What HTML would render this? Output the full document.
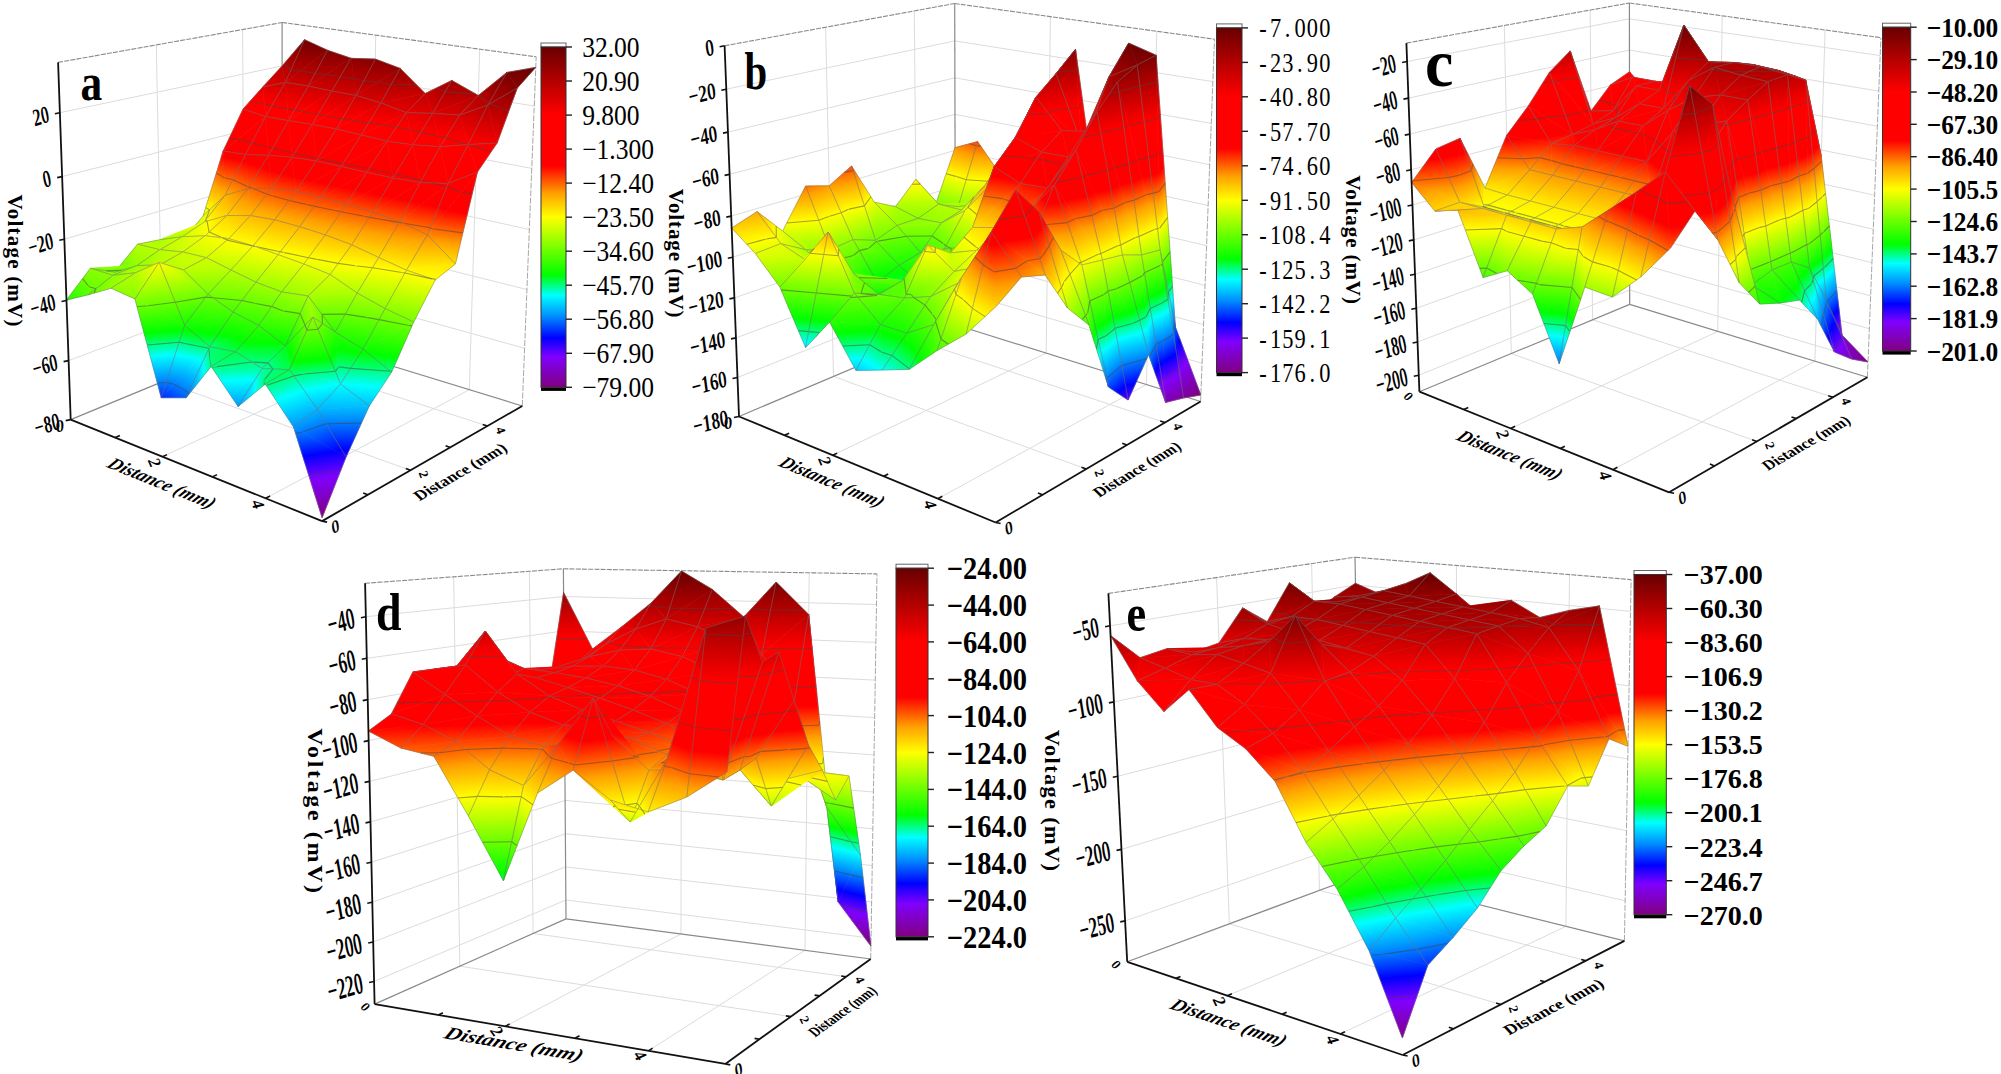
<!DOCTYPE html>
<html><head><meta charset="utf-8"><title>Voltage surface maps</title>
<style>html,body{margin:0;padding:0;background:#fff}svg{display:block}</style></head>
<body><svg width="2001" height="1074" viewBox="0 0 2001 1074">
<defs><linearGradient id="cm" gradientUnits="userSpaceOnUse" x1="0" y1="0" x2="0" y2="-1"><stop offset="0%" stop-color="#800080"/><stop offset="9%" stop-color="#8000ff"/><stop offset="14.5%" stop-color="#0000ff"/><stop offset="21%" stop-color="#0090ff"/><stop offset="27%" stop-color="#00ffff"/><stop offset="33%" stop-color="#00ff00"/><stop offset="50%" stop-color="#ffff00"/><stop offset="57%" stop-color="#ffa000"/><stop offset="65%" stop-color="#ff0000"/><stop offset="80%" stop-color="#ff0000"/><stop offset="90%" stop-color="#b40000"/><stop offset="100%" stop-color="#680000"/></linearGradient>
<linearGradient id="g1" href="#cm" x1="91.1" y1="467.3" x2="296.2" y2="13.1"/>
<linearGradient id="g2" href="#cm" x1="73.2" y1="313.7" x2="318.5" y2="46"/>
<linearGradient id="g3" href="#cm" x1="229.2" y1="413.3" x2="294" y2="30.4"/>
<linearGradient id="g4" href="#cm" x1="254.7" y1="393.6" x2="290" y2="33.5"/>
<linearGradient id="g5" href="#cm" x1="254.6" y1="428.5" x2="316.7" y2="32.5"/>
<linearGradient id="g6" href="#cm" x1="272.1" y1="412.8" x2="313.9" y2="35"/>
<linearGradient id="g7" href="#cm" x1="275.4" y1="432.8" x2="341" y2="36.2"/>
<linearGradient id="g8" href="#cm" x1="295.8" y1="434.8" x2="365.9" y2="40.5"/>
<linearGradient id="g9" href="#cm" x1="308.1" y1="442.3" x2="363.9" y2="39.3"/>
<linearGradient id="g10" href="#cm" x1="321" y1="429.5" x2="361.8" y2="41.4"/>
<linearGradient id="g11" href="#cm" x1="349.7" y1="510.6" x2="386.4" y2="31.4"/>
<linearGradient id="g12" href="#cm" x1="374.8" y1="430.6" x2="382" y2="45.5"/>
<linearGradient id="g13" href="#cm" x1="284.8" y1="554.4" x2="430.5" y2="25.1"/>
<linearGradient id="g14" href="#cm" x1="257.7" y1="460.6" x2="464.4" y2="50.2"/>
<linearGradient id="g15" href="#cm" x1="325.3" y1="567.7" x2="452.2" y2="30.7"/>
<linearGradient id="g16" href="#cm" x1="409.3" y1="461.6" x2="436.9" y2="50"/>
<linearGradient id="g17" href="#cm" x1="75.5" y1="502.2" x2="525.2" y2="49.1"/>
<linearGradient id="g18" href="#cm" x1="196.7" y1="398.1" x2="521.5" y2="71.2"/>
<linearGradient id="g19" href="#cm" x1="285.6" y1="480.8" x2="511.2" y2="61.7"/>
<linearGradient id="g20" href="#cm" x1="315.9" y1="609.2" x2="526.2" y2="64.8"/>
<linearGradient id="g21" href="#cm" x1="199.8" y1="446.6" x2="255.3" y2="14.6"/>
<linearGradient id="g22" href="#cm" x1="170.8" y1="419.6" x2="293.8" y2="26.5"/>
<linearGradient id="g23" href="#cm" x1="207.2" y1="418.6" x2="283" y2="26.8"/>
<linearGradient id="g24" href="#cm" x1="236.8" y1="426.2" x2="303.9" y2="30.2"/>
<linearGradient id="g25" href="#cm" x1="226.8" y1="435.5" x2="306.9" y2="27.5"/>
<linearGradient id="g26" href="#cm" x1="240.8" y1="425.4" x2="302.7" y2="30.5"/>
<linearGradient id="g27" href="#cm" x1="251.5" y1="445" x2="330" y2="30.7"/>
<linearGradient id="g28" href="#cm" x1="260.5" y1="438.3" x2="327.3" y2="32.6"/>
<linearGradient id="g29" href="#cm" x1="279.2" y1="458.5" x2="353.2" y2="32.7"/>
<linearGradient id="g30" href="#cm" x1="293.3" y1="445.8" x2="349" y2="36.4"/>
<linearGradient id="g31" href="#cm" x1="303.3" y1="480.9" x2="378.6" y2="31.6"/>
<linearGradient id="g32" href="#cm" x1="324.6" y1="457.4" x2="372.3" y2="38.7"/>
<linearGradient id="g33" href="#cm" x1="313.8" y1="488.8" x2="409.2" y2="34.9"/>
<linearGradient id="g34" href="#cm" x1="333.3" y1="489.5" x2="437" y2="41.8"/>
<linearGradient id="g35" href="#cm" x1="333.6" y1="489.4" x2="436.9" y2="41.8"/>
<linearGradient id="g36" href="#cm" x1="366.3" y1="500.5" x2="461.2" y2="46.4"/>
<linearGradient id="g37" href="#cm" x1="335.6" y1="502.4" x2="469.9" y2="45.9"/>
<linearGradient id="g38" href="#cm" x1="342.4" y1="485.6" x2="499.7" y2="59.3"/>
<linearGradient id="g39" href="#cm" x1="381.5" y1="491" x2="489.9" y2="58"/>
<linearGradient id="g40" href="#cm" x1="383" y1="470.7" x2="522.3" y2="70.6"/>
<linearGradient id="g41" href="#cm" x1="163.2" y1="411.7" x2="253.5" y2="19"/>
<linearGradient id="g42" href="#cm" x1="184.6" y1="399.7" x2="242.7" y2="25.1"/>
<linearGradient id="g43" href="#cm" x1="175.2" y1="416.7" x2="280.5" y2="24.1"/>
<linearGradient id="g44" href="#cm" x1="214.6" y1="433" x2="293.8" y2="25"/>
<linearGradient id="g45" href="#cm" x1="198.1" y1="434.4" x2="301.5" y2="24.3"/>
<linearGradient id="g46" href="#cm" x1="234.6" y1="448.4" x2="318" y2="26.3"/>
<linearGradient id="g47" href="#cm" x1="225.8" y1="449.5" x2="321.9" y2="25.8"/>
<linearGradient id="g48" href="#cm" x1="259.5" y1="460.6" x2="341.5" y2="28.7"/>
<linearGradient id="g49" href="#cm" x1="252.9" y1="468.9" x2="344.4" y2="25.1"/>
<linearGradient id="g50" href="#cm" x1="264.7" y1="459.5" x2="339.2" y2="29.2"/>
<linearGradient id="g51" href="#cm" x1="279.2" y1="480.5" x2="368.7" y2="27.3"/>
<linearGradient id="g52" href="#cm" x1="289.6" y1="471.7" x2="364.1" y2="31.2"/>
<linearGradient id="g53" href="#cm" x1="301.6" y1="486.2" x2="396" y2="32.2"/>
<linearGradient id="g54" href="#cm" x1="327.3" y1="491.2" x2="422.6" y2="37.8"/>
<linearGradient id="g55" href="#cm" x1="322.9" y1="491.7" x2="424.5" y2="37.6"/>
<linearGradient id="g56" href="#cm" x1="347.4" y1="496" x2="452.3" y2="44.3"/>
<linearGradient id="g57" href="#cm" x1="335.3" y1="496.3" x2="457.6" y2="44.2"/>
<linearGradient id="g58" href="#cm" x1="358" y1="500" x2="485.4" y2="52.8"/>
<linearGradient id="g59" href="#cm" x1="304.6" y1="486.7" x2="507.5" y2="58.2"/>
<linearGradient id="g60" href="#cm" x1="356.7" y1="555.5" x2="516.3" y2="48.2"/>
<linearGradient id="g61" href="#cm" x1="117.4" y1="359.2" x2="297.6" y2="58.1"/>
<linearGradient id="g62" href="#cm" x1="174.3" y1="415.7" x2="265.2" y2="21"/>
<linearGradient id="g63" href="#cm" x1="127.6" y1="406.5" x2="302.2" y2="28.3"/>
<linearGradient id="g64" href="#cm" x1="173.2" y1="443.6" x2="298.6" y2="15.8"/>
<linearGradient id="g65" href="#cm" x1="161" y1="442.8" x2="306.9" y2="16.3"/>
<linearGradient id="g66" href="#cm" x1="197.7" y1="462.8" x2="318" y2="15.4"/>
<linearGradient id="g67" href="#cm" x1="197.9" y1="462.8" x2="317.9" y2="15.4"/>
<linearGradient id="g68" href="#cm" x1="229.9" y1="474.9" x2="336.1" y2="18.1"/>
<linearGradient id="g69" href="#cm" x1="230" y1="479.4" x2="336.1" y2="15.4"/>
<linearGradient id="g70" href="#cm" x1="237.7" y1="473.6" x2="331.3" y2="18.9"/>
<linearGradient id="g71" href="#cm" x1="260.3" y1="486.7" x2="357.7" y2="20.1"/>
<linearGradient id="g72" href="#cm" x1="264.3" y1="483.4" x2="355.2" y2="22.1"/>
<linearGradient id="g73" href="#cm" x1="289.5" y1="489.8" x2="381.6" y2="26.9"/>
<linearGradient id="g74" href="#cm" x1="286.5" y1="492.1" x2="383.5" y2="25.5"/>
<linearGradient id="g75" href="#cm" x1="320.7" y1="487.8" x2="405.6" y2="37"/>
<linearGradient id="g76" href="#cm" x1="308.8" y1="496.1" x2="413.3" y2="31.7"/>
<linearGradient id="g77" href="#cm" x1="354.9" y1="479.2" x2="429.3" y2="51.4"/>
<linearGradient id="g78" href="#cm" x1="326.1" y1="493.7" x2="448.4" y2="41.7"/>
<linearGradient id="g79" href="#cm" x1="395.3" y1="465.6" x2="450.3" y2="69.8"/>
<linearGradient id="g80" href="#cm" x1="332" y1="475.6" x2="495.7" y2="62.6"/>
<linearGradient id="g81" href="#cm" x1="116.9" y1="213.9" x2="273.1" y2="278.6"/>
<linearGradient id="g82" href="#cm" x1="129.8" y1="194.1" x2="279.8" y2="250.8"/>
<linearGradient id="g83" href="#cm" x1="22.4" y1="414.4" x2="389.5" y2="25.8"/>
<linearGradient id="g84" href="#cm" x1="31.1" y1="428.4" x2="398.3" y2="29.1"/>
<linearGradient id="g85" href="#cm" x1="116.1" y1="473.3" x2="323.9" y2="-10.2"/>
<linearGradient id="g86" href="#cm" x1="138.7" y1="485.2" x2="341.6" y2="-4.3"/>
<linearGradient id="g87" href="#cm" x1="173" y1="485.7" x2="313.6" y2="-4.8"/>
<linearGradient id="g88" href="#cm" x1="197.6" y1="493.3" x2="336.4" y2="1.4"/>
<linearGradient id="g89" href="#cm" x1="211.2" y1="492.3" x2="325.5" y2="2.2"/>
<linearGradient id="g90" href="#cm" x1="212.6" y1="491.1" x2="324.4" y2="3.1"/>
<linearGradient id="g91" href="#cm" x1="242.5" y1="498" x2="345.7" y2="8.2"/>
<linearGradient id="g92" href="#cm" x1="244" y1="496.7" x2="344.5" y2="9.2"/>
<linearGradient id="g93" href="#cm" x1="274.2" y1="501.9" x2="367.4" y2="15"/>
<linearGradient id="g94" href="#cm" x1="273.5" y1="502.5" x2="368" y2="14.5"/>
<linearGradient id="g95" href="#cm" x1="309.4" y1="502.4" x2="387.9" y2="24.2"/>
<linearGradient id="g96" href="#cm" x1="305.5" y1="506.2" x2="391.1" y2="21"/>
<linearGradient id="g97" href="#cm" x1="335.6" y1="514" x2="418.2" y2="22.6"/>
<linearGradient id="g98" href="#cm" x1="343.1" y1="505.9" x2="411.3" y2="30"/>
<linearGradient id="g99" href="#cm" x1="347.8" y1="711" x2="463.9" y2="-160.1"/>
<linearGradient id="g100" href="#cm" x1="404.6" y1="504" x2="408.4" y2="42"/>
<linearGradient id="g101" href="#cm" x1="-172" y1="172.7" x2="577.6" y2="323.9"/>
<linearGradient id="g102" href="#cm" x1="174.4" y1="323.3" x2="142.2" y2="134.7"/>
<linearGradient id="g103" href="#cm" x1="-285.4" y1="356" x2="708.1" y2="102.8"/>
<linearGradient id="g104" href="#cm" x1="-93.8" y1="291" x2="513.2" y2="178.9"/>
<linearGradient id="g105" href="#cm" x1="74.3" y1="539.2" x2="340" y2="-76.7"/>
<linearGradient id="g106" href="#cm" x1="76.5" y1="519.7" x2="379.6" y2="-39.5"/>
<linearGradient id="g107" href="#cm" x1="161.3" y1="518.1" x2="295.6" y2="-37.8"/>
<linearGradient id="g108" href="#cm" x1="173" y1="514.9" x2="333.1" y2="-22.8"/>
<linearGradient id="g109" href="#cm" x1="198.1" y1="505.7" x2="308" y2="-13.6"/>
<linearGradient id="g110" href="#cm" x1="191.9" y1="511.5" x2="314.2" y2="-19.4"/>
<linearGradient id="g111" href="#cm" x1="224" y1="512.3" x2="333.5" y2="-9.3"/>
<linearGradient id="g112" href="#cm" x1="225.7" y1="510.7" x2="331.8" y2="-7.7"/>
<linearGradient id="g113" href="#cm" x1="253.9" y1="520.5" x2="356.4" y2="-6.6"/>
<linearGradient id="g114" href="#cm" x1="258.2" y1="515.8" x2="351.8" y2="-1.7"/>
<linearGradient id="g115" href="#cm" x1="305.1" y1="506.9" x2="357.7" y2="19.5"/>
<linearGradient id="g116" href="#cm" x1="295.3" y1="521.6" x2="368.4" y2="3.4"/>
<linearGradient id="g117" href="#cm" x1="321.8" y1="512.4" x2="401.5" y2="19.6"/>
<linearGradient id="g118" href="#cm" x1="320.6" y1="513.6" x2="402.9" y2="18.1"/>
<linearGradient id="g119" href="#cm" x1="342.7" y1="516.2" x2="442.8" y2="25.7"/>
<linearGradient id="g120" href="#cm" x1="339.1" y1="518.9" x2="447.7" y2="22.1"/>
<linearGradient id="g121" href="#cm" x1="194.5" y1="-177.6" x2="68.1" y2="757.7"/>
<linearGradient id="g122" href="#cm" x1="-42.4" y1="91.2" x2="403.6" y2="440.5"/>
<linearGradient id="g123" href="#cm" x1="-419.4" y1="606.8" x2="857.9" y2="-180.8"/>
<linearGradient id="g124" href="#cm" x1="-248.7" y1="418.4" x2="677.9" y2="61.2"/>
<linearGradient id="g125" href="#cm" x1="55.1" y1="622.7" x2="329.3" y2="-173.3"/>
<linearGradient id="g126" href="#cm" x1="42.1" y1="589.7" x2="392.9" y2="-119"/>
<linearGradient id="g127" href="#cm" x1="172.6" y1="516.7" x2="244.9" y2="-36.1"/>
<linearGradient id="g128" href="#cm" x1="133.6" y1="573" x2="289.1" y2="-100"/>
<linearGradient id="g129" href="#cm" x1="192.1" y1="512.6" x2="277.9" y2="-23.8"/>
<linearGradient id="g130" href="#cm" x1="179.7" y1="528.2" x2="292.8" y2="-42.7"/>
<linearGradient id="g131" href="#cm" x1="202" y1="525.9" x2="325.3" y2="-31.3"/>
<linearGradient id="g132" href="#cm" x1="207.4" y1="520.4" x2="318.3" y2="-24.2"/>
<linearGradient id="g133" href="#cm" x1="136.1" y1="598.5" x2="474.1" y2="-113.7"/>
<linearGradient id="g134" href="#cm" x1="237.5" y1="529.3" x2="340" y2="-22.2"/>
<linearGradient id="g135" href="#cm" x1="310.9" y1="499.6" x2="304.6" y2="37.1"/>
<linearGradient id="g136" href="#cm" x1="308.6" y1="554" x2="307.5" y2="-32.1"/>
<linearGradient id="g137" href="#cm" x1="304.9" y1="512.9" x2="388.5" y2="12.5"/>
<linearGradient id="g138" href="#cm" x1="306.6" y1="511.3" x2="385.7" y2="15.5"/>
<linearGradient id="g139" href="#cm" x1="339.8" y1="509.3" x2="408.8" y2="34.5"/>
<linearGradient id="g140" href="#cm" x1="329.4" y1="518.7" x2="429.1" y2="16"/>
<linearGradient id="g141" href="#cm" x1="-62.1" y1="390.3" x2="393.6" y2="86"/>
<linearGradient id="g142" href="#cm" x1="9.1" y1="628.3" x2="307.4" y2="-218.7"/>
<linearGradient id="g143" href="#cm" x1="-295" y1="372.9" x2="713.2" y2="122.3"/>
<linearGradient id="g144" href="#cm" x1="-525.9" y1="556.8" x2="998.4" y2="-91.8"/>
<linearGradient id="g145" href="#cm" x1="-201.7" y1="822.2" x2="601.8" y2="-416.5"/>
<linearGradient id="g146" href="#cm" x1="-118.8" y1="941.2" x2="544.1" y2="-531.8"/>
<linearGradient id="g147" href="#cm" x1="191.3" y1="499.6" x2="173.9" y2="-4.5"/>
<linearGradient id="g148" href="#cm" x1="206.5" y1="654.9" x2="155.8" y2="-189.9"/>
<linearGradient id="g149" href="#cm" x1="188.2" y1="504.9" x2="237" y2="-14.2"/>
<linearGradient id="g150" href="#cm" x1="175.9" y1="528.7" x2="255.1" y2="-49.2"/>
<linearGradient id="g151" href="#cm" x1="195.4" y1="509.1" x2="295.8" y2="-14.6"/>
<linearGradient id="g152" href="#cm" x1="187.1" y1="517" x2="309.5" y2="-27.7"/>
<linearGradient id="g153" href="#cm" x1="232.3" y1="490.7" x2="306.2" y2="32.5"/>
<linearGradient id="g154" href="#cm" x1="187.4" y1="516" x2="385.7" y2="-12.3"/>
<linearGradient id="g155" href="#cm" x1="178.9" y1="391.4" x2="505.5" y2="252.2"/>
<linearGradient id="g156" href="#cm" x1="449" y1="309.4" x2="131.7" y2="327.1"/>
<linearGradient id="g157" href="#cm" x1="446.5" y1="422.7" x2="135" y2="176.4"/>
<linearGradient id="g158" href="#cm" x1="321.5" y1="532.4" x2="392" y2="-17.6"/>
<linearGradient id="g159" href="#cm" x1="327.1" y1="536.7" x2="376.9" y2="-29.2"/>
<linearGradient id="g160" href="#cm" x1="330.2" y1="528.9" x2="368.3" y2="-8.3"/>
<linearGradient id="g161" href="#cm" x1="-174.5" y1="1360.8" x2="451.6" y2="-1220.9"/>
<linearGradient id="g162" href="#cm" x1="93" y1="328" x2="86.9" y2="186.9"/>
<linearGradient id="g163" href="#cm" x1="63.5" y1="172.4" x2="180.3" y2="416"/>
<linearGradient id="g164" href="#cm" x1="96.4" y1="146.3" x2="183.7" y2="427"/>
<linearGradient id="g165" href="#cm" x1="139.1" y1="357.7" x2="131.6" y2="169.1"/>
<linearGradient id="g166" href="#cm" x1="-69.4" y1="-504.4" x2="385.9" y2="1220.5"/>
<linearGradient id="g167" href="#cm" x1="194.1" y1="468.8" x2="124.2" y2="56.3"/>
<linearGradient id="g168" href="#cm" x1="437.4" y1="308.5" x2="-118.7" y2="216.3"/>
<linearGradient id="g169" href="#cm" x1="169.8" y1="497.8" x2="213.1" y2="-6.5"/>
<linearGradient id="g170" href="#cm" x1="167.6" y1="502.2" x2="217.1" y2="-15.1"/>
<linearGradient id="g171" href="#cm" x1="112.1" y1="543.5" x2="433.5" y2="-103.7"/>
<linearGradient id="g172" href="#cm" x1="179.2" y1="505.8" x2="279.7" y2="-17.4"/>
<linearGradient id="g173" href="#cm" x1="223.6" y1="566.3" x2="261.4" y2="-117.7"/>
<linearGradient id="g174" href="#cm" x1="230.6" y1="531.4" x2="246.1" y2="-41.2"/>
<linearGradient id="g175" href="#cm" x1="56.1" y1="546.1" x2="762.9" y2="-63.4"/>
<linearGradient id="g176" href="#cm" x1="187.5" y1="408.2" x2="513.3" y2="285.1"/>
<linearGradient id="g177" href="#cm" x1="318.6" y1="534.5" x2="225.2" y2="7.5"/>
<linearGradient id="g178" href="#cm" x1="301.1" y1="504.9" x2="263.7" y2="72.7"/>
<linearGradient id="g179" href="#cm" x1="319.5" y1="519" x2="310.4" y2="43.6"/>
<linearGradient id="g180" href="#cm" x1="317.8" y1="558.4" x2="316.2" y2="-87.9"/>
<linearGradient id="g181" href="#cm" x1="-83.2" y1="423.2" x2="341" y2="74"/>
<linearGradient id="g182" href="#cm" x1="3.5" y1="585.6" x2="221.4" y2="-160.5"/>
<linearGradient id="g183" href="#cm" x1="-77.8" y1="225.6" x2="348.6" y2="402.9"/>
<linearGradient id="g184" href="#cm" x1="-138.4" y1="147.4" x2="442.2" y2="475"/>
<linearGradient id="g185" href="#cm" x1="72" y1="658.5" x2="163" y2="-203"/>
<linearGradient id="g186" href="#cm" x1="-41.1" y1="417.9" x2="377.9" y2="135"/>
<linearGradient id="g187" href="#cm" x1="149.4" y1="462.3" x2="115.2" y2="73.7"/>
<linearGradient id="g188" href="#cm" x1="157.4" y1="471.8" x2="104.1" y2="60.7"/>
<linearGradient id="g189" href="#cm" x1="121.4" y1="465.3" x2="367.3" y2="48.9"/>
<linearGradient id="g190" href="#cm" x1="147.7" y1="464.6" x2="231.8" y2="52.4"/>
<linearGradient id="g191" href="#cm" x1="138.7" y1="403" x2="390.1" y2="374.7"/>
<linearGradient id="g192" href="#cm" x1="-404.5" y1="640.2" x2="1640.5" y2="-269.2"/>
<linearGradient id="g193" href="#cm" x1="218.8" y1="513.3" x2="193.6" y2="25.5"/>
<linearGradient id="g194" href="#cm" x1="246.7" y1="635.6" x2="128.8" y2="-258.4"/>
<linearGradient id="g195" href="#cm" x1="171.7" y1="404.9" x2="478.6" y2="412.1"/>
<linearGradient id="g196" href="#cm" x1="19.7" y1="187.5" x2="829.8" y2="835.6"/>
<linearGradient id="g197" href="#cm" x1="319.9" y1="545.3" x2="139.8" y2="13.3"/>
<linearGradient id="g198" href="#cm" x1="322.8" y1="546.7" x2="133.1" y2="10.1"/>
<linearGradient id="g199" href="#cm" x1="307.3" y1="520" x2="243.5" y2="86.5"/>
<linearGradient id="g200" href="#cm" x1="332.1" y1="535.7" x2="152.8" y2="29"/>
<linearGradient id="cba" href="#cm" x1="0" y1="387.3" x2="0" y2="47"/>
<linearGradient id="g201" href="#cm" x1="896.9" y1="345.7" x2="991.7" y2="0.8"/>
<linearGradient id="g202" href="#cm" x1="913.7" y1="348.2" x2="1019.8" y2="11.4"/>
<linearGradient id="g203" href="#cm" x1="859.6" y1="383.4" x2="1094.6" y2="-37.1"/>
<linearGradient id="g204" href="#cm" x1="948.3" y1="351.2" x2="972.1" y2="7.3"/>
<linearGradient id="g205" href="#cm" x1="977.8" y1="201" x2="985.5" y2="206"/>
<linearGradient id="g206" href="#cm" x1="1020.4" y1="204.4" x2="993.9" y2="142.9"/>
<linearGradient id="g207" href="#cm" x1="1046.4" y1="283.3" x2="974.8" y2="84.9"/>
<linearGradient id="g208" href="#cm" x1="1078.1" y1="274.4" x2="1011.2" y2="70.8"/>
<linearGradient id="g209" href="#cm" x1="1083.6" y1="297.7" x2="1009" y2="61.6"/>
<linearGradient id="g210" href="#cm" x1="1146" y1="255.5" x2="1045.5" y2="52.7"/>
<linearGradient id="g211" href="#cm" x1="1095.8" y1="407.2" x2="1051.3" y2="35.1"/>
<linearGradient id="g212" href="#cm" x1="1214.1" y1="230.5" x2="1025.9" y2="105.4"/>
<linearGradient id="g213" href="#cm" x1="1150.1" y1="220.7" x2="1052.4" y2="109.4"/>
<linearGradient id="g214" href="#cm" x1="1118.5" y1="357.3" x2="1065.4" y2="52.9"/>
<linearGradient id="g215" href="#cm" x1="951.3" y1="469.4" x2="1124.1" y2="39.3"/>
<linearGradient id="g216" href="#cm" x1="1179.9" y1="645.4" x2="1135.4" y2="40.3"/>
<linearGradient id="g217" href="#cm" x1="1220.1" y1="396.9" x2="1133.6" y2="50.9"/>
<linearGradient id="g218" href="#cm" x1="1239.8" y1="310.3" x2="1058.9" y2="173.3"/>
<linearGradient id="g219" href="#cm" x1="1194.4" y1="252.2" x2="1116.5" y2="247.2"/>
<linearGradient id="g220" href="#cm" x1="1187.8" y1="403.5" x2="957.6" y2="109.6"/>
<linearGradient id="g221" href="#cm" x1="902.2" y1="193.6" x2="928.7" y2="165.7"/>
<linearGradient id="g222" href="#cm" x1="938.6" y1="203.4" x2="938.3" y2="205.2"/>
<linearGradient id="g223" href="#cm" x1="939.5" y1="249.3" x2="937.3" y2="149"/>
<linearGradient id="g224" href="#cm" x1="985.8" y1="281.3" x2="931.9" y2="122.7"/>
<linearGradient id="g225" href="#cm" x1="1024.1" y1="255.7" x2="953.3" y2="125.8"/>
<linearGradient id="g226" href="#cm" x1="1026" y1="261.3" x2="951.8" y2="121.2"/>
<linearGradient id="g227" href="#cm" x1="1063.5" y1="230.2" x2="984.2" y2="109.5"/>
<linearGradient id="g228" href="#cm" x1="1073" y1="265.1" x2="979.6" y2="92.5"/>
<linearGradient id="g229" href="#cm" x1="1116.6" y1="237.3" x2="1020.8" y2="71"/>
<linearGradient id="g230" href="#cm" x1="1374.1" y1="222" x2="972.7" y2="73.8"/>
<linearGradient id="g231" href="#cm" x1="1082.3" y1="411.4" x2="1027.3" y2="38.4"/>
<linearGradient id="g232" href="#cm" x1="1046.7" y1="264.2" x2="1066.6" y2="88.2"/>
<linearGradient id="g233" href="#cm" x1="1011.8" y1="122.7" x2="1111.4" y2="134"/>
<linearGradient id="g234" href="#cm" x1="874" y1="268" x2="1152.2" y2="91"/>
<linearGradient id="g235" href="#cm" x1="540.1" y1="117.5" x2="1163.6" y2="79.2"/>
<linearGradient id="g236" href="#cm" x1="1252.9" y1="377.4" x2="1106.7" y2="58.4"/>
<linearGradient id="g237" href="#cm" x1="1196.8" y1="402.7" x2="1111.2" y2="56.4"/>
<linearGradient id="g238" href="#cm" x1="1206.8" y1="397.8" x2="1061.5" y2="80.1"/>
<linearGradient id="g239" href="#cm" x1="1172.1" y1="412.5" x2="996.5" y2="138.4"/>
<linearGradient id="g240" href="#cm" x1="892" y1="478.3" x2="899.8" y2="-132.5"/>
<linearGradient id="g241" href="#cm" x1="897.5" y1="385.9" x2="892.9" y2="-17"/>
<linearGradient id="g242" href="#cm" x1="784.2" y1="564.1" x2="1098.5" y2="-247.3"/>
<linearGradient id="g243" href="#cm" x1="844.7" y1="609.7" x2="1068.8" y2="-288"/>
<linearGradient id="g244" href="#cm" x1="924.5" y1="199.5" x2="963.4" y2="253.9"/>
<linearGradient id="g245" href="#cm" x1="927.5" y1="189.9" x2="1004.5" y2="232.4"/>
<linearGradient id="g246" href="#cm" x1="907.6" y1="184.5" x2="1025.3" y2="238.1"/>
<linearGradient id="g247" href="#cm" x1="915.6" y1="169.5" x2="1043" y2="197.6"/>
<linearGradient id="g248" href="#cm" x1="1002.2" y1="193.7" x2="980.6" y2="180.2"/>
<linearGradient id="g249" href="#cm" x1="1026" y1="143.3" x2="1011.6" y2="135.2"/>
<linearGradient id="g250" href="#cm" x1="1000.4" y1="509.8" x2="1020.5" y2="7.7"/>
<linearGradient id="g251" href="#cm" x1="1014.6" y1="433.6" x2="1015.6" y2="34.2"/>
<linearGradient id="g252" href="#cm" x1="950.1" y1="552.3" x2="1077.9" y2="-7.8"/>
<linearGradient id="g253" href="#cm" x1="952.4" y1="534.9" x2="1114.2" y2="7.5"/>
<linearGradient id="g254" href="#cm" x1="1117.4" y1="212.5" x2="1048.9" y2="135.1"/>
<linearGradient id="g255" href="#cm" x1="1148.7" y1="160.4" x2="1088.5" y2="104"/>
<linearGradient id="g256" href="#cm" x1="1237.1" y1="388.5" x2="1074" y2="66.4"/>
<linearGradient id="g257" href="#cm" x1="1167" y1="417.5" x2="1085.5" y2="61.6"/>
<linearGradient id="g258" href="#cm" x1="1207.3" y1="412.8" x2="1027.9" y2="79.4"/>
<linearGradient id="g259" href="#cm" x1="1188.5" y1="375.1" x2="997.2" y2="277.1"/>
<linearGradient id="g260" href="#cm" x1="1113.9" y1="339.1" x2="615.5" y2="54.1"/>
<linearGradient id="g261" href="#cm" x1="1029.8" y1="621" x2="718.4" y2="-307.4"/>
<linearGradient id="g262" href="#cm" x1="899.2" y1="405.2" x2="894.2" y2="-16.8"/>
<linearGradient id="g263" href="#cm" x1="567.4" y1="-757.5" x2="1341.3" y2="1549.7"/>
<linearGradient id="g264" href="#cm" x1="815.9" y1="408" x2="1105.8" y2="-22.4"/>
<linearGradient id="g265" href="#cm" x1="825.8" y1="375.7" x2="1127.9" y2="52.9"/>
<linearGradient id="g266" href="#cm" x1="867.7" y1="410.9" x2="1063" y2="-1.7"/>
<linearGradient id="g267" href="#cm" x1="868.4" y1="366.4" x2="1107.2" y2="81.2"/>
<linearGradient id="g268" href="#cm" x1="984.9" y1="254.1" x2="946.5" y2="236.2"/>
<linearGradient id="g269" href="#cm" x1="1048.4" y1="228.2" x2="968.2" y2="137"/>
<linearGradient id="g270" href="#cm" x1="969.2" y1="478.8" x2="1006.3" y2="16.4"/>
<linearGradient id="g271" href="#cm" x1="969.3" y1="478.6" x2="1006.2" y2="16.5"/>
<linearGradient id="g272" href="#cm" x1="940" y1="495.9" x2="1065" y2="10.4"/>
<linearGradient id="g273" href="#cm" x1="975.8" y1="509.6" x2="1086.3" y2="13.4"/>
<linearGradient id="g274" href="#cm" x1="1010.2" y1="168.8" x2="1067.6" y2="198.4"/>
<linearGradient id="g275" href="#cm" x1="1009.8" y1="127.7" x2="1095.5" y2="156.6"/>
<linearGradient id="g276" href="#cm" x1="1200.5" y1="420" x2="1038.9" y2="69.8"/>
<linearGradient id="g277" href="#cm" x1="1134.5" y1="434.7" x2="1058.5" y2="65.5"/>
<linearGradient id="g278" href="#cm" x1="1151.4" y1="435.7" x2="1050.1" y2="72.2"/>
<linearGradient id="g279" href="#cm" x1="1179.9" y1="428.4" x2="1019.6" y2="79.9"/>
<linearGradient id="g280" href="#cm" x1="1000.1" y1="271.9" x2="757.8" y2="99.2"/>
<linearGradient id="g281" href="#cm" x1="905.2" y1="433.4" x2="831.5" y2="-46.2"/>
<linearGradient id="g282" href="#cm" x1="919.3" y1="444" x2="810.6" y2="-62"/>
<linearGradient id="g283" href="#cm" x1="906.9" y1="427.5" x2="829" y2="-37.5"/>
<linearGradient id="g284" href="#cm" x1="885.5" y1="415.3" x2="924.7" y2="-18.4"/>
<linearGradient id="g285" href="#cm" x1="768.6" y1="151.8" x2="1146.2" y2="480.8"/>
<linearGradient id="g286" href="#cm" x1="836.8" y1="298.3" x2="1122.6" y2="259.9"/>
<linearGradient id="g287" href="#cm" x1="604.6" y1="240.2" x2="1468.7" y2="296.1"/>
<linearGradient id="g288" href="#cm" x1="976.1" y1="314.5" x2="903.7" y2="183"/>
<linearGradient id="g289" href="#cm" x1="996.7" y1="239.5" x2="950.4" y2="216.2"/>
<linearGradient id="g290" href="#cm" x1="890.6" y1="454.7" x2="1048.4" y2="17.3"/>
<linearGradient id="g291" href="#cm" x1="942" y1="436.7" x2="1000.9" y2="34"/>
<linearGradient id="g292" href="#cm" x1="854.4" y1="429.8" x2="1122.6" y2="54.3"/>
<linearGradient id="g293" href="#cm" x1="930.8" y1="558" x2="1090.1" y2="-18.6"/>
<linearGradient id="g294" href="#cm" x1="979.8" y1="184.4" x2="1057.1" y2="233"/>
<linearGradient id="g295" href="#cm" x1="975.5" y1="158.2" x2="1088.9" y2="196.8"/>
<linearGradient id="g296" href="#cm" x1="1179.1" y1="447.6" x2="999.4" y2="69.4"/>
<linearGradient id="g297" href="#cm" x1="1107.5" y1="452.6" x2="1030.9" y2="67.3"/>
<linearGradient id="g298" href="#cm" x1="1160.4" y1="437.9" x2="1001.2" y2="87.7"/>
<linearGradient id="g299" href="#cm" x1="1145.8" y1="431.3" x2="933.9" y2="179.7"/>
<linearGradient id="g300" href="#cm" x1="929.7" y1="395.9" x2="754.2" y2="29"/>
<linearGradient id="g301" href="#cm" x1="871.5" y1="392.6" x2="797.6" y2="31.5"/>
<linearGradient id="g302" href="#cm" x1="895" y1="419.6" x2="797" y2="-0.9"/>
<linearGradient id="g303" href="#cm" x1="1024.2" y1="433.2" x2="624.3" y2="-19.1"/>
<linearGradient id="g304" href="#cm" x1="892.5" y1="204.2" x2="844.1" y2="448"/>
<linearGradient id="g305" href="#cm" x1="896.1" y1="454.9" x2="836.3" y2="-86"/>
<linearGradient id="g306" href="#cm" x1="900.8" y1="271.7" x2="901" y2="321.9"/>
<linearGradient id="g307" href="#cm" x1="903.6" y1="274.7" x2="967.2" y2="315.8"/>
<linearGradient id="g308" href="#cm" x1="940.4" y1="303.8" x2="896.8" y2="260"/>
<linearGradient id="g309" href="#cm" x1="971.4" y1="274.7" x2="927" y2="228.1"/>
<linearGradient id="g310" href="#cm" x1="753.8" y1="496" x2="1173.1" y2="-22.1"/>
<linearGradient id="g311" href="#cm" x1="776.3" y1="563.2" x2="1179.7" y2="-66.4"/>
<linearGradient id="g312" href="#cm" x1="738.7" y1="543.6" x2="1217.7" y2="-46.6"/>
<linearGradient id="g313" href="#cm" x1="793.1" y1="410.4" x2="1197.9" y2="100.5"/>
<linearGradient id="g314" href="#cm" x1="823.9" y1="464.9" x2="1169.6" y2="50.3"/>
<linearGradient id="g315" href="#cm" x1="853.6" y1="391.7" x2="1167.5" y2="123.2"/>
<linearGradient id="g316" href="#cm" x1="1011.1" y1="300.8" x2="1047.8" y2="192.3"/>
<linearGradient id="g317" href="#cm" x1="1054.1" y1="470.9" x2="1015" y2="63"/>
<linearGradient id="g318" href="#cm" x1="1223.3" y1="399.4" x2="932.2" y2="132"/>
<linearGradient id="g319" href="#cm" x1="1143.4" y1="334" x2="999.4" y2="310.1"/>
<linearGradient id="g320" href="#cm" x1="886.2" y1="407" x2="750.3" y2="33.9"/>
<linearGradient id="g321" href="#cm" x1="879.6" y1="412.2" x2="761.7" y2="26"/>
<linearGradient id="g322" href="#cm" x1="887.2" y1="475.4" x2="751.1" y2="-61.2"/>
<linearGradient id="g323" href="#cm" x1="958" y1="398.4" x2="672.7" y2="61.2"/>
<linearGradient id="g324" href="#cm" x1="978.4" y1="211.2" x2="637.3" y2="386.8"/>
<linearGradient id="g325" href="#cm" x1="899.2" y1="-37.6" x2="835.3" y2="963.3"/>
<linearGradient id="g326" href="#cm" x1="882.1" y1="358.4" x2="870" y2="164.2"/>
<linearGradient id="g327" href="#cm" x1="862.5" y1="206.9" x2="909.5" y2="470"/>
<linearGradient id="g328" href="#cm" x1="919.1" y1="378.1" x2="876.9" y2="129.8"/>
<linearGradient id="g329" href="#cm" x1="919.5" y1="375.4" x2="876.1" y2="134"/>
<linearGradient id="g330" href="#cm" x1="1186.1" y1="249.8" x2="684.6" y2="240.5"/>
<linearGradient id="g331" href="#cm" x1="615.9" y1="475.9" x2="1348.7" y2="33.1"/>
<linearGradient id="g332" href="#cm" x1="609.2" y1="366.7" x2="1356.5" y2="160.4"/>
<linearGradient id="g333" href="#cm" x1="446.6" y1="414" x2="1522.3" y2="116.9"/>
<linearGradient id="g334" href="#cm" x1="964.1" y1="245.8" x2="998.6" y2="287.1"/>
<linearGradient id="g335" href="#cm" x1="1006.1" y1="239.1" x2="1011.9" y2="254.3"/>
<linearGradient id="g336" href="#cm" x1="1011.7" y1="423.7" x2="1007.6" y2="114"/>
<linearGradient id="g337" href="#cm" x1="1450.6" y1="1402" x2="673.9" y2="-629.9"/>
<linearGradient id="g338" href="#cm" x1="1219" y1="301.5" x2="954.9" y2="170.3"/>
<linearGradient id="g339" href="#cm" x1="1201.9" y1="411.1" x2="903.5" y2="182.2"/>
<linearGradient id="g340" href="#cm" x1="1106.2" y1="461.3" x2="432.3" y2="-18.5"/>
<linearGradient id="g341" href="#cm" x1="798.1" y1="413.5" x2="766.1" y2="33.2"/>
<linearGradient id="g342" href="#cm" x1="991.8" y1="471.8" x2="573.1" y2="-28.1"/>
<linearGradient id="g343" href="#cm" x1="995.1" y1="458.8" x2="572.3" y2="-11.5"/>
<linearGradient id="g344" href="#cm" x1="830.2" y1="286.1" x2="829.5" y2="258.1"/>
<linearGradient id="g345" href="#cm" x1="848.1" y1="281.8" x2="862.1" y2="262.8"/>
<linearGradient id="g346" href="#cm" x1="903.4" y1="546.6" x2="784.4" y2="-109.5"/>
<linearGradient id="g347" href="#cm" x1="851.2" y1="369.8" x2="857.8" y2="139"/>
<linearGradient id="g348" href="#cm" x1="203.6" y1="548.8" x2="1987.1" y2="-123"/>
<linearGradient id="g349" href="#cm" x1="809.7" y1="311.9" x2="1052.4" y2="276.6"/>
<linearGradient id="g350" href="#cm" x1="678.9" y1="497.9" x2="1256.6" y2="-13.7"/>
<linearGradient id="g351" href="#cm" x1="887.4" y1="469.9" x2="931.1" y2="30"/>
<linearGradient id="g352" href="#cm" x1="761.8" y1="263.9" x2="1166.6" y2="342"/>
<linearGradient id="g353" href="#cm" x1="700.1" y1="149.2" x2="1241.8" y2="430.9"/>
<linearGradient id="g354" href="#cm" x1="984.4" y1="399.5" x2="928.7" y2="155.2"/>
<linearGradient id="g355" href="#cm" x1="948.7" y1="271.1" x2="968" y2="296.5"/>
<linearGradient id="g356" href="#cm" x1="1009.1" y1="433.3" x2="970.5" y2="119"/>
<linearGradient id="g357" href="#cm" x1="1018.8" y1="390.5" x2="964" y2="147.8"/>
<linearGradient id="g358" href="#cm" x1="1235.5" y1="410.6" x2="946.4" y2="120.4"/>
<linearGradient id="g359" href="#cm" x1="1200" y1="372.9" x2="924.7" y2="198.8"/>
<linearGradient id="g360" href="#cm" x1="938.3" y1="211.5" x2="614.2" y2="211.7"/>
<linearGradient id="g361" href="#cm" x1="1059.7" y1="211.2" x2="485.7" y2="278.1"/>
<linearGradient id="g362" href="#cm" x1="935.2" y1="130.3" x2="617.5" y2="363.6"/>
<linearGradient id="g363" href="#cm" x1="918.1" y1="218.4" x2="672.1" y2="307.5"/>
<linearGradient id="g364" href="#cm" x1="800.8" y1="392.1" x2="809.4" y2="104.1"/>
<linearGradient id="g365" href="#cm" x1="794.2" y1="339.5" x2="817.2" y2="165.7"/>
<linearGradient id="g366" href="#cm" x1="937.1" y1="237.8" x2="742.1" y2="227.4"/>
<linearGradient id="g367" href="#cm" x1="1171.2" y1="393.6" x2="394.5" y2="147.5"/>
<linearGradient id="g368" href="#cm" x1="871.8" y1="503.1" x2="829.2" y2="-11.4"/>
<linearGradient id="g369" href="#cm" x1="857.3" y1="269" x2="850.3" y2="328.5"/>
<linearGradient id="g370" href="#cm" x1="806.8" y1="549.8" x2="1021.3" y2="-106.3"/>
<linearGradient id="g371" href="#cm" x1="794.5" y1="502.1" x2="1121.7" y2="10"/>
<linearGradient id="g372" href="#cm" x1="756.1" y1="453" x2="1195.2" y2="104"/>
<linearGradient id="g373" href="#cm" x1="771.2" y1="439.5" x2="1187.6" y2="145.2"/>
<linearGradient id="g374" href="#cm" x1="930.6" y1="322.8" x2="938.9" y2="327.4"/>
<linearGradient id="g375" href="#cm" x1="965.2" y1="279.9" x2="959" y2="275.1"/>
<linearGradient id="g376" href="#cm" x1="989.4" y1="303.2" x2="938.3" y2="255.1"/>
<linearGradient id="g377" href="#cm" x1="1015.4" y1="248.6" x2="979.7" y2="224"/>
<linearGradient id="g378" href="#cm" x1="1210.6" y1="558.3" x2="885.8" y2="75.1"/>
<linearGradient id="g379" href="#cm" x1="1035.9" y1="530.6" x2="969.8" y2="88.5"/>
<linearGradient id="g380" href="#cm" x1="813.7" y1="527.4" x2="660.2" y2="-33.3"/>
<linearGradient id="g381" href="#cm" x1="772.7" y1="482.1" x2="695.9" y2="6.2"/>
<linearGradient id="g382" href="#cm" x1="773" y1="482.5" x2="736.4" y2="6.3"/>
<linearGradient id="g383" href="#cm" x1="843.1" y1="640.6" x2="660.7" y2="-164.4"/>
<linearGradient id="g384" href="#cm" x1="765.8" y1="445.4" x2="800.4" y2="56.3"/>
<linearGradient id="g385" href="#cm" x1="786.2" y1="293.1" x2="770.7" y2="278.2"/>
<linearGradient id="g386" href="#cm" x1="799.1" y1="342.4" x2="824.2" y2="362.2"/>
<linearGradient id="g387" href="#cm" x1="796.8" y1="448.1" x2="830.7" y2="59"/>
<linearGradient id="g388" href="#cm" x1="837.3" y1="482.1" x2="815.4" y2="30.2"/>
<linearGradient id="g389" href="#cm" x1="840.5" y1="501.8" x2="809.6" y2="-5.6"/>
<linearGradient id="g390" href="#cm" x1="788.3" y1="479.8" x2="1065.1" y2="32.7"/>
<linearGradient id="g391" href="#cm" x1="832" y1="523.5" x2="1016.7" y2="-41.7"/>
<linearGradient id="g392" href="#cm" x1="780.4" y1="502.8" x2="1155.2" y2="13.6"/>
<linearGradient id="g393" href="#cm" x1="795.1" y1="481.6" x2="1176.5" y2="106.1"/>
<linearGradient id="g394" href="#cm" x1="788.2" y1="421.1" x2="1192.8" y2="247.9"/>
<linearGradient id="g395" href="#cm" x1="838.8" y1="380.7" x2="1101.5" y2="299.9"/>
<linearGradient id="g396" href="#cm" x1="839.7" y1="488.1" x2="1100" y2="120.3"/>
<linearGradient id="g397" href="#cm" x1="847" y1="456.5" x2="1117" y2="178.9"/>
<linearGradient id="g398" href="#cm" x1="864.7" y1="491.6" x2="1094.6" y2="134.6"/>
<linearGradient id="g399" href="#cm" x1="1040.9" y1="585.5" x2="958" y2="63.5"/>
<linearGradient id="cbb" href="#cm" x1="0" y1="372.6" x2="0" y2="27.9"/>
<linearGradient id="g400" href="#cm" x1="1286.3" y1="-29.5" x2="1723.9" y2="125.1"/>
<linearGradient id="g401" href="#cm" x1="1668.2" y1="51.9" x2="1622.5" y2="84.3"/>
<linearGradient id="g402" href="#cm" x1="1605.7" y1="227.4" x2="1640.2" y2="34.8"/>
<linearGradient id="g403" href="#cm" x1="1605.5" y1="226.5" x2="1640.2" y2="35.1"/>
<linearGradient id="g404" href="#cm" x1="1691.5" y1="-120.8" x2="1645.1" y2="138.2"/>
<linearGradient id="g405" href="#cm" x1="1653.7" y1="268.5" x2="1655.8" y2="28.5"/>
<linearGradient id="g406" href="#cm" x1="1714.8" y1="-116.6" x2="1668.4" y2="142.4"/>
<linearGradient id="g407" href="#cm" x1="1429.2" y1="104.6" x2="1779.6" y2="85.5"/>
<linearGradient id="g408" href="#cm" x1="1627.5" y1="50.5" x2="1723.7" y2="100.8"/>
<linearGradient id="g409" href="#cm" x1="1721" y1="148" x2="1728.6" y2="51.8"/>
<linearGradient id="g410" href="#cm" x1="1721.3" y1="153" x2="1728.5" y2="51.1"/>
<linearGradient id="g411" href="#cm" x1="1708.8" y1="187" x2="1758.8" y2="48.7"/>
<linearGradient id="g412" href="#cm" x1="1740.7" y1="122.3" x2="1754.6" y2="57.1"/>
<linearGradient id="g413" href="#cm" x1="1739.1" y1="270.9" x2="1754.8" y2="37.8"/>
<linearGradient id="g414" href="#cm" x1="1783.1" y1="59.6" x2="1778.5" y2="72.1"/>
<linearGradient id="g415" href="#cm" x1="1699.2" y1="197.1" x2="1822.5" y2="61.7"/>
<linearGradient id="g416" href="#cm" x1="1962" y1="248.4" x2="1781.1" y2="53.6"/>
<linearGradient id="g417" href="#cm" x1="1863.6" y1="336.4" x2="1681.7" y2="159.4"/>
<linearGradient id="g418" href="#cm" x1="1829.5" y1="298.8" x2="1813.6" y2="304.8"/>
<linearGradient id="g419" href="#cm" x1="1869" y1="358.7" x2="1460.3" y2="366.3"/>
<linearGradient id="g420" href="#cm" x1="1505.4" y1="389.3" x2="1633" y2="-25.8"/>
<linearGradient id="g421" href="#cm" x1="1499.4" y1="367.5" x2="1665.2" y2="-6.8"/>
<linearGradient id="g422" href="#cm" x1="1409" y1="186.6" x2="1706.6" y2="76"/>
<linearGradient id="g423" href="#cm" x1="1662.7" y1="325.4" x2="1658.3" y2="24.1"/>
<linearGradient id="g424" href="#cm" x1="1590.8" y1="249.3" x2="1684.3" y2="24.1"/>
<linearGradient id="g425" href="#cm" x1="1738.7" y1="267.9" x2="1705" y2="37.7"/>
<linearGradient id="g426" href="#cm" x1="1705.9" y1="112.7" x2="1708.8" y2="55.8"/>
<linearGradient id="g427" href="#cm" x1="1706" y1="111.2" x2="1708.8" y2="56"/>
<linearGradient id="g428" href="#cm" x1="1740.3" y1="24.2" x2="1733.5" y2="66.4"/>
<linearGradient id="g429" href="#cm" x1="1764.1" y1="50.6" x2="1760" y2="68.4"/>
<linearGradient id="g430" href="#cm" x1="1784.1" y1="-5.4" x2="1757.9" y2="74.2"/>
<linearGradient id="g431" href="#cm" x1="1804" y1="32.1" x2="1785.4" y2="79.6"/>
<linearGradient id="g432" href="#cm" x1="1876.8" y1="365.1" x2="1776.9" y2="40.7"/>
<linearGradient id="g433" href="#cm" x1="1867.5" y1="340.9" x2="1692.7" y2="121.2"/>
<linearGradient id="g434" href="#cm" x1="1871.3" y1="284.3" x2="1685.1" y2="235.2"/>
<linearGradient id="g435" href="#cm" x1="1860.5" y1="371.2" x2="1586.9" y2="168.8"/>
<linearGradient id="g436" href="#cm" x1="1629.6" y1="44.6" x2="1562.2" y2="51.8"/>
<linearGradient id="g437" href="#cm" x1="1252.5" y1="581.9" x2="1768.8" y2="-112.1"/>
<linearGradient id="g438" href="#cm" x1="1293.6" y1="-7.1" x2="1747.6" y2="191.8"/>
<linearGradient id="g439" href="#cm" x1="1443.4" y1="121.7" x2="1691.1" y2="115.5"/>
<linearGradient id="g440" href="#cm" x1="1421.4" y1="354.8" x2="1700.7" y2="13.9"/>
<linearGradient id="g441" href="#cm" x1="1551.6" y1="581" x2="1668" y2="-51.9"/>
<linearGradient id="g442" href="#cm" x1="1546.4" y1="584.6" x2="1669.7" y2="-53.1"/>
<linearGradient id="g443" href="#cm" x1="1498.3" y1="224.8" x2="1717.4" y2="70.5"/>
<linearGradient id="g444" href="#cm" x1="1698" y1="155.4" x2="1652.2" y2="93.2"/>
<linearGradient id="g445" href="#cm" x1="1646.8" y1="371.7" x2="1668.9" y2="22.6"/>
<linearGradient id="g446" href="#cm" x1="1251" y1="120.6" x2="1763.7" y2="73.6"/>
<linearGradient id="g447" href="#cm" x1="1573.3" y1="-504.8" x2="1729.1" y2="126.8"/>
<linearGradient id="g448" href="#cm" x1="1723.9" y1="787" x2="1713.5" y2="-7.6"/>
<linearGradient id="g449" href="#cm" x1="1756.6" y1="1229.5" x2="1739" y2="-59.7"/>
<linearGradient id="g450" href="#cm" x1="1750.6" y1="785.8" x2="1739.7" y2="-7.8"/>
<linearGradient id="g451" href="#cm" x1="1847.7" y1="383" x2="1758.1" y2="44.4"/>
<linearGradient id="g452" href="#cm" x1="1848.5" y1="367.8" x2="1696.1" y2="85.8"/>
<linearGradient id="g453" href="#cm" x1="1895.9" y1="366.5" x2="1617.1" y2="88.1"/>
<linearGradient id="g454" href="#cm" x1="1857.8" y1="328.3" x2="1679.9" y2="287.2"/>
<linearGradient id="g455" href="#cm" x1="1614.9" y1="361.5" x2="1535.7" y2="12.1"/>
<linearGradient id="g456" href="#cm" x1="1587.8" y1="351.8" x2="1541.4" y2="14.1"/>
<linearGradient id="g457" href="#cm" x1="1423.2" y1="-38.3" x2="1655" y2="230.1"/>
<linearGradient id="g458" href="#cm" x1="1426.6" y1="-23.5" x2="1676.4" y2="203.1"/>
<linearGradient id="g459" href="#cm" x1="1494.9" y1="17.5" x2="1643.6" y2="183.4"/>
<linearGradient id="g460" href="#cm" x1="1491.5" y1="37.9" x2="1669" y2="153.8"/>
<linearGradient id="g461" href="#cm" x1="1535" y1="529.5" x2="1651.8" y2="-40"/>
<linearGradient id="g462" href="#cm" x1="1541.4" y1="521.3" x2="1649.3" y2="-36.7"/>
<linearGradient id="g463" href="#cm" x1="1538.1" y1="51.7" x2="1684.4" y2="155.3"/>
<linearGradient id="g464" href="#cm" x1="1528.7" y1="78.4" x2="1707.3" y2="119.2"/>
<linearGradient id="g465" href="#cm" x1="1435.8" y1="416.8" x2="1733.5" y2="23.8"/>
<linearGradient id="g466" href="#cm" x1="1446" y1="428.6" x2="1743.7" y2="30.8"/>
<linearGradient id="g467" href="#cm" x1="1580.1" y1="475.2" x2="1716.8" y2="21.4"/>
<linearGradient id="g468" href="#cm" x1="1678.2" y1="533.5" x2="1727.7" y2="19.7"/>
<linearGradient id="g469" href="#cm" x1="1631.2" y1="589.8" x2="1735.8" y2="10.1"/>
<linearGradient id="g470" href="#cm" x1="1661.3" y1="544.4" x2="1730.6" y2="17.9"/>
<linearGradient id="g471" href="#cm" x1="1867.1" y1="370.8" x2="1727.2" y2="53.4"/>
<linearGradient id="g472" href="#cm" x1="1820.2" y1="390.5" x2="1735.3" y2="50.1"/>
<linearGradient id="g473" href="#cm" x1="1863.7" y1="469.9" x2="1620.3" y2="-60.9"/>
<linearGradient id="g474" href="#cm" x1="1878.5" y1="319.5" x2="1623.9" y2="256.7"/>
<linearGradient id="g475" href="#cm" x1="1593.4" y1="396.4" x2="1505.1" y2="2.3"/>
<linearGradient id="g476" href="#cm" x1="1551.3" y1="361.9" x2="1520.1" y2="14.6"/>
<linearGradient id="g477" href="#cm" x1="212.5" y1="346" x2="2325.7" y2="26.5"/>
<linearGradient id="g478" href="#cm" x1="1102" y1="216.9" x2="1835.2" y2="106"/>
<linearGradient id="g479" href="#cm" x1="1483.6" y1="548.5" x2="1624.2" y2="-77.4"/>
<linearGradient id="g480" href="#cm" x1="1407.6" y1="408" x2="1702.9" y2="8.5"/>
<linearGradient id="g481" href="#cm" x1="1532.1" y1="442.7" x2="1634" y2="-10.7"/>
<linearGradient id="g482" href="#cm" x1="1538.8" y1="437.7" x2="1630.3" y2="-7.9"/>
<linearGradient id="g483" href="#cm" x1="1556.4" y1="448.2" x2="1658.2" y2="-5.2"/>
<linearGradient id="g484" href="#cm" x1="1524.9" y1="394.3" x2="1714.3" y2="33.3"/>
<linearGradient id="g485" href="#cm" x1="1474" y1="331.6" x2="1742.5" y2="67.9"/>
<linearGradient id="g486" href="#cm" x1="1467.5" y1="428.6" x2="1741.6" y2="32.3"/>
<linearGradient id="g487" href="#cm" x1="1541.3" y1="462.7" x2="1716.8" y2="20.8"/>
<linearGradient id="g488" href="#cm" x1="1581.5" y1="494" x2="1732.6" y2="22.8"/>
<linearGradient id="g489" href="#cm" x1="1546.9" y1="490" x2="1742.3" y2="23.9"/>
<linearGradient id="g490" href="#cm" x1="1644" y1="580.2" x2="1746.1" y2="14"/>
<linearGradient id="g491" href="#cm" x1="1833.5" y1="390.4" x2="1702.1" y2="58"/>
<linearGradient id="g492" href="#cm" x1="1797.7" y1="402.6" x2="1710.4" y2="55.2"/>
<linearGradient id="g493" href="#cm" x1="1777.3" y1="535.5" x2="1706.6" y2="-163.9"/>
<linearGradient id="g494" href="#cm" x1="1919.2" y1="448.8" x2="1495.7" y2="5.2"/>
<linearGradient id="g495" href="#cm" x1="1523.8" y1="395.1" x2="1497.9" y2="2.7"/>
<linearGradient id="g496" href="#cm" x1="1520.2" y1="383.7" x2="1499.7" y2="8.5"/>
<linearGradient id="g497" href="#cm" x1="1463.5" y1="439.6" x2="1579.3" y2="-33.1"/>
<linearGradient id="g498" href="#cm" x1="1472.3" y1="435.9" x2="1613" y2="-20.5"/>
<linearGradient id="g499" href="#cm" x1="1489.1" y1="434.5" x2="1600.3" y2="-19.4"/>
<linearGradient id="g500" href="#cm" x1="1517.4" y1="442.9" x2="1620.4" y2="-15.6"/>
<linearGradient id="g501" href="#cm" x1="1510.9" y1="447.4" x2="1625.2" y2="-19"/>
<linearGradient id="g502" href="#cm" x1="1517.4" y1="442.9" x2="1620.4" y2="-15.6"/>
<linearGradient id="g503" href="#cm" x1="1534.3" y1="457.1" x2="1650.1" y2="-15.9"/>
<linearGradient id="g504" href="#cm" x1="1540.8" y1="452.5" x2="1645.2" y2="-12.5"/>
<linearGradient id="g505" href="#cm" x1="1559.2" y1="463.2" x2="1675" y2="-9.8"/>
<linearGradient id="g506" href="#cm" x1="1521.1" y1="371" x2="1748.7" y2="70.6"/>
<linearGradient id="g507" href="#cm" x1="1517.6" y1="365.3" x2="1751.3" y2="74.8"/>
<linearGradient id="g508" href="#cm" x1="1557.8" y1="468.6" x2="1732.5" y2="27.2"/>
<linearGradient id="g509" href="#cm" x1="1533.7" y1="460.4" x2="1743.5" y2="31"/>
<linearGradient id="g510" href="#cm" x1="1566.9" y1="493.7" x2="1756.9" y2="31.1"/>
<linearGradient id="g511" href="#cm" x1="1713.7" y1="467.6" x2="1701.9" y2="40.9"/>
<linearGradient id="g512" href="#cm" x1="1836.6" y1="238" x2="1670.7" y2="177.2"/>
<linearGradient id="g513" href="#cm" x1="1699" y1="214.4" x2="1753" y2="191.4"/>
<linearGradient id="g514" href="#cm" x1="2044.3" y1="250.2" x2="1238.5" y2="402.5"/>
<linearGradient id="g515" href="#cm" x1="1424.8" y1="446.2" x2="1541.5" y2="-53.7"/>
<linearGradient id="g516" href="#cm" x1="1477.7" y1="377.7" x2="1491.9" y2="10.5"/>
<linearGradient id="g517" href="#cm" x1="1439.3" y1="453.5" x2="1572" y2="-50.3"/>
<linearGradient id="g518" href="#cm" x1="1466.4" y1="461.9" x2="1591" y2="-46.5"/>
<linearGradient id="g519" href="#cm" x1="1460.4" y1="466.6" x2="1596.7" y2="-51"/>
<linearGradient id="g520" href="#cm" x1="1466.4" y1="461.9" x2="1591" y2="-46.5"/>
<linearGradient id="g521" href="#cm" x1="1484" y1="472.9" x2="1620.3" y2="-44.8"/>
<linearGradient id="g522" href="#cm" x1="1512.5" y1="481.9" x2="1640.5" y2="-40.9"/>
<linearGradient id="g523" href="#cm" x1="1506.3" y1="486.8" x2="1646.4" y2="-45.6"/>
<linearGradient id="g524" href="#cm" x1="1512.5" y1="481.9" x2="1640.5" y2="-40.9"/>
<linearGradient id="g525" href="#cm" x1="1531.2" y1="493.3" x2="1671.4" y2="-39"/>
<linearGradient id="g526" href="#cm" x1="1561.2" y1="503.1" x2="1693" y2="-35"/>
<linearGradient id="g527" href="#cm" x1="1572.4" y1="198" x2="1682.3" y2="254.5"/>
<linearGradient id="g528" href="#cm" x1="1583" y1="176.4" x2="1702.2" y2="216.6"/>
<linearGradient id="g529" href="#cm" x1="1413.8" y1="297.8" x2="1811.6" y2="138.1"/>
<linearGradient id="g530" href="#cm" x1="1244.8" y1="355.3" x2="1883.7" y2="98.7"/>
<linearGradient id="g531" href="#cm" x1="1682.9" y1="414" x2="1683.1" y2="71.8"/>
<linearGradient id="g532" href="#cm" x1="1725.7" y1="486.8" x2="1663.4" y2="38.4"/>
<linearGradient id="g533" href="#cm" x1="1872.5" y1="164.4" x2="1695.8" y2="97.7"/>
<linearGradient id="g534" href="#cm" x1="1844.5" y1="390.1" x2="1605.1" y2="145.7"/>
<linearGradient id="g535" href="#cm" x1="1601.4" y1="174.9" x2="1396.4" y2="121.8"/>
<linearGradient id="g536" href="#cm" x1="1403.5" y1="699.4" x2="1565.8" y2="-290.3"/>
<linearGradient id="g537" href="#cm" x1="1334.5" y1="752.7" x2="1635.5" y2="-344.1"/>
<linearGradient id="g538" href="#cm" x1="1362.8" y1="762" x2="1653.2" y2="-340.8"/>
<linearGradient id="g539" href="#cm" x1="1353.3" y1="774.2" x2="1662.7" y2="-353.2"/>
<linearGradient id="g540" href="#cm" x1="1362.8" y1="762" x2="1653.2" y2="-340.8"/>
<linearGradient id="g541" href="#cm" x1="1377" y1="780.7" x2="1686.4" y2="-346.7"/>
<linearGradient id="g542" href="#cm" x1="1406.6" y1="790.9" x2="1705.3" y2="-343.6"/>
<linearGradient id="g543" href="#cm" x1="1396.9" y1="803.5" x2="1715.2" y2="-356.3"/>
<linearGradient id="g544" href="#cm" x1="1406.6" y1="790.9" x2="1705.3" y2="-343.6"/>
<linearGradient id="g545" href="#cm" x1="1421.9" y1="810.4" x2="1740.2" y2="-349.4"/>
<linearGradient id="g546" href="#cm" x1="1453" y1="821.6" x2="1760.6" y2="-346.5"/>
<linearGradient id="g547" href="#cm" x1="1617.5" y1="261.2" x2="1594.4" y2="219.8"/>
<linearGradient id="g548" href="#cm" x1="1642.4" y1="233.2" x2="1625.1" y2="213.2"/>
<linearGradient id="g549" href="#cm" x1="1665.4" y1="203.6" x2="1657.4" y2="192.8"/>
<linearGradient id="g550" href="#cm" x1="1694.9" y1="416.6" x2="1642.2" y2="82.9"/>
<linearGradient id="g551" href="#cm" x1="1727.9" y1="355.9" x2="1625.2" y2="114.2"/>
<linearGradient id="g552" href="#cm" x1="1830" y1="443" x2="1685.4" y2="74.6"/>
<linearGradient id="g553" href="#cm" x1="1842.3" y1="383.9" x2="1628.2" y2="136"/>
<linearGradient id="g554" href="#cm" x1="1492" y1="415.3" x2="1408.8" y2="21.3"/>
<linearGradient id="g555" href="#cm" x1="1537.9" y1="389.3" x2="1391.7" y2="39.1"/>
<linearGradient id="g556" href="#cm" x1="1466.8" y1="176.8" x2="1453.7" y2="224.5"/>
<linearGradient id="g557" href="#cm" x1="1466.6" y1="177.5" x2="1453.9" y2="223.9"/>
<linearGradient id="g558" href="#cm" x1="1489.9" y1="183.2" x2="1476.8" y2="230.9"/>
<linearGradient id="g559" href="#cm" x1="1513.6" y1="189.7" x2="1500.6" y2="237.4"/>
<linearGradient id="g560" href="#cm" x1="1513.9" y1="189" x2="1500.4" y2="238"/>
<linearGradient id="g561" href="#cm" x1="1513.6" y1="189.7" x2="1500.6" y2="237.4"/>
<linearGradient id="g562" href="#cm" x1="1538.3" y1="195.7" x2="1524.8" y2="244.8"/>
<linearGradient id="g563" href="#cm" x1="1563.5" y1="202.7" x2="1550" y2="251.7"/>
<linearGradient id="g564" href="#cm" x1="1546.5" y1="323.9" x2="1564.8" y2="146"/>
<linearGradient id="g565" href="#cm" x1="1563.5" y1="202.7" x2="1550" y2="251.7"/>
<linearGradient id="g566" href="#cm" x1="1588.8" y1="358.4" x2="1576.9" y2="123.4"/>
<linearGradient id="g567" href="#cm" x1="1588.7" y1="360.2" x2="1576.9" y2="122.1"/>
<linearGradient id="g568" href="#cm" x1="1624.9" y1="344.6" x2="1599.2" y2="129.5"/>
<linearGradient id="g569" href="#cm" x1="1623.8" y1="368.1" x2="1599.8" y2="115.4"/>
<linearGradient id="g570" href="#cm" x1="1657.4" y1="347.5" x2="1627.3" y2="123.1"/>
<linearGradient id="g571" href="#cm" x1="1689.6" y1="180.9" x2="1657.9" y2="169.2"/>
<linearGradient id="g572" href="#cm" x1="1681.4" y1="161" x2="1660.5" y2="175.4"/>
<linearGradient id="g573" href="#cm" x1="1700.1" y1="477.4" x2="1654.7" y2="77.5"/>
<linearGradient id="g574" href="#cm" x1="1490.2" y1="476.2" x2="1358.4" y2="-16.6"/>
<linearGradient id="g575" href="#cm" x1="1432.9" y1="413.8" x2="1397.2" y2="25.7"/>
<linearGradient id="g576" href="#cm" x1="1434.8" y1="207.8" x2="1435.1" y2="213.8"/>
<linearGradient id="g577" href="#cm" x1="1466.1" y1="424.6" x2="1451.1" y2="36"/>
<linearGradient id="g578" href="#cm" x1="1522.1" y1="-23.2" x2="1405.7" y2="399.1"/>
<linearGradient id="g579" href="#cm" x1="1407.9" y1="415.6" x2="1608" y2="48.6"/>
<linearGradient id="g580" href="#cm" x1="1456.1" y1="456.1" x2="1578.3" y2="12.6"/>
<linearGradient id="g581" href="#cm" x1="1477.8" y1="446.2" x2="1548.1" y2="26.4"/>
<linearGradient id="g582" href="#cm" x1="1456.1" y1="456.1" x2="1578.3" y2="12.6"/>
<linearGradient id="g583" href="#cm" x1="1519.6" y1="437.1" x2="1554.3" y2="54.4"/>
<linearGradient id="g584" href="#cm" x1="1475.2" y1="445.3" x2="1628.6" y2="40.6"/>
<linearGradient id="g585" href="#cm" x1="1514.7" y1="395.4" x2="1736.9" y2="235.9"/>
<linearGradient id="g586" href="#cm" x1="1492.3" y1="447.6" x2="1702.9" y2="81.9"/>
<linearGradient id="g587" href="#cm" x1="1531.6" y1="469.3" x2="1652.6" y2="54.2"/>
<linearGradient id="g588" href="#cm" x1="1540.9" y1="460.3" x2="1705.2" y2="84.7"/>
<linearGradient id="g589" href="#cm" x1="1531.8" y1="453.3" x2="1717" y2="93.9"/>
<linearGradient id="g590" href="#cm" x1="1556.7" y1="474.8" x2="1721.3" y2="87.8"/>
<linearGradient id="g591" href="#cm" x1="1538.1" y1="459.6" x2="1739" y2="102.2"/>
<linearGradient id="g592" href="#cm" x1="1688.7" y1="545.4" x2="1658.8" y2="56.4"/>
<linearGradient id="cbc" href="#cm" x1="0" y1="351" x2="0" y2="27.2"/>
<linearGradient id="g593" href="#cm" x1="593.6" y1="778.1" x2="522" y2="649.7"/>
<linearGradient id="g594" href="#cm" x1="550.6" y1="922" x2="546.3" y2="568.5"/>
<linearGradient id="g595" href="#cm" x1="175.8" y1="781.8" x2="719.9" y2="621.5"/>
<linearGradient id="g596" href="#cm" x1="253" y1="899.5" x2="696.3" y2="578.5"/>
<linearGradient id="g597" href="#cm" x1="501" y1="1024.7" x2="632.6" y2="546.3"/>
<linearGradient id="g598" href="#cm" x1="544.4" y1="982.1" x2="652.9" y2="562.2"/>
<linearGradient id="g599" href="#cm" x1="609.1" y1="968.7" x2="640.7" y2="564.8"/>
<linearGradient id="g600" href="#cm" x1="626.7" y1="953.8" x2="672.2" y2="569.6"/>
<linearGradient id="g601" href="#cm" x1="659.8" y1="957.2" x2="667.3" y2="569.1"/>
<linearGradient id="g602" href="#cm" x1="667.3" y1="945.9" x2="666.2" y2="570.8"/>
<linearGradient id="g603" href="#cm" x1="700" y1="971.5" x2="697.2" y2="567.4"/>
<linearGradient id="g604" href="#cm" x1="703.5" y1="953" x2="696.6" y2="570.6"/>
<linearGradient id="g605" href="#cm" x1="726.6" y1="974.2" x2="730.1" y2="566.5"/>
<linearGradient id="g606" href="#cm" x1="733.1" y1="958.3" x2="769.7" y2="571.2"/>
<linearGradient id="g607" href="#cm" x1="761.3" y1="957.9" x2="762" y2="571.3"/>
<linearGradient id="g608" href="#cm" x1="763.8" y1="955" x2="761.3" y2="572.1"/>
<linearGradient id="g609" href="#cm" x1="801.2" y1="956.6" x2="791.2" y2="572"/>
<linearGradient id="g610" href="#cm" x1="856.5" y1="810.5" x2="779.9" y2="802.3"/>
<linearGradient id="g611" href="#cm" x1="797.7" y1="928.5" x2="873.4" y2="614.7"/>
<linearGradient id="g612" href="#cm" x1="841.4" y1="938.8" x2="912.6" y2="624.9"/>
<linearGradient id="g613" href="#cm" x1="545.7" y1="773.8" x2="524.3" y2="634.1"/>
<linearGradient id="g614" href="#cm" x1="542.7" y1="898.7" x2="525.5" y2="583.1"/>
<linearGradient id="g615" href="#cm" x1="577.5" y1="781.8" x2="553.2" y2="625.1"/>
<linearGradient id="g616" href="#cm" x1="489.3" y1="573.9" x2="619.5" y2="681.7"/>
<linearGradient id="g617" href="#cm" x1="508.3" y1="1080.5" x2="613.8" y2="528.7"/>
<linearGradient id="g618" href="#cm" x1="536.7" y1="1013.2" x2="641.8" y2="553.5"/>
<linearGradient id="g619" href="#cm" x1="600.7" y1="988.5" x2="624.7" y2="560"/>
<linearGradient id="g620" href="#cm" x1="620.9" y1="979.4" x2="658.3" y2="564.5"/>
<linearGradient id="g621" href="#cm" x1="643.7" y1="975.6" x2="652.4" y2="565.5"/>
<linearGradient id="g622" href="#cm" x1="647.1" y1="969" x2="651.6" y2="567.2"/>
<linearGradient id="g623" href="#cm" x1="682.1" y1="980.3" x2="682.4" y2="565.1"/>
<linearGradient id="g624" href="#cm" x1="684.6" y1="971.8" x2="681.6" y2="567.5"/>
<linearGradient id="g625" href="#cm" x1="715.1" y1="977.4" x2="714.3" y2="566.1"/>
<linearGradient id="g626" href="#cm" x1="714" y1="980.5" x2="714.7" y2="565"/>
<linearGradient id="g627" href="#cm" x1="769.1" y1="988.6" x2="737.7" y2="561.1"/>
<linearGradient id="g628" href="#cm" x1="763.2" y1="970.4" x2="740.4" y2="569.1"/>
<linearGradient id="g629" href="#cm" x1="802" y1="984.6" x2="766.8" y2="560"/>
<linearGradient id="g630" href="#cm" x1="870.2" y1="771" x2="757.4" y2="772"/>
<linearGradient id="g631" href="#cm" x1="800.8" y1="927.2" x2="827.9" y2="613.3"/>
<linearGradient id="g632" href="#cm" x1="815.7" y1="936.9" x2="883.5" y2="609.4"/>
<linearGradient id="g633" href="#cm" x1="523" y1="731.6" x2="508.6" y2="654.9"/>
<linearGradient id="g634" href="#cm" x1="528" y1="777.1" x2="506.6" y2="636.5"/>
<linearGradient id="g635" href="#cm" x1="511.1" y1="515" x2="553.3" y2="724.6"/>
<linearGradient id="g636" href="#cm" x1="-182.5" y1="816.1" x2="823.8" y2="616.3"/>
<linearGradient id="g637" href="#cm" x1="535.8" y1="1117.2" x2="584.5" y2="516"/>
<linearGradient id="g638" href="#cm" x1="541.4" y1="1053.7" x2="623.2" y2="539.9"/>
<linearGradient id="g639" href="#cm" x1="592.8" y1="1017" x2="606.4" y2="551.9"/>
<linearGradient id="g640" href="#cm" x1="613.7" y1="1008.4" x2="641.5" y2="556"/>
<linearGradient id="g641" href="#cm" x1="631.3" y1="998.6" x2="635.5" y2="559.3"/>
<linearGradient id="g642" href="#cm" x1="632" y1="996.2" x2="635.3" y2="560.1"/>
<linearGradient id="g643" href="#cm" x1="670.7" y1="1001.2" x2="664.9" y2="558.7"/>
<linearGradient id="g644" href="#cm" x1="671.8" y1="993" x2="664.5" y2="561.8"/>
<linearGradient id="g645" href="#cm" x1="710.9" y1="1004.2" x2="694" y2="556.8"/>
<linearGradient id="g646" href="#cm" x1="710.6" y1="995.2" x2="694.1" y2="560.8"/>
<linearGradient id="g647" href="#cm" x1="768.2" y1="1018.3" x2="712.6" y2="547.1"/>
<linearGradient id="g648" href="#cm" x1="755.9" y1="992.5" x2="719.4" y2="561.4"/>
<linearGradient id="g649" href="#cm" x1="893.1" y1="1039.2" x2="673.1" y2="525.6"/>
<linearGradient id="g650" href="#cm" x1="809.3" y1="997.4" x2="734.6" y2="556.3"/>
<linearGradient id="g651" href="#cm" x1="817.7" y1="1018.8" x2="783.2" y2="531.5"/>
<linearGradient id="g652" href="#cm" x1="3697.4" y1="-485.3" x2="-2116.4" y2="2046.1"/>
<linearGradient id="g653" href="#cm" x1="463" y1="869.3" x2="502.7" y2="594.9"/>
<linearGradient id="g654" href="#cm" x1="536.1" y1="825" x2="520" y2="615.9"/>
<linearGradient id="g655" href="#cm" x1="535.4" y1="1184" x2="520.3" y2="495.1"/>
<linearGradient id="g656" href="#cm" x1="528.9" y1="783.1" x2="522.5" y2="630"/>
<linearGradient id="g657" href="#cm" x1="552.6" y1="1057.9" x2="555.4" y2="538.2"/>
<linearGradient id="g658" href="#cm" x1="453.3" y1="1408.1" x2="590" y2="416"/>
<linearGradient id="g659" href="#cm" x1="585.5" y1="1031.4" x2="586" y2="548.2"/>
<linearGradient id="g660" href="#cm" x1="579.5" y1="1064.1" x2="588.2" y2="536.2"/>
<linearGradient id="g661" href="#cm" x1="622.1" y1="1027.2" x2="615.9" y2="549.9"/>
<linearGradient id="g662" href="#cm" x1="622.3" y1="1026" x2="615.8" y2="550.4"/>
<linearGradient id="g663" href="#cm" x1="662.6" y1="1030.2" x2="644.6" y2="547.9"/>
<linearGradient id="g664" href="#cm" x1="662.3" y1="1018.5" x2="644.7" y2="553.1"/>
<linearGradient id="g665" href="#cm" x1="708.3" y1="1037.2" x2="670.3" y2="542.5"/>
<linearGradient id="g666" href="#cm" x1="704.2" y1="1018.6" x2="672.4" y2="552.1"/>
<linearGradient id="g667" href="#cm" x1="770.4" y1="1053.8" x2="683.5" y2="528.1"/>
<linearGradient id="g668" href="#cm" x1="750.6" y1="1019.8" x2="696" y2="549.4"/>
<linearGradient id="g669" href="#cm" x1="947.8" y1="1093.6" x2="597.1" y2="488.1"/>
<linearGradient id="g670" href="#cm" x1="806.2" y1="1028.1" x2="708.2" y2="539.5"/>
<linearGradient id="g671" href="#cm" x1="789.6" y1="793.8" x2="783.1" y2="764.5"/>
<linearGradient id="g672" href="#cm" x1="788.5" y1="923" x2="851.9" y2="636.6"/>
<linearGradient id="g673" href="#cm" x1="509.7" y1="1031" x2="464.8" y2="552.6"/>
<linearGradient id="g674" href="#cm" x1="519.3" y1="1055.1" x2="462" y2="545.6"/>
<linearGradient id="g675" href="#cm" x1="358.1" y1="1799.1" x2="558.7" y2="271.1"/>
<linearGradient id="g676" href="#cm" x1="506.6" y1="1121.3" x2="505" y2="516.3"/>
<linearGradient id="g677" href="#cm" x1="557.5" y1="1077.9" x2="528.8" y2="534.7"/>
<linearGradient id="g678" href="#cm" x1="579.8" y1="1245.2" x2="520.8" y2="474.8"/>
<linearGradient id="g679" href="#cm" x1="582" y1="1058.1" x2="562.4" y2="540.2"/>
<linearGradient id="g680" href="#cm" x1="583.2" y1="1088.8" x2="561.9" y2="528"/>
<linearGradient id="g681" href="#cm" x1="615.2" y1="1061.2" x2="593.6" y2="537.1"/>
<linearGradient id="g682" href="#cm" x1="614.9" y1="1055.1" x2="593.7" y2="539.8"/>
<linearGradient id="g683" href="#cm" x1="658.2" y1="1070.4" x2="620.7" y2="530.5"/>
<linearGradient id="g684" href="#cm" x1="654.7" y1="1048.6" x2="622.4" y2="541.4"/>
<linearGradient id="g685" href="#cm" x1="711.1" y1="1079.8" x2="641.5" y2="521.7"/>
<linearGradient id="g686" href="#cm" x1="700" y1="1050.1" x2="647.8" y2="538.5"/>
<linearGradient id="g687" href="#cm" x1="762.8" y1="1073.4" x2="659.6" y2="519.4"/>
<linearGradient id="g688" href="#cm" x1="749.9" y1="1054.2" x2="668.2" y2="532.3"/>
<linearGradient id="g689" href="#cm" x1="767.1" y1="1023.2" x2="709.9" y2="551"/>
<linearGradient id="g690" href="#cm" x1="793.4" y1="1063.1" x2="688.1" y2="517.9"/>
<linearGradient id="g691" href="#cm" x1="791.6" y1="965.9" x2="746.6" y2="612.3"/>
<linearGradient id="g692" href="#cm" x1="715.6" y1="1054.9" x2="838.7" y2="504.5"/>
<linearGradient id="g693" href="#cm" x1="462.1" y1="944.8" x2="452.9" y2="581.8"/>
<linearGradient id="g694" href="#cm" x1="488.2" y1="1031.4" x2="444.8" y2="554.9"/>
<linearGradient id="g695" href="#cm" x1="410.7" y1="877.1" x2="497.2" y2="591.7"/>
<linearGradient id="g696" href="#cm" x1="512.6" y1="794.2" x2="518.7" y2="635.2"/>
<linearGradient id="g697" href="#cm" x1="760.2" y1="1120.1" x2="438.2" y2="529.3"/>
<linearGradient id="g698" href="#cm" x1="580.6" y1="1102.4" x2="536.2" y2="524.7"/>
<linearGradient id="g699" href="#cm" x1="575.5" y1="1069.1" x2="538.3" y2="538.7"/>
<linearGradient id="g700" href="#cm" x1="581.5" y1="1099.3" x2="535.8" y2="526"/>
<linearGradient id="g701" href="#cm" x1="605.9" y1="1103.4" x2="570.5" y2="518.8"/>
<linearGradient id="g702" href="#cm" x1="602.8" y1="1075.9" x2="572" y2="532.1"/>
<linearGradient id="g703" href="#cm" x1="662.7" y1="1145.8" x2="590.2" y2="492.9"/>
<linearGradient id="g704" href="#cm" x1="646.5" y1="1083.1" x2="598.8" y2="526.6"/>
<linearGradient id="g705" href="#cm" x1="788" y1="1216" x2="567.4" y2="445.5"/>
<linearGradient id="g706" href="#cm" x1="705" y1="1095.4" x2="616.6" y2="517.2"/>
<linearGradient id="g707" href="#cm" x1="839.5" y1="1298" x2="580.3" y2="377"/>
<linearGradient id="g708" href="#cm" x1="881.2" y1="657.8" x2="601.5" y2="831.6"/>
<linearGradient id="g709" href="#cm" x1="715.5" y1="878.2" x2="723" y2="670"/>
<linearGradient id="g710" href="#cm" x1="707.8" y1="940.3" x2="790.7" y2="628"/>
<linearGradient id="g711" href="#cm" x1="770.6" y1="982.5" x2="745.9" y2="598"/>
<linearGradient id="g712" href="#cm" x1="771.4" y1="974.6" x2="745.3" y2="603.6"/>
<linearGradient id="g713" href="#cm" x1="441" y1="751.7" x2="432.4" y2="644.1"/>
<linearGradient id="g714" href="#cm" x1="195.4" y1="920" x2="540.3" y2="594.2"/>
<linearGradient id="g715" href="#cm" x1="489.9" y1="1020.3" x2="458.6" y2="566.4"/>
<linearGradient id="g716" href="#cm" x1="480.6" y1="989.3" x2="461.2" y2="575"/>
<linearGradient id="g717" href="#cm" x1="520.6" y1="1040.4" x2="488.5" y2="555.7"/>
<linearGradient id="g718" href="#cm" x1="516.9" y1="1022.7" x2="489.9" y2="562.6"/>
<linearGradient id="g719" href="#cm" x1="545" y1="1072" x2="522.9" y2="537.2"/>
<linearGradient id="g720" href="#cm" x1="544.1" y1="1049.6" x2="523.3" y2="548.1"/>
<linearGradient id="g721" href="#cm" x1="571" y1="1185.1" x2="559.1" y2="473.2"/>
<linearGradient id="g722" href="#cm" x1="574.4" y1="1075.4" x2="557.2" y2="533.3"/>
<linearGradient id="g723" href="#cm" x1="696.8" y1="1368.3" x2="540.2" y2="367.8"/>
<linearGradient id="g724" href="#cm" x1="630.5" y1="1124.8" x2="578.1" y2="506.7"/>
<linearGradient id="g725" href="#cm" x1="712.3" y1="1161.8" x2="583.1" y2="484"/>
<linearGradient id="g726" href="#cm" x1="724.5" y1="1182" x2="575.7" y2="471.9"/>
<linearGradient id="g727" href="#cm" x1="1226.2" y1="1752.5" x2="281.6" y2="66.9"/>
<linearGradient id="g728" href="#cm" x1="738.9" y1="1210.8" x2="617.4" y2="440.2"/>
<linearGradient id="g729" href="#cm" x1="712.8" y1="1206.8" x2="696" y2="440"/>
<linearGradient id="g730" href="#cm" x1="624.2" y1="276.4" x2="760.3" y2="1115.9"/>
<linearGradient id="g731" href="#cm" x1="760.5" y1="1001.1" x2="724.3" y2="594.7"/>
<linearGradient id="g732" href="#cm" x1="801.4" y1="897.9" x2="693.3" y2="673"/>
<linearGradient id="g733" href="#cm" x1="420" y1="1014.4" x2="410.8" y2="569.4"/>
<linearGradient id="g734" href="#cm" x1="410.7" y1="656.1" x2="413.6" y2="676.8"/>
<linearGradient id="g735" href="#cm" x1="456.9" y1="1028.9" x2="440" y2="562.8"/>
<linearGradient id="g736" href="#cm" x1="456.4" y1="1009.7" x2="440.2" y2="570.4"/>
<linearGradient id="g737" href="#cm" x1="488.8" y1="1038.5" x2="471.4" y2="556.3"/>
<linearGradient id="g738" href="#cm" x1="488.7" y1="1027.5" x2="471.4" y2="561.8"/>
<linearGradient id="g739" href="#cm" x1="508.6" y1="1065" x2="511.1" y2="538.5"/>
<linearGradient id="g740" href="#cm" x1="512.8" y1="1044.9" x2="508.6" y2="550.7"/>
<linearGradient id="g741" href="#cm" x1="466" y1="1108.6" x2="594.6" y2="510.4"/>
<linearGradient id="g742" href="#cm" x1="604.4" y1="1262.2" x2="562.2" y2="429.9"/>
<linearGradient id="g743" href="#cm" x1="580.9" y1="835.8" x2="576.2" y2="683"/>
<linearGradient id="g744" href="#cm" x1="613.1" y1="1234.7" x2="557.1" y2="446.2"/>
<linearGradient id="g745" href="#cm" x1="664.7" y1="1071.3" x2="584" y2="549.4"/>
<linearGradient id="g746" href="#cm" x1="1322.1" y1="748.4" x2="215.9" y2="730.2"/>
<linearGradient id="g747" href="#cm" x1="560.1" y1="443.8" x2="716.4" y2="1018.9"/>
<linearGradient id="g748" href="#cm" x1="650.8" y1="1137.2" x2="647.4" y2="491.1"/>
<linearGradient id="g749" href="#cm" x1="749.6" y1="1235.3" x2="639.2" y2="429.9"/>
<linearGradient id="g750" href="#cm" x1="1126.7" y1="1826.4" x2="366.3" y2="2.1"/>
<linearGradient id="g751" href="#cm" x1="793.2" y1="963" x2="667.7" y2="635.8"/>
<linearGradient id="g752" href="#cm" x1="841.3" y1="962.7" x2="746.6" y2="601.9"/>
<linearGradient id="g753" href="#cm" x1="384.2" y1="1035.2" x2="394.8" y2="558.7"/>
<linearGradient id="g754" href="#cm" x1="394.1" y1="1009.3" x2="390" y2="571.2"/>
<linearGradient id="g755" href="#cm" x1="429.2" y1="1044.7" x2="420.2" y2="554.8"/>
<linearGradient id="g756" href="#cm" x1="431.4" y1="1025.2" x2="419.1" y2="565.1"/>
<linearGradient id="g757" href="#cm" x1="466.9" y1="1033.9" x2="449.3" y2="560.5"/>
<linearGradient id="g758" href="#cm" x1="466.8" y1="1039.3" x2="449.4" y2="557.1"/>
<linearGradient id="g759" href="#cm" x1="484.1" y1="1040.5" x2="494" y2="553.1"/>
<linearGradient id="g760" href="#cm" x1="482.9" y1="1043.1" x2="495" y2="551"/>
<linearGradient id="g761" href="#cm" x1="326.4" y1="966.2" x2="702.5" y2="621.7"/>
<linearGradient id="g762" href="#cm" x1="545.3" y1="695.1" x2="565.5" y2="774.6"/>
<linearGradient id="g763" href="#cm" x1="571.4" y1="989.5" x2="550" y2="600"/>
<linearGradient id="g764" href="#cm" x1="495.5" y1="497.3" x2="594.9" y2="891.9"/>
<linearGradient id="g765" href="#cm" x1="643.2" y1="1032.5" x2="576" y2="582.3"/>
<linearGradient id="g766" href="#cm" x1="532.9" y1="926.4" x2="614.1" y2="619"/>
<linearGradient id="g767" href="#cm" x1="473.3" y1="962.8" x2="813" y2="657.8"/>
<linearGradient id="g768" href="#cm" x1="664" y1="913.8" x2="669.3" y2="661.8"/>
<linearGradient id="g769" href="#cm" x1="680.5" y1="1023.8" x2="658.9" y2="592.8"/>
<linearGradient id="g770" href="#cm" x1="648.5" y1="835.1" x2="679" y2="711.2"/>
<linearGradient id="g771" href="#cm" x1="703.1" y1="1013.5" x2="706.2" y2="591.3"/>
<linearGradient id="g772" href="#cm" x1="707.3" y1="1020.4" x2="705.8" y2="590.6"/>
<linearGradient id="g773" href="#cm" x1="376.8" y1="1055.9" x2="363.8" y2="551"/>
<linearGradient id="g774" href="#cm" x1="375.1" y1="1079.1" x2="364.8" y2="538.1"/>
<linearGradient id="g775" href="#cm" x1="404.8" y1="1133.7" x2="398.4" y2="499.5"/>
<linearGradient id="g776" href="#cm" x1="410.6" y1="1053.2" x2="394.7" y2="551.4"/>
<linearGradient id="g777" href="#cm" x1="456.5" y1="1029" x2="418.5" y2="570.4"/>
<linearGradient id="g778" href="#cm" x1="472.2" y1="1061.7" x2="407.8" y2="548.1"/>
<linearGradient id="g779" href="#cm" x1="472.4" y1="1022.4" x2="463.7" y2="572.8"/>
<linearGradient id="g780" href="#cm" x1="463.4" y1="1038.6" x2="474.3" y2="553.7"/>
<linearGradient id="g781" href="#cm" x1="426.4" y1="989.1" x2="671.8" y2="643.5"/>
<linearGradient id="g782" href="#cm" x1="374.5" y1="1010.2" x2="682.6" y2="599.6"/>
<linearGradient id="g783" href="#cm" x1="465.4" y1="1060.4" x2="601.7" y2="554.9"/>
<linearGradient id="g784" href="#cm" x1="480.5" y1="1040.2" x2="638" y2="581.7"/>
<linearGradient id="g785" href="#cm" x1="530.7" y1="852.2" x2="603" y2="712.7"/>
<linearGradient id="g786" href="#cm" x1="601.1" y1="1034.8" x2="553.9" y2="585.4"/>
<linearGradient id="g787" href="#cm" x1="585.3" y1="942.7" x2="632.8" y2="672.5"/>
<linearGradient id="g788" href="#cm" x1="466.1" y1="937.2" x2="823.8" y2="691.2"/>
<linearGradient id="g789" href="#cm" x1="599.5" y1="1075.9" x2="695.1" y2="557.4"/>
<linearGradient id="g790" href="#cm" x1="603.1" y1="1033.9" x2="755.4" y2="603.4"/>
<linearGradient id="g791" href="#cm" x1="659.2" y1="1053.4" x2="709.5" y2="587.4"/>
<linearGradient id="g792" href="#cm" x1="713.3" y1="1062.7" x2="735.3" y2="588"/>
<linearGradient id="cbd" href="#cm" x1="0" y1="936.8" x2="0" y2="568.2"/>
<linearGradient id="g793" href="#cm" x1="1330.7" y1="546.1" x2="1334.7" y2="601.6"/>
<linearGradient id="g794" href="#cm" x1="1339.8" y1="971.9" x2="1333.9" y2="563"/>
<linearGradient id="g795" href="#cm" x1="1368.9" y1="684.3" x2="1357.9" y2="589.1"/>
<linearGradient id="g796" href="#cm" x1="1402.5" y1="657.4" x2="1382.6" y2="587.4"/>
<linearGradient id="g797" href="#cm" x1="1393.8" y1="1223" x2="1383.1" y2="559.3"/>
<linearGradient id="g798" href="#cm" x1="1215.6" y1="1015.8" x2="1420.8" y2="571.1"/>
<linearGradient id="g799" href="#cm" x1="1416.6" y1="1226.3" x2="1408.9" y2="558.7"/>
<linearGradient id="g800" href="#cm" x1="1418" y1="948.4" x2="1408.8" y2="575.1"/>
<linearGradient id="g801" href="#cm" x1="1440.8" y1="1232.5" x2="1435.4" y2="557.9"/>
<linearGradient id="g802" href="#cm" x1="1925.9" y1="762.3" x2="1426.5" y2="594.7"/>
<linearGradient id="g803" href="#cm" x1="1443.1" y1="1104.8" x2="1464.5" y2="567.8"/>
<linearGradient id="g804" href="#cm" x1="1475.2" y1="844.6" x2="1461.9" y2="588.2"/>
<linearGradient id="g805" href="#cm" x1="2056.1" y1="-302.7" x2="1440.6" y2="693.9"/>
<linearGradient id="g806" href="#cm" x1="1519.1" y1="1020.2" x2="1488.3" y2="576.5"/>
<linearGradient id="g807" href="#cm" x1="2928.9" y1="1377.7" x2="1379.9" y2="543.4"/>
<linearGradient id="g808" href="#cm" x1="1281.9" y1="1153" x2="1581" y2="564.4"/>
<linearGradient id="g809" href="#cm" x1="1546.9" y1="961.9" x2="1549.2" y2="587.4"/>
<linearGradient id="g810" href="#cm" x1="1396.3" y1="1140.6" x2="1567.3" y2="565.9"/>
<linearGradient id="g811" href="#cm" x1="1743.8" y1="934.6" x2="1531.4" y2="595.4"/>
<linearGradient id="g812" href="#cm" x1="1610.6" y1="947.3" x2="1569.7" y2="591.8"/>
<linearGradient id="g813" href="#cm" x1="830.8" y1="601.1" x2="1379.6" y2="614.5"/>
<linearGradient id="g814" href="#cm" x1="749.1" y1="-243.4" x2="1386.8" y2="673.5"/>
<linearGradient id="g815" href="#cm" x1="1296.1" y1="474.5" x2="1340.4" y2="612.6"/>
<linearGradient id="g816" href="#cm" x1="1312.5" y1="462.6" x2="1364.8" y2="605.2"/>
<linearGradient id="g817" href="#cm" x1="1380.1" y1="1273.2" x2="1360.8" y2="557.3"/>
<linearGradient id="g818" href="#cm" x1="1379.6" y1="1254.2" x2="1360.9" y2="558.4"/>
<linearGradient id="g819" href="#cm" x1="1406.5" y1="1291.4" x2="1386.5" y2="555.3"/>
<linearGradient id="g820" href="#cm" x1="1405.9" y1="1271.8" x2="1386.5" y2="556.6"/>
<linearGradient id="g821" href="#cm" x1="1433.6" y1="1310.2" x2="1412.8" y2="553"/>
<linearGradient id="g822" href="#cm" x1="1433" y1="1290" x2="1412.8" y2="554.6"/>
<linearGradient id="g823" href="#cm" x1="1461.4" y1="1329.6" x2="1439.8" y2="550.5"/>
<linearGradient id="g824" href="#cm" x1="1460.9" y1="1308.8" x2="1439.9" y2="552.4"/>
<linearGradient id="g825" href="#cm" x1="1490.1" y1="1349.8" x2="1467.6" y2="547.7"/>
<linearGradient id="g826" href="#cm" x1="1489.5" y1="1328.2" x2="1467.7" y2="549.8"/>
<linearGradient id="g827" href="#cm" x1="1513.4" y1="998.7" x2="1496.8" y2="585.2"/>
<linearGradient id="g828" href="#cm" x1="1548.2" y1="1223.7" x2="1493" y2="560.6"/>
<linearGradient id="g829" href="#cm" x1="1552.4" y1="975.2" x2="1523.2" y2="588.6"/>
<linearGradient id="g830" href="#cm" x1="1556.3" y1="982.4" x2="1522.4" y2="587.1"/>
<linearGradient id="g831" href="#cm" x1="1584.1" y1="972" x2="1545.5" y2="587.3"/>
<linearGradient id="g832" href="#cm" x1="1582.4" y1="969.8" x2="1546.3" y2="588.3"/>
<linearGradient id="g833" href="#cm" x1="1228.6" y1="771.4" x2="1290.3" y2="579.9"/>
<linearGradient id="g834" href="#cm" x1="1332.8" y1="786.6" x2="1313.1" y2="588.6"/>
<linearGradient id="g835" href="#cm" x1="1206.9" y1="1591.1" x2="1321.8" y2="533.1"/>
<linearGradient id="g836" href="#cm" x1="1322.2" y1="729.3" x2="1313.8" y2="592.5"/>
<linearGradient id="g837" href="#cm" x1="1358.3" y1="1294.1" x2="1338.3" y2="556.5"/>
<linearGradient id="g838" href="#cm" x1="1357.8" y1="1274.5" x2="1338.3" y2="557.9"/>
<linearGradient id="g839" href="#cm" x1="1384.8" y1="1313" x2="1364" y2="554.3"/>
<linearGradient id="g840" href="#cm" x1="1384.3" y1="1292.8" x2="1364.1" y2="555.9"/>
<linearGradient id="g841" href="#cm" x1="1412.1" y1="1332.5" x2="1390.4" y2="551.7"/>
<linearGradient id="g842" href="#cm" x1="1411.5" y1="1311.6" x2="1390.5" y2="553.6"/>
<linearGradient id="g843" href="#cm" x1="1440.1" y1="1352.7" x2="1417.6" y2="548.9"/>
<linearGradient id="g844" href="#cm" x1="1439.5" y1="1331.1" x2="1417.6" y2="551"/>
<linearGradient id="g845" href="#cm" x1="1468.9" y1="1373.6" x2="1445.5" y2="545.7"/>
<linearGradient id="g846" href="#cm" x1="1468.3" y1="1351.3" x2="1445.6" y2="548.2"/>
<linearGradient id="g847" href="#cm" x1="1508.6" y1="989.2" x2="1473" y2="591"/>
<linearGradient id="g848" href="#cm" x1="1546.2" y1="1041.7" x2="1468.5" y2="584.7"/>
<linearGradient id="g849" href="#cm" x1="1549.7" y1="992.1" x2="1493.3" y2="587.2"/>
<linearGradient id="g850" href="#cm" x1="1539.1" y1="981.1" x2="1496.5" y2="590.6"/>
<linearGradient id="g851" href="#cm" x1="1681.5" y1="992.3" x2="1448" y2="582.1"/>
<linearGradient id="g852" href="#cm" x1="1578.5" y1="978.6" x2="1511.2" y2="590.5"/>
<linearGradient id="g853" href="#cm" x1="876.9" y1="1154.3" x2="1322.1" y2="546.8"/>
<linearGradient id="g854" href="#cm" x1="1260.4" y1="940.1" x2="1268.1" y2="576.9"/>
<linearGradient id="g855" href="#cm" x1="1236.8" y1="1082.4" x2="1297.5" y2="565.6"/>
<linearGradient id="g856" href="#cm" x1="1266.5" y1="1087" x2="1322.2" y2="568.4"/>
<linearGradient id="g857" href="#cm" x1="1288.8" y1="1071.1" x2="1319.8" y2="570.1"/>
<linearGradient id="g858" href="#cm" x1="1292.5" y1="1059.6" x2="1319.4" y2="571.3"/>
<linearGradient id="g859" href="#cm" x1="1313.9" y1="1081.3" x2="1346.2" y2="570.7"/>
<linearGradient id="g860" href="#cm" x1="1317.8" y1="1069.7" x2="1345.8" y2="572.1"/>
<linearGradient id="g861" href="#cm" x1="1339.7" y1="1091.8" x2="1373.4" y2="571.3"/>
<linearGradient id="g862" href="#cm" x1="1343.7" y1="1080" x2="1372.9" y2="572.8"/>
<linearGradient id="g863" href="#cm" x1="1366.3" y1="1102.5" x2="1401.4" y2="571.8"/>
<linearGradient id="g864" href="#cm" x1="1370.3" y1="1090.6" x2="1400.8" y2="573.5"/>
<linearGradient id="g865" href="#cm" x1="1427.2" y1="988.9" x2="1425" y2="591.4"/>
<linearGradient id="g866" href="#cm" x1="1397.7" y1="1101.5" x2="1429.5" y2="574.1"/>
<linearGradient id="g867" href="#cm" x1="1469.4" y1="995.1" x2="1450.4" y2="589.4"/>
<linearGradient id="g868" href="#cm" x1="1467.3" y1="982.6" x2="1451" y2="593"/>
<linearGradient id="g869" href="#cm" x1="1511.2" y1="1000.7" x2="1471.3" y2="584.7"/>
<linearGradient id="g870" href="#cm" x1="1504.9" y1="988.2" x2="1474.4" y2="590.9"/>
<linearGradient id="g871" href="#cm" x1="1536" y1="999.1" x2="1497.4" y2="581.5"/>
<linearGradient id="g872" href="#cm" x1="1535.9" y1="999" x2="1497.5" y2="581.6"/>
<linearGradient id="g873" href="#cm" x1="1296.3" y1="542.9" x2="1238.7" y2="612.7"/>
<linearGradient id="g874" href="#cm" x1="1222.3" y1="500.2" x2="1273.2" y2="638.9"/>
<linearGradient id="g875" href="#cm" x1="1265" y1="1083.4" x2="1268" y2="568.4"/>
<linearGradient id="g876" href="#cm" x1="1149.4" y1="1615.3" x2="1282" y2="504.1"/>
<linearGradient id="g877" href="#cm" x1="1276.7" y1="1089.9" x2="1295.5" y2="567.7"/>
<linearGradient id="g878" href="#cm" x1="1271.1" y1="1114.6" x2="1296.3" y2="564.2"/>
<linearGradient id="g879" href="#cm" x1="1298.8" y1="1084.9" x2="1322.5" y2="569.6"/>
<linearGradient id="g880" href="#cm" x1="1293.7" y1="1103" x2="1323.3" y2="566.7"/>
<linearGradient id="g881" href="#cm" x1="1322.3" y1="1082" x2="1350.3" y2="571.6"/>
<linearGradient id="g882" href="#cm" x1="1318" y1="1095.2" x2="1351.1" y2="569.2"/>
<linearGradient id="g883" href="#cm" x1="1370.7" y1="1004.7" x2="1374.4" y2="588.4"/>
<linearGradient id="g884" href="#cm" x1="1343.5" y1="1090.2" x2="1379.7" y2="571.8"/>
<linearGradient id="g885" href="#cm" x1="1412.4" y1="1005.5" x2="1399.5" y2="588.5"/>
<linearGradient id="g886" href="#cm" x1="1412.1" y1="996.6" x2="1399.6" y2="591.1"/>
<linearGradient id="g887" href="#cm" x1="1451.5" y1="1009.9" x2="1423.1" y2="585.4"/>
<linearGradient id="g888" href="#cm" x1="1448.5" y1="998.7" x2="1424.4" y2="590.3"/>
<linearGradient id="g889" href="#cm" x1="1491.7" y1="1015.9" x2="1441.4" y2="578.2"/>
<linearGradient id="g890" href="#cm" x1="1484.5" y1="1002.6" x2="1446.3" y2="587.3"/>
<linearGradient id="g891" href="#cm" x1="1540.4" y1="1024.6" x2="1441.7" y2="563"/>
<linearGradient id="g892" href="#cm" x1="1522" y1="1006.4" x2="1461.3" y2="582.3"/>
<linearGradient id="g893" href="#cm" x1="614.6" y1="1144.3" x2="1334.9" y2="546.9"/>
<linearGradient id="g894" href="#cm" x1="1209.3" y1="967.2" x2="1220.9" y2="580.9"/>
<linearGradient id="g895" href="#cm" x1="-1978.4" y1="705.2" x2="1758.3" y2="628"/>
<linearGradient id="g896" href="#cm" x1="1236.8" y1="1070.1" x2="1244.4" y2="569.6"/>
<linearGradient id="g897" href="#cm" x1="-368.9" y1="2777.4" x2="1515.6" y2="317.2"/>
<linearGradient id="g898" href="#cm" x1="3055.9" y1="1197.8" x2="1039.8" y2="560.9"/>
<linearGradient id="g899" href="#cm" x1="1315.8" y1="390.1" x2="1291.6" y2="677.8"/>
<linearGradient id="g900" href="#cm" x1="1392.6" y1="469.1" x2="1311.5" y2="669.2"/>
<linearGradient id="g901" href="#cm" x1="1362.6" y1="1037.3" x2="1315.7" y2="588.4"/>
<linearGradient id="g902" href="#cm" x1="1390.3" y1="472.4" x2="1311.8" y2="668.7"/>
<linearGradient id="g903" href="#cm" x1="1374.9" y1="1020.1" x2="1343.7" y2="589.2"/>
<linearGradient id="g904" href="#cm" x1="1383.4" y1="1045.4" x2="1341.7" y2="583.2"/>
<linearGradient id="g905" href="#cm" x1="1402.3" y1="1019.4" x2="1369.6" y2="586.9"/>
<linearGradient id="g906" href="#cm" x1="1401.7" y1="1017.6" x2="1369.8" y2="587.6"/>
<linearGradient id="g907" href="#cm" x1="1434.2" y1="1022.3" x2="1393.1" y2="582"/>
<linearGradient id="g908" href="#cm" x1="1431.1" y1="1014.9" x2="1394.8" y2="586.3"/>
<linearGradient id="g909" href="#cm" x1="1467.5" y1="1026.9" x2="1412.8" y2="573.3"/>
<linearGradient id="g910" href="#cm" x1="1462.5" y1="1017.4" x2="1417.3" y2="581.8"/>
<linearGradient id="g911" href="#cm" x1="1502.6" y1="1035.6" x2="1425.2" y2="554.6"/>
<linearGradient id="g912" href="#cm" x1="1493.9" y1="1022.4" x2="1436.7" y2="572.2"/>
<linearGradient id="g913" href="#cm" x1="1046.3" y1="389.2" x2="1224.6" y2="707.1"/>
<linearGradient id="g914" href="#cm" x1="1065.2" y1="381.8" x2="1245.2" y2="695"/>
<linearGradient id="g915" href="#cm" x1="306.2" y1="63.3" x2="1379.8" y2="751.4"/>
<linearGradient id="g916" href="#cm" x1="334.2" y1="-877.3" x2="1384.9" y2="883.2"/>
<linearGradient id="g917" href="#cm" x1="1249.9" y1="745.2" x2="1242.3" y2="630.4"/>
<linearGradient id="g918" href="#cm" x1="-2545.6" y1="-1532.8" x2="1833.6" y2="985.3"/>
<linearGradient id="g919" href="#cm" x1="1274.5" y1="917.4" x2="1268.6" y2="606.6"/>
<linearGradient id="g920" href="#cm" x1="1283.5" y1="486.7" x2="1267.4" y2="661.2"/>
<linearGradient id="g921" href="#cm" x1="1529.7" y1="937.4" x2="1288.1" y2="605.4"/>
<linearGradient id="g922" href="#cm" x1="1392.2" y1="1056.4" x2="1307.7" y2="586.4"/>
<linearGradient id="g923" href="#cm" x1="1371.5" y1="1023.5" x2="1312.9" y2="594.7"/>
<linearGradient id="g924" href="#cm" x1="1392.1" y1="1045.6" x2="1307.7" y2="589.1"/>
<linearGradient id="g925" href="#cm" x1="1389.3" y1="1029" x2="1337.8" y2="587.6"/>
<linearGradient id="g926" href="#cm" x1="1389.6" y1="1029.5" x2="1337.6" y2="587.4"/>
<linearGradient id="g927" href="#cm" x1="1415" y1="1031.7" x2="1361.4" y2="580.7"/>
<linearGradient id="g928" href="#cm" x1="1412.7" y1="1027.7" x2="1363" y2="583.6"/>
<linearGradient id="g929" href="#cm" x1="1441.2" y1="1033" x2="1384.8" y2="573.1"/>
<linearGradient id="g930" href="#cm" x1="1439.3" y1="1029.5" x2="1386.9" y2="576.9"/>
<linearGradient id="g931" href="#cm" x1="1462.7" y1="1031.1" x2="1416.2" y2="567.9"/>
<linearGradient id="g932" href="#cm" x1="1463.6" y1="1033.3" x2="1414.7" y2="564.2"/>
<linearGradient id="g933" href="#cm" x1="1213.7" y1="1505.8" x2="1158.9" y2="498.9"/>
<linearGradient id="g934" href="#cm" x1="1170.1" y1="786.4" x2="1166.6" y2="624.5"/>
<linearGradient id="g935" href="#cm" x1="856.3" y1="-46.2" x2="1253.9" y2="784.4"/>
<linearGradient id="g936" href="#cm" x1="821" y1="86" x2="1284.1" y2="750.5"/>
<linearGradient id="g937" href="#cm" x1="1252.5" y1="1268.7" x2="1211.2" y2="550.6"/>
<linearGradient id="g938" href="#cm" x1="1018.8" y1="1164" x2="1286.1" y2="568.6"/>
<linearGradient id="g939" href="#cm" x1="1217.6" y1="1084" x2="1248.4" y2="583.8"/>
<linearGradient id="g940" href="#cm" x1="1100.7" y1="985.2" x2="1306.9" y2="606.9"/>
<linearGradient id="g941" href="#cm" x1="1294" y1="1030.7" x2="1265.8" y2="597.2"/>
<linearGradient id="g942" href="#cm" x1="1284.8" y1="994.7" x2="1267.7" y2="604.9"/>
<linearGradient id="g943" href="#cm" x1="1337.6" y1="1038.2" x2="1285.7" y2="592.2"/>
<linearGradient id="g944" href="#cm" x1="1327.5" y1="1020.2" x2="1289.3" y2="598.6"/>
<linearGradient id="g945" href="#cm" x1="1367.7" y1="1039.7" x2="1306.7" y2="586.9"/>
<linearGradient id="g946" href="#cm" x1="1363.2" y1="1033.1" x2="1309.2" y2="590.7"/>
<linearGradient id="g947" href="#cm" x1="1394.4" y1="1041.7" x2="1327.6" y2="579.2"/>
<linearGradient id="g948" href="#cm" x1="1391.1" y1="1037" x2="1330.5" y2="583.3"/>
<linearGradient id="g949" href="#cm" x1="1420.3" y1="1042.2" x2="1348.1" y2="570.4"/>
<linearGradient id="g950" href="#cm" x1="1417.7" y1="1038.6" x2="1351.5" y2="575.3"/>
<linearGradient id="g951" href="#cm" x1="1447" y1="1043.1" x2="1364.7" y2="557.1"/>
<linearGradient id="g952" href="#cm" x1="1443.7" y1="1038.7" x2="1371.7" y2="566.6"/>
<linearGradient id="g953" href="#cm" x1="1145.7" y1="1132.7" x2="1139" y2="567.1"/>
<linearGradient id="g954" href="#cm" x1="1135.3" y1="1333.5" x2="1141" y2="528.8"/>
<linearGradient id="g955" href="#cm" x1="1143.3" y1="1061.6" x2="1169.8" y2="582.3"/>
<linearGradient id="g956" href="#cm" x1="763.6" y1="1431.1" x2="1252.8" y2="501.5"/>
<linearGradient id="g957" href="#cm" x1="1122.3" y1="1140.2" x2="1207.9" y2="564.4"/>
<linearGradient id="g958" href="#cm" x1="1163.3" y1="1068.2" x2="1197.7" y2="582.4"/>
<linearGradient id="g959" href="#cm" x1="1211.5" y1="1049.6" x2="1218.4" y2="592.2"/>
<linearGradient id="g960" href="#cm" x1="1197" y1="1102.7" x2="1222.1" y2="578.8"/>
<linearGradient id="g961" href="#cm" x1="1268.5" y1="1060" x2="1236.8" y2="589.4"/>
<linearGradient id="g962" href="#cm" x1="1262" y1="1029.6" x2="1238.9" y2="599.2"/>
<linearGradient id="g963" href="#cm" x1="1317.9" y1="1059.1" x2="1252.9" y2="587.2"/>
<linearGradient id="g964" href="#cm" x1="1306.4" y1="1040.1" x2="1258.1" y2="595.7"/>
<linearGradient id="g965" href="#cm" x1="1348" y1="1049.1" x2="1272.6" y2="588.3"/>
<linearGradient id="g966" href="#cm" x1="1345.5" y1="1046.2" x2="1274.3" y2="590.2"/>
<linearGradient id="g967" href="#cm" x1="1373.1" y1="1052" x2="1291.3" y2="578"/>
<linearGradient id="g968" href="#cm" x1="1369.1" y1="1047.4" x2="1295.4" y2="582.8"/>
<linearGradient id="g969" href="#cm" x1="1396.6" y1="1050" x2="1311.1" y2="571.3"/>
<linearGradient id="g970" href="#cm" x1="1395.1" y1="1048.3" x2="1313.5" y2="574"/>
<linearGradient id="g971" href="#cm" x1="1422.2" y1="1053.9" x2="1322.5" y2="545.9"/>
<linearGradient id="g972" href="#cm" x1="1417.3" y1="1048" x2="1335.8" y2="562.2"/>
<linearGradient id="g973" href="#cm" x1="1345" y1="978.3" x2="1089.3" y2="604.5"/>
<linearGradient id="g974" href="#cm" x1="1153.6" y1="1156.8" x2="1133.3" y2="562.6"/>
<linearGradient id="g975" href="#cm" x1="1148.3" y1="1026.3" x2="1134.6" y2="595"/>
<linearGradient id="g976" href="#cm" x1="1154.1" y1="1155.6" x2="1133.2" y2="562.9"/>
<linearGradient id="g977" href="#cm" x1="964.4" y1="671.6" x2="1238.5" y2="726.4"/>
<linearGradient id="g978" href="#cm" x1="1226.2" y1="1050.9" x2="1179.7" y2="599.6"/>
<linearGradient id="g979" href="#cm" x1="1297.6" y1="1156.2" x2="1161.9" y2="573.4"/>
<linearGradient id="g980" href="#cm" x1="1260.6" y1="1126.9" x2="1199.7" y2="565.3"/>
<linearGradient id="g981" href="#cm" x1="1241.7" y1="1063.5" x2="1207.4" y2="591"/>
<linearGradient id="g982" href="#cm" x1="1332.9" y1="1101.5" x2="1202.4" y2="573.7"/>
<linearGradient id="g983" href="#cm" x1="1299.5" y1="1068.1" x2="1219" y2="590.3"/>
<linearGradient id="g984" href="#cm" x1="1329.5" y1="1049.6" x2="1238.4" y2="600.3"/>
<linearGradient id="g985" href="#cm" x1="1347.9" y1="1060.6" x2="1226" y2="592.9"/>
<linearGradient id="g986" href="#cm" x1="1352.7" y1="1066.8" x2="1249.8" y2="571.6"/>
<linearGradient id="g987" href="#cm" x1="1343.3" y1="1057.2" x2="1261.1" y2="583.2"/>
<linearGradient id="g988" href="#cm" x1="1368.7" y1="1052.9" x2="1279" y2="585.1"/>
<linearGradient id="g989" href="#cm" x1="1374.6" y1="1057.9" x2="1268" y2="575.9"/>
<linearGradient id="g990" href="#cm" x1="1377.5" y1="1043.1" x2="1338.5" y2="604.3"/>
<linearGradient id="g991" href="#cm" x1="1383.9" y1="1055.9" x2="1314.6" y2="556.3"/>
<linearGradient id="cbe" href="#cm" x1="0" y1="914.7" x2="0" y2="574.5"/></defs>
<rect width="2001" height="1074" fill="#fff"/>
<g id="panel-a">
<line x1="59.9" y1="112.7" x2="282.1" y2="65.9" stroke="#dcdcdc" stroke-width="1"/>
<line x1="282.1" y1="65.9" x2="534.2" y2="106" stroke="#dcdcdc" stroke-width="1"/>
<line x1="62.1" y1="176.6" x2="282.1" y2="121" stroke="#dcdcdc" stroke-width="1"/>
<line x1="282.1" y1="121" x2="531.7" y2="168.4" stroke="#dcdcdc" stroke-width="1"/>
<line x1="64.3" y1="239.2" x2="282.1" y2="175.1" stroke="#dcdcdc" stroke-width="1"/>
<line x1="282.1" y1="175.1" x2="529.3" y2="229.5" stroke="#dcdcdc" stroke-width="1"/>
<line x1="66.5" y1="300.5" x2="282.1" y2="228.4" stroke="#dcdcdc" stroke-width="1"/>
<line x1="282.1" y1="228.4" x2="526.9" y2="289.5" stroke="#dcdcdc" stroke-width="1"/>
<line x1="68.6" y1="360.6" x2="282.1" y2="280.7" stroke="#dcdcdc" stroke-width="1"/>
<line x1="282.1" y1="280.7" x2="524.6" y2="348.3" stroke="#dcdcdc" stroke-width="1"/>
<line x1="162.9" y1="381.5" x2="156.3" y2="44.9" stroke="#dcdcdc" stroke-width="1"/>
<line x1="371" y1="359.5" x2="375.7" y2="35.2" stroke="#dcdcdc" stroke-width="1"/>
<line x1="162.5" y1="456.7" x2="371" y2="359.5" stroke="#dcdcdc" stroke-width="1"/>
<line x1="162.9" y1="381.5" x2="410.5" y2="470.3" stroke="#dcdcdc" stroke-width="1"/>
<line x1="244.6" y1="347.7" x2="242.6" y2="29.6" stroke="#dcdcdc" stroke-width="1"/>
<line x1="469.3" y1="389.7" x2="479.7" y2="49.2" stroke="#dcdcdc" stroke-width="1"/>
<line x1="265.6" y1="498.3" x2="469.3" y2="389.7" stroke="#dcdcdc" stroke-width="1"/>
<line x1="244.6" y1="347.7" x2="487.5" y2="426" stroke="#dcdcdc" stroke-width="1"/>
<line x1="58.1" y1="62.4" x2="282.1" y2="22.5" stroke="#8a8a8a" stroke-width="1.1" stroke-dasharray="5 1.2"/>
<line x1="282.1" y1="22.5" x2="536.2" y2="56.8" stroke="#8a8a8a" stroke-width="1.1" stroke-dasharray="5 1.2"/>
<line x1="282.1" y1="332.2" x2="282.1" y2="22.5" stroke="#8a8a8a" stroke-width="1.2"/>
<line x1="522.3" y1="406" x2="536.2" y2="56.8" stroke="#a8a8a8" stroke-width="1" stroke-dasharray="6 1.5"/>
<line x1="70.7" y1="419.6" x2="282.1" y2="332.2" stroke="#8a8a8a" stroke-width="1.2"/>
<line x1="282.1" y1="332.2" x2="522.3" y2="406" stroke="#8a8a8a" stroke-width="1.2"/>
<g stroke-linejoin="round">
<polygon points="262.8,87 285.3,82.4 282.1,66" fill="url(#g1)" stroke="url(#g1)" stroke-width="0.7"/>
<polygon points="285.3,82.4 304.6,39.7 282.1,66" fill="url(#g2)" stroke="url(#g2)" stroke-width="0.7"/>
<path d="M290.9 69.9L284.1 63.7" fill="none" stroke="#444" stroke-width="1.1" stroke-opacity="0.5"/>
<polygon points="262.8,87 285.3,82.4 304.6,39.7 282.1,66" fill="none" stroke="#6e6e6e" stroke-width="0.8" stroke-opacity="0.55"/>
<polygon points="285.3,82.4 308.3,86.1 327.6,50.3" fill="url(#g3)" stroke="url(#g3)" stroke-width="0.7"/>
<path d="M315.1 73.4L300.4 70.9" fill="none" stroke="#444" stroke-width="1.1" stroke-opacity="0.5"/>
<polygon points="285.3,82.4 327.6,50.3 304.6,39.7" fill="url(#g4)" stroke="url(#g4)" stroke-width="0.7"/>
<path d="M300.4 70.9L290.9 69.9" fill="none" stroke="#444" stroke-width="1.1" stroke-opacity="0.5"/>
<polygon points="285.3,82.4 308.3,86.1 327.6,50.3 304.6,39.7" fill="none" stroke="#6e6e6e" stroke-width="0.8" stroke-opacity="0.55"/>
<polygon points="308.3,86.1 331.9,91.1 351.1,58.3" fill="url(#g5)" stroke="url(#g5)" stroke-width="0.7"/>
<path d="M340.3 76.8L326.1 74.6" fill="none" stroke="#444" stroke-width="1.1" stroke-opacity="0.5"/>
<polygon points="308.3,86.1 351.1,58.3 327.6,50.3" fill="url(#g6)" stroke="url(#g6)" stroke-width="0.7"/>
<path d="M326.1 74.6L315.1 73.4" fill="none" stroke="#444" stroke-width="1.1" stroke-opacity="0.5"/>
<polygon points="308.3,86.1 331.9,91.1 351.1,58.3 327.6,50.3" fill="none" stroke="#6e6e6e" stroke-width="0.8" stroke-opacity="0.55"/>
<polygon points="331.9,91.1 356.1,95.5 351.1,58.3" fill="url(#g7)" stroke="url(#g7)" stroke-width="0.7"/>
<path d="M353.9 79L340.3 76.8" fill="none" stroke="#444" stroke-width="1.1" stroke-opacity="0.5"/>
<polygon points="356.1,95.5 375.4,59.1 351.1,58.3" fill="url(#g8)" stroke="url(#g8)" stroke-width="0.7"/>
<path d="M363.9 80.8L353.9 79" fill="none" stroke="#444" stroke-width="1.1" stroke-opacity="0.5"/>
<polygon points="331.9,91.1 356.1,95.5 375.4,59.1 351.1,58.3" fill="none" stroke="#6e6e6e" stroke-width="0.8" stroke-opacity="0.55"/>
<polygon points="356.1,95.5 380.9,102.9 400.2,68.4" fill="url(#g9)" stroke="url(#g9)" stroke-width="0.7"/>
<path d="M391.4 84.2L377.6 82.3" fill="none" stroke="#444" stroke-width="1.1" stroke-opacity="0.5"/>
<polygon points="356.1,95.5 400.2,68.4 375.4,59.1" fill="url(#g10)" stroke="url(#g10)" stroke-width="0.7"/>
<path d="M377.6 82.3L363.9 80.8" fill="none" stroke="#444" stroke-width="1.1" stroke-opacity="0.5"/>
<polygon points="356.1,95.5 380.9,102.9 400.2,68.4 375.4,59.1" fill="none" stroke="#6e6e6e" stroke-width="0.8" stroke-opacity="0.55"/>
<polygon points="380.9,102.9 406.4,112.7 425.2,93.5" fill="url(#g11)" stroke="url(#g11)" stroke-width="0.7"/>
<polygon points="380.9,102.9 425.2,93.5 400.2,68.4" fill="url(#g12)" stroke="url(#g12)" stroke-width="0.7"/>
<path d="M416.3 84.6L391.4 84.2" fill="none" stroke="#444" stroke-width="1.1" stroke-opacity="0.5"/>
<polygon points="380.9,102.9 406.4,112.7 425.2,93.5 400.2,68.4" fill="none" stroke="#6e6e6e" stroke-width="0.8" stroke-opacity="0.55"/>
<polygon points="406.4,112.7 432.7,113.3 425.2,93.5" fill="url(#g13)" stroke="url(#g13)" stroke-width="0.7"/>
<polygon points="432.7,113.3 451.8,80.4 425.2,93.5" fill="url(#g14)" stroke="url(#g14)" stroke-width="0.7"/>
<path d="M445.1 91.9L436.9 87.7" fill="none" stroke="#444" stroke-width="1.1" stroke-opacity="0.5"/>
<polygon points="406.4,112.7 432.7,113.3 451.8,80.4 425.2,93.5" fill="none" stroke="#6e6e6e" stroke-width="0.8" stroke-opacity="0.55"/>
<polygon points="432.7,113.3 459.7,115.1 478.3,95.5" fill="url(#g15)" stroke="url(#g15)" stroke-width="0.7"/>
<polygon points="432.7,113.3 478.3,95.5 451.8,80.4" fill="url(#g16)" stroke="url(#g16)" stroke-width="0.7"/>
<path d="M475.6 93.9L445.1 91.9" fill="none" stroke="#444" stroke-width="1.1" stroke-opacity="0.5"/>
<polygon points="432.7,113.3 459.7,115.1 478.3,95.5 451.8,80.4" fill="none" stroke="#6e6e6e" stroke-width="0.8" stroke-opacity="0.55"/>
<polygon points="459.7,115.1 487.9,105 478.3,95.5" fill="url(#g17)" stroke="url(#g17)" stroke-width="0.7"/>
<polygon points="487.9,105 506.9,72.4 478.3,95.5" fill="url(#g18)" stroke="url(#g18)" stroke-width="0.7"/>
<path d="M488.7 103.6L479.5 94.5" fill="none" stroke="#444" stroke-width="1.1" stroke-opacity="0.5"/>
<polygon points="459.7,115.1 487.9,105 506.9,72.4 478.3,95.5" fill="none" stroke="#6e6e6e" stroke-width="0.8" stroke-opacity="0.55"/>
<polygon points="487.9,105 517.3,88 506.9,72.4" fill="url(#g19)" stroke="url(#g19)" stroke-width="0.7"/>
<path d="M489.5 104.1L488.7 103.6" fill="none" stroke="#444" stroke-width="1.1" stroke-opacity="0.5"/>
<polygon points="517.3,88 535.7,67.4 506.9,72.4" fill="url(#g20)" stroke="url(#g20)" stroke-width="0.7"/>
<polygon points="487.9,105 517.3,88 535.7,67.4 506.9,72.4" fill="none" stroke="#6e6e6e" stroke-width="0.8" stroke-opacity="0.55"/>
<polygon points="243.1,109 265.6,116.6 262.8,87" fill="url(#g21)" stroke="url(#g21)" stroke-width="0.7"/>
<path d="M264.4 103.6L249.7 101.7" fill="none" stroke="#444" stroke-width="1.1" stroke-opacity="0.5"/>
<polygon points="265.6,116.6 285.3,82.4 262.8,87" fill="url(#g22)" stroke="url(#g22)" stroke-width="0.7"/>
<path d="M271.8 105.9L264.4 103.6" fill="none" stroke="#444" stroke-width="1.1" stroke-opacity="0.5"/>
<polygon points="243.1,109 265.6,116.6 285.3,82.4 262.8,87" fill="none" stroke="#6e6e6e" stroke-width="0.8" stroke-opacity="0.55"/>
<polygon points="265.6,116.6 288.6,120.6 285.3,82.4" fill="url(#g23)" stroke="url(#g23)" stroke-width="0.7"/>
<path d="M287.6 108.9L271.8 105.9" fill="none" stroke="#444" stroke-width="1.1" stroke-opacity="0.5"/>
<polygon points="288.6,120.6 308.3,86.1 285.3,82.4" fill="url(#g24)" stroke="url(#g24)" stroke-width="0.7"/>
<path d="M294.6 110.1L287.6 108.9" fill="none" stroke="#444" stroke-width="1.1" stroke-opacity="0.5"/>
<polygon points="265.6,116.6 288.6,120.6 308.3,86.1 285.3,82.4" fill="none" stroke="#6e6e6e" stroke-width="0.8" stroke-opacity="0.55"/>
<polygon points="288.6,120.6 312.2,124.5 331.9,91.1" fill="url(#g25)" stroke="url(#g25)" stroke-width="0.7"/>
<path d="M318.1 114.5L302.2 111.3" fill="none" stroke="#444" stroke-width="1.1" stroke-opacity="0.5"/>
<polygon points="288.6,120.6 331.9,91.1 308.3,86.1" fill="url(#g26)" stroke="url(#g26)" stroke-width="0.7"/>
<path d="M302.2 111.3L294.6 110.1" fill="none" stroke="#444" stroke-width="1.1" stroke-opacity="0.5"/>
<polygon points="288.6,120.6 312.2,124.5 331.9,91.1 308.3,86.1" fill="none" stroke="#6e6e6e" stroke-width="0.8" stroke-opacity="0.55"/>
<polygon points="312.2,124.5 336.4,129 356.1,95.5" fill="url(#g27)" stroke="url(#g27)" stroke-width="0.7"/>
<path d="M342.4 118.9L325.6 115.7" fill="none" stroke="#444" stroke-width="1.1" stroke-opacity="0.5"/>
<polygon points="312.2,124.5 356.1,95.5 331.9,91.1" fill="url(#g28)" stroke="url(#g28)" stroke-width="0.7"/>
<path d="M325.6 115.7L318.1 114.5" fill="none" stroke="#444" stroke-width="1.1" stroke-opacity="0.5"/>
<polygon points="312.2,124.5 336.4,129 356.1,95.5 331.9,91.1" fill="none" stroke="#6e6e6e" stroke-width="0.8" stroke-opacity="0.55"/>
<polygon points="336.4,129 361.3,134.9 380.9,102.9" fill="url(#g29)" stroke="url(#g29)" stroke-width="0.7"/>
<path d="M368.6 123.1L351.6 120.1" fill="none" stroke="#444" stroke-width="1.1" stroke-opacity="0.5"/>
<polygon points="336.4,129 380.9,102.9 356.1,95.5" fill="url(#g30)" stroke="url(#g30)" stroke-width="0.7"/>
<path d="M351.6 120.1L342.4 118.9" fill="none" stroke="#444" stroke-width="1.1" stroke-opacity="0.5"/>
<polygon points="336.4,129 361.3,134.9 380.9,102.9 356.1,95.5" fill="none" stroke="#6e6e6e" stroke-width="0.8" stroke-opacity="0.55"/>
<polygon points="361.3,134.9 386.9,141.2 406.4,112.7" fill="url(#g31)" stroke="url(#g31)" stroke-width="0.7"/>
<path d="M396.6 127L382.2 124.6" fill="none" stroke="#444" stroke-width="1.1" stroke-opacity="0.5"/>
<polygon points="361.3,134.9 406.4,112.7 380.9,102.9" fill="url(#g32)" stroke="url(#g32)" stroke-width="0.7"/>
<path d="M382.2 124.6L368.6 123.1" fill="none" stroke="#444" stroke-width="1.1" stroke-opacity="0.5"/>
<polygon points="361.3,134.9 386.9,141.2 406.4,112.7 380.9,102.9" fill="none" stroke="#6e6e6e" stroke-width="0.8" stroke-opacity="0.55"/>
<polygon points="386.9,141.2 413.1,144.8 406.4,112.7" fill="url(#g33)" stroke="url(#g33)" stroke-width="0.7"/>
<path d="M410 129.8L396.6 127" fill="none" stroke="#444" stroke-width="1.1" stroke-opacity="0.5"/>
<polygon points="413.1,144.8 432.7,113.3 406.4,112.7" fill="url(#g34)" stroke="url(#g34)" stroke-width="0.7"/>
<path d="M420.8 132.4L410 129.8" fill="none" stroke="#444" stroke-width="1.1" stroke-opacity="0.5"/>
<polygon points="386.9,141.2 413.1,144.8 432.7,113.3 406.4,112.7" fill="none" stroke="#6e6e6e" stroke-width="0.8" stroke-opacity="0.55"/>
<polygon points="413.1,144.8 440.2,146.7 432.7,113.3" fill="url(#g35)" stroke="url(#g35)" stroke-width="0.7"/>
<path d="M437.9 136.3L420.8 132.4" fill="none" stroke="#444" stroke-width="1.1" stroke-opacity="0.5"/>
<polygon points="440.2,146.7 459.7,115.1 432.7,113.3" fill="url(#g36)" stroke="url(#g36)" stroke-width="0.7"/>
<path d="M445.7 137.9L437.9 136.3" fill="none" stroke="#444" stroke-width="1.1" stroke-opacity="0.5"/>
<polygon points="413.1,144.8 440.2,146.7 459.7,115.1 432.7,113.3" fill="none" stroke="#6e6e6e" stroke-width="0.8" stroke-opacity="0.55"/>
<polygon points="440.2,146.7 468.2,144.6 459.7,115.1" fill="url(#g37)" stroke="url(#g37)" stroke-width="0.7"/>
<path d="M468.2 144.6L445.7 137.9" fill="none" stroke="#444" stroke-width="1.1" stroke-opacity="0.5"/>
<polygon points="468.2,144.6 487.9,105 459.7,115.1" fill="url(#g38)" stroke="url(#g38)" stroke-width="0.7"/>
<polygon points="440.2,146.7 468.2,144.6 487.9,105 459.7,115.1" fill="none" stroke="#6e6e6e" stroke-width="0.8" stroke-opacity="0.55"/>
<polygon points="468.2,144.6 497.1,143 487.9,105" fill="url(#g39)" stroke="url(#g39)" stroke-width="0.7"/>
<polygon points="497.1,143 517.3,88 487.9,105" fill="url(#g40)" stroke="url(#g40)" stroke-width="0.7"/>
<path d="M508.9 110.8L489.5 104.1" fill="none" stroke="#444" stroke-width="1.1" stroke-opacity="0.5"/>
<polygon points="468.2,144.6 497.1,143 517.3,88 487.9,105" fill="none" stroke="#6e6e6e" stroke-width="0.8" stroke-opacity="0.55"/>
<polygon points="223.2,151 245.5,154.6 265.6,116.6" fill="url(#g41)" stroke="url(#g41)" stroke-width="0.7"/>
<path d="M251.8 142.7L237.5 139.4" fill="none" stroke="#444" stroke-width="1.1" stroke-opacity="0.5"/>
<polygon points="223.2,151 265.6,116.6 243.1,109" fill="url(#g42)" stroke="url(#g42)" stroke-width="0.7"/>
<path d="M237.5 139.4L229.3 138.1" fill="none" stroke="#444" stroke-width="1.1" stroke-opacity="0.5"/>
<polygon points="223.2,151 245.5,154.6 265.6,116.6 243.1,109" fill="none" stroke="#6e6e6e" stroke-width="0.8" stroke-opacity="0.55"/>
<polygon points="245.5,154.6 268.5,155.3 265.6,116.6" fill="url(#g43)" stroke="url(#g43)" stroke-width="0.7"/>
<path d="M267.9 147L251.8 142.7" fill="none" stroke="#444" stroke-width="1.1" stroke-opacity="0.5"/>
<polygon points="268.5,155.3 288.6,120.6 265.6,116.6" fill="url(#g44)" stroke="url(#g44)" stroke-width="0.7"/>
<path d="M272.8 147.9L267.9 147" fill="none" stroke="#444" stroke-width="1.1" stroke-opacity="0.5"/>
<polygon points="245.5,154.6 268.5,155.3 288.6,120.6 265.6,116.6" fill="none" stroke="#6e6e6e" stroke-width="0.8" stroke-opacity="0.55"/>
<polygon points="268.5,155.3 292.1,157.3 288.6,120.6" fill="url(#g45)" stroke="url(#g45)" stroke-width="0.7"/>
<path d="M291.7 152.7L272.8 147.9" fill="none" stroke="#444" stroke-width="1.1" stroke-opacity="0.5"/>
<polygon points="292.1,157.3 312.2,124.5 288.6,120.6" fill="url(#g46)" stroke="url(#g46)" stroke-width="0.7"/>
<path d="M294.6 153.3L291.7 152.7" fill="none" stroke="#444" stroke-width="1.1" stroke-opacity="0.5"/>
<polygon points="268.5,155.3 292.1,157.3 312.2,124.5 288.6,120.6" fill="none" stroke="#6e6e6e" stroke-width="0.8" stroke-opacity="0.55"/>
<polygon points="292.1,157.3 316.3,161.1 312.2,124.5" fill="url(#g47)" stroke="url(#g47)" stroke-width="0.7"/>
<path d="M316 158.1L294.6 153.3" fill="none" stroke="#444" stroke-width="1.1" stroke-opacity="0.5"/>
<polygon points="316.3,161.1 336.4,129 312.2,124.5" fill="url(#g48)" stroke="url(#g48)" stroke-width="0.7"/>
<path d="M318 158.5L316 158.1" fill="none" stroke="#444" stroke-width="1.1" stroke-opacity="0.5"/>
<polygon points="292.1,157.3 316.3,161.1 336.4,129 312.2,124.5" fill="none" stroke="#6e6e6e" stroke-width="0.8" stroke-opacity="0.55"/>
<polygon points="316.3,161.1 341.2,166.4 361.3,134.9" fill="url(#g49)" stroke="url(#g49)" stroke-width="0.7"/>
<path d="M343 163.6L320.1 158.9" fill="none" stroke="#444" stroke-width="1.1" stroke-opacity="0.5"/>
<polygon points="316.3,161.1 361.3,134.9 336.4,129" fill="url(#g50)" stroke="url(#g50)" stroke-width="0.7"/>
<path d="M320.1 158.9L318 158.5" fill="none" stroke="#444" stroke-width="1.1" stroke-opacity="0.5"/>
<polygon points="316.3,161.1 341.2,166.4 361.3,134.9 336.4,129" fill="none" stroke="#6e6e6e" stroke-width="0.8" stroke-opacity="0.55"/>
<polygon points="341.2,166.4 366.8,172.4 386.9,141.2" fill="url(#g51)" stroke="url(#g51)" stroke-width="0.7"/>
<path d="M369.2 168.7L345.6 164" fill="none" stroke="#444" stroke-width="1.1" stroke-opacity="0.5"/>
<polygon points="341.2,166.4 386.9,141.2 361.3,134.9" fill="url(#g52)" stroke="url(#g52)" stroke-width="0.7"/>
<path d="M345.6 164L343 163.6" fill="none" stroke="#444" stroke-width="1.1" stroke-opacity="0.5"/>
<polygon points="341.2,166.4 366.8,172.4 386.9,141.2 361.3,134.9" fill="none" stroke="#6e6e6e" stroke-width="0.8" stroke-opacity="0.55"/>
<polygon points="366.8,172.4 393.1,178 386.9,141.2" fill="url(#g53)" stroke="url(#g53)" stroke-width="0.7"/>
<path d="M392.4 173.5L369.2 168.7" fill="none" stroke="#444" stroke-width="1.1" stroke-opacity="0.5"/>
<polygon points="393.1,178 413.1,144.8 386.9,141.2" fill="url(#g54)" stroke="url(#g54)" stroke-width="0.7"/>
<path d="M395.4 174.2L392.4 173.5" fill="none" stroke="#444" stroke-width="1.1" stroke-opacity="0.5"/>
<polygon points="366.8,172.4 393.1,178 413.1,144.8 386.9,141.2" fill="none" stroke="#6e6e6e" stroke-width="0.8" stroke-opacity="0.55"/>
<polygon points="393.1,178 420.2,182.5 413.1,144.8" fill="url(#g55)" stroke="url(#g55)" stroke-width="0.7"/>
<path d="M419.7 179.6L395.4 174.2" fill="none" stroke="#444" stroke-width="1.1" stroke-opacity="0.5"/>
<polygon points="420.2,182.5 440.2,146.7 413.1,144.8" fill="url(#g56)" stroke="url(#g56)" stroke-width="0.7"/>
<path d="M421.6 180L419.7 179.6" fill="none" stroke="#444" stroke-width="1.1" stroke-opacity="0.5"/>
<polygon points="393.1,178 420.2,182.5 440.2,146.7 413.1,144.8" fill="none" stroke="#6e6e6e" stroke-width="0.8" stroke-opacity="0.55"/>
<polygon points="420.2,182.5 448.2,183.5 440.2,146.7" fill="url(#g57)" stroke="url(#g57)" stroke-width="0.7"/>
<path d="M432.3 182.9L421.6 180" fill="none" stroke="#444" stroke-width="1.1" stroke-opacity="0.5"/>
<polygon points="448.2,183.5 468.2,144.6 440.2,146.7" fill="url(#g58)" stroke="url(#g58)" stroke-width="0.7"/>
<path d="M468.2 144.6L468.2 144.6" fill="none" stroke="#444" stroke-width="1.1" stroke-opacity="0.5"/>
<polygon points="420.2,182.5 448.2,183.5 468.2,144.6 440.2,146.7" fill="none" stroke="#6e6e6e" stroke-width="0.8" stroke-opacity="0.55"/>
<polygon points="448.2,183.5 477.4,172 468.2,144.6" fill="url(#g59)" stroke="url(#g59)" stroke-width="0.7"/>
<path d="M468.2 144.6L468.2 144.6" fill="none" stroke="#444" stroke-width="1.1" stroke-opacity="0.5"/>
<polygon points="477.4,172 497.1,143 468.2,144.6" fill="url(#g60)" stroke="url(#g60)" stroke-width="0.7"/>
<path d="M491.1 151.8L468.2 144.6" fill="none" stroke="#444" stroke-width="1.1" stroke-opacity="0.5"/>
<polygon points="448.2,183.5 477.4,172 497.1,143 468.2,144.6" fill="none" stroke="#6e6e6e" stroke-width="0.8" stroke-opacity="0.55"/>
<polygon points="203.1,216 225.1,195.3 223.2,151" fill="url(#g61)" stroke="url(#g61)" stroke-width="0.7"/>
<path d="M209.6 209.9L205.7 207.6M224.3 177.8L216.3 173.1" fill="none" stroke="#444" stroke-width="1.1" stroke-opacity="0.5"/>
<polygon points="225.1,195.3 245.5,154.6 223.2,151" fill="url(#g62)" stroke="url(#g62)" stroke-width="0.7"/>
<path d="M232.9 179.8L224.3 177.8" fill="none" stroke="#444" stroke-width="1.1" stroke-opacity="0.5"/>
<polygon points="203.1,216 225.1,195.3 245.5,154.6 223.2,151" fill="none" stroke="#6e6e6e" stroke-width="0.8" stroke-opacity="0.55"/>
<polygon points="225.1,195.3 248,188.6 245.5,154.6" fill="url(#g63)" stroke="url(#g63)" stroke-width="0.7"/>
<path d="M247.8 186.7L232.9 179.8" fill="none" stroke="#444" stroke-width="1.1" stroke-opacity="0.5"/>
<polygon points="248,188.6 268.5,155.3 245.5,154.6" fill="url(#g64)" stroke="url(#g64)" stroke-width="0.7"/>
<path d="M248.9 187L247.8 186.7" fill="none" stroke="#444" stroke-width="1.1" stroke-opacity="0.5"/>
<polygon points="225.1,195.3 248,188.6 268.5,155.3 245.5,154.6" fill="none" stroke="#6e6e6e" stroke-width="0.8" stroke-opacity="0.55"/>
<polygon points="248,188.6 271.5,188.3 268.5,155.3" fill="url(#g65)" stroke="url(#g65)" stroke-width="0.7"/>
<path d="M253.4 188.5L248.9 187" fill="none" stroke="#444" stroke-width="1.1" stroke-opacity="0.5"/>
<polygon points="271.5,188.3 292.1,157.3 268.5,155.3" fill="url(#g66)" stroke="url(#g66)" stroke-width="0.7"/>
<polygon points="248,188.6 271.5,188.3 292.1,157.3 268.5,155.3" fill="none" stroke="#6e6e6e" stroke-width="0.8" stroke-opacity="0.55"/>
<polygon points="271.5,188.3 295.8,191.6 292.1,157.3" fill="url(#g67)" stroke="url(#g67)" stroke-width="0.7"/>
<polygon points="295.8,191.6 316.3,161.1 292.1,157.3" fill="url(#g68)" stroke="url(#g68)" stroke-width="0.7"/>
<polygon points="271.5,188.3 295.8,191.6 316.3,161.1 292.1,157.3" fill="none" stroke="#6e6e6e" stroke-width="0.8" stroke-opacity="0.55"/>
<polygon points="295.8,191.6 320.7,197.2 341.2,166.4" fill="url(#g69)" stroke="url(#g69)" stroke-width="0.7"/>
<polygon points="295.8,191.6 341.2,166.4 316.3,161.1" fill="url(#g70)" stroke="url(#g70)" stroke-width="0.7"/>
<polygon points="295.8,191.6 320.7,197.2 341.2,166.4 316.3,161.1" fill="none" stroke="#6e6e6e" stroke-width="0.8" stroke-opacity="0.55"/>
<polygon points="320.7,197.2 346.3,204.2 366.8,172.4" fill="url(#g71)" stroke="url(#g71)" stroke-width="0.7"/>
<polygon points="320.7,197.2 366.8,172.4 341.2,166.4" fill="url(#g72)" stroke="url(#g72)" stroke-width="0.7"/>
<polygon points="320.7,197.2 346.3,204.2 366.8,172.4 341.2,166.4" fill="none" stroke="#6e6e6e" stroke-width="0.8" stroke-opacity="0.55"/>
<polygon points="346.3,204.2 372.6,212.2 393.1,178" fill="url(#g73)" stroke="url(#g73)" stroke-width="0.7"/>
<polygon points="346.3,204.2 393.1,178 366.8,172.4" fill="url(#g74)" stroke="url(#g74)" stroke-width="0.7"/>
<polygon points="346.3,204.2 372.6,212.2 393.1,178 366.8,172.4" fill="none" stroke="#6e6e6e" stroke-width="0.8" stroke-opacity="0.55"/>
<polygon points="372.6,212.2 399.7,221.7 420.2,182.5" fill="url(#g75)" stroke="url(#g75)" stroke-width="0.7"/>
<polygon points="372.6,212.2 420.2,182.5 393.1,178" fill="url(#g76)" stroke="url(#g76)" stroke-width="0.7"/>
<polygon points="372.6,212.2 399.7,221.7 420.2,182.5 393.1,178" fill="none" stroke="#6e6e6e" stroke-width="0.8" stroke-opacity="0.55"/>
<polygon points="399.7,221.7 427.4,234.9 448.2,183.5" fill="url(#g77)" stroke="url(#g77)" stroke-width="0.7"/>
<path d="M402.2 223L430.2 227.8M446.9 186.7L444.7 186.3" fill="none" stroke="#444" stroke-width="1.1" stroke-opacity="0.5"/>
<polygon points="399.7,221.7 448.2,183.5 420.2,182.5" fill="url(#g78)" stroke="url(#g78)" stroke-width="0.7"/>
<path d="M444.7 186.3L432.3 182.9" fill="none" stroke="#444" stroke-width="1.1" stroke-opacity="0.5"/>
<polygon points="399.7,221.7 427.4,234.9 448.2,183.5 420.2,182.5" fill="none" stroke="#6e6e6e" stroke-width="0.8" stroke-opacity="0.55"/>
<polygon points="427.4,234.9 455.4,264 477.4,172" fill="url(#g79)" stroke="url(#g79)" stroke-width="0.7"/>
<path d="M462.8 232.9L432.3 228.7M472.2 193.9L461.2 192.3" fill="none" stroke="#444" stroke-width="1.1" stroke-opacity="0.5"/>
<polygon points="427.4,234.9 477.4,172 448.2,183.5" fill="url(#g80)" stroke="url(#g80)" stroke-width="0.7"/>
<path d="M432.3 228.7L430.2 227.8M461.2 192.3L446.9 186.7" fill="none" stroke="#444" stroke-width="1.1" stroke-opacity="0.5"/>
<polygon points="427.4,234.9 455.4,264 477.4,172 448.2,183.5" fill="none" stroke="#6e6e6e" stroke-width="0.8" stroke-opacity="0.55"/>
<polygon points="182.1,240.9 204.1,222.1 203.1,216" fill="url(#g81)" stroke="url(#g81)" stroke-width="0.7"/>
<polygon points="204.1,222.1 225.1,195.3 203.1,216" fill="url(#g82)" stroke="url(#g82)" stroke-width="0.7"/>
<path d="M205.8 220L209.6 209.9" fill="none" stroke="#444" stroke-width="1.1" stroke-opacity="0.5"/>
<polygon points="182.1,240.9 204.1,222.1 225.1,195.3 203.1,216" fill="none" stroke="#6e6e6e" stroke-width="0.8" stroke-opacity="0.55"/>
<polygon points="204.1,222.1 226.9,215.5 225.1,195.3" fill="url(#g83)" stroke="url(#g83)" stroke-width="0.7"/>
<path d="M207.1 221.3L205.8 220" fill="none" stroke="#444" stroke-width="1.1" stroke-opacity="0.5"/>
<polygon points="226.9,215.5 248,188.6 225.1,195.3" fill="url(#g84)" stroke="url(#g84)" stroke-width="0.7"/>
<polygon points="204.1,222.1 226.9,215.5 248,188.6 225.1,195.3" fill="none" stroke="#6e6e6e" stroke-width="0.8" stroke-opacity="0.55"/>
<polygon points="226.9,215.5 250.5,215.6 248,188.6" fill="url(#g85)" stroke="url(#g85)" stroke-width="0.7"/>
<polygon points="250.5,215.6 271.5,188.3 248,188.6" fill="url(#g86)" stroke="url(#g86)" stroke-width="0.7"/>
<path d="M267 194.2L253.4 188.5" fill="none" stroke="#444" stroke-width="1.1" stroke-opacity="0.5"/>
<polygon points="226.9,215.5 250.5,215.6 271.5,188.3 248,188.6" fill="none" stroke="#6e6e6e" stroke-width="0.8" stroke-opacity="0.55"/>
<polygon points="250.5,215.6 274.7,219.9 271.5,188.3" fill="url(#g87)" stroke="url(#g87)" stroke-width="0.7"/>
<path d="M272.3 195.7L267 194.2" fill="none" stroke="#444" stroke-width="1.1" stroke-opacity="0.5"/>
<polygon points="274.7,219.9 295.8,191.6 271.5,188.3" fill="url(#g88)" stroke="url(#g88)" stroke-width="0.7"/>
<path d="M289.2 200.5L272.3 195.7" fill="none" stroke="#444" stroke-width="1.1" stroke-opacity="0.5"/>
<polygon points="250.5,215.6 274.7,219.9 295.8,191.6 271.5,188.3" fill="none" stroke="#6e6e6e" stroke-width="0.8" stroke-opacity="0.55"/>
<polygon points="274.7,219.9 299.7,226.7 320.7,197.2" fill="url(#g89)" stroke="url(#g89)" stroke-width="0.7"/>
<path d="M314.3 206.2L306.2 204.4" fill="none" stroke="#444" stroke-width="1.1" stroke-opacity="0.5"/>
<polygon points="274.7,219.9 320.7,197.2 295.8,191.6" fill="url(#g90)" stroke="url(#g90)" stroke-width="0.7"/>
<path d="M306.2 204.4L289.2 200.5" fill="none" stroke="#444" stroke-width="1.1" stroke-opacity="0.5"/>
<polygon points="274.7,219.9 299.7,226.7 320.7,197.2 295.8,191.6" fill="none" stroke="#6e6e6e" stroke-width="0.8" stroke-opacity="0.55"/>
<polygon points="299.7,226.7 325.3,234.9 346.3,204.2" fill="url(#g91)" stroke="url(#g91)" stroke-width="0.7"/>
<path d="M341.1 211.8L333.7 210.3" fill="none" stroke="#444" stroke-width="1.1" stroke-opacity="0.5"/>
<polygon points="299.7,226.7 346.3,204.2 320.7,197.2" fill="url(#g92)" stroke="url(#g92)" stroke-width="0.7"/>
<path d="M333.7 210.3L314.3 206.2" fill="none" stroke="#444" stroke-width="1.1" stroke-opacity="0.5"/>
<polygon points="299.7,226.7 325.3,234.9 346.3,204.2 320.7,197.2" fill="none" stroke="#6e6e6e" stroke-width="0.8" stroke-opacity="0.55"/>
<polygon points="325.3,234.9 351.7,244.8 372.6,212.2" fill="url(#g93)" stroke="url(#g93)" stroke-width="0.7"/>
<path d="M369.4 217.3L364.1 216.3" fill="none" stroke="#444" stroke-width="1.1" stroke-opacity="0.5"/>
<polygon points="325.3,234.9 372.6,212.2 346.3,204.2" fill="url(#g94)" stroke="url(#g94)" stroke-width="0.7"/>
<path d="M364.1 216.3L341.1 211.8" fill="none" stroke="#444" stroke-width="1.1" stroke-opacity="0.5"/>
<polygon points="325.3,234.9 351.7,244.8 372.6,212.2 346.3,204.2" fill="none" stroke="#6e6e6e" stroke-width="0.8" stroke-opacity="0.55"/>
<polygon points="351.7,244.8 378.7,257.5 399.7,221.7" fill="url(#g95)" stroke="url(#g95)" stroke-width="0.7"/>
<path d="M399.2 222.5L398.3 222.4" fill="none" stroke="#444" stroke-width="1.1" stroke-opacity="0.5"/>
<polygon points="351.7,244.8 399.7,221.7 372.6,212.2" fill="url(#g96)" stroke="url(#g96)" stroke-width="0.7"/>
<path d="M398.3 222.4L369.4 217.3" fill="none" stroke="#444" stroke-width="1.1" stroke-opacity="0.5"/>
<polygon points="351.7,244.8 378.7,257.5 399.7,221.7 372.6,212.2" fill="none" stroke="#6e6e6e" stroke-width="0.8" stroke-opacity="0.55"/>
<polygon points="378.7,257.5 406.5,270.2 427.4,234.9" fill="url(#g97)" stroke="url(#g97)" stroke-width="0.7"/>
<polygon points="378.7,257.5 427.4,234.9 399.7,221.7" fill="url(#g98)" stroke="url(#g98)" stroke-width="0.7"/>
<path d="M402.2 223L399.2 222.5" fill="none" stroke="#444" stroke-width="1.1" stroke-opacity="0.5"/>
<polygon points="378.7,257.5 406.5,270.2 427.4,234.9 399.7,221.7" fill="none" stroke="#6e6e6e" stroke-width="0.8" stroke-opacity="0.55"/>
<polygon points="406.5,270.2 435.2,280 455.4,264" fill="url(#g99)" stroke="url(#g99)" stroke-width="0.7"/>
<path d="M432.1 278.9L435.9 279.4" fill="none" stroke="#444" stroke-width="1.1" stroke-opacity="0.5"/>
<polygon points="406.5,270.2 455.4,264 427.4,234.9" fill="url(#g100)" stroke="url(#g100)" stroke-width="0.7"/>
<polygon points="406.5,270.2 435.2,280 455.4,264 427.4,234.9" fill="none" stroke="#6e6e6e" stroke-width="0.8" stroke-opacity="0.55"/>
<polygon points="160.1,239.7 182.3,236.8 204.1,222.1" fill="url(#g101)" stroke="url(#g101)" stroke-width="0.7"/>
<polygon points="160.1,239.7 204.1,222.1 182.1,240.9" fill="url(#g102)" stroke="url(#g102)" stroke-width="0.7"/>
<polygon points="160.1,239.7 182.3,236.8 204.1,222.1 182.1,240.9" fill="none" stroke="#6e6e6e" stroke-width="0.8" stroke-opacity="0.55"/>
<polygon points="182.3,236.8 205.2,235.8 204.1,222.1" fill="url(#g103)" stroke="url(#g103)" stroke-width="0.7"/>
<polygon points="205.2,235.8 226.9,215.5 204.1,222.1" fill="url(#g104)" stroke="url(#g104)" stroke-width="0.7"/>
<path d="M209.1 232.1L207.1 221.3" fill="none" stroke="#444" stroke-width="1.1" stroke-opacity="0.5"/>
<polygon points="182.3,236.8 205.2,235.8 226.9,215.5 204.1,222.1" fill="none" stroke="#6e6e6e" stroke-width="0.8" stroke-opacity="0.55"/>
<polygon points="205.2,235.8 228.8,238.7 226.9,215.5" fill="url(#g105)" stroke="url(#g105)" stroke-width="0.7"/>
<path d="M222.8 238L209.1 232.1" fill="none" stroke="#444" stroke-width="1.1" stroke-opacity="0.5"/>
<polygon points="228.8,238.7 250.5,215.6 226.9,215.5" fill="url(#g106)" stroke="url(#g106)" stroke-width="0.7"/>
<polygon points="205.2,235.8 228.8,238.7 250.5,215.6 226.9,215.5" fill="none" stroke="#6e6e6e" stroke-width="0.8" stroke-opacity="0.55"/>
<polygon points="228.8,238.7 253.1,245.8 250.5,215.6" fill="url(#g107)" stroke="url(#g107)" stroke-width="0.7"/>
<polygon points="253.1,245.8 274.7,219.9 250.5,215.6" fill="url(#g108)" stroke="url(#g108)" stroke-width="0.7"/>
<polygon points="228.8,238.7 253.1,245.8 274.7,219.9 250.5,215.6" fill="none" stroke="#6e6e6e" stroke-width="0.8" stroke-opacity="0.55"/>
<polygon points="253.1,245.8 278.1,254.7 299.7,226.7" fill="url(#g109)" stroke="url(#g109)" stroke-width="0.7"/>
<path d="M254.6 246.4L280.3 251.8" fill="none" stroke="#444" stroke-width="1.1" stroke-opacity="0.5"/>
<polygon points="253.1,245.8 299.7,226.7 274.7,219.9" fill="url(#g110)" stroke="url(#g110)" stroke-width="0.7"/>
<polygon points="253.1,245.8 278.1,254.7 299.7,226.7 274.7,219.9" fill="none" stroke="#6e6e6e" stroke-width="0.8" stroke-opacity="0.55"/>
<polygon points="278.1,254.7 303.8,264 325.3,234.9" fill="url(#g111)" stroke="url(#g111)" stroke-width="0.7"/>
<path d="M308.4 257.7L283.4 252.4" fill="none" stroke="#444" stroke-width="1.1" stroke-opacity="0.5"/>
<polygon points="278.1,254.7 325.3,234.9 299.7,226.7" fill="url(#g112)" stroke="url(#g112)" stroke-width="0.7"/>
<path d="M283.4 252.4L280.3 251.8" fill="none" stroke="#444" stroke-width="1.1" stroke-opacity="0.5"/>
<polygon points="278.1,254.7 303.8,264 325.3,234.9 299.7,226.7" fill="none" stroke="#6e6e6e" stroke-width="0.8" stroke-opacity="0.55"/>
<polygon points="303.8,264 330.2,274.5 351.7,244.8" fill="url(#g113)" stroke="url(#g113)" stroke-width="0.7"/>
<path d="M338.2 263.4L316 259.1" fill="none" stroke="#444" stroke-width="1.1" stroke-opacity="0.5"/>
<polygon points="303.8,264 351.7,244.8 325.3,234.9" fill="url(#g114)" stroke="url(#g114)" stroke-width="0.7"/>
<path d="M316 259.1L308.4 257.7" fill="none" stroke="#444" stroke-width="1.1" stroke-opacity="0.5"/>
<polygon points="303.8,264 330.2,274.5 351.7,244.8 325.3,234.9" fill="none" stroke="#6e6e6e" stroke-width="0.8" stroke-opacity="0.55"/>
<polygon points="330.2,274.5 357.2,293.1 378.7,257.5" fill="url(#g115)" stroke="url(#g115)" stroke-width="0.7"/>
<path d="M372.6 267.7L355.1 265.8" fill="none" stroke="#444" stroke-width="1.1" stroke-opacity="0.5"/>
<polygon points="330.2,274.5 378.7,257.5 351.7,244.8" fill="url(#g116)" stroke="url(#g116)" stroke-width="0.7"/>
<path d="M355.1 265.8L338.2 263.4" fill="none" stroke="#444" stroke-width="1.1" stroke-opacity="0.5"/>
<polygon points="330.2,274.5 357.2,293.1 378.7,257.5 351.7,244.8" fill="none" stroke="#6e6e6e" stroke-width="0.8" stroke-opacity="0.55"/>
<polygon points="357.2,293.1 385.1,308.6 406.5,270.2" fill="url(#g117)" stroke="url(#g117)" stroke-width="0.7"/>
<path d="M405 273L401.7 272.5" fill="none" stroke="#444" stroke-width="1.1" stroke-opacity="0.5"/>
<polygon points="357.2,293.1 406.5,270.2 378.7,257.5" fill="url(#g118)" stroke="url(#g118)" stroke-width="0.7"/>
<path d="M401.7 272.5L372.6 267.7" fill="none" stroke="#444" stroke-width="1.1" stroke-opacity="0.5"/>
<polygon points="357.2,293.1 385.1,308.6 406.5,270.2 378.7,257.5" fill="none" stroke="#6e6e6e" stroke-width="0.8" stroke-opacity="0.55"/>
<polygon points="385.1,308.6 413.7,322 435.2,280" fill="url(#g119)" stroke="url(#g119)" stroke-width="0.7"/>
<polygon points="385.1,308.6 435.2,280 406.5,270.2" fill="url(#g120)" stroke="url(#g120)" stroke-width="0.7"/>
<path d="M432.1 278.9L405 273" fill="none" stroke="#444" stroke-width="1.1" stroke-opacity="0.5"/>
<polygon points="385.1,308.6 413.7,322 435.2,280 406.5,270.2" fill="none" stroke="#6e6e6e" stroke-width="0.8" stroke-opacity="0.55"/>
<polygon points="137.5,244.2 159.9,249.7 160.1,239.7" fill="url(#g121)" stroke="url(#g121)" stroke-width="0.7"/>
<polygon points="159.9,249.7 182.3,236.8 160.1,239.7" fill="url(#g122)" stroke="url(#g122)" stroke-width="0.7"/>
<polygon points="137.5,244.2 159.9,249.7 182.3,236.8 160.1,239.7" fill="none" stroke="#6e6e6e" stroke-width="0.8" stroke-opacity="0.55"/>
<polygon points="159.9,249.7 182.8,252 182.3,236.8" fill="url(#g123)" stroke="url(#g123)" stroke-width="0.7"/>
<polygon points="182.8,252 205.2,235.8 182.3,236.8" fill="url(#g124)" stroke="url(#g124)" stroke-width="0.7"/>
<polygon points="159.9,249.7 182.8,252 205.2,235.8 182.3,236.8" fill="none" stroke="#6e6e6e" stroke-width="0.8" stroke-opacity="0.55"/>
<polygon points="182.8,252 206.5,257.7 205.2,235.8" fill="url(#g125)" stroke="url(#g125)" stroke-width="0.7"/>
<polygon points="206.5,257.7 228.8,238.7 205.2,235.8" fill="url(#g126)" stroke="url(#g126)" stroke-width="0.7"/>
<path d="M227.1 240.1L222.8 238" fill="none" stroke="#444" stroke-width="1.1" stroke-opacity="0.5"/>
<polygon points="182.8,252 206.5,257.7 228.8,238.7 205.2,235.8" fill="none" stroke="#6e6e6e" stroke-width="0.8" stroke-opacity="0.55"/>
<polygon points="206.5,257.7 230.9,270 253.1,245.8" fill="url(#g127)" stroke="url(#g127)" stroke-width="0.7"/>
<path d="M252.9 246L252.5 246" fill="none" stroke="#444" stroke-width="1.1" stroke-opacity="0.5"/>
<polygon points="206.5,257.7 253.1,245.8 228.8,238.7" fill="url(#g128)" stroke="url(#g128)" stroke-width="0.7"/>
<path d="M252.5 246L227.1 240.1" fill="none" stroke="#444" stroke-width="1.1" stroke-opacity="0.5"/>
<polygon points="206.5,257.7 230.9,270 253.1,245.8 228.8,238.7" fill="none" stroke="#6e6e6e" stroke-width="0.8" stroke-opacity="0.55"/>
<polygon points="230.9,270 255.9,282.2 278.1,254.7" fill="url(#g129)" stroke="url(#g129)" stroke-width="0.7"/>
<polygon points="230.9,270 278.1,254.7 253.1,245.8" fill="url(#g130)" stroke="url(#g130)" stroke-width="0.7"/>
<path d="M254.6 246.4L252.9 246" fill="none" stroke="#444" stroke-width="1.1" stroke-opacity="0.5"/>
<polygon points="230.9,270 255.9,282.2 278.1,254.7 253.1,245.8" fill="none" stroke="#6e6e6e" stroke-width="0.8" stroke-opacity="0.55"/>
<polygon points="255.9,282.2 281.6,291.9 303.8,264" fill="url(#g131)" stroke="url(#g131)" stroke-width="0.7"/>
<polygon points="255.9,282.2 303.8,264 278.1,254.7" fill="url(#g132)" stroke="url(#g132)" stroke-width="0.7"/>
<polygon points="255.9,282.2 281.6,291.9 303.8,264 278.1,254.7" fill="none" stroke="#6e6e6e" stroke-width="0.8" stroke-opacity="0.55"/>
<polygon points="281.6,291.9 308.1,296 330.2,274.5" fill="url(#g133)" stroke="url(#g133)" stroke-width="0.7"/>
<polygon points="281.6,291.9 330.2,274.5 303.8,264" fill="url(#g134)" stroke="url(#g134)" stroke-width="0.7"/>
<polygon points="281.6,291.9 308.1,296 330.2,274.5 303.8,264" fill="none" stroke="#6e6e6e" stroke-width="0.8" stroke-opacity="0.55"/>
<polygon points="308.1,296 335.2,332 357.2,293.1" fill="url(#g135)" stroke="url(#g135)" stroke-width="0.7"/>
<path d="M322 314.4L345.3 314.1" fill="none" stroke="#444" stroke-width="1.1" stroke-opacity="0.5"/>
<polygon points="308.1,296 357.2,293.1 330.2,274.5" fill="url(#g136)" stroke="url(#g136)" stroke-width="0.7"/>
<polygon points="308.1,296 335.2,332 357.2,293.1 330.2,274.5" fill="none" stroke="#6e6e6e" stroke-width="0.8" stroke-opacity="0.55"/>
<polygon points="335.2,332 363,349.2 385.1,308.6" fill="url(#g137)" stroke="url(#g137)" stroke-width="0.7"/>
<path d="M379.1 319.6L366.3 317.4" fill="none" stroke="#444" stroke-width="1.1" stroke-opacity="0.5"/>
<polygon points="335.2,332 385.1,308.6 357.2,293.1" fill="url(#g138)" stroke="url(#g138)" stroke-width="0.7"/>
<path d="M366.3 317.4L345.3 314.1" fill="none" stroke="#444" stroke-width="1.1" stroke-opacity="0.5"/>
<polygon points="335.2,332 363,349.2 385.1,308.6 357.2,293.1" fill="none" stroke="#6e6e6e" stroke-width="0.8" stroke-opacity="0.55"/>
<polygon points="363,349.2 391.6,372 413.7,322" fill="url(#g139)" stroke="url(#g139)" stroke-width="0.7"/>
<path d="M390.6 371.2L391.8 371.4M412 325.9L407.7 325.2" fill="none" stroke="#444" stroke-width="1.1" stroke-opacity="0.5"/>
<polygon points="363,349.2 413.7,322 385.1,308.6" fill="url(#g140)" stroke="url(#g140)" stroke-width="0.7"/>
<path d="M407.7 325.2L379.1 319.6" fill="none" stroke="#444" stroke-width="1.1" stroke-opacity="0.5"/>
<polygon points="363,349.2 391.6,372 413.7,322 385.1,308.6" fill="none" stroke="#6e6e6e" stroke-width="0.8" stroke-opacity="0.55"/>
<polygon points="114.8,272.2 136.8,265.6 137.5,244.2" fill="url(#g141)" stroke="url(#g141)" stroke-width="0.7"/>
<path d="M121.3 270.2L119.1 266.9" fill="none" stroke="#444" stroke-width="1.1" stroke-opacity="0.5"/>
<polygon points="136.8,265.6 159.9,249.7 137.5,244.2" fill="url(#g142)" stroke="url(#g142)" stroke-width="0.7"/>
<polygon points="114.8,272.2 136.8,265.6 159.9,249.7 137.5,244.2" fill="none" stroke="#6e6e6e" stroke-width="0.8" stroke-opacity="0.55"/>
<polygon points="136.8,265.6 159.7,265 159.9,249.7" fill="url(#g143)" stroke="url(#g143)" stroke-width="0.7"/>
<polygon points="159.7,265 182.8,252 159.9,249.7" fill="url(#g144)" stroke="url(#g144)" stroke-width="0.7"/>
<polygon points="136.8,265.6 159.7,265 182.8,252 159.9,249.7" fill="none" stroke="#6e6e6e" stroke-width="0.8" stroke-opacity="0.55"/>
<polygon points="159.7,265 183.4,269.9 182.8,252" fill="url(#g145)" stroke="url(#g145)" stroke-width="0.7"/>
<polygon points="183.4,269.9 206.5,257.7 182.8,252" fill="url(#g146)" stroke="url(#g146)" stroke-width="0.7"/>
<polygon points="159.7,265 183.4,269.9 206.5,257.7 182.8,252" fill="none" stroke="#6e6e6e" stroke-width="0.8" stroke-opacity="0.55"/>
<polygon points="183.4,269.9 208,294.3 230.9,270" fill="url(#g147)" stroke="url(#g147)" stroke-width="0.7"/>
<polygon points="183.4,269.9 230.9,270 206.5,257.7" fill="url(#g148)" stroke="url(#g148)" stroke-width="0.7"/>
<polygon points="183.4,269.9 208,294.3 230.9,270 206.5,257.7" fill="none" stroke="#6e6e6e" stroke-width="0.8" stroke-opacity="0.55"/>
<polygon points="208,294.3 233.1,312.2 255.9,282.2" fill="url(#g149)" stroke="url(#g149)" stroke-width="0.7"/>
<path d="M212.8 297.7L242 300.5" fill="none" stroke="#444" stroke-width="1.1" stroke-opacity="0.5"/>
<polygon points="208,294.3 255.9,282.2 230.9,270" fill="url(#g150)" stroke="url(#g150)" stroke-width="0.7"/>
<polygon points="208,294.3 233.1,312.2 255.9,282.2 230.9,270" fill="none" stroke="#6e6e6e" stroke-width="0.8" stroke-opacity="0.55"/>
<polygon points="233.1,312.2 258.9,325.5 281.6,291.9" fill="url(#g151)" stroke="url(#g151)" stroke-width="0.7"/>
<path d="M271.7 306.6L254.5 303.3" fill="none" stroke="#444" stroke-width="1.1" stroke-opacity="0.5"/>
<polygon points="233.1,312.2 281.6,291.9 255.9,282.2" fill="url(#g152)" stroke="url(#g152)" stroke-width="0.7"/>
<path d="M254.5 303.3L242 300.5" fill="none" stroke="#444" stroke-width="1.1" stroke-opacity="0.5"/>
<polygon points="233.1,312.2 258.9,325.5 281.6,291.9 255.9,282.2" fill="none" stroke="#6e6e6e" stroke-width="0.8" stroke-opacity="0.55"/>
<polygon points="258.9,325.5 285.4,346 308.1,296" fill="url(#g153)" stroke="url(#g153)" stroke-width="0.7"/>
<path d="M300.1 313.6L283.2 310.9" fill="none" stroke="#444" stroke-width="1.1" stroke-opacity="0.5"/>
<polygon points="258.9,325.5 308.1,296 281.6,291.9" fill="url(#g154)" stroke="url(#g154)" stroke-width="0.7"/>
<path d="M283.2 310.9L271.7 306.6" fill="none" stroke="#444" stroke-width="1.1" stroke-opacity="0.5"/>
<polygon points="258.9,325.5 285.4,346 308.1,296 281.6,291.9" fill="none" stroke="#6e6e6e" stroke-width="0.8" stroke-opacity="0.55"/>
<polygon points="285.4,346 312.8,317 308.1,296" fill="url(#g155)" stroke="url(#g155)" stroke-width="0.7"/>
<path d="M305.1 325.2L300.1 313.6" fill="none" stroke="#444" stroke-width="1.1" stroke-opacity="0.5"/>
<polygon points="312.8,317 335.2,332 308.1,296" fill="url(#g156)" stroke="url(#g156)" stroke-width="0.7"/>
<path d="M322.5 323.5L322 314.4" fill="none" stroke="#444" stroke-width="1.1" stroke-opacity="0.5"/>
<polygon points="285.4,346 312.8,317 335.2,332 308.1,296" fill="none" stroke="#6e6e6e" stroke-width="0.8" stroke-opacity="0.55"/>
<polygon points="312.8,317 340.5,384 335.2,332" fill="url(#g157)" stroke="url(#g157)" stroke-width="0.7"/>
<path d="M335.3 371.3L338.8 366.9M317.9 329.3L322.5 323.5" fill="none" stroke="#444" stroke-width="1.1" stroke-opacity="0.5"/>
<polygon points="340.5,384 363,349.2 335.2,332" fill="url(#g158)" stroke="url(#g158)" stroke-width="0.7"/>
<path d="M350.6 368.4L338.8 366.9" fill="none" stroke="#444" stroke-width="1.1" stroke-opacity="0.5"/>
<polygon points="312.8,317 340.5,384 363,349.2 335.2,332" fill="none" stroke="#6e6e6e" stroke-width="0.8" stroke-opacity="0.55"/>
<polygon points="340.5,384 369.2,406 391.6,372" fill="url(#g159)" stroke="url(#g159)" stroke-width="0.7"/>
<polygon points="340.5,384 391.6,372 363,349.2" fill="url(#g160)" stroke="url(#g160)" stroke-width="0.7"/>
<path d="M390.6 371.2L350.6 368.4" fill="none" stroke="#444" stroke-width="1.1" stroke-opacity="0.5"/>
<polygon points="340.5,384 369.2,406 391.6,372 363,349.2" fill="none" stroke="#6e6e6e" stroke-width="0.8" stroke-opacity="0.55"/>
<polygon points="90.4,268.3 112.9,275.3 136.8,265.6" fill="url(#g161)" stroke="url(#g161)" stroke-width="0.7"/>
<polygon points="90.4,268.3 136.8,265.6 114.8,272.2" fill="url(#g162)" stroke="url(#g162)" stroke-width="0.7"/>
<path d="M121.3 270.2L106.5 270.9" fill="none" stroke="#444" stroke-width="1.1" stroke-opacity="0.5"/>
<polygon points="90.4,268.3 112.9,275.3 136.8,265.6 114.8,272.2" fill="none" stroke="#6e6e6e" stroke-width="0.8" stroke-opacity="0.55"/>
<polygon points="112.9,275.3 135.7,272.7 136.8,265.6" fill="url(#g163)" stroke="url(#g163)" stroke-width="0.7"/>
<polygon points="135.7,272.7 159.7,265 136.8,265.6" fill="url(#g164)" stroke="url(#g164)" stroke-width="0.7"/>
<polygon points="112.9,275.3 135.7,272.7 159.7,265 136.8,265.6" fill="none" stroke="#6e6e6e" stroke-width="0.8" stroke-opacity="0.55"/>
<polygon points="135.7,272.7 159.1,262.4 183.4,269.9" fill="url(#g165)" stroke="url(#g165)" stroke-width="0.7"/>
<path d="M159 262.5L159.3 262.5" fill="none" stroke="#444" stroke-width="1.1" stroke-opacity="0.5"/>
<polygon points="135.7,272.7 183.4,269.9 159.7,265" fill="url(#g166)" stroke="url(#g166)" stroke-width="0.7"/>
<polygon points="135.7,272.7 159.1,262.4 183.4,269.9 159.7,265" fill="none" stroke="#6e6e6e" stroke-width="0.8" stroke-opacity="0.55"/>
<polygon points="159.1,262.4 184.6,325.3 208,294.3" fill="url(#g167)" stroke="url(#g167)" stroke-width="0.7"/>
<path d="M175.3 302.3L205.9 297.1M159.2 262.5L159.3 262.5" fill="none" stroke="#444" stroke-width="1.1" stroke-opacity="0.5"/>
<polygon points="159.1,262.4 208,294.3 183.4,269.9" fill="url(#g168)" stroke="url(#g168)" stroke-width="0.7"/>
<path d="M159.3 262.5L159.3 262.5" fill="none" stroke="#444" stroke-width="1.1" stroke-opacity="0.5"/>
<polygon points="159.1,262.4 184.6,325.3 208,294.3 183.4,269.9" fill="none" stroke="#6e6e6e" stroke-width="0.8" stroke-opacity="0.55"/>
<polygon points="184.6,325.3 209.8,346.7 233.1,312.2" fill="url(#g169)" stroke="url(#g169)" stroke-width="0.7"/>
<polygon points="184.6,325.3 233.1,312.2 208,294.3" fill="url(#g170)" stroke="url(#g170)" stroke-width="0.7"/>
<path d="M212.8 297.7L205.9 297.1" fill="none" stroke="#444" stroke-width="1.1" stroke-opacity="0.5"/>
<polygon points="184.6,325.3 209.8,346.7 233.1,312.2 208,294.3" fill="none" stroke="#6e6e6e" stroke-width="0.8" stroke-opacity="0.55"/>
<polygon points="209.8,346.7 235.5,351.8 258.9,325.5" fill="url(#g171)" stroke="url(#g171)" stroke-width="0.7"/>
<polygon points="209.8,346.7 258.9,325.5 233.1,312.2" fill="url(#g172)" stroke="url(#g172)" stroke-width="0.7"/>
<polygon points="209.8,346.7 235.5,351.8 258.9,325.5 233.1,312.2" fill="none" stroke="#6e6e6e" stroke-width="0.8" stroke-opacity="0.55"/>
<polygon points="235.5,351.8 262.1,368.5 285.4,346" fill="url(#g173)" stroke="url(#g173)" stroke-width="0.7"/>
<path d="M251.8 362L267.8 362.9" fill="none" stroke="#444" stroke-width="1.1" stroke-opacity="0.5"/>
<polygon points="235.5,351.8 285.4,346 258.9,325.5" fill="url(#g174)" stroke="url(#g174)" stroke-width="0.7"/>
<polygon points="235.5,351.8 262.1,368.5 285.4,346 258.9,325.5" fill="none" stroke="#6e6e6e" stroke-width="0.8" stroke-opacity="0.55"/>
<polygon points="262.1,368.5 289.4,369.7 285.4,346" fill="url(#g175)" stroke="url(#g175)" stroke-width="0.7"/>
<path d="M273.1 369L267.8 362.9" fill="none" stroke="#444" stroke-width="1.1" stroke-opacity="0.5"/>
<polygon points="289.4,369.7 312.8,317 285.4,346" fill="url(#g176)" stroke="url(#g176)" stroke-width="0.7"/>
<path d="M306.9 330.2L305.1 325.2" fill="none" stroke="#444" stroke-width="1.1" stroke-opacity="0.5"/>
<polygon points="262.1,368.5 289.4,369.7 312.8,317 285.4,346" fill="none" stroke="#6e6e6e" stroke-width="0.8" stroke-opacity="0.55"/>
<polygon points="289.4,369.7 317.4,409.4 340.5,384" fill="url(#g177)" stroke="url(#g177)" stroke-width="0.7"/>
<path d="M293.7 375.9L304.5 374" fill="none" stroke="#444" stroke-width="1.1" stroke-opacity="0.5"/>
<polygon points="289.4,369.7 340.5,384 312.8,317" fill="url(#g178)" stroke="url(#g178)" stroke-width="0.7"/>
<path d="M304.5 374L335.3 371.3M317.9 329.3L306.9 330.2" fill="none" stroke="#444" stroke-width="1.1" stroke-opacity="0.5"/>
<polygon points="289.4,369.7 317.4,409.4 340.5,384 312.8,317" fill="none" stroke="#6e6e6e" stroke-width="0.8" stroke-opacity="0.55"/>
<polygon points="317.4,409.4 346,457 369.2,406" fill="url(#g179)" stroke="url(#g179)" stroke-width="0.7"/>
<path d="M326 423.8L361.4 423.1" fill="none" stroke="#444" stroke-width="1.1" stroke-opacity="0.5"/>
<polygon points="317.4,409.4 369.2,406 340.5,384" fill="url(#g180)" stroke="url(#g180)" stroke-width="0.7"/>
<polygon points="317.4,409.4 346,457 369.2,406 340.5,384" fill="none" stroke="#6e6e6e" stroke-width="0.8" stroke-opacity="0.55"/>
<polygon points="66.5,300 88.4,294.7 90.4,268.3" fill="url(#g181)" stroke="url(#g181)" stroke-width="0.7"/>
<path d="M89.1 286.7L82.5 278.7" fill="none" stroke="#444" stroke-width="1.1" stroke-opacity="0.5"/>
<polygon points="88.4,294.7 112.9,275.3 90.4,268.3" fill="url(#g182)" stroke="url(#g182)" stroke-width="0.7"/>
<path d="M96 288.7L89.1 286.7" fill="none" stroke="#444" stroke-width="1.1" stroke-opacity="0.5"/>
<polygon points="66.5,300 88.4,294.7 112.9,275.3 90.4,268.3" fill="none" stroke="#6e6e6e" stroke-width="0.8" stroke-opacity="0.55"/>
<polygon points="88.4,294.7 111.1,288.2 112.9,275.3" fill="url(#g183)" stroke="url(#g183)" stroke-width="0.7"/>
<path d="M94.2 293L96 288.7" fill="none" stroke="#444" stroke-width="1.1" stroke-opacity="0.5"/>
<polygon points="111.1,288.2 135.7,272.7 112.9,275.3" fill="url(#g184)" stroke="url(#g184)" stroke-width="0.7"/>
<polygon points="88.4,294.7 111.1,288.2 135.7,272.7 112.9,275.3" fill="none" stroke="#6e6e6e" stroke-width="0.8" stroke-opacity="0.55"/>
<polygon points="111.1,288.2 135,299 135.7,272.7" fill="url(#g185)" stroke="url(#g185)" stroke-width="0.7"/>
<polygon points="135,299 159.1,262.4 135.7,272.7" fill="url(#g186)" stroke="url(#g186)" stroke-width="0.7"/>
<path d="M159 262.6L159 262.5" fill="none" stroke="#444" stroke-width="1.1" stroke-opacity="0.5"/>
<polygon points="111.1,288.2 135,299 159.1,262.4 135.7,272.7" fill="none" stroke="#6e6e6e" stroke-width="0.8" stroke-opacity="0.55"/>
<polygon points="135,299 161.3,397.7 184.6,325.3" fill="url(#g187)" stroke="url(#g187)" stroke-width="0.7"/>
<path d="M157.5 383.3L166.2 382.5M147.3 345L179.1 342.2M137.1 306.8L147.9 305.8" fill="none" stroke="#444" stroke-width="1.1" stroke-opacity="0.5"/>
<polygon points="135,299 184.6,325.3 159.1,262.4" fill="url(#g188)" stroke="url(#g188)" stroke-width="0.7"/>
<path d="M147.9 305.8L175.3 302.3M159.2 262.5L159 262.6" fill="none" stroke="#444" stroke-width="1.1" stroke-opacity="0.5"/>
<polygon points="135,299 161.3,397.7 184.6,325.3 159.1,262.4" fill="none" stroke="#6e6e6e" stroke-width="0.8" stroke-opacity="0.55"/>
<polygon points="161.3,397.7 186.1,397.7 209.8,346.7" fill="url(#g189)" stroke="url(#g189)" stroke-width="0.7"/>
<path d="M188.4 392.6L174.2 384.2M208.9 348.5L208.4 348.2" fill="none" stroke="#444" stroke-width="1.1" stroke-opacity="0.5"/>
<polygon points="161.3,397.7 209.8,346.7 184.6,325.3" fill="url(#g190)" stroke="url(#g190)" stroke-width="0.7"/>
<path d="M174.2 384.2L166.2 382.5M208.4 348.2L179.1 342.2" fill="none" stroke="#444" stroke-width="1.1" stroke-opacity="0.5"/>
<polygon points="161.3,397.7 186.1,397.7 209.8,346.7 184.6,325.3" fill="none" stroke="#6e6e6e" stroke-width="0.8" stroke-opacity="0.55"/>
<polygon points="186.1,397.7 211.2,366.4 209.8,346.7" fill="url(#g191)" stroke="url(#g191)" stroke-width="0.7"/>
<path d="M188.7 394.5L188.4 392.6M211 366.7L208.9 348.5" fill="none" stroke="#444" stroke-width="1.1" stroke-opacity="0.5"/>
<polygon points="211.2,366.4 235.5,351.8 209.8,346.7" fill="url(#g192)" stroke="url(#g192)" stroke-width="0.7"/>
<polygon points="186.1,397.7 211.2,366.4 235.5,351.8 209.8,346.7" fill="none" stroke="#6e6e6e" stroke-width="0.8" stroke-opacity="0.55"/>
<polygon points="211.2,366.4 238.1,406.5 262.1,368.5" fill="url(#g193)" stroke="url(#g193)" stroke-width="0.7"/>
<path d="M211.6 366.9L216.9 366.6" fill="none" stroke="#444" stroke-width="1.1" stroke-opacity="0.5"/>
<polygon points="211.2,366.4 262.1,368.5 235.5,351.8" fill="url(#g194)" stroke="url(#g194)" stroke-width="0.7"/>
<path d="M216.9 366.6L251.8 362" fill="none" stroke="#444" stroke-width="1.1" stroke-opacity="0.5"/>
<polygon points="211.2,366.4 238.1,406.5 262.1,368.5 235.5,351.8" fill="none" stroke="#6e6e6e" stroke-width="0.8" stroke-opacity="0.55"/>
<polygon points="238.1,406.5 265.3,384 262.1,368.5" fill="url(#g195)" stroke="url(#g195)" stroke-width="0.7"/>
<path d="M264.3 384.8L264.4 379.8" fill="none" stroke="#444" stroke-width="1.1" stroke-opacity="0.5"/>
<polygon points="265.3,384 289.4,369.7 262.1,368.5" fill="url(#g196)" stroke="url(#g196)" stroke-width="0.7"/>
<path d="M273.1 369L264.4 379.8" fill="none" stroke="#444" stroke-width="1.1" stroke-opacity="0.5"/>
<polygon points="238.1,406.5 265.3,384 289.4,369.7 262.1,368.5" fill="none" stroke="#6e6e6e" stroke-width="0.8" stroke-opacity="0.55"/>
<polygon points="265.3,384 293.6,427 317.4,409.4" fill="url(#g197)" stroke="url(#g197)" stroke-width="0.7"/>
<path d="M266.3 385.5L267.6 385.1" fill="none" stroke="#444" stroke-width="1.1" stroke-opacity="0.5"/>
<polygon points="265.3,384 317.4,409.4 289.4,369.7" fill="url(#g198)" stroke="url(#g198)" stroke-width="0.7"/>
<path d="M267.6 385.1L293.7 375.9" fill="none" stroke="#444" stroke-width="1.1" stroke-opacity="0.5"/>
<polygon points="265.3,384 293.6,427 317.4,409.4 289.4,369.7" fill="none" stroke="#6e6e6e" stroke-width="0.8" stroke-opacity="0.55"/>
<polygon points="293.6,427 322.1,517.7 346,457" fill="url(#g199)" stroke="url(#g199)" stroke-width="0.7"/>
<path d="M308.9 475.5L340.6 470.8M295.5 433.1L302.5 432.1" fill="none" stroke="#444" stroke-width="1.1" stroke-opacity="0.5"/>
<polygon points="293.6,427 346,457 317.4,409.4" fill="url(#g200)" stroke="url(#g200)" stroke-width="0.7"/>
<path d="M302.5 432.1L326 423.8" fill="none" stroke="#444" stroke-width="1.1" stroke-opacity="0.5"/>
<polygon points="293.6,427 322.1,517.7 346,457 317.4,409.4" fill="none" stroke="#6e6e6e" stroke-width="0.8" stroke-opacity="0.55"/>
</g>
<line x1="70.7" y1="419.6" x2="58.1" y2="62.4" stroke="#111" stroke-width="1.8"/>
<line x1="70.7" y1="419.6" x2="322.1" y2="521.1" stroke="#111" stroke-width="1.8"/>
<line x1="322.1" y1="521.1" x2="522.3" y2="406" stroke="#111" stroke-width="1.8"/>
<line x1="59.9" y1="112.7" x2="54.9" y2="113.7" stroke="#111" stroke-width="1.6"/>
<text transform="translate(50.9 121.3) rotate(-18) scale(0.68 1)" font-family="'Liberation Serif', serif" font-size="24" font-weight="bold" font-style="italic" text-anchor="end" fill="#000">20</text>
<line x1="62.1" y1="176.6" x2="57.1" y2="177.6" stroke="#111" stroke-width="1.6"/>
<text transform="translate(53.1 185.2) rotate(-18) scale(0.68 1)" font-family="'Liberation Serif', serif" font-size="24" font-weight="bold" font-style="italic" text-anchor="end" fill="#000">0</text>
<line x1="64.3" y1="239.2" x2="59.3" y2="240.2" stroke="#111" stroke-width="1.6"/>
<text transform="translate(55.3 247.8) rotate(-18) scale(0.68 1)" font-family="'Liberation Serif', serif" font-size="24" font-weight="bold" font-style="italic" text-anchor="end" fill="#000">−20</text>
<line x1="66.5" y1="300.5" x2="61.5" y2="301.5" stroke="#111" stroke-width="1.6"/>
<text transform="translate(57.5 309.1) rotate(-18) scale(0.68 1)" font-family="'Liberation Serif', serif" font-size="24" font-weight="bold" font-style="italic" text-anchor="end" fill="#000">−40</text>
<line x1="68.6" y1="360.6" x2="63.6" y2="361.6" stroke="#111" stroke-width="1.6"/>
<text transform="translate(59.6 369.2) rotate(-18) scale(0.68 1)" font-family="'Liberation Serif', serif" font-size="24" font-weight="bold" font-style="italic" text-anchor="end" fill="#000">−60</text>
<line x1="70.7" y1="419.6" x2="65.7" y2="420.6" stroke="#111" stroke-width="1.6"/>
<text transform="translate(61.7 428.2) rotate(-18) scale(0.68 1)" font-family="'Liberation Serif', serif" font-size="24" font-weight="bold" font-style="italic" text-anchor="end" fill="#000">−80</text>
<line x1="115.3" y1="437.6" x2="119.9" y2="435.6" stroke="#111" stroke-width="1.6"/>
<line x1="367.9" y1="494.8" x2="363.2" y2="493" stroke="#111" stroke-width="1.6"/>
<line x1="162.5" y1="456.7" x2="167" y2="454.6" stroke="#111" stroke-width="1.6"/>
<line x1="410.5" y1="470.3" x2="405.8" y2="468.6" stroke="#111" stroke-width="1.6"/>
<line x1="212.5" y1="476.9" x2="217" y2="474.6" stroke="#111" stroke-width="1.6"/>
<line x1="450.3" y1="447.4" x2="445.6" y2="445.8" stroke="#111" stroke-width="1.6"/>
<line x1="265.6" y1="498.3" x2="270.1" y2="496" stroke="#111" stroke-width="1.6"/>
<line x1="487.5" y1="426" x2="482.7" y2="424.5" stroke="#111" stroke-width="1.6"/>
<line x1="322.1" y1="521.1" x2="327.1" y2="522.1" stroke="#111" stroke-width="1.6"/>
<text transform="translate(80.5 99.8) scale(0.835 1)" font-family="'Liberation Serif', serif" font-size="52" font-weight="bold" font-style="normal" text-anchor="start" fill="#000">a</text>
<text transform="translate(8 261) rotate(90)" font-family="'Liberation Serif', serif" font-size="21" font-weight="bold" font-style="normal" text-anchor="middle" fill="#000" letter-spacing="1.2">Voltage (mV)</text>
<text transform="translate(157.8 487.8) rotate(22) skewX(-20) scale(1.03 1)" font-family="'Liberation Serif', serif" font-size="18" font-weight="bold" font-style="italic" text-anchor="middle" fill="#000">Distance (mm)</text>
<text transform="translate(149.5 464.7) rotate(67)" font-family="'Liberation Serif', serif" font-size="17" font-weight="bold" font-style="italic" text-anchor="middle" fill="#000">2</text>
<text transform="translate(252.6 506.3) rotate(67)" font-family="'Liberation Serif', serif" font-size="17" font-weight="bold" font-style="italic" text-anchor="middle" fill="#000">4</text>
<text transform="translate(464 475.7) rotate(-29.9) skewX(15) scale(1.06 1)" font-family="'Liberation Serif', serif" font-size="15.5" font-weight="bold" font-style="normal" text-anchor="middle" fill="#000">Distance (mm)</text>
<text transform="translate(419.5 475.9) rotate(70.1)" font-family="'Liberation Serif', serif" font-size="13" font-weight="bold" font-style="normal" text-anchor="middle" fill="#000">2</text>
<text transform="translate(496.5 431.7) rotate(70.1)" font-family="'Liberation Serif', serif" font-size="13" font-weight="bold" font-style="normal" text-anchor="middle" fill="#000">4</text>
<text transform="translate(337.1 532.1) rotate(-28) skewX(-10)" font-family="'Liberation Serif', serif" font-size="17" font-weight="bold" font-style="italic" text-anchor="middle" fill="#000">0</text>
<text transform="translate(60.7 431.6) rotate(-10)" font-family="'Liberation Serif', serif" font-size="17" font-weight="bold" font-style="italic" text-anchor="middle" fill="#000">0</text>
<rect x="541" y="43" width="25" height="4" fill="#fff" stroke="#666" stroke-width="1"/>
<rect x="541" y="387.3" width="25" height="3.6" fill="#000"/>
<rect x="541" y="47" width="25" height="340.3" fill="url(#cba)" stroke="#333" stroke-width="1"/>
<line x1="566" y1="47" x2="572" y2="47" stroke="#222" stroke-width="1.4"/>
<text transform="translate(582.2 56.6) scale(0.88 1)" font-family="'Liberation Serif', serif" font-size="29" font-weight="normal" font-style="normal" text-anchor="start" fill="#000">32.00</text>
<line x1="566" y1="81" x2="572" y2="81" stroke="#222" stroke-width="1.4"/>
<text transform="translate(582.2 90.6) scale(0.88 1)" font-family="'Liberation Serif', serif" font-size="29" font-weight="normal" font-style="normal" text-anchor="start" fill="#000">20.90</text>
<line x1="566" y1="115.1" x2="572" y2="115.1" stroke="#222" stroke-width="1.4"/>
<text transform="translate(582.2 124.7) scale(0.88 1)" font-family="'Liberation Serif', serif" font-size="29" font-weight="normal" font-style="normal" text-anchor="start" fill="#000">9.800</text>
<line x1="566" y1="149.1" x2="572" y2="149.1" stroke="#222" stroke-width="1.4"/>
<text transform="translate(582.2 158.7) scale(0.88 1)" font-family="'Liberation Serif', serif" font-size="29" font-weight="normal" font-style="normal" text-anchor="start" fill="#000">−1.300</text>
<line x1="566" y1="183.1" x2="572" y2="183.1" stroke="#222" stroke-width="1.4"/>
<text transform="translate(582.2 192.7) scale(0.88 1)" font-family="'Liberation Serif', serif" font-size="29" font-weight="normal" font-style="normal" text-anchor="start" fill="#000">−12.40</text>
<line x1="566" y1="217.2" x2="572" y2="217.2" stroke="#222" stroke-width="1.4"/>
<text transform="translate(582.2 226.8) scale(0.88 1)" font-family="'Liberation Serif', serif" font-size="29" font-weight="normal" font-style="normal" text-anchor="start" fill="#000">−23.50</text>
<line x1="566" y1="251.2" x2="572" y2="251.2" stroke="#222" stroke-width="1.4"/>
<text transform="translate(582.2 260.8) scale(0.88 1)" font-family="'Liberation Serif', serif" font-size="29" font-weight="normal" font-style="normal" text-anchor="start" fill="#000">−34.60</text>
<line x1="566" y1="285.2" x2="572" y2="285.2" stroke="#222" stroke-width="1.4"/>
<text transform="translate(582.2 294.8) scale(0.88 1)" font-family="'Liberation Serif', serif" font-size="29" font-weight="normal" font-style="normal" text-anchor="start" fill="#000">−45.70</text>
<line x1="566" y1="319.2" x2="572" y2="319.2" stroke="#222" stroke-width="1.4"/>
<text transform="translate(582.2 328.8) scale(0.88 1)" font-family="'Liberation Serif', serif" font-size="29" font-weight="normal" font-style="normal" text-anchor="start" fill="#000">−56.80</text>
<line x1="566" y1="353.3" x2="572" y2="353.3" stroke="#222" stroke-width="1.4"/>
<text transform="translate(582.2 362.9) scale(0.88 1)" font-family="'Liberation Serif', serif" font-size="29" font-weight="normal" font-style="normal" text-anchor="start" fill="#000">−67.90</text>
<line x1="566" y1="387.3" x2="572" y2="387.3" stroke="#222" stroke-width="1.4"/>
<text transform="translate(582.2 396.9) scale(0.88 1)" font-family="'Liberation Serif', serif" font-size="29" font-weight="normal" font-style="normal" text-anchor="start" fill="#000">−79.00</text>
</g>
<g id="panel-b">
<line x1="726.3" y1="89.2" x2="954.8" y2="40.9" stroke="#dcdcdc" stroke-width="1"/>
<line x1="954.8" y1="40.9" x2="1212.8" y2="81.6" stroke="#dcdcdc" stroke-width="1"/>
<line x1="728" y1="132.1" x2="954.9" y2="77.8" stroke="#dcdcdc" stroke-width="1"/>
<line x1="954.9" y1="77.8" x2="1211.2" y2="123.4" stroke="#dcdcdc" stroke-width="1"/>
<line x1="729.6" y1="174.4" x2="955" y2="114.3" stroke="#dcdcdc" stroke-width="1"/>
<line x1="955" y1="114.3" x2="1209.7" y2="164.7" stroke="#dcdcdc" stroke-width="1"/>
<line x1="731.3" y1="216.1" x2="955.1" y2="150.3" stroke="#dcdcdc" stroke-width="1"/>
<line x1="955.1" y1="150.3" x2="1208.1" y2="205.5" stroke="#dcdcdc" stroke-width="1"/>
<line x1="732.8" y1="257.2" x2="955.2" y2="186" stroke="#dcdcdc" stroke-width="1"/>
<line x1="955.2" y1="186" x2="1206.5" y2="245.7" stroke="#dcdcdc" stroke-width="1"/>
<line x1="734.4" y1="297.9" x2="955.3" y2="221.3" stroke="#dcdcdc" stroke-width="1"/>
<line x1="955.3" y1="221.3" x2="1205" y2="285.4" stroke="#dcdcdc" stroke-width="1"/>
<line x1="736" y1="337.9" x2="955.3" y2="256.1" stroke="#dcdcdc" stroke-width="1"/>
<line x1="955.3" y1="256.1" x2="1203.5" y2="324.6" stroke="#dcdcdc" stroke-width="1"/>
<line x1="737.5" y1="377.5" x2="955.4" y2="290.6" stroke="#dcdcdc" stroke-width="1"/>
<line x1="955.4" y1="290.6" x2="1202" y2="363.3" stroke="#dcdcdc" stroke-width="1"/>
<line x1="833.5" y1="376.4" x2="825.6" y2="27.2" stroke="#dcdcdc" stroke-width="1"/>
<line x1="1046.2" y1="353.1" x2="1050.4" y2="16.7" stroke="#dcdcdc" stroke-width="1"/>
<line x1="832.7" y1="455.2" x2="1046.2" y2="353.1" stroke="#dcdcdc" stroke-width="1"/>
<line x1="833.5" y1="376.4" x2="1086.2" y2="469" stroke="#dcdcdc" stroke-width="1"/>
<line x1="917.2" y1="340.9" x2="914.3" y2="10.9" stroke="#dcdcdc" stroke-width="1"/>
<line x1="1146.4" y1="384.5" x2="1156.8" y2="31.2" stroke="#dcdcdc" stroke-width="1"/>
<line x1="937.9" y1="498.7" x2="1146.4" y2="384.5" stroke="#dcdcdc" stroke-width="1"/>
<line x1="917.2" y1="340.9" x2="1164.9" y2="422.5" stroke="#dcdcdc" stroke-width="1"/>
<line x1="724.6" y1="45.8" x2="954.7" y2="3.5" stroke="#8a8a8a" stroke-width="1.1" stroke-dasharray="5 1.2"/>
<line x1="954.7" y1="3.5" x2="1214.5" y2="39.2" stroke="#8a8a8a" stroke-width="1.1" stroke-dasharray="5 1.2"/>
<line x1="955.5" y1="324.7" x2="954.7" y2="3.5" stroke="#8a8a8a" stroke-width="1.2"/>
<line x1="1200.6" y1="401.5" x2="1214.5" y2="39.2" stroke="#a8a8a8" stroke-width="1" stroke-dasharray="6 1.5"/>
<line x1="739" y1="416.5" x2="955.5" y2="324.7" stroke="#8a8a8a" stroke-width="1.2"/>
<line x1="955.5" y1="324.7" x2="1200.6" y2="401.5" stroke="#8a8a8a" stroke-width="1.2"/>
<g stroke-linejoin="round">
<polygon points="935.9,203.8 958.3,206.7 955.1,147.6" fill="url(#g201)" stroke="url(#g201)" stroke-width="0.7"/>
<path d="M956.7 176.6L946.2 173.8" fill="none" stroke="#444" stroke-width="1.1" stroke-opacity="0.5"/>
<polygon points="958.3,206.7 977.6,141.6 955.1,147.6" fill="url(#g202)" stroke="url(#g202)" stroke-width="0.7"/>
<path d="M966.3 179.7L956.7 176.6M976.3 145.8L969.6 143.7" fill="none" stroke="#444" stroke-width="1.1" stroke-opacity="0.5"/>
<polygon points="935.9,203.8 958.3,206.7 977.6,141.6 955.1,147.6" fill="none" stroke="#6e6e6e" stroke-width="0.8" stroke-opacity="0.55"/>
<polygon points="958.3,206.7 981.3,203.3 1000.6,175" fill="url(#g203)" stroke="url(#g203)" stroke-width="0.7"/>
<path d="M995 183.2L991.9 181.5" fill="none" stroke="#444" stroke-width="1.1" stroke-opacity="0.5"/>
<polygon points="958.3,206.7 1000.6,175 977.6,141.6" fill="url(#g204)" stroke="url(#g204)" stroke-width="0.7"/>
<path d="M991.9 181.5L966.3 179.7M980.7 146.1L976.3 145.8" fill="none" stroke="#444" stroke-width="1.1" stroke-opacity="0.5"/>
<polygon points="958.3,206.7 981.3,203.3 1000.6,175 977.6,141.6" fill="none" stroke="#6e6e6e" stroke-width="0.8" stroke-opacity="0.55"/>
<polygon points="981.3,203.3 1005.1,168.9 1000.6,175" fill="url(#g205)" stroke="url(#g205)" stroke-width="0.7"/>
<path d="M990.8 189.6L995 183.2" fill="none" stroke="#444" stroke-width="1.1" stroke-opacity="0.5"/>
<polygon points="1005.1,168.9 1024.3,160 1000.6,175" fill="url(#g206)" stroke="url(#g206)" stroke-width="0.7"/>
<polygon points="981.3,203.3 1005.1,168.9 1024.3,160 1000.6,175" fill="none" stroke="#6e6e6e" stroke-width="0.8" stroke-opacity="0.55"/>
<polygon points="1005.1,168.9 1029.9,127.9 1024.3,160" fill="url(#g207)" stroke="url(#g207)" stroke-width="0.7"/>
<path d="M1009.2 162.1L1024.9 156.5M1026.6 133.5L1029.1 132.5" fill="none" stroke="#444" stroke-width="1.1" stroke-opacity="0.5"/>
<polygon points="1029.9,127.9 1049.1,120 1024.3,160" fill="url(#g208)" stroke="url(#g208)" stroke-width="0.7"/>
<path d="M1026.9 155.8L1024.9 156.5M1044.5 127.5L1029.1 132.5" fill="none" stroke="#444" stroke-width="1.1" stroke-opacity="0.5"/>
<polygon points="1005.1,168.9 1029.9,127.9 1049.1,120 1024.3,160" fill="none" stroke="#6e6e6e" stroke-width="0.8" stroke-opacity="0.55"/>
<polygon points="1029.9,127.9 1055.9,73.8 1049.1,120" fill="url(#g209)" stroke="url(#g209)" stroke-width="0.7"/>
<path d="M1041.8 103.2L1052.1 100" fill="none" stroke="#444" stroke-width="1.1" stroke-opacity="0.5"/>
<polygon points="1055.9,73.8 1075.5,49.3 1049.1,120" fill="url(#g210)" stroke="url(#g210)" stroke-width="0.7"/>
<path d="M1057.6 97.2L1052.1 100M1057.3 72.1L1069.2 66.2" fill="none" stroke="#444" stroke-width="1.1" stroke-opacity="0.5"/>
<polygon points="1029.9,127.9 1055.9,73.8 1075.5,49.3 1049.1,120" fill="none" stroke="#6e6e6e" stroke-width="0.8" stroke-opacity="0.55"/>
<polygon points="1055.9,73.8 1081,142 1075.5,49.3" fill="url(#g211)" stroke="url(#g211)" stroke-width="0.7"/>
<path d="M1068.7 108.5L1078.9 107.3M1076.7 69.8L1057.3 72.1" fill="none" stroke="#444" stroke-width="1.1" stroke-opacity="0.5"/>
<polygon points="1081,142 1098.2,215 1075.5,49.3" fill="url(#g212)" stroke="url(#g212)" stroke-width="0.7"/>
<path d="M1095.7 204.5L1096.6 203.2M1088.6 174.3L1091.9 169.3M1081.5 144.2L1087.3 135.5M1082.7 101.7L1078.9 107.3M1078 67.8L1076.7 69.8" fill="none" stroke="#444" stroke-width="1.1" stroke-opacity="0.5"/>
<polygon points="1055.9,73.8 1081,142 1098.2,215 1075.5,49.3" fill="none" stroke="#6e6e6e" stroke-width="0.8" stroke-opacity="0.55"/>
<polygon points="1081,142 1109.1,76.7 1128.7,43.1" fill="url(#g213)" stroke="url(#g213)" stroke-width="0.7"/>
<path d="M1093.6 112.6L1096.3 110.3M1107.3 80.9L1112.8 76" fill="none" stroke="#444" stroke-width="1.1" stroke-opacity="0.5"/>
<polygon points="1081,142 1128.7,43.1 1098.2,215" fill="url(#g214)" stroke="url(#g214)" stroke-width="0.7"/>
<path d="M1100.2 203.7L1095.7 204.5M1106 171.3L1088.6 174.3M1111.7 139L1081.5 144.2M1096.3 110.3L1117.4 106.6M1112.8 76L1123.2 74.2" fill="none" stroke="#444" stroke-width="1.1" stroke-opacity="0.5"/>
<polygon points="1081,142 1109.1,76.7 1128.7,43.1 1098.2,215" fill="none" stroke="#6e6e6e" stroke-width="0.8" stroke-opacity="0.55"/>
<polygon points="1109.1,76.7 1137.2,65 1128.7,43.1" fill="url(#g215)" stroke="url(#g215)" stroke-width="0.7"/>
<polygon points="1137.2,65 1156.1,55.2 1128.7,43.1" fill="url(#g216)" stroke="url(#g216)" stroke-width="0.7"/>
<polygon points="1109.1,76.7 1137.2,65 1156.1,55.2 1128.7,43.1" fill="none" stroke="#6e6e6e" stroke-width="0.8" stroke-opacity="0.55"/>
<polygon points="1137.2,65 1160.1,250 1156.1,55.2" fill="url(#g217)" stroke="url(#g217)" stroke-width="0.7"/>
<path d="M1157.5 228.7L1159.7 228.2M1153.1 193.1L1158.9 191.6M1148.6 157.4L1158.1 155M1144.2 121.7L1157.4 118.5M1139.8 86.1L1156.6 81.9" fill="none" stroke="#444" stroke-width="1.1" stroke-opacity="0.5"/>
<polygon points="1160.1,250 1175.4,327 1156.1,55.2" fill="url(#g218)" stroke="url(#g218)" stroke-width="0.7"/>
<path d="M1174.3 321.6L1174.9 320.8M1168.4 291.8L1172.5 286.4M1162.5 262L1170 252.1M1167.6 217.7L1159.7 228.2M1165.2 183.3L1158.9 191.6M1162.7 149L1158.1 155M1160.3 114.6L1157.4 118.5M1157.8 80.3L1156.6 81.9" fill="none" stroke="#444" stroke-width="1.1" stroke-opacity="0.5"/>
<polygon points="1137.2,65 1160.1,250 1175.4,327 1156.1,55.2" fill="none" stroke="#6e6e6e" stroke-width="0.8" stroke-opacity="0.55"/>
<polygon points="1160.1,250 1183.5,398 1175.4,327" fill="url(#g219)" stroke="url(#g219)" stroke-width="0.7"/>
<path d="M1179 369.5L1179.5 362.6M1173.5 334.3L1174.3 321.6M1167.9 299.2L1168.4 291.8M1162.4 264.1L1162.5 262" fill="none" stroke="#444" stroke-width="1.1" stroke-opacity="0.5"/>
<polygon points="1183.5,398 1200.8,395 1175.4,327" fill="url(#g220)" stroke="url(#g220)" stroke-width="0.7"/>
<path d="M1186.6 357L1179.5 362.6" fill="none" stroke="#444" stroke-width="1.1" stroke-opacity="0.5"/>
<polygon points="1160.1,250 1183.5,398 1200.8,395 1175.4,327" fill="none" stroke="#6e6e6e" stroke-width="0.8" stroke-opacity="0.55"/>
<polygon points="915.8,179.3 938.5,204.2 935.9,203.8" fill="url(#g221)" stroke="url(#g221)" stroke-width="0.7"/>
<path d="M920.2 184.1L918.2 182.3" fill="none" stroke="#444" stroke-width="1.1" stroke-opacity="0.5"/>
<polygon points="938.5,204.2 958.3,206.7 935.9,203.8" fill="url(#g222)" stroke="url(#g222)" stroke-width="0.7"/>
<polygon points="915.8,179.3 938.5,204.2 958.3,206.7 935.9,203.8" fill="none" stroke="#6e6e6e" stroke-width="0.8" stroke-opacity="0.55"/>
<polygon points="938.5,204.2 961.6,210 981.3,203.3" fill="#b4ff00" stroke="#b4ff00" stroke-width="0.7"/>
<polygon points="938.5,204.2 981.3,203.3 958.3,206.7" fill="url(#g223)" stroke="url(#g223)" stroke-width="0.7"/>
<polygon points="938.5,204.2 961.6,210 981.3,203.3 958.3,206.7" fill="none" stroke="#6e6e6e" stroke-width="0.8" stroke-opacity="0.55"/>
<polygon points="961.6,210 985.4,184.6 981.3,203.3" fill="url(#g224)" stroke="url(#g224)" stroke-width="0.7"/>
<path d="M973.8 196.9L983.4 193.7" fill="none" stroke="#444" stroke-width="1.1" stroke-opacity="0.5"/>
<polygon points="985.4,184.6 1005.1,168.9 981.3,203.3" fill="url(#g225)" stroke="url(#g225)" stroke-width="0.7"/>
<path d="M990.8 189.6L983.4 193.7" fill="none" stroke="#444" stroke-width="1.1" stroke-opacity="0.5"/>
<polygon points="961.6,210 985.4,184.6 1005.1,168.9 981.3,203.3" fill="none" stroke="#6e6e6e" stroke-width="0.8" stroke-opacity="0.55"/>
<polygon points="985.4,184.6 1010.1,148.9 1005.1,168.9" fill="url(#g226)" stroke="url(#g226)" stroke-width="0.7"/>
<path d="M995.7 169.7L1006.3 164.1" fill="none" stroke="#444" stroke-width="1.1" stroke-opacity="0.5"/>
<polygon points="1010.1,148.9 1029.9,127.9 1005.1,168.9" fill="url(#g227)" stroke="url(#g227)" stroke-width="0.7"/>
<path d="M1009.2 162.1L1006.3 164.1M1021.6 136.8L1026.6 133.5" fill="none" stroke="#444" stroke-width="1.1" stroke-opacity="0.5"/>
<polygon points="985.4,184.6 1010.1,148.9 1029.9,127.9 1005.1,168.9" fill="none" stroke="#6e6e6e" stroke-width="0.8" stroke-opacity="0.55"/>
<polygon points="1010.1,148.9 1035.9,97.2 1029.9,127.9" fill="url(#g228)" stroke="url(#g228)" stroke-width="0.7"/>
<path d="M1014.1 140.8L1021.6 136.8M1029.5 110.2L1033.9 107.8" fill="none" stroke="#444" stroke-width="1.1" stroke-opacity="0.5"/>
<polygon points="1035.9,97.2 1055.9,73.8 1029.9,127.9" fill="url(#g229)" stroke="url(#g229)" stroke-width="0.7"/>
<path d="M1041.8 103.2L1033.9 107.8" fill="none" stroke="#444" stroke-width="1.1" stroke-opacity="0.5"/>
<polygon points="1010.1,148.9 1035.9,97.2 1055.9,73.8 1029.9,127.9" fill="none" stroke="#6e6e6e" stroke-width="0.8" stroke-opacity="0.55"/>
<polygon points="1035.9,97.2 1061.8,130.7 1081,142" fill="url(#g230)" stroke="url(#g230)" stroke-width="0.7"/>
<path d="M1049 114.2L1050.1 111.3" fill="none" stroke="#444" stroke-width="1.1" stroke-opacity="0.5"/>
<polygon points="1035.9,97.2 1081,142 1055.9,73.8" fill="url(#g231)" stroke="url(#g231)" stroke-width="0.7"/>
<path d="M1050.1 111.3L1068.7 108.5" fill="none" stroke="#444" stroke-width="1.1" stroke-opacity="0.5"/>
<polygon points="1035.9,97.2 1061.8,130.7 1081,142 1055.9,73.8" fill="none" stroke="#6e6e6e" stroke-width="0.8" stroke-opacity="0.55"/>
<polygon points="1061.8,130.7 1088.7,131.4 1081,142" fill="url(#g232)" stroke="url(#g232)" stroke-width="0.7"/>
<polygon points="1088.7,131.4 1109.1,76.7 1081,142" fill="url(#g233)" stroke="url(#g233)" stroke-width="0.7"/>
<path d="M1092.7 120.5L1093.6 112.6M1107.2 81.8L1107.3 80.9" fill="none" stroke="#444" stroke-width="1.1" stroke-opacity="0.5"/>
<polygon points="1061.8,130.7 1088.7,131.4 1109.1,76.7 1081,142" fill="none" stroke="#6e6e6e" stroke-width="0.8" stroke-opacity="0.55"/>
<polygon points="1088.7,131.4 1117.5,82 1109.1,76.7" fill="url(#g234)" stroke="url(#g234)" stroke-width="0.7"/>
<path d="M1093.9 122.4L1092.7 120.5M1112.7 90.3L1107.2 81.8" fill="none" stroke="#444" stroke-width="1.1" stroke-opacity="0.5"/>
<polygon points="1117.5,82 1137.2,65 1109.1,76.7" fill="url(#g235)" stroke="url(#g235)" stroke-width="0.7"/>
<polygon points="1088.7,131.4 1117.5,82 1137.2,65 1109.1,76.7" fill="none" stroke="#6e6e6e" stroke-width="0.8" stroke-opacity="0.55"/>
<polygon points="1117.5,82 1141.5,255 1160.1,250" fill="url(#g236)" stroke="url(#g236)" stroke-width="0.7"/>
<path d="M1139 236.6L1154.9 229.3M1133.9 200.3L1146.1 194.8M1128.9 164.1L1137.4 160.2M1123.9 127.8L1128.6 125.6M1118.9 91.5L1119.8 91" fill="none" stroke="#444" stroke-width="1.1" stroke-opacity="0.5"/>
<polygon points="1117.5,82 1160.1,250 1137.2,65" fill="url(#g237)" stroke="url(#g237)" stroke-width="0.7"/>
<path d="M1154.9 229.3L1157.5 228.7M1146.1 194.8L1153.1 193.1M1137.4 160.2L1148.6 157.4M1128.6 125.6L1144.2 121.7M1119.8 91L1139.8 86.1" fill="none" stroke="#444" stroke-width="1.1" stroke-opacity="0.5"/>
<polygon points="1117.5,82 1141.5,255 1160.1,250 1137.2,65" fill="none" stroke="#6e6e6e" stroke-width="0.8" stroke-opacity="0.55"/>
<polygon points="1141.5,255 1165.6,402.4 1160.1,250" fill="url(#g238)" stroke="url(#g238)" stroke-width="0.7"/>
<path d="M1161.9 379.9L1164.7 378.6M1156.1 344.1L1163.4 340.8M1150.2 308.4L1162 303M1144.4 272.7L1160.7 265.2" fill="none" stroke="#444" stroke-width="1.1" stroke-opacity="0.5"/>
<polygon points="1165.6,402.4 1183.5,398 1160.1,250" fill="url(#g239)" stroke="url(#g239)" stroke-width="0.7"/>
<path d="M1179 369.5L1164.7 378.6M1173.5 334.3L1163.4 340.8M1167.9 299.2L1162 303M1162.4 264.1L1160.7 265.2" fill="none" stroke="#444" stroke-width="1.1" stroke-opacity="0.5"/>
<polygon points="1141.5,255 1165.6,402.4 1183.5,398 1160.1,250" fill="none" stroke="#6e6e6e" stroke-width="0.8" stroke-opacity="0.55"/>
<polygon points="895.5,206.7 918.1,218.4 938.5,204.2" fill="url(#g240)" stroke="url(#g240)" stroke-width="0.7"/>
<polygon points="895.5,206.7 938.5,204.2 915.8,179.3" fill="url(#g241)" stroke="url(#g241)" stroke-width="0.7"/>
<path d="M920.2 184.1L912.1 184.2" fill="none" stroke="#444" stroke-width="1.1" stroke-opacity="0.5"/>
<polygon points="895.5,206.7 918.1,218.4 938.5,204.2 915.8,179.3" fill="none" stroke="#6e6e6e" stroke-width="0.8" stroke-opacity="0.55"/>
<polygon points="918.1,218.4 941.3,222.9 938.5,204.2" fill="url(#g242)" stroke="url(#g242)" stroke-width="0.7"/>
<polygon points="941.3,222.9 961.6,210 938.5,204.2" fill="url(#g243)" stroke="url(#g243)" stroke-width="0.7"/>
<polygon points="918.1,218.4 941.3,222.9 961.6,210 938.5,204.2" fill="none" stroke="#6e6e6e" stroke-width="0.8" stroke-opacity="0.55"/>
<polygon points="941.3,222.9 965,210.6 961.6,210" fill="url(#g244)" stroke="url(#g244)" stroke-width="0.7"/>
<polygon points="965,210.6 985.4,184.6 961.6,210" fill="url(#g245)" stroke="url(#g245)" stroke-width="0.7"/>
<path d="M969.2 205.3L973.8 196.9" fill="none" stroke="#444" stroke-width="1.1" stroke-opacity="0.5"/>
<polygon points="941.3,222.9 965,210.6 985.4,184.6 961.6,210" fill="none" stroke="#6e6e6e" stroke-width="0.8" stroke-opacity="0.55"/>
<polygon points="965,210.6 989.6,185.9 985.4,184.6" fill="url(#g246)" stroke="url(#g246)" stroke-width="0.7"/>
<path d="M968.2 207.4L969.2 205.3" fill="none" stroke="#444" stroke-width="1.1" stroke-opacity="0.5"/>
<polygon points="989.6,185.9 1010.1,148.9 985.4,184.6" fill="url(#g247)" stroke="url(#g247)" stroke-width="0.7"/>
<path d="M993.8 178.4L995.7 169.7" fill="none" stroke="#444" stroke-width="1.1" stroke-opacity="0.5"/>
<polygon points="965,210.6 989.6,185.9 1010.1,148.9 985.4,184.6" fill="none" stroke="#6e6e6e" stroke-width="0.8" stroke-opacity="0.55"/>
<polygon points="989.6,185.9 1015.3,137.3 1010.1,148.9" fill="url(#g248)" stroke="url(#g248)" stroke-width="0.7"/>
<path d="M992.6 180.2L993.8 178.4M1008.6 150L1012.1 144.4" fill="none" stroke="#444" stroke-width="1.1" stroke-opacity="0.5"/>
<polygon points="1015.3,137.3 1035.9,97.2 1010.1,148.9" fill="url(#g249)" stroke="url(#g249)" stroke-width="0.7"/>
<path d="M1014.1 140.8L1012.1 144.4M1027.2 114.1L1029.5 110.2" fill="none" stroke="#444" stroke-width="1.1" stroke-opacity="0.5"/>
<polygon points="989.6,185.9 1015.3,137.3 1035.9,97.2 1010.1,148.9" fill="none" stroke="#6e6e6e" stroke-width="0.8" stroke-opacity="0.55"/>
<polygon points="1015.3,137.3 1041.4,152.1 1061.8,130.7" fill="url(#g250)" stroke="url(#g250)" stroke-width="0.7"/>
<polygon points="1015.3,137.3 1061.8,130.7 1035.9,97.2" fill="url(#g251)" stroke="url(#g251)" stroke-width="0.7"/>
<path d="M1049 114.2L1027.2 114.1" fill="none" stroke="#444" stroke-width="1.1" stroke-opacity="0.5"/>
<polygon points="1015.3,137.3 1041.4,152.1 1061.8,130.7 1035.9,97.2" fill="none" stroke="#6e6e6e" stroke-width="0.8" stroke-opacity="0.55"/>
<polygon points="1041.4,152.1 1068.3,157 1061.8,130.7" fill="url(#g252)" stroke="url(#g252)" stroke-width="0.7"/>
<polygon points="1068.3,157 1088.7,131.4 1061.8,130.7" fill="url(#g253)" stroke="url(#g253)" stroke-width="0.7"/>
<polygon points="1041.4,152.1 1068.3,157 1088.7,131.4 1061.8,130.7" fill="none" stroke="#6e6e6e" stroke-width="0.8" stroke-opacity="0.55"/>
<polygon points="1068.3,157 1097.1,112 1088.7,131.4" fill="url(#g254)" stroke="url(#g254)" stroke-width="0.7"/>
<path d="M1085.2 130.5L1091.4 125.1" fill="none" stroke="#444" stroke-width="1.1" stroke-opacity="0.5"/>
<polygon points="1097.1,112 1117.5,82 1088.7,131.4" fill="url(#g255)" stroke="url(#g255)" stroke-width="0.7"/>
<path d="M1093.9 122.4L1091.4 125.1M1109.6 93.6L1112.7 90.3" fill="none" stroke="#444" stroke-width="1.1" stroke-opacity="0.5"/>
<polygon points="1068.3,157 1097.1,112 1117.5,82 1088.7,131.4" fill="none" stroke="#6e6e6e" stroke-width="0.8" stroke-opacity="0.55"/>
<polygon points="1097.1,112 1122.4,255 1141.5,255" fill="url(#g256)" stroke="url(#g256)" stroke-width="0.7"/>
<path d="M1120.6 245.1L1136 237.3M1114.1 208L1125.2 202.4M1107.5 170.8L1114.3 167.4M1100.9 133.7L1103.4 132.4" fill="none" stroke="#444" stroke-width="1.1" stroke-opacity="0.5"/>
<polygon points="1097.1,112 1141.5,255 1117.5,82" fill="url(#g257)" stroke="url(#g257)" stroke-width="0.7"/>
<path d="M1136 237.3L1139 236.6M1125.2 202.4L1133.9 200.3M1114.3 167.4L1128.9 164.1M1103.4 132.4L1123.9 127.8M1118.9 91.5L1109.6 93.6" fill="none" stroke="#444" stroke-width="1.1" stroke-opacity="0.5"/>
<polygon points="1097.1,112 1122.4,255 1141.5,255 1117.5,82" fill="none" stroke="#6e6e6e" stroke-width="0.8" stroke-opacity="0.55"/>
<polygon points="1122.4,255 1148.6,354.6 1141.5,255" fill="url(#g258)" stroke="url(#g258)" stroke-width="0.7"/>
<path d="M1139.6 320.3L1145.9 316.9M1129.7 282.6L1143 275.5" fill="none" stroke="#444" stroke-width="1.1" stroke-opacity="0.5"/>
<polygon points="1148.6,354.6 1165.6,402.4 1141.5,255" fill="url(#g259)" stroke="url(#g259)" stroke-width="0.7"/>
<path d="M1159.4 384.9L1161.9 379.9M1149.4 357.1L1156.1 344.1M1150.2 308.4L1145.9 316.9M1144.4 272.7L1143 275.5" fill="none" stroke="#444" stroke-width="1.1" stroke-opacity="0.5"/>
<polygon points="1122.4,255 1148.6,354.6 1165.6,402.4 1141.5,255" fill="none" stroke="#6e6e6e" stroke-width="0.8" stroke-opacity="0.55"/>
<polygon points="874.2,202 897.1,225.5 895.5,206.7" fill="url(#g260)" stroke="url(#g260)" stroke-width="0.7"/>
<polygon points="897.1,225.5 918.1,218.4 895.5,206.7" fill="url(#g261)" stroke="url(#g261)" stroke-width="0.7"/>
<polygon points="874.2,202 897.1,225.5 918.1,218.4 895.5,206.7" fill="none" stroke="#6e6e6e" stroke-width="0.8" stroke-opacity="0.55"/>
<polygon points="897.1,225.5 920.5,252.6 941.3,222.9" fill="url(#g262)" stroke="url(#g262)" stroke-width="0.7"/>
<path d="M906.5 236.3L932.1 236" fill="none" stroke="#444" stroke-width="1.1" stroke-opacity="0.5"/>
<polygon points="897.1,225.5 941.3,222.9 918.1,218.4" fill="url(#g263)" stroke="url(#g263)" stroke-width="0.7"/>
<polygon points="897.1,225.5 920.5,252.6 941.3,222.9 918.1,218.4" fill="none" stroke="#6e6e6e" stroke-width="0.8" stroke-opacity="0.55"/>
<polygon points="920.5,252.6 944.3,249.1 941.3,222.9" fill="url(#g264)" stroke="url(#g264)" stroke-width="0.7"/>
<path d="M943.7 243.8L932.1 236" fill="none" stroke="#444" stroke-width="1.1" stroke-opacity="0.5"/>
<polygon points="944.3,249.1 965,210.6 941.3,222.9" fill="url(#g265)" stroke="url(#g265)" stroke-width="0.7"/>
<path d="M946 246L943.7 243.8" fill="none" stroke="#444" stroke-width="1.1" stroke-opacity="0.5"/>
<polygon points="920.5,252.6 944.3,249.1 965,210.6 941.3,222.9" fill="none" stroke="#6e6e6e" stroke-width="0.8" stroke-opacity="0.55"/>
<polygon points="944.3,249.1 968.7,246.6 965,210.6" fill="url(#g266)" stroke="url(#g266)" stroke-width="0.7"/>
<path d="M951.2 248.4L946 246" fill="none" stroke="#444" stroke-width="1.1" stroke-opacity="0.5"/>
<polygon points="968.7,246.6 989.6,185.9 965,210.6" fill="url(#g267)" stroke="url(#g267)" stroke-width="0.7"/>
<path d="M979.1 216.5L968.2 207.4" fill="none" stroke="#444" stroke-width="1.1" stroke-opacity="0.5"/>
<polygon points="944.3,249.1 968.7,246.6 989.6,185.9 965,210.6" fill="none" stroke="#6e6e6e" stroke-width="0.8" stroke-opacity="0.55"/>
<polygon points="968.7,246.6 994.2,166.6 989.6,185.9" fill="url(#g268)" stroke="url(#g268)" stroke-width="0.7"/>
<path d="M976.7 221.5L979.1 216.5M986.7 190.2L990.5 182" fill="none" stroke="#444" stroke-width="1.1" stroke-opacity="0.5"/>
<polygon points="994.2,166.6 1015.3,137.3 989.6,185.9" fill="url(#g269)" stroke="url(#g269)" stroke-width="0.7"/>
<path d="M992.6 180.2L990.5 182M1002.1 155.7L1008.6 150" fill="none" stroke="#444" stroke-width="1.1" stroke-opacity="0.5"/>
<polygon points="968.7,246.6 994.2,166.6 1015.3,137.3 989.6,185.9" fill="none" stroke="#6e6e6e" stroke-width="0.8" stroke-opacity="0.55"/>
<polygon points="994.2,166.6 1020.4,183.6 1041.4,152.1" fill="url(#g270)" stroke="url(#g270)" stroke-width="0.7"/>
<path d="M1037.2 158.5L1024.1 157.5" fill="none" stroke="#444" stroke-width="1.1" stroke-opacity="0.5"/>
<polygon points="994.2,166.6 1041.4,152.1 1015.3,137.3" fill="url(#g271)" stroke="url(#g271)" stroke-width="0.7"/>
<path d="M1024.1 157.5L1002.1 155.7" fill="none" stroke="#444" stroke-width="1.1" stroke-opacity="0.5"/>
<polygon points="994.2,166.6 1020.4,183.6 1041.4,152.1 1015.3,137.3" fill="none" stroke="#6e6e6e" stroke-width="0.8" stroke-opacity="0.55"/>
<polygon points="1020.4,183.6 1047.4,188 1041.4,152.1" fill="url(#g272)" stroke="url(#g272)" stroke-width="0.7"/>
<path d="M1042.7 159.9L1037.2 158.5" fill="none" stroke="#444" stroke-width="1.1" stroke-opacity="0.5"/>
<polygon points="1047.4,188 1068.3,157 1041.4,152.1" fill="url(#g273)" stroke="url(#g273)" stroke-width="0.7"/>
<path d="M1063.3 164.5L1042.7 159.9" fill="none" stroke="#444" stroke-width="1.1" stroke-opacity="0.5"/>
<polygon points="1020.4,183.6 1047.4,188 1068.3,157 1041.4,152.1" fill="none" stroke="#6e6e6e" stroke-width="0.8" stroke-opacity="0.55"/>
<polygon points="1047.4,188 1075.9,150 1068.3,157" fill="url(#g274)" stroke="url(#g274)" stroke-width="0.7"/>
<path d="M1059.4 172L1063.3 164.5" fill="none" stroke="#444" stroke-width="1.1" stroke-opacity="0.5"/>
<polygon points="1075.9,150 1097.1,112 1068.3,157" fill="url(#g275)" stroke="url(#g275)" stroke-width="0.7"/>
<path d="M1082.9 137.4L1085.2 130.5" fill="none" stroke="#444" stroke-width="1.1" stroke-opacity="0.5"/>
<polygon points="1047.4,188 1075.9,150 1097.1,112 1068.3,157" fill="none" stroke="#6e6e6e" stroke-width="0.8" stroke-opacity="0.55"/>
<polygon points="1075.9,150 1102.4,260 1122.4,255" fill="url(#g276)" stroke="url(#g276)" stroke-width="0.7"/>
<path d="M1100.9 253.6L1118.2 245.6M1091.7 215.4L1102.6 210.3M1082.5 177.2L1087 175.1" fill="none" stroke="#444" stroke-width="1.1" stroke-opacity="0.5"/>
<polygon points="1075.9,150 1122.4,255 1097.1,112" fill="url(#g277)" stroke="url(#g277)" stroke-width="0.7"/>
<path d="M1118.2 245.6L1120.6 245.1M1102.6 210.3L1114.1 208M1087 175.1L1107.5 170.8M1100.9 133.7L1082.9 137.4" fill="none" stroke="#444" stroke-width="1.1" stroke-opacity="0.5"/>
<polygon points="1075.9,150 1102.4,260 1122.4,255 1097.1,112" fill="none" stroke="#6e6e6e" stroke-width="0.8" stroke-opacity="0.55"/>
<polygon points="1102.4,260 1128.1,400 1148.6,354.6" fill="url(#g278)" stroke="url(#g278)" stroke-width="0.7"/>
<path d="M1121.8 365.6L1146.8 358.6M1115 328.3L1133.3 323.2M1108.1 291L1116.4 288.7" fill="none" stroke="#444" stroke-width="1.1" stroke-opacity="0.5"/>
<polygon points="1102.4,260 1148.6,354.6 1122.4,255" fill="url(#g279)" stroke="url(#g279)" stroke-width="0.7"/>
<path d="M1133.3 323.2L1139.6 320.3M1116.4 288.7L1129.7 282.6" fill="none" stroke="#444" stroke-width="1.1" stroke-opacity="0.5"/>
<polygon points="1102.4,260 1128.1,400 1148.6,354.6 1122.4,255" fill="none" stroke="#6e6e6e" stroke-width="0.8" stroke-opacity="0.55"/>
<polygon points="851.5,166 875.5,240.4 874.2,202" fill="url(#g280)" stroke="url(#g280)" stroke-width="0.7"/>
<path d="M864.4 205.9L870.9 196.8M853 170.6L853.8 169.6" fill="none" stroke="#444" stroke-width="1.1" stroke-opacity="0.5"/>
<polygon points="875.5,240.4 897.1,225.5 874.2,202" fill="url(#g281)" stroke="url(#g281)" stroke-width="0.7"/>
<polygon points="851.5,166 875.5,240.4 897.1,225.5 874.2,202" fill="none" stroke="#6e6e6e" stroke-width="0.8" stroke-opacity="0.55"/>
<polygon points="875.5,240.4 899.1,265.5 920.5,252.6" fill="url(#g282)" stroke="url(#g282)" stroke-width="0.7"/>
<path d="M876.5 241.4L878.1 241.1" fill="none" stroke="#444" stroke-width="1.1" stroke-opacity="0.5"/>
<polygon points="875.5,240.4 920.5,252.6 897.1,225.5" fill="url(#g283)" stroke="url(#g283)" stroke-width="0.7"/>
<path d="M878.1 241.1L906.5 236.3" fill="none" stroke="#444" stroke-width="1.1" stroke-opacity="0.5"/>
<polygon points="875.5,240.4 899.1,265.5 920.5,252.6 897.1,225.5" fill="none" stroke="#6e6e6e" stroke-width="0.8" stroke-opacity="0.55"/>
<polygon points="899.1,265.5 923,286.7 944.3,249.1" fill="url(#g284)" stroke="url(#g284)" stroke-width="0.7"/>
<polygon points="899.1,265.5 944.3,249.1 920.5,252.6" fill="url(#g285)" stroke="url(#g285)" stroke-width="0.7"/>
<polygon points="899.1,265.5 923,286.7 944.3,249.1 920.5,252.6" fill="none" stroke="#6e6e6e" stroke-width="0.8" stroke-opacity="0.55"/>
<polygon points="923,286.7 947.4,262.4 944.3,249.1" fill="url(#g286)" stroke="url(#g286)" stroke-width="0.7"/>
<polygon points="947.4,262.4 968.7,246.6 944.3,249.1" fill="url(#g287)" stroke="url(#g287)" stroke-width="0.7"/>
<path d="M950.4 260.1L951.2 248.4" fill="none" stroke="#444" stroke-width="1.1" stroke-opacity="0.5"/>
<polygon points="923,286.7 947.4,262.4 968.7,246.6 944.3,249.1" fill="none" stroke="#6e6e6e" stroke-width="0.8" stroke-opacity="0.55"/>
<polygon points="947.4,262.4 972.6,227.4 968.7,246.6" fill="url(#g288)" stroke="url(#g288)" stroke-width="0.7"/>
<path d="M948.1 261.4L950.4 260.1M968.6 233L971.9 231.2" fill="none" stroke="#444" stroke-width="1.1" stroke-opacity="0.5"/>
<polygon points="972.6,227.4 994.2,166.6 968.7,246.6" fill="url(#g289)" stroke="url(#g289)" stroke-width="0.7"/>
<path d="M976.7 221.5L971.9 231.2M983.8 196L986.7 190.2" fill="none" stroke="#444" stroke-width="1.1" stroke-opacity="0.5"/>
<polygon points="947.4,262.4 972.6,227.4 994.2,166.6 968.7,246.6" fill="none" stroke="#6e6e6e" stroke-width="0.8" stroke-opacity="0.55"/>
<polygon points="972.6,227.4 998.8,227.6 1020.4,183.6" fill="url(#g290)" stroke="url(#g290)" stroke-width="0.7"/>
<path d="M1011.5 201.7L1003.7 198.9" fill="none" stroke="#444" stroke-width="1.1" stroke-opacity="0.5"/>
<polygon points="972.6,227.4 1020.4,183.6 994.2,166.6" fill="url(#g291)" stroke="url(#g291)" stroke-width="0.7"/>
<path d="M1003.7 198.9L983.8 196" fill="none" stroke="#444" stroke-width="1.1" stroke-opacity="0.5"/>
<polygon points="972.6,227.4 998.8,227.6 1020.4,183.6 994.2,166.6" fill="none" stroke="#6e6e6e" stroke-width="0.8" stroke-opacity="0.55"/>
<polygon points="998.8,227.6 1026,213.4 1020.4,183.6" fill="url(#g292)" stroke="url(#g292)" stroke-width="0.7"/>
<path d="M1025.7 211.9L1011.5 201.7" fill="none" stroke="#444" stroke-width="1.1" stroke-opacity="0.5"/>
<polygon points="1026,213.4 1047.4,188 1020.4,183.6" fill="url(#g293)" stroke="url(#g293)" stroke-width="0.7"/>
<path d="M1027 212.2L1025.7 211.9" fill="none" stroke="#444" stroke-width="1.1" stroke-opacity="0.5"/>
<polygon points="998.8,227.6 1026,213.4 1047.4,188 1020.4,183.6" fill="none" stroke="#6e6e6e" stroke-width="0.8" stroke-opacity="0.55"/>
<polygon points="1026,213.4 1054.3,185 1047.4,188" fill="url(#g294)" stroke="url(#g294)" stroke-width="0.7"/>
<path d="M1026.7 212.7L1027 212.2" fill="none" stroke="#444" stroke-width="1.1" stroke-opacity="0.5"/>
<polygon points="1054.3,185 1075.9,150 1047.4,188" fill="url(#g295)" stroke="url(#g295)" stroke-width="0.7"/>
<path d="M1055.9 182.4L1059.4 172" fill="none" stroke="#444" stroke-width="1.1" stroke-opacity="0.5"/>
<polygon points="1026,213.4 1054.3,185 1075.9,150 1047.4,188" fill="none" stroke="#6e6e6e" stroke-width="0.8" stroke-opacity="0.55"/>
<polygon points="1054.3,185 1081.8,265 1102.4,260" fill="url(#g296)" stroke="url(#g296)" stroke-width="0.7"/>
<path d="M1080.9 262.5L1098.6 254.1M1067.2 222.6L1075.8 218.5" fill="none" stroke="#444" stroke-width="1.1" stroke-opacity="0.5"/>
<polygon points="1054.3,185 1102.4,260 1075.9,150" fill="url(#g297)" stroke="url(#g297)" stroke-width="0.7"/>
<path d="M1098.6 254.1L1100.9 253.6M1075.8 218.5L1091.7 215.4M1082.5 177.2L1055.9 182.4" fill="none" stroke="#444" stroke-width="1.1" stroke-opacity="0.5"/>
<polygon points="1054.3,185 1081.8,265 1102.4,260 1075.9,150" fill="none" stroke="#6e6e6e" stroke-width="0.8" stroke-opacity="0.55"/>
<polygon points="1081.8,265 1108.5,387 1102.4,260" fill="url(#g298)" stroke="url(#g298)" stroke-width="0.7"/>
<path d="M1106.5 377.8L1108 377.1M1098.1 339.4L1106.1 335.8M1089.7 301L1104.1 294.4" fill="none" stroke="#444" stroke-width="1.1" stroke-opacity="0.5"/>
<polygon points="1108.5,387 1128.1,400 1102.4,260" fill="url(#g299)" stroke="url(#g299)" stroke-width="0.7"/>
<path d="M1121.8 365.6L1108 377.1M1115 328.3L1106.1 335.8M1108.1 291L1104.1 294.4" fill="none" stroke="#444" stroke-width="1.1" stroke-opacity="0.5"/>
<polygon points="1081.8,265 1108.5,387 1128.1,400 1102.4,260" fill="none" stroke="#6e6e6e" stroke-width="0.8" stroke-opacity="0.55"/>
<polygon points="829.2,185.8 853.1,239.6 875.5,240.4" fill="url(#g300)" stroke="url(#g300)" stroke-width="0.7"/>
<path d="M841.2 212.8L849 209.1" fill="none" stroke="#444" stroke-width="1.1" stroke-opacity="0.5"/>
<polygon points="829.2,185.8 875.5,240.4 851.5,166" fill="url(#g301)" stroke="url(#g301)" stroke-width="0.7"/>
<path d="M849 209.1L864.4 205.9M853 170.6L844.3 172.4" fill="none" stroke="#444" stroke-width="1.1" stroke-opacity="0.5"/>
<polygon points="829.2,185.8 853.1,239.6 875.5,240.4 851.5,166" fill="none" stroke="#6e6e6e" stroke-width="0.8" stroke-opacity="0.55"/>
<polygon points="853.1,239.6 877,282.1 899.1,265.5" fill="url(#g302)" stroke="url(#g302)" stroke-width="0.7"/>
<path d="M859.2 250.6L868.7 248.4" fill="none" stroke="#444" stroke-width="1.1" stroke-opacity="0.5"/>
<polygon points="853.1,239.6 899.1,265.5 875.5,240.4" fill="url(#g303)" stroke="url(#g303)" stroke-width="0.7"/>
<path d="M868.7 248.4L876.5 241.4" fill="none" stroke="#444" stroke-width="1.1" stroke-opacity="0.5"/>
<polygon points="853.1,239.6 877,282.1 899.1,265.5 875.5,240.4" fill="none" stroke="#6e6e6e" stroke-width="0.8" stroke-opacity="0.55"/>
<polygon points="877,282.1 900.9,287.9 923,286.7" fill="url(#g304)" stroke="url(#g304)" stroke-width="0.7"/>
<polygon points="877,282.1 923,286.7 899.1,265.5" fill="url(#g305)" stroke="url(#g305)" stroke-width="0.7"/>
<polygon points="877,282.1 900.9,287.9 923,286.7 899.1,265.5" fill="none" stroke="#6e6e6e" stroke-width="0.8" stroke-opacity="0.55"/>
<polygon points="900.9,287.9 925.4,288.8 923,286.7" fill="url(#g306)" stroke="url(#g306)" stroke-width="0.7"/>
<polygon points="925.4,288.8 947.4,262.4 923,286.7" fill="url(#g307)" stroke="url(#g307)" stroke-width="0.7"/>
<polygon points="900.9,287.9 925.4,288.8 947.4,262.4 923,286.7" fill="none" stroke="#6e6e6e" stroke-width="0.8" stroke-opacity="0.55"/>
<polygon points="925.4,288.8 950.6,252.9 947.4,262.4" fill="url(#g308)" stroke="url(#g308)" stroke-width="0.7"/>
<path d="M936.8 272.6L947.5 261.9" fill="none" stroke="#444" stroke-width="1.1" stroke-opacity="0.5"/>
<polygon points="950.6,252.9 972.6,227.4 947.4,262.4" fill="url(#g309)" stroke="url(#g309)" stroke-width="0.7"/>
<path d="M948.1 261.4L947.5 261.9M964 237.3L968.6 233" fill="none" stroke="#444" stroke-width="1.1" stroke-opacity="0.5"/>
<polygon points="925.4,288.8 950.6,252.9 972.6,227.4 947.4,262.4" fill="none" stroke="#6e6e6e" stroke-width="0.8" stroke-opacity="0.55"/>
<polygon points="950.6,252.9 976.8,250.3 972.6,227.4" fill="url(#g310)" stroke="url(#g310)" stroke-width="0.7"/>
<path d="M976.3 247.3L964 237.3" fill="none" stroke="#444" stroke-width="1.1" stroke-opacity="0.5"/>
<polygon points="976.8,250.3 998.8,227.6 972.6,227.4" fill="url(#g311)" stroke="url(#g311)" stroke-width="0.7"/>
<path d="M978.4 248.6L976.3 247.3" fill="none" stroke="#444" stroke-width="1.1" stroke-opacity="0.5"/>
<polygon points="950.6,252.9 976.8,250.3 998.8,227.6 972.6,227.4" fill="none" stroke="#6e6e6e" stroke-width="0.8" stroke-opacity="0.55"/>
<polygon points="976.8,250.3 1003.9,249.1 998.8,227.6" fill="url(#g312)" stroke="url(#g312)" stroke-width="0.7"/>
<path d="M980.2 250.1L978.4 248.6" fill="none" stroke="#444" stroke-width="1.1" stroke-opacity="0.5"/>
<polygon points="1003.9,249.1 1026,213.4 998.8,227.6" fill="url(#g313)" stroke="url(#g313)" stroke-width="0.7"/>
<polygon points="976.8,250.3 1003.9,249.1 1026,213.4 998.8,227.6" fill="none" stroke="#6e6e6e" stroke-width="0.8" stroke-opacity="0.55"/>
<polygon points="1003.9,249.1 1031.9,239.2 1026,213.4" fill="url(#g314)" stroke="url(#g314)" stroke-width="0.7"/>
<polygon points="1031.9,239.2 1054.3,185 1026,213.4" fill="url(#g315)" stroke="url(#g315)" stroke-width="0.7"/>
<path d="M1037.6 225.5L1026.7 212.7" fill="none" stroke="#444" stroke-width="1.1" stroke-opacity="0.5"/>
<polygon points="1003.9,249.1 1031.9,239.2 1054.3,185 1026,213.4" fill="none" stroke="#6e6e6e" stroke-width="0.8" stroke-opacity="0.55"/>
<polygon points="1031.9,239.2 1060.7,250 1081.8,265" fill="url(#g316)" stroke="url(#g316)" stroke-width="0.7"/>
<path d="M1079.7 263.5L1077.5 262.8" fill="none" stroke="#444" stroke-width="1.1" stroke-opacity="0.5"/>
<polygon points="1031.9,239.2 1081.8,265 1054.3,185" fill="url(#g317)" stroke="url(#g317)" stroke-width="0.7"/>
<path d="M1077.5 262.8L1080.9 262.5M1067.2 222.6L1037.6 225.5" fill="none" stroke="#444" stroke-width="1.1" stroke-opacity="0.5"/>
<polygon points="1031.9,239.2 1060.7,250 1081.8,265 1054.3,185" fill="none" stroke="#6e6e6e" stroke-width="0.8" stroke-opacity="0.55"/>
<polygon points="1060.7,250 1089,325 1081.8,265" fill="url(#g318)" stroke="url(#g318)" stroke-width="0.7"/>
<path d="M1085.5 315.7L1087.6 313.4M1069.8 274.3L1079.7 263.5" fill="none" stroke="#444" stroke-width="1.1" stroke-opacity="0.5"/>
<polygon points="1089,325 1108.5,387 1081.8,265" fill="url(#g319)" stroke="url(#g319)" stroke-width="0.7"/>
<path d="M1106.2 379.7L1106.5 377.8M1096.5 348.9L1098.1 339.4M1089.7 301L1087.6 313.4" fill="none" stroke="#444" stroke-width="1.1" stroke-opacity="0.5"/>
<polygon points="1060.7,250 1089,325 1108.5,387 1081.8,265" fill="none" stroke="#6e6e6e" stroke-width="0.8" stroke-opacity="0.55"/>
<polygon points="805.7,186 830,249.9 829.2,185.8" fill="url(#g320)" stroke="url(#g320)" stroke-width="0.7"/>
<path d="M818.7 220.3L829.6 216.3" fill="none" stroke="#444" stroke-width="1.1" stroke-opacity="0.5"/>
<polygon points="830,249.9 853.1,239.6 829.2,185.8" fill="url(#g321)" stroke="url(#g321)" stroke-width="0.7"/>
<path d="M841.2 212.8L829.6 216.3" fill="none" stroke="#444" stroke-width="1.1" stroke-opacity="0.5"/>
<polygon points="805.7,186 830,249.9 853.1,239.6 829.2,185.8" fill="none" stroke="#6e6e6e" stroke-width="0.8" stroke-opacity="0.55"/>
<polygon points="830,249.9 853.8,275.3 853.1,239.6" fill="url(#g322)" stroke="url(#g322)" stroke-width="0.7"/>
<path d="M838.7 259.2L853.4 255.5" fill="none" stroke="#444" stroke-width="1.1" stroke-opacity="0.5"/>
<polygon points="853.8,275.3 877,282.1 853.1,239.6" fill="url(#g323)" stroke="url(#g323)" stroke-width="0.7"/>
<path d="M859.2 250.6L853.4 255.5" fill="none" stroke="#444" stroke-width="1.1" stroke-opacity="0.5"/>
<polygon points="830,249.9 853.8,275.3 877,282.1 853.1,239.6" fill="none" stroke="#6e6e6e" stroke-width="0.8" stroke-opacity="0.55"/>
<polygon points="853.8,275.3 878.1,294.1 877,282.1" fill="url(#g324)" stroke="url(#g324)" stroke-width="0.7"/>
<polygon points="878.1,294.1 900.9,287.9 877,282.1" fill="url(#g325)" stroke="url(#g325)" stroke-width="0.7"/>
<polygon points="853.8,275.3 878.1,294.1 900.9,287.9 877,282.1" fill="none" stroke="#6e6e6e" stroke-width="0.8" stroke-opacity="0.55"/>
<polygon points="878.1,294.1 902.5,280.6 925.4,288.8" fill="url(#g326)" stroke="url(#g326)" stroke-width="0.7"/>
<polygon points="878.1,294.1 925.4,288.8 900.9,287.9" fill="url(#g327)" stroke="url(#g327)" stroke-width="0.7"/>
<polygon points="878.1,294.1 902.5,280.6 925.4,288.8 900.9,287.9" fill="none" stroke="#6e6e6e" stroke-width="0.8" stroke-opacity="0.55"/>
<polygon points="902.5,280.6 927.7,245 950.6,252.9" fill="url(#g328)" stroke="url(#g328)" stroke-width="0.7"/>
<path d="M904 278.5L907 277.9M924.5 249.4L935.3 247.6" fill="none" stroke="#444" stroke-width="1.1" stroke-opacity="0.5"/>
<polygon points="902.5,280.6 950.6,252.9 925.4,288.8" fill="url(#g329)" stroke="url(#g329)" stroke-width="0.7"/>
<path d="M907 277.9L936.8 272.6" fill="none" stroke="#444" stroke-width="1.1" stroke-opacity="0.5"/>
<polygon points="902.5,280.6 927.7,245 950.6,252.9 925.4,288.8" fill="none" stroke="#6e6e6e" stroke-width="0.8" stroke-opacity="0.55"/>
<polygon points="927.7,245 954.1,271.5 950.6,252.9" fill="url(#g330)" stroke="url(#g330)" stroke-width="0.7"/>
<path d="M935.2 252.5L935.3 247.6" fill="none" stroke="#444" stroke-width="1.1" stroke-opacity="0.5"/>
<polygon points="954.1,271.5 976.8,250.3 950.6,252.9" fill="url(#g331)" stroke="url(#g331)" stroke-width="0.7"/>
<polygon points="927.7,245 954.1,271.5 976.8,250.3 950.6,252.9" fill="none" stroke="#6e6e6e" stroke-width="0.8" stroke-opacity="0.55"/>
<polygon points="954.1,271.5 981.2,266.3 976.8,250.3" fill="url(#g332)" stroke="url(#g332)" stroke-width="0.7"/>
<polygon points="981.2,266.3 1003.9,249.1 976.8,250.3" fill="url(#g333)" stroke="url(#g333)" stroke-width="0.7"/>
<path d="M984.1 264.1L980.2 250.1" fill="none" stroke="#444" stroke-width="1.1" stroke-opacity="0.5"/>
<polygon points="954.1,271.5 981.2,266.3 1003.9,249.1 976.8,250.3" fill="none" stroke="#6e6e6e" stroke-width="0.8" stroke-opacity="0.55"/>
<polygon points="981.2,266.3 1009.4,247.8 1003.9,249.1" fill="url(#g334)" stroke="url(#g334)" stroke-width="0.7"/>
<path d="M982.4 265.5L984.1 264.1" fill="none" stroke="#444" stroke-width="1.1" stroke-opacity="0.5"/>
<polygon points="1009.4,247.8 1031.9,239.2 1003.9,249.1" fill="url(#g335)" stroke="url(#g335)" stroke-width="0.7"/>
<polygon points="981.2,266.3 1009.4,247.8 1031.9,239.2 1003.9,249.1" fill="none" stroke="#6e6e6e" stroke-width="0.8" stroke-opacity="0.55"/>
<polygon points="1009.4,247.8 1038.8,212 1060.7,250" fill="url(#g336)" stroke="url(#g336)" stroke-width="0.7"/>
<path d="M1017.6 237.8L1053.4 237.3" fill="none" stroke="#444" stroke-width="1.1" stroke-opacity="0.5"/>
<polygon points="1009.4,247.8 1060.7,250 1031.9,239.2" fill="url(#g337)" stroke="url(#g337)" stroke-width="0.7"/>
<polygon points="1009.4,247.8 1038.8,212 1060.7,250 1031.9,239.2" fill="none" stroke="#6e6e6e" stroke-width="0.8" stroke-opacity="0.55"/>
<polygon points="1038.8,212 1067.5,308 1060.7,250" fill="url(#g338)" stroke="url(#g338)" stroke-width="0.7"/>
<path d="M1061.4 287.4L1064.4 281.4M1049 246.1L1053.4 237.3" fill="none" stroke="#444" stroke-width="1.1" stroke-opacity="0.5"/>
<polygon points="1067.5,308 1089,325 1060.7,250" fill="url(#g339)" stroke="url(#g339)" stroke-width="0.7"/>
<path d="M1082.4 319.7L1085.5 315.7M1069.8 274.3L1064.4 281.4" fill="none" stroke="#444" stroke-width="1.1" stroke-opacity="0.5"/>
<polygon points="1038.8,212 1067.5,308 1089,325 1060.7,250" fill="none" stroke="#6e6e6e" stroke-width="0.8" stroke-opacity="0.55"/>
<polygon points="782.7,231 806,249.9 830,249.9" fill="url(#g340)" stroke="url(#g340)" stroke-width="0.7"/>
<polygon points="782.7,231 830,249.9 805.7,186" fill="url(#g341)" stroke="url(#g341)" stroke-width="0.7"/>
<path d="M818.7 220.3L786.8 223" fill="none" stroke="#444" stroke-width="1.1" stroke-opacity="0.5"/>
<polygon points="782.7,231 806,249.9 830,249.9 805.7,186" fill="none" stroke="#6e6e6e" stroke-width="0.8" stroke-opacity="0.55"/>
<polygon points="806,249.9 830,275.2 830,249.9" fill="url(#g342)" stroke="url(#g342)" stroke-width="0.7"/>
<path d="M825.7 270.7L830 267.1" fill="none" stroke="#444" stroke-width="1.1" stroke-opacity="0.5"/>
<polygon points="830,275.2 853.8,275.3 830,249.9" fill="url(#g343)" stroke="url(#g343)" stroke-width="0.7"/>
<path d="M838.7 259.2L830 267.1" fill="none" stroke="#444" stroke-width="1.1" stroke-opacity="0.5"/>
<polygon points="806,249.9 830,275.2 853.8,275.3 830,249.9" fill="none" stroke="#6e6e6e" stroke-width="0.8" stroke-opacity="0.55"/>
<polygon points="830,275.2 853.9,273.9 853.8,275.3" fill="url(#g344)" stroke="url(#g344)" stroke-width="0.7"/>
<path d="M839 274.7L853.9 274.3" fill="none" stroke="#444" stroke-width="1.1" stroke-opacity="0.5"/>
<polygon points="853.9,273.9 878.1,294.1 853.8,275.3" fill="url(#g345)" stroke="url(#g345)" stroke-width="0.7"/>
<path d="M858.4 277.6L853.9 274.3" fill="none" stroke="#444" stroke-width="1.1" stroke-opacity="0.5"/>
<polygon points="830,275.2 853.9,273.9 878.1,294.1 853.8,275.3" fill="none" stroke="#6e6e6e" stroke-width="0.8" stroke-opacity="0.55"/>
<polygon points="853.9,273.9 879,294.4 902.5,280.6" fill="url(#g346)" stroke="url(#g346)" stroke-width="0.7"/>
<path d="M864.5 282.6L887.2 278.5" fill="none" stroke="#444" stroke-width="1.1" stroke-opacity="0.5"/>
<polygon points="853.9,273.9 902.5,280.6 878.1,294.1" fill="url(#g347)" stroke="url(#g347)" stroke-width="0.7"/>
<path d="M887.2 278.5L858.4 277.6" fill="none" stroke="#444" stroke-width="1.1" stroke-opacity="0.5"/>
<polygon points="853.9,273.9 879,294.4 902.5,280.6 878.1,294.1" fill="none" stroke="#6e6e6e" stroke-width="0.8" stroke-opacity="0.55"/>
<polygon points="879,294.4 904.5,298.1 902.5,280.6" fill="url(#g348)" stroke="url(#g348)" stroke-width="0.7"/>
<polygon points="904.5,298.1 927.7,245 902.5,280.6" fill="url(#g349)" stroke="url(#g349)" stroke-width="0.7"/>
<path d="M906.2 294.1L904 278.5M924.8 251.5L924.5 249.4" fill="none" stroke="#444" stroke-width="1.1" stroke-opacity="0.5"/>
<polygon points="879,294.4 904.5,298.1 927.7,245 902.5,280.6" fill="none" stroke="#6e6e6e" stroke-width="0.8" stroke-opacity="0.55"/>
<polygon points="904.5,298.1 930.7,296.5 954.1,271.5" fill="url(#g350)" stroke="url(#g350)" stroke-width="0.7"/>
<path d="M913.7 297.5L911.1 294.5" fill="none" stroke="#444" stroke-width="1.1" stroke-opacity="0.5"/>
<polygon points="904.5,298.1 954.1,271.5 927.7,245" fill="url(#g351)" stroke="url(#g351)" stroke-width="0.7"/>
<path d="M911.1 294.5L906.2 294.1M935.2 252.5L924.8 251.5" fill="none" stroke="#444" stroke-width="1.1" stroke-opacity="0.5"/>
<polygon points="904.5,298.1 930.7,296.5 954.1,271.5 927.7,245" fill="none" stroke="#6e6e6e" stroke-width="0.8" stroke-opacity="0.55"/>
<polygon points="930.7,296.5 957.9,283.2 954.1,271.5" fill="url(#g352)" stroke="url(#g352)" stroke-width="0.7"/>
<polygon points="957.9,283.2 981.2,266.3 954.1,271.5" fill="url(#g353)" stroke="url(#g353)" stroke-width="0.7"/>
<polygon points="930.7,296.5 957.9,283.2 981.2,266.3 954.1,271.5" fill="none" stroke="#6e6e6e" stroke-width="0.8" stroke-opacity="0.55"/>
<polygon points="957.9,283.2 986.1,245.5 1009.4,247.8" fill="url(#g354)" stroke="url(#g354)" stroke-width="0.7"/>
<path d="M963.5 275.7L971.4 273.9" fill="none" stroke="#444" stroke-width="1.1" stroke-opacity="0.5"/>
<polygon points="957.9,283.2 1009.4,247.8 981.2,266.3" fill="url(#g355)" stroke="url(#g355)" stroke-width="0.7"/>
<path d="M971.4 273.9L982.4 265.5" fill="none" stroke="#444" stroke-width="1.1" stroke-opacity="0.5"/>
<polygon points="957.9,283.2 986.1,245.5 1009.4,247.8 981.2,266.3" fill="none" stroke="#6e6e6e" stroke-width="0.8" stroke-opacity="0.55"/>
<polygon points="986.1,245.5 1015.7,190 1038.8,212" fill="url(#g356)" stroke="url(#g356)" stroke-width="0.7"/>
<path d="M986.5 244.7L987.5 244.5M1004.7 210.5L1033.6 207" fill="none" stroke="#444" stroke-width="1.1" stroke-opacity="0.5"/>
<polygon points="986.1,245.5 1038.8,212 1009.4,247.8" fill="url(#g357)" stroke="url(#g357)" stroke-width="0.7"/>
<path d="M987.5 244.5L1017.6 237.8" fill="none" stroke="#444" stroke-width="1.1" stroke-opacity="0.5"/>
<polygon points="986.1,245.5 1015.7,190 1038.8,212 1009.4,247.8" fill="none" stroke="#6e6e6e" stroke-width="0.8" stroke-opacity="0.55"/>
<polygon points="1015.7,190 1045.2,275 1038.8,212" fill="url(#g358)" stroke="url(#g358)" stroke-width="0.7"/>
<path d="M1039.6 258.8L1043.2 255.2M1024.7 215.8L1033.6 207" fill="none" stroke="#444" stroke-width="1.1" stroke-opacity="0.5"/>
<polygon points="1045.2,275 1067.5,308 1038.8,212" fill="url(#g359)" stroke="url(#g359)" stroke-width="0.7"/>
<path d="M1057.6 293.4L1061.4 287.4M1049 246.1L1043.2 255.2" fill="none" stroke="#444" stroke-width="1.1" stroke-opacity="0.5"/>
<polygon points="1015.7,190 1045.2,275 1067.5,308 1038.8,212" fill="none" stroke="#6e6e6e" stroke-width="0.8" stroke-opacity="0.55"/>
<polygon points="757.1,211.6 780.9,243.6 782.7,231" fill="url(#g360)" stroke="url(#g360)" stroke-width="0.7"/>
<path d="M776.3 237.4L776.2 226.1" fill="none" stroke="#444" stroke-width="1.1" stroke-opacity="0.5"/>
<polygon points="780.9,243.6 806,249.9 782.7,231" fill="url(#g361)" stroke="url(#g361)" stroke-width="0.7"/>
<polygon points="757.1,211.6 780.9,243.6 806,249.9 782.7,231" fill="none" stroke="#6e6e6e" stroke-width="0.8" stroke-opacity="0.55"/>
<polygon points="780.9,243.6 804.8,259.5 806,249.9" fill="url(#g362)" stroke="url(#g362)" stroke-width="0.7"/>
<polygon points="804.8,259.5 830,275.2 806,249.9" fill="url(#g363)" stroke="url(#g363)" stroke-width="0.7"/>
<path d="M826.5 273L825.7 270.7" fill="none" stroke="#444" stroke-width="1.1" stroke-opacity="0.5"/>
<polygon points="780.9,243.6 804.8,259.5 830,275.2 806,249.9" fill="none" stroke="#6e6e6e" stroke-width="0.8" stroke-opacity="0.55"/>
<polygon points="804.8,259.5 828.2,232 853.9,273.9" fill="url(#g364)" stroke="url(#g364)" stroke-width="0.7"/>
<path d="M814.2 248.4L838.7 249.1" fill="none" stroke="#444" stroke-width="1.1" stroke-opacity="0.5"/>
<polygon points="804.8,259.5 853.9,273.9 830,275.2" fill="url(#g365)" stroke="url(#g365)" stroke-width="0.7"/>
<path d="M839 274.7L826.5 273" fill="none" stroke="#444" stroke-width="1.1" stroke-opacity="0.5"/>
<polygon points="804.8,259.5 828.2,232 853.9,273.9 830,275.2" fill="none" stroke="#6e6e6e" stroke-width="0.8" stroke-opacity="0.55"/>
<polygon points="828.2,232 854.4,293.2 853.9,273.9" fill="url(#g366)" stroke="url(#g366)" stroke-width="0.7"/>
<path d="M838.4 255.7L838.7 249.1" fill="none" stroke="#444" stroke-width="1.1" stroke-opacity="0.5"/>
<polygon points="854.4,293.2 879,294.4 853.9,273.9" fill="url(#g367)" stroke="url(#g367)" stroke-width="0.7"/>
<path d="M861 293.5L864.5 282.6" fill="none" stroke="#444" stroke-width="1.1" stroke-opacity="0.5"/>
<polygon points="828.2,232 854.4,293.2 879,294.4 853.9,273.9" fill="none" stroke="#6e6e6e" stroke-width="0.8" stroke-opacity="0.55"/>
<polygon points="854.4,293.2 880.4,324.6 904.5,298.1" fill="url(#g368)" stroke="url(#g368)" stroke-width="0.7"/>
<path d="M857.6 297.1L877.1 295.4" fill="none" stroke="#444" stroke-width="1.1" stroke-opacity="0.5"/>
<polygon points="854.4,293.2 904.5,298.1 879,294.4" fill="url(#g369)" stroke="url(#g369)" stroke-width="0.7"/>
<path d="M877.1 295.4L861 293.5" fill="none" stroke="#444" stroke-width="1.1" stroke-opacity="0.5"/>
<polygon points="854.4,293.2 880.4,324.6 904.5,298.1 879,294.4" fill="none" stroke="#6e6e6e" stroke-width="0.8" stroke-opacity="0.55"/>
<polygon points="880.4,324.6 906.8,333.2 904.5,298.1" fill="url(#g370)" stroke="url(#g370)" stroke-width="0.7"/>
<polygon points="906.8,333.2 930.7,296.5 904.5,298.1" fill="url(#g371)" stroke="url(#g371)" stroke-width="0.7"/>
<path d="M925.1 305.1L913.7 297.5" fill="none" stroke="#444" stroke-width="1.1" stroke-opacity="0.5"/>
<polygon points="880.4,324.6 906.8,333.2 930.7,296.5 904.5,298.1" fill="none" stroke="#6e6e6e" stroke-width="0.8" stroke-opacity="0.55"/>
<polygon points="906.8,333.2 933.8,324.6 930.7,296.5" fill="url(#g372)" stroke="url(#g372)" stroke-width="0.7"/>
<path d="M932.7 314.7L925.1 305.1" fill="none" stroke="#444" stroke-width="1.1" stroke-opacity="0.5"/>
<polygon points="933.8,324.6 957.9,283.2 930.7,296.5" fill="url(#g373)" stroke="url(#g373)" stroke-width="0.7"/>
<path d="M936.5 320L932.7 314.7" fill="none" stroke="#444" stroke-width="1.1" stroke-opacity="0.5"/>
<polygon points="906.8,333.2 933.8,324.6 957.9,283.2 930.7,296.5" fill="none" stroke="#6e6e6e" stroke-width="0.8" stroke-opacity="0.55"/>
<polygon points="933.8,324.6 961.8,277.3 957.9,283.2" fill="url(#g374)" stroke="url(#g374)" stroke-width="0.7"/>
<path d="M935.6 321.6L936.5 320M954.6 289.6L959.4 280.9" fill="none" stroke="#444" stroke-width="1.1" stroke-opacity="0.5"/>
<polygon points="961.8,277.3 986.1,245.5 957.9,283.2" fill="url(#g375)" stroke="url(#g375)" stroke-width="0.7"/>
<path d="M963.5 275.7L959.4 280.9" fill="none" stroke="#444" stroke-width="1.1" stroke-opacity="0.5"/>
<polygon points="933.8,324.6 961.8,277.3 986.1,245.5 957.9,283.2" fill="none" stroke="#6e6e6e" stroke-width="0.8" stroke-opacity="0.55"/>
<polygon points="961.8,277.3 991.3,232 986.1,245.5" fill="url(#g376)" stroke="url(#g376)" stroke-width="0.7"/>
<path d="M975.1 256.9L986.2 245.1" fill="none" stroke="#444" stroke-width="1.1" stroke-opacity="0.5"/>
<polygon points="991.3,232 1015.7,190 986.1,245.5" fill="url(#g377)" stroke="url(#g377)" stroke-width="0.7"/>
<path d="M986.5 244.7L986.2 245.1M998.4 219.8L1004.7 210.5" fill="none" stroke="#444" stroke-width="1.1" stroke-opacity="0.5"/>
<polygon points="961.8,277.3 991.3,232 1015.7,190 986.1,245.5" fill="none" stroke="#6e6e6e" stroke-width="0.8" stroke-opacity="0.55"/>
<polygon points="991.3,232 1021.4,277 1045.2,275" fill="url(#g378)" stroke="url(#g378)" stroke-width="0.7"/>
<path d="M1015.7 268.4L1027.2 260.7" fill="none" stroke="#444" stroke-width="1.1" stroke-opacity="0.5"/>
<polygon points="991.3,232 1045.2,275 1015.7,190" fill="url(#g379)" stroke="url(#g379)" stroke-width="0.7"/>
<path d="M1027.2 260.7L1039.6 258.8M1024.7 215.8L998.4 219.8" fill="none" stroke="#444" stroke-width="1.1" stroke-opacity="0.5"/>
<polygon points="991.3,232 1021.4,277 1045.2,275 1015.7,190" fill="none" stroke="#6e6e6e" stroke-width="0.8" stroke-opacity="0.55"/>
<polygon points="731.7,228 755.4,253.6 780.9,243.6" fill="url(#g380)" stroke="url(#g380)" stroke-width="0.7"/>
<path d="M746.8 244.3L766.3 239" fill="none" stroke="#444" stroke-width="1.1" stroke-opacity="0.5"/>
<polygon points="731.7,228 780.9,243.6 757.1,211.6" fill="url(#g381)" stroke="url(#g381)" stroke-width="0.7"/>
<path d="M766.3 239L776.3 237.4" fill="none" stroke="#444" stroke-width="1.1" stroke-opacity="0.5"/>
<polygon points="731.7,228 755.4,253.6 780.9,243.6 757.1,211.6" fill="none" stroke="#6e6e6e" stroke-width="0.8" stroke-opacity="0.55"/>
<polygon points="755.4,253.6 779.9,287 804.8,259.5" fill="url(#g382)" stroke="url(#g382)" stroke-width="0.7"/>
<polygon points="755.4,253.6 804.8,259.5 780.9,243.6" fill="url(#g383)" stroke="url(#g383)" stroke-width="0.7"/>
<polygon points="755.4,253.6 779.9,287 804.8,259.5 780.9,243.6" fill="none" stroke="#6e6e6e" stroke-width="0.8" stroke-opacity="0.55"/>
<polygon points="779.9,287 805.6,347.5 828.2,232" fill="url(#g384)" stroke="url(#g384)" stroke-width="0.7"/>
<path d="M798.4 330.6L808.7 331.6M781.1 289.9L816.3 293M823.8 254.5L809.6 253.2" fill="none" stroke="#444" stroke-width="1.1" stroke-opacity="0.5"/>
<polygon points="779.9,287 828.2,232 804.8,259.5" fill="url(#g385)" stroke="url(#g385)" stroke-width="0.7"/>
<path d="M809.6 253.2L814.2 248.4" fill="none" stroke="#444" stroke-width="1.1" stroke-opacity="0.5"/>
<polygon points="779.9,287 805.6,347.5 828.2,232 804.8,259.5" fill="none" stroke="#6e6e6e" stroke-width="0.8" stroke-opacity="0.55"/>
<polygon points="805.6,347.5 829.6,322 854.4,293.2" fill="url(#g386)" stroke="url(#g386)" stroke-width="0.7"/>
<path d="M816 336.5L819.1 332.5M850.8 297.5L851.8 296.1" fill="none" stroke="#444" stroke-width="1.1" stroke-opacity="0.5"/>
<polygon points="805.6,347.5 854.4,293.2 828.2,232" fill="url(#g387)" stroke="url(#g387)" stroke-width="0.7"/>
<path d="M819.1 332.5L808.7 331.6M851.8 296.1L816.3 293M838.4 255.7L823.8 254.5" fill="none" stroke="#444" stroke-width="1.1" stroke-opacity="0.5"/>
<polygon points="805.6,347.5 829.6,322 854.4,293.2 828.2,232" fill="none" stroke="#6e6e6e" stroke-width="0.8" stroke-opacity="0.55"/>
<polygon points="829.6,322 856,370.4 880.4,324.6" fill="url(#g388)" stroke="url(#g388)" stroke-width="0.7"/>
<path d="M842.7 346L869.7 344.7" fill="none" stroke="#444" stroke-width="1.1" stroke-opacity="0.5"/>
<polygon points="829.6,322 880.4,324.6 854.4,293.2" fill="url(#g389)" stroke="url(#g389)" stroke-width="0.7"/>
<path d="M857.6 297.1L850.8 297.5" fill="none" stroke="#444" stroke-width="1.1" stroke-opacity="0.5"/>
<polygon points="829.6,322 856,370.4 880.4,324.6 854.4,293.2" fill="none" stroke="#6e6e6e" stroke-width="0.8" stroke-opacity="0.55"/>
<polygon points="856,370.4 882.2,370 880.4,324.6" fill="url(#g390)" stroke="url(#g390)" stroke-width="0.7"/>
<path d="M881.5 352L869.7 344.7" fill="none" stroke="#444" stroke-width="1.1" stroke-opacity="0.5"/>
<polygon points="882.2,370 906.8,333.2 880.4,324.6" fill="url(#g391)" stroke="url(#g391)" stroke-width="0.7"/>
<path d="M891.9 355.4L881.5 352" fill="none" stroke="#444" stroke-width="1.1" stroke-opacity="0.5"/>
<polygon points="856,370.4 882.2,370 906.8,333.2 880.4,324.6" fill="none" stroke="#6e6e6e" stroke-width="0.8" stroke-opacity="0.55"/>
<polygon points="882.2,370 909.2,369.3 906.8,333.2" fill="url(#g392)" stroke="url(#g392)" stroke-width="0.7"/>
<path d="M909.2 368.6L891.9 355.4" fill="none" stroke="#444" stroke-width="1.1" stroke-opacity="0.5"/>
<polygon points="909.2,369.3 933.8,324.6 906.8,333.2" fill="url(#g393)" stroke="url(#g393)" stroke-width="0.7"/>
<path d="M909.4 368.9L909.2 368.6" fill="none" stroke="#444" stroke-width="1.1" stroke-opacity="0.5"/>
<polygon points="882.2,370 909.2,369.3 933.8,324.6 906.8,333.2" fill="none" stroke="#6e6e6e" stroke-width="0.8" stroke-opacity="0.55"/>
<polygon points="909.2,369.3 937.1,350.5 933.8,324.6" fill="url(#g394)" stroke="url(#g394)" stroke-width="0.7"/>
<path d="M909.5 369.1L909.4 368.9" fill="none" stroke="#444" stroke-width="1.1" stroke-opacity="0.5"/>
<polygon points="937.1,350.5 961.8,277.3 933.8,324.6" fill="url(#g395)" stroke="url(#g395)" stroke-width="0.7"/>
<path d="M941 339L935.6 321.6M956 294.4L954.6 289.6" fill="none" stroke="#444" stroke-width="1.1" stroke-opacity="0.5"/>
<polygon points="909.2,369.3 937.1,350.5 961.8,277.3 933.8,324.6" fill="none" stroke="#6e6e6e" stroke-width="0.8" stroke-opacity="0.55"/>
<polygon points="937.1,350.5 966.2,334 961.8,277.3" fill="url(#g396)" stroke="url(#g396)" stroke-width="0.7"/>
<path d="M948.3 344.2L941 339M963.6 299.8L956 294.4" fill="none" stroke="#444" stroke-width="1.1" stroke-opacity="0.5"/>
<polygon points="966.2,334 991.3,232 961.8,277.3" fill="url(#g397)" stroke="url(#g397)" stroke-width="0.7"/>
<path d="M972.5 308.4L963.6 299.8M983.2 264.8L975.1 256.9" fill="none" stroke="#444" stroke-width="1.1" stroke-opacity="0.5"/>
<polygon points="937.1,350.5 966.2,334 991.3,232 961.8,277.3" fill="none" stroke="#6e6e6e" stroke-width="0.8" stroke-opacity="0.55"/>
<polygon points="966.2,334 996.5,306 991.3,232" fill="url(#g398)" stroke="url(#g398)" stroke-width="0.7"/>
<path d="M985.1 316.6L972.5 308.4M994.1 271.9L983.2 264.8" fill="none" stroke="#444" stroke-width="1.1" stroke-opacity="0.5"/>
<polygon points="996.5,306 1021.4,277 991.3,232" fill="url(#g399)" stroke="url(#g399)" stroke-width="0.7"/>
<path d="M1015.7 268.4L994.1 271.9" fill="none" stroke="#444" stroke-width="1.1" stroke-opacity="0.5"/>
<polygon points="966.2,334 996.5,306 1021.4,277 991.3,232" fill="none" stroke="#6e6e6e" stroke-width="0.8" stroke-opacity="0.55"/>
</g>
<line x1="739" y1="416.5" x2="724.6" y2="45.8" stroke="#111" stroke-width="1.8"/>
<line x1="739" y1="416.5" x2="995.6" y2="522.5" stroke="#111" stroke-width="1.8"/>
<line x1="995.6" y1="522.5" x2="1200.6" y2="401.5" stroke="#111" stroke-width="1.8"/>
<line x1="724.6" y1="45.8" x2="719.6" y2="46.8" stroke="#111" stroke-width="1.6"/>
<text transform="translate(715.6 54.2) rotate(-15) scale(0.74 1)" font-family="'Liberation Serif', serif" font-size="23.5" font-weight="bold" font-style="italic" text-anchor="end" fill="#000">0</text>
<line x1="726.3" y1="89.2" x2="721.3" y2="90.2" stroke="#111" stroke-width="1.6"/>
<text transform="translate(717.3 97.7) rotate(-15) scale(0.74 1)" font-family="'Liberation Serif', serif" font-size="23.5" font-weight="bold" font-style="italic" text-anchor="end" fill="#000">−20</text>
<line x1="728" y1="132.1" x2="723" y2="133.1" stroke="#111" stroke-width="1.6"/>
<text transform="translate(719 140.5) rotate(-15) scale(0.74 1)" font-family="'Liberation Serif', serif" font-size="23.5" font-weight="bold" font-style="italic" text-anchor="end" fill="#000">−40</text>
<line x1="729.6" y1="174.4" x2="724.6" y2="175.4" stroke="#111" stroke-width="1.6"/>
<text transform="translate(720.6 182.8) rotate(-15) scale(0.74 1)" font-family="'Liberation Serif', serif" font-size="23.5" font-weight="bold" font-style="italic" text-anchor="end" fill="#000">−60</text>
<line x1="731.3" y1="216.1" x2="726.3" y2="217.1" stroke="#111" stroke-width="1.6"/>
<text transform="translate(722.3 224.5) rotate(-15) scale(0.74 1)" font-family="'Liberation Serif', serif" font-size="23.5" font-weight="bold" font-style="italic" text-anchor="end" fill="#000">−80</text>
<line x1="732.8" y1="257.2" x2="727.8" y2="258.2" stroke="#111" stroke-width="1.6"/>
<text transform="translate(723.8 265.7) rotate(-15) scale(0.74 1)" font-family="'Liberation Serif', serif" font-size="23.5" font-weight="bold" font-style="italic" text-anchor="end" fill="#000">−100</text>
<line x1="734.4" y1="297.9" x2="729.4" y2="298.9" stroke="#111" stroke-width="1.6"/>
<text transform="translate(725.4 306.3) rotate(-15) scale(0.74 1)" font-family="'Liberation Serif', serif" font-size="23.5" font-weight="bold" font-style="italic" text-anchor="end" fill="#000">−120</text>
<line x1="736" y1="337.9" x2="731" y2="338.9" stroke="#111" stroke-width="1.6"/>
<text transform="translate(727 346.4) rotate(-15) scale(0.74 1)" font-family="'Liberation Serif', serif" font-size="23.5" font-weight="bold" font-style="italic" text-anchor="end" fill="#000">−140</text>
<line x1="737.5" y1="377.5" x2="732.5" y2="378.5" stroke="#111" stroke-width="1.6"/>
<text transform="translate(728.5 385.9) rotate(-15) scale(0.74 1)" font-family="'Liberation Serif', serif" font-size="23.5" font-weight="bold" font-style="italic" text-anchor="end" fill="#000">−160</text>
<line x1="739" y1="416.5" x2="734" y2="417.5" stroke="#111" stroke-width="1.6"/>
<text transform="translate(730 425) rotate(-15) scale(0.74 1)" font-family="'Liberation Serif', serif" font-size="23.5" font-weight="bold" font-style="italic" text-anchor="end" fill="#000">−180</text>
<line x1="784.5" y1="435.3" x2="789.1" y2="433.3" stroke="#111" stroke-width="1.6"/>
<line x1="1042.5" y1="494.8" x2="1037.9" y2="493" stroke="#111" stroke-width="1.6"/>
<line x1="832.7" y1="455.2" x2="837.2" y2="453.1" stroke="#111" stroke-width="1.6"/>
<line x1="1086.2" y1="469" x2="1081.5" y2="467.3" stroke="#111" stroke-width="1.6"/>
<line x1="883.7" y1="476.3" x2="888.2" y2="474" stroke="#111" stroke-width="1.6"/>
<line x1="1126.9" y1="445" x2="1122.2" y2="443.3" stroke="#111" stroke-width="1.6"/>
<line x1="937.9" y1="498.7" x2="942.3" y2="496.3" stroke="#111" stroke-width="1.6"/>
<line x1="1164.9" y1="422.5" x2="1160.2" y2="420.9" stroke="#111" stroke-width="1.6"/>
<line x1="995.6" y1="522.5" x2="1000.6" y2="523.5" stroke="#111" stroke-width="1.6"/>
<text transform="translate(744.6 88.8) scale(0.77 1)" font-family="'Liberation Serif', serif" font-size="53" font-weight="bold" font-style="normal" text-anchor="start" fill="#000">b</text>
<text transform="translate(668.6 253.6) rotate(90)" font-family="'Liberation Serif', serif" font-size="21" font-weight="bold" font-style="normal" text-anchor="middle" fill="#000" letter-spacing="0.9">Voltage (mV)</text>
<text transform="translate(827.9 486.4) rotate(22.4) skewX(-20)" font-family="'Liberation Serif', serif" font-size="18" font-weight="bold" font-style="italic" text-anchor="middle" fill="#000">Distance (mm)</text>
<text transform="translate(819.7 463.2) rotate(67.4)" font-family="'Liberation Serif', serif" font-size="17" font-weight="bold" font-style="italic" text-anchor="middle" fill="#000">2</text>
<text transform="translate(924.9 506.7) rotate(67.4)" font-family="'Liberation Serif', serif" font-size="17" font-weight="bold" font-style="italic" text-anchor="middle" fill="#000">4</text>
<text transform="translate(1140.8 473.1) rotate(-30.6) skewX(15)" font-family="'Liberation Serif', serif" font-size="15.5" font-weight="bold" font-style="normal" text-anchor="middle" fill="#000">Distance (mm)</text>
<text transform="translate(1095.3 474.6) rotate(69.4)" font-family="'Liberation Serif', serif" font-size="13" font-weight="bold" font-style="normal" text-anchor="middle" fill="#000">2</text>
<text transform="translate(1174 428.1) rotate(69.4)" font-family="'Liberation Serif', serif" font-size="13" font-weight="bold" font-style="normal" text-anchor="middle" fill="#000">4</text>
<text transform="translate(1010.6 533.5) rotate(-28) skewX(-10)" font-family="'Liberation Serif', serif" font-size="17" font-weight="bold" font-style="italic" text-anchor="middle" fill="#000">0</text>
<text transform="translate(729 428.5) rotate(-10)" font-family="'Liberation Serif', serif" font-size="17" font-weight="bold" font-style="italic" text-anchor="middle" fill="#000">0</text>
<rect x="1216.5" y="23.9" width="25.5" height="4" fill="#fff" stroke="#666" stroke-width="1"/>
<rect x="1216.5" y="372.6" width="25.5" height="3.6" fill="#000"/>
<rect x="1216.5" y="27.9" width="25.5" height="344.7" fill="url(#cbb)" stroke="#333" stroke-width="1"/>
<line x1="1242" y1="27.9" x2="1248" y2="27.9" stroke="#222" stroke-width="1.4"/>
<text transform="translate(1257.8 37.3) scale(0.8 1)" x="1.9 15.3 33.8 46 61.3 76.7" y="0" font-family="'Liberation Serif', serif" font-size="28" fill="#000">-7.000</text>
<line x1="1242" y1="62.4" x2="1248" y2="62.4" stroke="#222" stroke-width="1.4"/>
<text transform="translate(1257.8 71.8) scale(0.8 1)" x="1.9 15.3 30.7 49.1 61.3 76.7" y="0" font-family="'Liberation Serif', serif" font-size="28" fill="#000">-23.90</text>
<line x1="1242" y1="96.8" x2="1248" y2="96.8" stroke="#222" stroke-width="1.4"/>
<text transform="translate(1257.8 106.2) scale(0.8 1)" x="1.9 15.3 30.7 49.1 61.3 76.7" y="0" font-family="'Liberation Serif', serif" font-size="28" fill="#000">-40.80</text>
<line x1="1242" y1="131.3" x2="1248" y2="131.3" stroke="#222" stroke-width="1.4"/>
<text transform="translate(1257.8 140.7) scale(0.8 1)" x="1.9 15.3 30.7 49.1 61.3 76.7" y="0" font-family="'Liberation Serif', serif" font-size="28" fill="#000">-57.70</text>
<line x1="1242" y1="165.8" x2="1248" y2="165.8" stroke="#222" stroke-width="1.4"/>
<text transform="translate(1257.8 175.2) scale(0.8 1)" x="1.9 15.3 30.7 49.1 61.3 76.7" y="0" font-family="'Liberation Serif', serif" font-size="28" fill="#000">-74.60</text>
<line x1="1242" y1="200.3" x2="1248" y2="200.3" stroke="#222" stroke-width="1.4"/>
<text transform="translate(1257.8 209.7) scale(0.8 1)" x="1.9 15.3 30.7 49.1 61.3 76.7" y="0" font-family="'Liberation Serif', serif" font-size="28" fill="#000">-91.50</text>
<line x1="1242" y1="234.7" x2="1248" y2="234.7" stroke="#222" stroke-width="1.4"/>
<text transform="translate(1257.8 244.1) scale(0.8 1)" x="1.9 15.3 30.7 46 64.5 76.7" y="0" font-family="'Liberation Serif', serif" font-size="28" fill="#000">-108.4</text>
<line x1="1242" y1="269.2" x2="1248" y2="269.2" stroke="#222" stroke-width="1.4"/>
<text transform="translate(1257.8 278.6) scale(0.8 1)" x="1.9 15.3 30.7 46 64.5 76.7" y="0" font-family="'Liberation Serif', serif" font-size="28" fill="#000">-125.3</text>
<line x1="1242" y1="303.7" x2="1248" y2="303.7" stroke="#222" stroke-width="1.4"/>
<text transform="translate(1257.8 313.1) scale(0.8 1)" x="1.9 15.3 30.7 46 64.5 76.7" y="0" font-family="'Liberation Serif', serif" font-size="28" fill="#000">-142.2</text>
<line x1="1242" y1="338.1" x2="1248" y2="338.1" stroke="#222" stroke-width="1.4"/>
<text transform="translate(1257.8 347.5) scale(0.8 1)" x="1.9 15.3 30.7 46 64.5 76.7" y="0" font-family="'Liberation Serif', serif" font-size="28" fill="#000">-159.1</text>
<line x1="1242" y1="372.6" x2="1248" y2="372.6" stroke="#222" stroke-width="1.4"/>
<text transform="translate(1257.8 382) scale(0.8 1)" x="1.9 15.3 30.7 46 64.5 76.7" y="0" font-family="'Liberation Serif', serif" font-size="28" fill="#000">-176.0</text>
</g>
<g id="panel-c">
<line x1="1407.1" y1="61.5" x2="1629.4" y2="18.8" stroke="#dcdcdc" stroke-width="1"/>
<line x1="1629.4" y1="18.8" x2="1880.2" y2="55.6" stroke="#dcdcdc" stroke-width="1"/>
<line x1="1408.5" y1="98.1" x2="1629.4" y2="50.1" stroke="#dcdcdc" stroke-width="1"/>
<line x1="1629.4" y1="50.1" x2="1878.8" y2="91.1" stroke="#dcdcdc" stroke-width="1"/>
<line x1="1409.8" y1="134.1" x2="1629.5" y2="81.2" stroke="#dcdcdc" stroke-width="1"/>
<line x1="1629.5" y1="81.2" x2="1877.4" y2="126.2" stroke="#dcdcdc" stroke-width="1"/>
<line x1="1411.2" y1="169.8" x2="1629.5" y2="111.9" stroke="#dcdcdc" stroke-width="1"/>
<line x1="1629.5" y1="111.9" x2="1876" y2="160.9" stroke="#dcdcdc" stroke-width="1"/>
<line x1="1412.5" y1="205" x2="1629.5" y2="142.3" stroke="#dcdcdc" stroke-width="1"/>
<line x1="1629.5" y1="142.3" x2="1874.7" y2="195.2" stroke="#dcdcdc" stroke-width="1"/>
<line x1="1413.8" y1="239.9" x2="1629.6" y2="172.4" stroke="#dcdcdc" stroke-width="1"/>
<line x1="1629.6" y1="172.4" x2="1873.3" y2="229.2" stroke="#dcdcdc" stroke-width="1"/>
<line x1="1415" y1="274.3" x2="1629.6" y2="202.3" stroke="#dcdcdc" stroke-width="1"/>
<line x1="1629.6" y1="202.3" x2="1872" y2="262.7" stroke="#dcdcdc" stroke-width="1"/>
<line x1="1416.3" y1="308.3" x2="1629.6" y2="231.8" stroke="#dcdcdc" stroke-width="1"/>
<line x1="1629.6" y1="231.8" x2="1870.7" y2="295.9" stroke="#dcdcdc" stroke-width="1"/>
<line x1="1417.6" y1="342" x2="1629.6" y2="261" stroke="#dcdcdc" stroke-width="1"/>
<line x1="1629.6" y1="261" x2="1869.3" y2="328.7" stroke="#dcdcdc" stroke-width="1"/>
<line x1="1418.8" y1="375.2" x2="1629.7" y2="290" stroke="#dcdcdc" stroke-width="1"/>
<line x1="1629.7" y1="290" x2="1868.1" y2="361.1" stroke="#dcdcdc" stroke-width="1"/>
<line x1="1511.3" y1="353.6" x2="1504.3" y2="25.5" stroke="#dcdcdc" stroke-width="1"/>
<line x1="1717.7" y1="331.4" x2="1722.2" y2="15.8" stroke="#dcdcdc" stroke-width="1"/>
<line x1="1510.6" y1="428.5" x2="1717.7" y2="331.4" stroke="#dcdcdc" stroke-width="1"/>
<line x1="1511.3" y1="353.6" x2="1756.8" y2="441.4" stroke="#dcdcdc" stroke-width="1"/>
<line x1="1592.5" y1="319.8" x2="1590.2" y2="10" stroke="#dcdcdc" stroke-width="1"/>
<line x1="1814.9" y1="361.1" x2="1825.1" y2="30" stroke="#dcdcdc" stroke-width="1"/>
<line x1="1613" y1="469.7" x2="1814.9" y2="361.1" stroke="#dcdcdc" stroke-width="1"/>
<line x1="1592.5" y1="319.8" x2="1833" y2="397.2" stroke="#dcdcdc" stroke-width="1"/>
<line x1="1406.4" y1="43.1" x2="1629.4" y2="3" stroke="#8a8a8a" stroke-width="1.1" stroke-dasharray="5 1.2"/>
<line x1="1629.4" y1="3" x2="1880.9" y2="37.7" stroke="#8a8a8a" stroke-width="1.1" stroke-dasharray="5 1.2"/>
<line x1="1629.7" y1="304.4" x2="1629.4" y2="3" stroke="#8a8a8a" stroke-width="1.2"/>
<line x1="1867.4" y1="377.2" x2="1880.9" y2="37.7" stroke="#a8a8a8" stroke-width="1" stroke-dasharray="6 1.5"/>
<line x1="1419.4" y1="391.7" x2="1629.7" y2="304.4" stroke="#8a8a8a" stroke-width="1.2"/>
<line x1="1629.7" y1="304.4" x2="1867.4" y2="377.2" stroke="#8a8a8a" stroke-width="1.2"/>
<g stroke-linejoin="round">
<polygon points="1610.4,85 1632.6,77.2 1629.5,71.8" fill="url(#g400)" stroke="url(#g400)" stroke-width="0.7"/>
<polygon points="1632.6,77.2 1651.5,96.2 1629.5,71.8" fill="url(#g401)" stroke="url(#g401)" stroke-width="0.7"/>
<polygon points="1610.4,85 1632.6,77.2 1651.5,96.2 1629.5,71.8" fill="none" stroke="#6e6e6e" stroke-width="0.8" stroke-opacity="0.55"/>
<polygon points="1632.6,77.2 1655.3,81.3 1674,100" fill="url(#g402)" stroke="url(#g402)" stroke-width="0.7"/>
<polygon points="1632.6,77.2 1674,100 1651.5,96.2" fill="url(#g403)" stroke="url(#g403)" stroke-width="0.7"/>
<polygon points="1632.6,77.2 1655.3,81.3 1674,100 1651.5,96.2" fill="none" stroke="#6e6e6e" stroke-width="0.8" stroke-opacity="0.55"/>
<polygon points="1655.3,81.3 1678.6,85.4 1697.4,85" fill="url(#g404)" stroke="url(#g404)" stroke-width="0.7"/>
<polygon points="1655.3,81.3 1697.4,85 1674,100" fill="url(#g405)" stroke="url(#g405)" stroke-width="0.7"/>
<polygon points="1655.3,81.3 1678.6,85.4 1697.4,85 1674,100" fill="none" stroke="#6e6e6e" stroke-width="0.8" stroke-opacity="0.55"/>
<polygon points="1678.6,85.4 1702.6,89.7 1697.4,85" fill="url(#g406)" stroke="url(#g406)" stroke-width="0.7"/>
<polygon points="1702.6,89.7 1721.5,67 1697.4,85" fill="url(#g407)" stroke="url(#g407)" stroke-width="0.7"/>
<path d="M1709.1 81.8L1708.8 76.4" fill="none" stroke="#444" stroke-width="1.1" stroke-opacity="0.5"/>
<polygon points="1678.6,85.4 1702.6,89.7 1721.5,67 1697.4,85" fill="none" stroke="#6e6e6e" stroke-width="0.8" stroke-opacity="0.55"/>
<polygon points="1702.6,89.7 1727.6,63.9 1721.5,67" fill="url(#g408)" stroke="url(#g408)" stroke-width="0.7"/>
<path d="M1707.9 84.3L1709.1 81.8" fill="none" stroke="#444" stroke-width="1.1" stroke-opacity="0.5"/>
<polygon points="1727.6,63.9 1746,68 1721.5,67" fill="url(#g409)" stroke="url(#g409)" stroke-width="0.7"/>
<polygon points="1702.6,89.7 1727.6,63.9 1746,68 1721.5,67" fill="none" stroke="#6e6e6e" stroke-width="0.8" stroke-opacity="0.55"/>
<polygon points="1727.6,63.9 1753,64.6 1746,68" fill="url(#g410)" stroke="url(#g410)" stroke-width="0.7"/>
<polygon points="1753,64.6 1771,81.7 1746,68" fill="url(#g411)" stroke="url(#g411)" stroke-width="0.7"/>
<polygon points="1727.6,63.9 1753,64.6 1771,81.7 1746,68" fill="none" stroke="#6e6e6e" stroke-width="0.8" stroke-opacity="0.55"/>
<polygon points="1753,64.6 1779.1,70.6 1797,76.7" fill="url(#g412)" stroke="url(#g412)" stroke-width="0.7"/>
<polygon points="1753,64.6 1797,76.7 1771,81.7" fill="url(#g413)" stroke="url(#g413)" stroke-width="0.7"/>
<polygon points="1753,64.6 1779.1,70.6 1797,76.7 1771,81.7" fill="none" stroke="#6e6e6e" stroke-width="0.8" stroke-opacity="0.55"/>
<polygon points="1779.1,70.6 1805.7,80.2 1797,76.7" fill="url(#g414)" stroke="url(#g414)" stroke-width="0.7"/>
<polygon points="1805.7,80.2 1821.2,155.9 1797,76.7" fill="url(#g415)" stroke="url(#g415)" stroke-width="0.7"/>
<path d="M1816 130.1L1812.3 126.8M1809.7 99.6L1801.8 92.5" fill="none" stroke="#444" stroke-width="1.1" stroke-opacity="0.5"/>
<polygon points="1779.1,70.6 1805.7,80.2 1821.2,155.9 1797,76.7" fill="none" stroke="#6e6e6e" stroke-width="0.8" stroke-opacity="0.55"/>
<polygon points="1805.7,80.2 1826.2,300 1821.2,155.9" fill="url(#g416)" stroke="url(#g416)" stroke-width="0.7"/>
<path d="M1823.3 268.4L1825.1 266.8M1820.2 235.1L1823.9 231.6M1817 201.7L1822.7 196.5M1813.9 168.3L1821.4 161.3M1810.8 134.9L1816 130.1M1807.7 101.5L1809.7 99.6" fill="none" stroke="#444" stroke-width="1.1" stroke-opacity="0.5"/>
<polygon points="1826.2,300 1842,335 1821.2,155.9" fill="url(#g417)" stroke="url(#g417)" stroke-width="0.7"/>
<path d="M1838.1 326.2L1840.7 323.5M1826.9 301.4L1836.9 291M1833.2 258.5L1825.1 266.8M1829.4 226L1823.9 231.6M1825.6 193.4L1822.7 196.5M1821.8 160.9L1821.4 161.3" fill="none" stroke="#444" stroke-width="1.1" stroke-opacity="0.5"/>
<polygon points="1805.7,80.2 1826.2,300 1842,335 1821.2,155.9" fill="none" stroke="#6e6e6e" stroke-width="0.8" stroke-opacity="0.55"/>
<polygon points="1826.2,300 1851.5,359 1842,335" fill="url(#g418)" stroke="url(#g418)" stroke-width="0.7"/>
<path d="M1842.6 338.2L1838.1 326.2M1827.1 302L1826.9 301.4" fill="none" stroke="#444" stroke-width="1.1" stroke-opacity="0.5"/>
<polygon points="1851.5,359 1868,362 1842,335" fill="url(#g419)" stroke="url(#g419)" stroke-width="0.7"/>
<polygon points="1826.2,300 1851.5,359 1868,362 1842,335" fill="none" stroke="#6e6e6e" stroke-width="0.8" stroke-opacity="0.55"/>
<polygon points="1591,111 1613.1,110.8 1610.4,85" fill="url(#g420)" stroke="url(#g420)" stroke-width="0.7"/>
<path d="M1612.4 104.1L1599.2 100.1" fill="none" stroke="#444" stroke-width="1.1" stroke-opacity="0.5"/>
<polygon points="1613.1,110.8 1632.6,77.2 1610.4,85" fill="url(#g421)" stroke="url(#g421)" stroke-width="0.7"/>
<path d="M1616 105.7L1612.4 104.1" fill="none" stroke="#444" stroke-width="1.1" stroke-opacity="0.5"/>
<polygon points="1591,111 1613.1,110.8 1632.6,77.2 1610.4,85" fill="none" stroke="#6e6e6e" stroke-width="0.8" stroke-opacity="0.55"/>
<polygon points="1613.1,110.8 1635.9,86 1632.6,77.2" fill="url(#g422)" stroke="url(#g422)" stroke-width="0.7"/>
<path d="M1616.5 107.1L1616 105.7" fill="none" stroke="#444" stroke-width="1.1" stroke-opacity="0.5"/>
<polygon points="1635.9,86 1655.3,81.3 1632.6,77.2" fill="#ff0000" stroke="#ff0000" stroke-width="0.7"/>
<polygon points="1613.1,110.8 1635.9,86 1655.3,81.3 1632.6,77.2" fill="none" stroke="#6e6e6e" stroke-width="0.8" stroke-opacity="0.55"/>
<polygon points="1635.9,86 1659.3,90.3 1655.3,81.3" fill="#ff0000" stroke="#ff0000" stroke-width="0.7"/>
<polygon points="1659.3,90.3 1678.6,85.4 1655.3,81.3" fill="#ff0000" stroke="#ff0000" stroke-width="0.7"/>
<polygon points="1635.9,86 1659.3,90.3 1678.6,85.4 1655.3,81.3" fill="none" stroke="#6e6e6e" stroke-width="0.8" stroke-opacity="0.55"/>
<polygon points="1659.3,90.3 1683.9,25.1 1702.6,89.7" fill="url(#g423)" stroke="url(#g423)" stroke-width="0.7"/>
<path d="M1661.6 84.3L1700.9 83.7M1673 54L1692.2 53.7" fill="none" stroke="#444" stroke-width="1.1" stroke-opacity="0.5"/>
<polygon points="1659.3,90.3 1702.6,89.7 1678.6,85.4" fill="#ff0000" stroke="#ff0000" stroke-width="0.7"/>
<polygon points="1659.3,90.3 1683.9,25.1 1702.6,89.7 1678.6,85.4" fill="none" stroke="#6e6e6e" stroke-width="0.8" stroke-opacity="0.55"/>
<polygon points="1683.9,25.1 1708.5,61.8 1702.6,89.7" fill="url(#g424)" stroke="url(#g424)" stroke-width="0.7"/>
<path d="M1703.6 84.9L1700.9 83.7M1707.4 60L1692.2 53.7" fill="none" stroke="#444" stroke-width="1.1" stroke-opacity="0.5"/>
<polygon points="1708.5,61.8 1727.6,63.9 1702.6,89.7" fill="url(#g425)" stroke="url(#g425)" stroke-width="0.7"/>
<path d="M1707.9 84.3L1703.6 84.9" fill="none" stroke="#444" stroke-width="1.1" stroke-opacity="0.5"/>
<polygon points="1683.9,25.1 1708.5,61.8 1727.6,63.9 1702.6,89.7" fill="none" stroke="#6e6e6e" stroke-width="0.8" stroke-opacity="0.55"/>
<polygon points="1708.5,61.8 1734.1,62.5 1753,64.6" fill="url(#g426)" stroke="url(#g426)" stroke-width="0.7"/>
<path d="M1720 62.1L1739.3 63.1" fill="none" stroke="#444" stroke-width="1.1" stroke-opacity="0.5"/>
<polygon points="1708.5,61.8 1753,64.6 1727.6,63.9" fill="url(#g427)" stroke="url(#g427)" stroke-width="0.7"/>
<polygon points="1708.5,61.8 1734.1,62.5 1753,64.6 1727.6,63.9" fill="none" stroke="#6e6e6e" stroke-width="0.8" stroke-opacity="0.55"/>
<polygon points="1734.1,62.5 1760.4,66.7 1753,64.6" fill="url(#g428)" stroke="url(#g428)" stroke-width="0.7"/>
<path d="M1758.4 66.1L1739.3 63.1" fill="none" stroke="#444" stroke-width="1.1" stroke-opacity="0.5"/>
<polygon points="1760.4,66.7 1779.1,70.6 1753,64.6" fill="url(#g429)" stroke="url(#g429)" stroke-width="0.7"/>
<path d="M1764.5 67.6L1758.4 66.1" fill="none" stroke="#444" stroke-width="1.1" stroke-opacity="0.5"/>
<polygon points="1734.1,62.5 1760.4,66.7 1779.1,70.6 1753,64.6" fill="none" stroke="#6e6e6e" stroke-width="0.8" stroke-opacity="0.55"/>
<polygon points="1760.4,66.7 1787.3,74.7 1779.1,70.6" fill="url(#g430)" stroke="url(#g430)" stroke-width="0.7"/>
<path d="M1775.2 71.1L1764.5 67.6" fill="none" stroke="#444" stroke-width="1.1" stroke-opacity="0.5"/>
<polygon points="1787.3,74.7 1805.7,80.2 1779.1,70.6" fill="url(#g431)" stroke="url(#g431)" stroke-width="0.7"/>
<polygon points="1760.4,66.7 1787.3,74.7 1805.7,80.2 1779.1,70.6" fill="none" stroke="#6e6e6e" stroke-width="0.8" stroke-opacity="0.55"/>
<polygon points="1787.3,74.7 1809.5,268 1805.7,80.2" fill="url(#g432)" stroke="url(#g432)" stroke-width="0.7"/>
<path d="M1806.8 244.6L1809 243.9M1802.9 210.3L1808.3 208.6M1799 176L1807.6 173.3M1795 141.7L1806.9 138M1791.1 107.4L1806.2 102.7" fill="none" stroke="#444" stroke-width="1.1" stroke-opacity="0.5"/>
<polygon points="1809.5,268 1826.2,300 1805.7,80.2" fill="url(#g433)" stroke="url(#g433)" stroke-width="0.7"/>
<path d="M1813.7 276L1823.3 268.4M1820.2 235.1L1809 243.9M1817 201.7L1808.3 208.6M1813.9 168.3L1807.6 173.3M1810.8 134.9L1806.9 138M1807.7 101.5L1806.2 102.7" fill="none" stroke="#444" stroke-width="1.1" stroke-opacity="0.5"/>
<polygon points="1787.3,74.7 1809.5,268 1826.2,300 1805.7,80.2" fill="none" stroke="#6e6e6e" stroke-width="0.8" stroke-opacity="0.55"/>
<polygon points="1809.5,268 1834.5,352 1826.2,300" fill="url(#g434)" stroke="url(#g434)" stroke-width="0.7"/>
<path d="M1834 350.2L1834.1 349.7M1823.4 314.8L1826.6 302.6M1812.9 279.3L1813.7 276" fill="none" stroke="#444" stroke-width="1.1" stroke-opacity="0.5"/>
<polygon points="1834.5,352 1851.5,359 1826.2,300" fill="url(#g435)" stroke="url(#g435)" stroke-width="0.7"/>
<path d="M1842.6 338.2L1834.1 349.7M1827.1 302L1826.6 302.6" fill="none" stroke="#444" stroke-width="1.1" stroke-opacity="0.5"/>
<polygon points="1809.5,268 1834.5,352 1851.5,359 1826.2,300" fill="none" stroke="#6e6e6e" stroke-width="0.8" stroke-opacity="0.55"/>
<polygon points="1570.2,50.9 1593.1,124.1 1591,111" fill="url(#g436)" stroke="url(#g436)" stroke-width="0.7"/>
<path d="M1588.9 110.8L1588.1 102.6M1578.6 77.8L1578.2 74.1" fill="none" stroke="#444" stroke-width="1.1" stroke-opacity="0.5"/>
<polygon points="1593.1,124.1 1613.1,110.8 1591,111" fill="url(#g437)" stroke="url(#g437)" stroke-width="0.7"/>
<polygon points="1570.2,50.9 1593.1,124.1 1613.1,110.8 1591,111" fill="none" stroke="#6e6e6e" stroke-width="0.8" stroke-opacity="0.55"/>
<polygon points="1593.1,124.1 1615.9,117.4 1613.1,110.8" fill="url(#g438)" stroke="url(#g438)" stroke-width="0.7"/>
<polygon points="1615.9,117.4 1635.9,86 1613.1,110.8" fill="url(#g439)" stroke="url(#g439)" stroke-width="0.7"/>
<path d="M1616.8 116L1616.5 107.1" fill="none" stroke="#444" stroke-width="1.1" stroke-opacity="0.5"/>
<polygon points="1593.1,124.1 1615.9,117.4 1635.9,86 1613.1,110.8" fill="none" stroke="#6e6e6e" stroke-width="0.8" stroke-opacity="0.55"/>
<polygon points="1615.9,117.4 1639.3,103.8 1635.9,86" fill="url(#g440)" stroke="url(#g440)" stroke-width="0.7"/>
<path d="M1617.4 116.5L1616.8 116" fill="none" stroke="#444" stroke-width="1.1" stroke-opacity="0.5"/>
<polygon points="1639.3,103.8 1659.3,90.3 1635.9,86" fill="url(#g441)" stroke="url(#g441)" stroke-width="0.7"/>
<polygon points="1615.9,117.4 1639.3,103.8 1659.3,90.3 1635.9,86" fill="none" stroke="#6e6e6e" stroke-width="0.8" stroke-opacity="0.55"/>
<polygon points="1639.3,103.8 1663.5,108.5 1659.3,90.3" fill="url(#g442)" stroke="url(#g442)" stroke-width="0.7"/>
<polygon points="1663.5,108.5 1683.9,25.1 1659.3,90.3" fill="url(#g443)" stroke="url(#g443)" stroke-width="0.7"/>
<path d="M1667.4 92.6L1661.6 84.3M1675.8 58L1673 54" fill="none" stroke="#444" stroke-width="1.1" stroke-opacity="0.5"/>
<polygon points="1639.3,103.8 1663.5,108.5 1683.9,25.1 1659.3,90.3" fill="none" stroke="#6e6e6e" stroke-width="0.8" stroke-opacity="0.55"/>
<polygon points="1663.5,108.5 1688.6,80.5 1708.5,61.8" fill="url(#g444)" stroke="url(#g444)" stroke-width="0.7"/>
<path d="M1675.1 95.5L1678.2 93.3" fill="none" stroke="#444" stroke-width="1.1" stroke-opacity="0.5"/>
<polygon points="1663.5,108.5 1708.5,61.8 1683.9,25.1" fill="url(#g445)" stroke="url(#g445)" stroke-width="0.7"/>
<path d="M1678.2 93.3L1667.4 92.6M1707.4 60L1675.8 58" fill="none" stroke="#444" stroke-width="1.1" stroke-opacity="0.5"/>
<polygon points="1663.5,108.5 1688.6,80.5 1708.5,61.8 1683.9,25.1" fill="none" stroke="#6e6e6e" stroke-width="0.8" stroke-opacity="0.55"/>
<polygon points="1688.6,80.5 1714.4,67.3 1708.5,61.8" fill="url(#g446)" stroke="url(#g446)" stroke-width="0.7"/>
<path d="M1711.6 68.8L1711.2 64.3" fill="none" stroke="#444" stroke-width="1.1" stroke-opacity="0.5"/>
<polygon points="1714.4,67.3 1734.1,62.5 1708.5,61.8" fill="url(#g447)" stroke="url(#g447)" stroke-width="0.7"/>
<path d="M1720 62.1L1711.2 64.3" fill="none" stroke="#444" stroke-width="1.1" stroke-opacity="0.5"/>
<polygon points="1688.6,80.5 1714.4,67.3 1734.1,62.5 1708.5,61.8" fill="none" stroke="#6e6e6e" stroke-width="0.8" stroke-opacity="0.55"/>
<polygon points="1714.4,67.3 1740.8,75.3 1760.4,66.7" fill="url(#g448)" stroke="url(#g448)" stroke-width="0.7"/>
<path d="M1729 71.7L1749.6 71.4" fill="none" stroke="#444" stroke-width="1.1" stroke-opacity="0.5"/>
<polygon points="1714.4,67.3 1760.4,66.7 1734.1,62.5" fill="#b00000" stroke="#b00000" stroke-width="0.7"/>
<polygon points="1714.4,67.3 1740.8,75.3 1760.4,66.7 1734.1,62.5" fill="none" stroke="#6e6e6e" stroke-width="0.8" stroke-opacity="0.55"/>
<polygon points="1740.8,75.3 1768,81.7 1787.3,74.7" fill="url(#g449)" stroke="url(#g449)" stroke-width="0.7"/>
<polygon points="1740.8,75.3 1787.3,74.7 1760.4,66.7" fill="url(#g450)" stroke="url(#g450)" stroke-width="0.7"/>
<path d="M1775.2 71.1L1749.6 71.4" fill="none" stroke="#444" stroke-width="1.1" stroke-opacity="0.5"/>
<polygon points="1740.8,75.3 1768,81.7 1787.3,74.7 1760.4,66.7" fill="none" stroke="#6e6e6e" stroke-width="0.8" stroke-opacity="0.55"/>
<polygon points="1768,81.7 1791.3,262 1787.3,74.7" fill="url(#g451)" stroke="url(#g451)" stroke-width="0.7"/>
<path d="M1790.2 253.3L1791.1 253.1M1785.7 218.3L1790.3 217.1M1781.1 183.3L1789.6 181M1776.6 148.2L1788.8 145M1772 113.2L1788 109" fill="none" stroke="#444" stroke-width="1.1" stroke-opacity="0.5"/>
<polygon points="1791.3,262 1809.5,268 1787.3,74.7" fill="url(#g452)" stroke="url(#g452)" stroke-width="0.7"/>
<path d="M1806.8 244.6L1791.1 253.1M1802.9 210.3L1790.3 217.1M1799 176L1789.6 181M1795 141.7L1788.8 145M1791.1 107.4L1788 109" fill="none" stroke="#444" stroke-width="1.1" stroke-opacity="0.5"/>
<polygon points="1768,81.7 1791.3,262 1809.5,268 1787.3,74.7" fill="none" stroke="#6e6e6e" stroke-width="0.8" stroke-opacity="0.55"/>
<polygon points="1791.3,262 1817.6,319 1809.5,268" fill="url(#g453)" stroke="url(#g453)" stroke-width="0.7"/>
<path d="M1804.6 290.7L1812 283.3" fill="none" stroke="#444" stroke-width="1.1" stroke-opacity="0.5"/>
<polygon points="1817.6,319 1834.5,352 1809.5,268" fill="url(#g454)" stroke="url(#g454)" stroke-width="0.7"/>
<path d="M1833.9 350.8L1834 350.2M1821 325.5L1823.4 314.8M1812.9 279.3L1812 283.3" fill="none" stroke="#444" stroke-width="1.1" stroke-opacity="0.5"/>
<polygon points="1791.3,262 1817.6,319 1834.5,352 1809.5,268" fill="none" stroke="#6e6e6e" stroke-width="0.8" stroke-opacity="0.55"/>
<polygon points="1549.4,72.4 1572.5,134.5 1593.1,124.1" fill="url(#g455)" stroke="url(#g455)" stroke-width="0.7"/>
<path d="M1565.4 115.6L1582.6 111.7M1552.9 81.7L1556.5 80.8" fill="none" stroke="#444" stroke-width="1.1" stroke-opacity="0.5"/>
<polygon points="1549.4,72.4 1593.1,124.1 1570.2,50.9" fill="url(#g456)" stroke="url(#g456)" stroke-width="0.7"/>
<path d="M1582.6 111.7L1588.9 110.8M1556.5 80.8L1578.6 77.8" fill="none" stroke="#444" stroke-width="1.1" stroke-opacity="0.5"/>
<polygon points="1549.4,72.4 1572.5,134.5 1593.1,124.1 1570.2,50.9" fill="none" stroke="#6e6e6e" stroke-width="0.8" stroke-opacity="0.55"/>
<polygon points="1572.5,134.5 1595.3,129.6 1593.1,124.1" fill="url(#g457)" stroke="url(#g457)" stroke-width="0.7"/>
<polygon points="1595.3,129.6 1615.9,117.4 1593.1,124.1" fill="url(#g458)" stroke="url(#g458)" stroke-width="0.7"/>
<polygon points="1572.5,134.5 1595.3,129.6 1615.9,117.4 1593.1,124.1" fill="none" stroke="#6e6e6e" stroke-width="0.8" stroke-opacity="0.55"/>
<polygon points="1595.3,129.6 1618.8,121.1 1615.9,117.4" fill="url(#g459)" stroke="url(#g459)" stroke-width="0.7"/>
<path d="M1609.1 124.6L1616.4 118" fill="none" stroke="#444" stroke-width="1.1" stroke-opacity="0.5"/>
<polygon points="1618.8,121.1 1639.3,103.8 1615.9,117.4" fill="url(#g460)" stroke="url(#g460)" stroke-width="0.7"/>
<path d="M1617.4 116.5L1616.4 118" fill="none" stroke="#444" stroke-width="1.1" stroke-opacity="0.5"/>
<polygon points="1595.3,129.6 1618.8,121.1 1639.3,103.8 1615.9,117.4" fill="none" stroke="#6e6e6e" stroke-width="0.8" stroke-opacity="0.55"/>
<polygon points="1618.8,121.1 1643,126 1663.5,108.5" fill="url(#g461)" stroke="url(#g461)" stroke-width="0.7"/>
<polygon points="1618.8,121.1 1663.5,108.5 1639.3,103.8" fill="url(#g462)" stroke="url(#g462)" stroke-width="0.7"/>
<polygon points="1618.8,121.1 1643,126 1663.5,108.5 1639.3,103.8" fill="none" stroke="#6e6e6e" stroke-width="0.8" stroke-opacity="0.55"/>
<polygon points="1643,126 1668,110.2 1663.5,108.5" fill="url(#g463)" stroke="url(#g463)" stroke-width="0.7"/>
<polygon points="1668,110.2 1688.6,80.5 1663.5,108.5" fill="url(#g464)" stroke="url(#g464)" stroke-width="0.7"/>
<path d="M1673.6 102.1L1675.1 95.5" fill="none" stroke="#444" stroke-width="1.1" stroke-opacity="0.5"/>
<polygon points="1643,126 1668,110.2 1688.6,80.5 1663.5,108.5" fill="none" stroke="#6e6e6e" stroke-width="0.8" stroke-opacity="0.55"/>
<polygon points="1668,110.2 1693.9,97.4 1688.6,80.5" fill="url(#g465)" stroke="url(#g465)" stroke-width="0.7"/>
<path d="M1677.8 105.3L1673.6 102.1" fill="none" stroke="#444" stroke-width="1.1" stroke-opacity="0.5"/>
<polygon points="1693.9,97.4 1714.4,67.3 1688.6,80.5" fill="url(#g466)" stroke="url(#g466)" stroke-width="0.7"/>
<path d="M1712.8 69.7L1711.6 68.8" fill="none" stroke="#444" stroke-width="1.1" stroke-opacity="0.5"/>
<polygon points="1668,110.2 1693.9,97.4 1714.4,67.3 1688.6,80.5" fill="none" stroke="#6e6e6e" stroke-width="0.8" stroke-opacity="0.55"/>
<polygon points="1693.9,97.4 1720.4,95 1714.4,67.3" fill="url(#g467)" stroke="url(#g467)" stroke-width="0.7"/>
<path d="M1715.1 70.4L1712.8 69.7" fill="none" stroke="#444" stroke-width="1.1" stroke-opacity="0.5"/>
<polygon points="1720.4,95 1740.8,75.3 1714.4,67.3" fill="url(#g468)" stroke="url(#g468)" stroke-width="0.7"/>
<path d="M1729 71.7L1715.1 70.4" fill="none" stroke="#444" stroke-width="1.1" stroke-opacity="0.5"/>
<polygon points="1693.9,97.4 1720.4,95 1740.8,75.3 1714.4,67.3" fill="none" stroke="#6e6e6e" stroke-width="0.8" stroke-opacity="0.55"/>
<polygon points="1720.4,95 1747.7,100 1768,81.7" fill="url(#g469)" stroke="url(#g469)" stroke-width="0.7"/>
<polygon points="1720.4,95 1768,81.7 1740.8,75.3" fill="url(#g470)" stroke="url(#g470)" stroke-width="0.7"/>
<polygon points="1720.4,95 1747.7,100 1768,81.7 1740.8,75.3" fill="none" stroke="#6e6e6e" stroke-width="0.8" stroke-opacity="0.55"/>
<polygon points="1747.7,100 1772,270 1791.3,262" fill="url(#g471)" stroke="url(#g471)" stroke-width="0.7"/>
<path d="M1770.8 261.6L1789.1 253.6M1765.7 226L1779.9 219.7M1760.6 190.3L1770.8 185.8M1755.6 154.7L1761.7 152M1750.5 119L1752.6 118.1" fill="none" stroke="#444" stroke-width="1.1" stroke-opacity="0.5"/>
<polygon points="1747.7,100 1791.3,262 1768,81.7" fill="url(#g472)" stroke="url(#g472)" stroke-width="0.7"/>
<path d="M1789.1 253.6L1790.2 253.3M1779.9 219.7L1785.7 218.3M1770.8 185.8L1781.1 183.3M1761.7 152L1776.6 148.2M1752.6 118.1L1772 113.2" fill="none" stroke="#444" stroke-width="1.1" stroke-opacity="0.5"/>
<polygon points="1747.7,100 1772,270 1791.3,262 1768,81.7" fill="none" stroke="#6e6e6e" stroke-width="0.8" stroke-opacity="0.55"/>
<polygon points="1772,270 1799.5,300 1791.3,262" fill="url(#g473)" stroke="url(#g473)" stroke-width="0.7"/>
<polygon points="1799.5,300 1817.6,319 1791.3,262" fill="url(#g474)" stroke="url(#g474)" stroke-width="0.7"/>
<path d="M1801.7 302.3L1804.6 290.7" fill="none" stroke="#444" stroke-width="1.1" stroke-opacity="0.5"/>
<polygon points="1772,270 1799.5,300 1817.6,319 1791.3,262" fill="none" stroke="#6e6e6e" stroke-width="0.8" stroke-opacity="0.55"/>
<polygon points="1528.3,106 1551.2,143.6 1572.5,134.5" fill="url(#g475)" stroke="url(#g475)" stroke-width="0.7"/>
<path d="M1536.5 119.4L1545.8 117.3" fill="none" stroke="#444" stroke-width="1.1" stroke-opacity="0.5"/>
<polygon points="1528.3,106 1572.5,134.5 1549.4,72.4" fill="url(#g476)" stroke="url(#g476)" stroke-width="0.7"/>
<path d="M1545.8 117.3L1565.4 115.6M1552.9 81.7L1543 82.6" fill="none" stroke="#444" stroke-width="1.1" stroke-opacity="0.5"/>
<polygon points="1528.3,106 1551.2,143.6 1572.5,134.5 1549.4,72.4" fill="none" stroke="#6e6e6e" stroke-width="0.8" stroke-opacity="0.55"/>
<polygon points="1551.2,143.6 1574.1,145.5 1572.5,134.5" fill="url(#g477)" stroke="url(#g477)" stroke-width="0.7"/>
<polygon points="1574.1,145.5 1595.3,129.6 1572.5,134.5" fill="url(#g478)" stroke="url(#g478)" stroke-width="0.7"/>
<polygon points="1551.2,143.6 1574.1,145.5 1595.3,129.6 1572.5,134.5" fill="none" stroke="#6e6e6e" stroke-width="0.8" stroke-opacity="0.55"/>
<polygon points="1574.1,145.5 1597.7,150.8 1595.3,129.6" fill="url(#g479)" stroke="url(#g479)" stroke-width="0.7"/>
<polygon points="1597.7,150.8 1618.8,121.1 1595.3,129.6" fill="url(#g480)" stroke="url(#g480)" stroke-width="0.7"/>
<path d="M1613.8 128.1L1609.1 124.6" fill="none" stroke="#444" stroke-width="1.1" stroke-opacity="0.5"/>
<polygon points="1574.1,145.5 1597.7,150.8 1618.8,121.1 1595.3,129.6" fill="none" stroke="#6e6e6e" stroke-width="0.8" stroke-opacity="0.55"/>
<polygon points="1597.7,150.8 1622,156.2 1643,126" fill="url(#g481)" stroke="url(#g481)" stroke-width="0.7"/>
<path d="M1638 133.1L1632.3 131.9" fill="none" stroke="#444" stroke-width="1.1" stroke-opacity="0.5"/>
<polygon points="1597.7,150.8 1643,126 1618.8,121.1" fill="url(#g482)" stroke="url(#g482)" stroke-width="0.7"/>
<path d="M1632.3 131.9L1613.8 128.1" fill="none" stroke="#444" stroke-width="1.1" stroke-opacity="0.5"/>
<polygon points="1597.7,150.8 1622,156.2 1643,126 1618.8,121.1" fill="none" stroke="#6e6e6e" stroke-width="0.8" stroke-opacity="0.55"/>
<polygon points="1622,156.2 1646.9,161.8 1643,126" fill="url(#g483)" stroke="url(#g483)" stroke-width="0.7"/>
<path d="M1643.9 134.5L1638 133.1" fill="none" stroke="#444" stroke-width="1.1" stroke-opacity="0.5"/>
<polygon points="1646.9,161.8 1668,110.2 1643,126" fill="url(#g484)" stroke="url(#g484)" stroke-width="0.7"/>
<path d="M1655.6 140.6L1643.9 134.5" fill="none" stroke="#444" stroke-width="1.1" stroke-opacity="0.5"/>
<polygon points="1622,156.2 1646.9,161.8 1668,110.2 1643,126" fill="none" stroke="#6e6e6e" stroke-width="0.8" stroke-opacity="0.55"/>
<polygon points="1646.9,161.8 1672.7,131.9 1668,110.2" fill="url(#g485)" stroke="url(#g485)" stroke-width="0.7"/>
<path d="M1660.7 145.8L1655.6 140.6" fill="none" stroke="#444" stroke-width="1.1" stroke-opacity="0.5"/>
<polygon points="1672.7,131.9 1693.9,97.4 1668,110.2" fill="url(#g486)" stroke="url(#g486)" stroke-width="0.7"/>
<path d="M1685.7 110.8L1677.8 105.3" fill="none" stroke="#444" stroke-width="1.1" stroke-opacity="0.5"/>
<polygon points="1646.9,161.8 1672.7,131.9 1693.9,97.4 1668,110.2" fill="none" stroke="#6e6e6e" stroke-width="0.8" stroke-opacity="0.55"/>
<polygon points="1672.7,131.9 1699.3,126.4 1693.9,97.4" fill="url(#g487)" stroke="url(#g487)" stroke-width="0.7"/>
<path d="M1697.3 115.4L1685.7 110.8" fill="none" stroke="#444" stroke-width="1.1" stroke-opacity="0.5"/>
<polygon points="1699.3,126.4 1720.4,95 1693.9,97.4" fill="url(#g488)" stroke="url(#g488)" stroke-width="0.7"/>
<path d="M1705.1 117.9L1697.3 115.4" fill="none" stroke="#444" stroke-width="1.1" stroke-opacity="0.5"/>
<polygon points="1672.7,131.9 1699.3,126.4 1720.4,95 1693.9,97.4" fill="none" stroke="#6e6e6e" stroke-width="0.8" stroke-opacity="0.55"/>
<polygon points="1699.3,126.4 1726.9,120.7 1720.4,95" fill="url(#g489)" stroke="url(#g489)" stroke-width="0.7"/>
<path d="M1716.8 122.8L1705.1 117.9" fill="none" stroke="#444" stroke-width="1.1" stroke-opacity="0.5"/>
<polygon points="1726.9,120.7 1747.7,100 1720.4,95" fill="url(#g490)" stroke="url(#g490)" stroke-width="0.7"/>
<polygon points="1699.3,126.4 1726.9,120.7 1747.7,100 1720.4,95" fill="none" stroke="#6e6e6e" stroke-width="0.8" stroke-opacity="0.55"/>
<polygon points="1726.9,120.7 1751.9,285 1772,270" fill="url(#g491)" stroke="url(#g491)" stroke-width="0.7"/>
<path d="M1749.6 269.9L1769.6 262M1744.1 233.6L1759.2 227.6M1738.6 197.4L1748.8 193.3M1733 161.1L1738.4 159M1727.5 124.9L1728.1 124.6" fill="none" stroke="#444" stroke-width="1.1" stroke-opacity="0.5"/>
<polygon points="1726.9,120.7 1772,270 1747.7,100" fill="url(#g492)" stroke="url(#g492)" stroke-width="0.7"/>
<path d="M1769.6 262L1770.8 261.6M1759.2 227.6L1765.7 226M1748.8 193.3L1760.6 190.3M1738.4 159L1755.6 154.7M1728.1 124.6L1750.5 119" fill="none" stroke="#444" stroke-width="1.1" stroke-opacity="0.5"/>
<polygon points="1726.9,120.7 1751.9,285 1772,270 1747.7,100" fill="none" stroke="#6e6e6e" stroke-width="0.8" stroke-opacity="0.55"/>
<polygon points="1751.9,285 1780,303 1772,270" fill="url(#g493)" stroke="url(#g493)" stroke-width="0.7"/>
<polygon points="1780,303 1799.5,300 1772,270" fill="url(#g494)" stroke="url(#g494)" stroke-width="0.7"/>
<polygon points="1751.9,285 1780,303 1799.5,300 1772,270" fill="none" stroke="#6e6e6e" stroke-width="0.8" stroke-opacity="0.55"/>
<polygon points="1506.7,135.3 1529.6,169.8 1551.2,143.6" fill="url(#g495)" stroke="url(#g495)" stroke-width="0.7"/>
<path d="M1522.3 158.8L1539.7 157.6" fill="none" stroke="#444" stroke-width="1.1" stroke-opacity="0.5"/>
<polygon points="1506.7,135.3 1551.2,143.6 1528.3,106" fill="url(#g496)" stroke="url(#g496)" stroke-width="0.7"/>
<path d="M1536.5 119.4L1517.6 120.4" fill="none" stroke="#444" stroke-width="1.1" stroke-opacity="0.5"/>
<polygon points="1506.7,135.3 1529.6,169.8 1551.2,143.6 1528.3,106" fill="none" stroke="#6e6e6e" stroke-width="0.8" stroke-opacity="0.55"/>
<polygon points="1529.6,169.8 1552.6,175.4 1551.2,143.6" fill="url(#g497)" stroke="url(#g497)" stroke-width="0.7"/>
<path d="M1551.9 160.6L1539.7 157.6" fill="none" stroke="#444" stroke-width="1.1" stroke-opacity="0.5"/>
<polygon points="1552.6,175.4 1574.1,145.5 1551.2,143.6" fill="url(#g498)" stroke="url(#g498)" stroke-width="0.7"/>
<path d="M1561.2 163.5L1551.9 160.6" fill="none" stroke="#444" stroke-width="1.1" stroke-opacity="0.5"/>
<polygon points="1529.6,169.8 1552.6,175.4 1574.1,145.5 1551.2,143.6" fill="none" stroke="#6e6e6e" stroke-width="0.8" stroke-opacity="0.55"/>
<polygon points="1552.6,175.4 1576.1,181.2 1574.1,145.5" fill="url(#g499)" stroke="url(#g499)" stroke-width="0.7"/>
<path d="M1575.3 166.9L1561.2 163.5" fill="none" stroke="#444" stroke-width="1.1" stroke-opacity="0.5"/>
<polygon points="1576.1,181.2 1597.7,150.8 1574.1,145.5" fill="url(#g500)" stroke="url(#g500)" stroke-width="0.7"/>
<path d="M1584.8 169L1575.3 166.9" fill="none" stroke="#444" stroke-width="1.1" stroke-opacity="0.5"/>
<polygon points="1552.6,175.4 1576.1,181.2 1597.7,150.8 1574.1,145.5" fill="none" stroke="#6e6e6e" stroke-width="0.8" stroke-opacity="0.55"/>
<polygon points="1576.1,181.2 1600.4,187.2 1622,156.2" fill="url(#g501)" stroke="url(#g501)" stroke-width="0.7"/>
<path d="M1609 174.8L1594.5 171.2" fill="none" stroke="#444" stroke-width="1.1" stroke-opacity="0.5"/>
<polygon points="1576.1,181.2 1622,156.2 1597.7,150.8" fill="url(#g502)" stroke="url(#g502)" stroke-width="0.7"/>
<path d="M1594.5 171.2L1584.8 169" fill="none" stroke="#444" stroke-width="1.1" stroke-opacity="0.5"/>
<polygon points="1576.1,181.2 1600.4,187.2 1622,156.2 1597.7,150.8" fill="none" stroke="#6e6e6e" stroke-width="0.8" stroke-opacity="0.55"/>
<polygon points="1600.4,187.2 1625.3,193.3 1646.9,161.8" fill="url(#g503)" stroke="url(#g503)" stroke-width="0.7"/>
<path d="M1633.9 180.7L1619 177" fill="none" stroke="#444" stroke-width="1.1" stroke-opacity="0.5"/>
<polygon points="1600.4,187.2 1646.9,161.8 1622,156.2" fill="url(#g504)" stroke="url(#g504)" stroke-width="0.7"/>
<path d="M1619 177L1609 174.8" fill="none" stroke="#444" stroke-width="1.1" stroke-opacity="0.5"/>
<polygon points="1600.4,187.2 1625.3,193.3 1646.9,161.8 1622,156.2" fill="none" stroke="#6e6e6e" stroke-width="0.8" stroke-opacity="0.55"/>
<polygon points="1625.3,193.3 1650.9,199.5 1646.9,161.8" fill="url(#g505)" stroke="url(#g505)" stroke-width="0.7"/>
<path d="M1649.3 184.4L1633.9 180.7" fill="none" stroke="#444" stroke-width="1.1" stroke-opacity="0.5"/>
<polygon points="1650.9,199.5 1672.7,131.9 1646.9,161.8" fill="url(#g506)" stroke="url(#g506)" stroke-width="0.7"/>
<path d="M1654.5 188.4L1649.3 184.4M1666.8 150.4L1660.7 145.8" fill="none" stroke="#444" stroke-width="1.1" stroke-opacity="0.5"/>
<polygon points="1625.3,193.3 1650.9,199.5 1672.7,131.9 1646.9,161.8" fill="none" stroke="#6e6e6e" stroke-width="0.8" stroke-opacity="0.55"/>
<polygon points="1650.9,199.5 1677.6,165.9 1672.7,131.9" fill="url(#g507)" stroke="url(#g507)" stroke-width="0.7"/>
<path d="M1657.7 191L1654.5 188.4M1676.5 158.2L1666.8 150.4" fill="none" stroke="#444" stroke-width="1.1" stroke-opacity="0.5"/>
<polygon points="1677.6,165.9 1699.3,126.4 1672.7,131.9" fill="url(#g508)" stroke="url(#g508)" stroke-width="0.7"/>
<path d="M1680.9 160L1676.5 158.2" fill="none" stroke="#444" stroke-width="1.1" stroke-opacity="0.5"/>
<polygon points="1650.9,199.5 1677.6,165.9 1699.3,126.4 1672.7,131.9" fill="none" stroke="#6e6e6e" stroke-width="0.8" stroke-opacity="0.55"/>
<polygon points="1677.6,165.9 1705.2,157.1 1699.3,126.4" fill="url(#g509)" stroke="url(#g509)" stroke-width="0.7"/>
<path d="M1686.9 162.9L1680.9 160" fill="none" stroke="#444" stroke-width="1.1" stroke-opacity="0.5"/>
<polygon points="1705.2,157.1 1726.9,120.7 1699.3,126.4" fill="url(#g510)" stroke="url(#g510)" stroke-width="0.7"/>
<path d="M1723.9 125.7L1716.8 122.8" fill="none" stroke="#444" stroke-width="1.1" stroke-opacity="0.5"/>
<polygon points="1677.6,165.9 1705.2,157.1 1726.9,120.7 1699.3,126.4" fill="none" stroke="#6e6e6e" stroke-width="0.8" stroke-opacity="0.55"/>
<polygon points="1705.2,157.1 1732.8,200 1726.9,120.7" fill="url(#g511)" stroke="url(#g511)" stroke-width="0.7"/>
<path d="M1712.7 168.7L1730.4 168.2M1727.2 125.6L1723.9 125.7" fill="none" stroke="#444" stroke-width="1.1" stroke-opacity="0.5"/>
<polygon points="1732.8,200 1751.9,285 1726.9,120.7" fill="url(#g512)" stroke="url(#g512)" stroke-width="0.7"/>
<path d="M1749 271.7L1749.6 269.9M1741.8 239.9L1744.1 233.6M1734.6 208.1L1738.6 197.4M1733 161.1L1730.4 168.2M1727.5 124.9L1727.2 125.6" fill="none" stroke="#444" stroke-width="1.1" stroke-opacity="0.5"/>
<polygon points="1705.2,157.1 1732.8,200 1751.9,285 1726.9,120.7" fill="none" stroke="#6e6e6e" stroke-width="0.8" stroke-opacity="0.55"/>
<polygon points="1732.8,200 1759.7,304 1751.9,285" fill="url(#g513)" stroke="url(#g513)" stroke-width="0.7"/>
<path d="M1755.1 286.1L1749 271.7M1745.2 247.9L1741.8 239.9M1735.3 209.7L1734.6 208.1" fill="none" stroke="#444" stroke-width="1.1" stroke-opacity="0.5"/>
<polygon points="1759.7,304 1780,303 1751.9,285" fill="url(#g514)" stroke="url(#g514)" stroke-width="0.7"/>
<polygon points="1732.8,200 1759.7,304 1780,303 1751.9,285" fill="none" stroke="#6e6e6e" stroke-width="0.8" stroke-opacity="0.55"/>
<polygon points="1485,188.1 1507.4,195 1529.6,169.8" fill="url(#g515)" stroke="url(#g515)" stroke-width="0.7"/>
<polygon points="1485,188.1 1529.6,169.8 1506.7,135.3" fill="url(#g516)" stroke="url(#g516)" stroke-width="0.7"/>
<path d="M1522.3 158.8L1497.4 157.8" fill="none" stroke="#444" stroke-width="1.1" stroke-opacity="0.5"/>
<polygon points="1485,188.1 1507.4,195 1529.6,169.8 1506.7,135.3" fill="none" stroke="#6e6e6e" stroke-width="0.8" stroke-opacity="0.55"/>
<polygon points="1507.4,195 1530.3,201 1529.6,169.8" fill="url(#g517)" stroke="url(#g517)" stroke-width="0.7"/>
<polygon points="1530.3,201 1552.6,175.4 1529.6,169.8" fill="url(#g518)" stroke="url(#g518)" stroke-width="0.7"/>
<polygon points="1507.4,195 1530.3,201 1552.6,175.4 1529.6,169.8" fill="none" stroke="#6e6e6e" stroke-width="0.8" stroke-opacity="0.55"/>
<polygon points="1530.3,201 1553.9,207.3 1576.1,181.2" fill="url(#g519)" stroke="url(#g519)" stroke-width="0.7"/>
<polygon points="1530.3,201 1576.1,181.2 1552.6,175.4" fill="url(#g520)" stroke="url(#g520)" stroke-width="0.7"/>
<polygon points="1530.3,201 1553.9,207.3 1576.1,181.2 1552.6,175.4" fill="none" stroke="#6e6e6e" stroke-width="0.8" stroke-opacity="0.55"/>
<polygon points="1553.9,207.3 1578.2,213.6 1576.1,181.2" fill="url(#g521)" stroke="url(#g521)" stroke-width="0.7"/>
<polygon points="1578.2,213.6 1600.4,187.2 1576.1,181.2" fill="url(#g522)" stroke="url(#g522)" stroke-width="0.7"/>
<polygon points="1553.9,207.3 1578.2,213.6 1600.4,187.2 1576.1,181.2" fill="none" stroke="#6e6e6e" stroke-width="0.8" stroke-opacity="0.55"/>
<polygon points="1578.2,213.6 1603.1,220.2 1625.3,193.3" fill="url(#g523)" stroke="url(#g523)" stroke-width="0.7"/>
<polygon points="1578.2,213.6 1625.3,193.3 1600.4,187.2" fill="url(#g524)" stroke="url(#g524)" stroke-width="0.7"/>
<polygon points="1578.2,213.6 1603.1,220.2 1625.3,193.3 1600.4,187.2" fill="none" stroke="#6e6e6e" stroke-width="0.8" stroke-opacity="0.55"/>
<polygon points="1603.1,220.2 1628.8,227 1625.3,193.3" fill="url(#g525)" stroke="url(#g525)" stroke-width="0.7"/>
<polygon points="1628.8,227 1650.9,199.5 1625.3,193.3" fill="url(#g526)" stroke="url(#g526)" stroke-width="0.7"/>
<polygon points="1603.1,220.2 1628.8,227 1650.9,199.5 1625.3,193.3" fill="none" stroke="#6e6e6e" stroke-width="0.8" stroke-opacity="0.55"/>
<polygon points="1628.8,227 1655.4,200.8 1650.9,199.5" fill="url(#g527)" stroke="url(#g527)" stroke-width="0.7"/>
<path d="M1653.3 202.9L1654.5 200.6" fill="none" stroke="#444" stroke-width="1.1" stroke-opacity="0.5"/>
<polygon points="1655.4,200.8 1677.6,165.9 1650.9,199.5" fill="url(#g528)" stroke="url(#g528)" stroke-width="0.7"/>
<path d="M1657.7 191L1654.5 200.6" fill="none" stroke="#444" stroke-width="1.1" stroke-opacity="0.5"/>
<polygon points="1628.8,227 1655.4,200.8 1677.6,165.9 1650.9,199.5" fill="none" stroke="#6e6e6e" stroke-width="0.8" stroke-opacity="0.55"/>
<polygon points="1655.4,200.8 1683,179.3 1677.6,165.9" fill="url(#g529)" stroke="url(#g529)" stroke-width="0.7"/>
<polygon points="1683,179.3 1705.2,157.1 1677.6,165.9" fill="url(#g530)" stroke="url(#g530)" stroke-width="0.7"/>
<path d="M1690.5 171.8L1686.9 162.9" fill="none" stroke="#444" stroke-width="1.1" stroke-opacity="0.5"/>
<polygon points="1655.4,200.8 1683,179.3 1705.2,157.1 1677.6,165.9" fill="none" stroke="#6e6e6e" stroke-width="0.8" stroke-opacity="0.55"/>
<polygon points="1683,179.3 1712.4,104 1732.8,200" fill="url(#g531)" stroke="url(#g531)" stroke-width="0.7"/>
<path d="M1684.9 174.4L1727.4 174.5M1698.3 140.2L1720.1 140.2M1711.6 106L1712.8 106" fill="none" stroke="#444" stroke-width="1.1" stroke-opacity="0.5"/>
<polygon points="1683,179.3 1732.8,200 1705.2,157.1" fill="url(#g532)" stroke="url(#g532)" stroke-width="0.7"/>
<path d="M1712.7 168.7L1690.5 171.8" fill="none" stroke="#444" stroke-width="1.1" stroke-opacity="0.5"/>
<polygon points="1683,179.3 1712.4,104 1732.8,200 1705.2,157.1" fill="none" stroke="#6e6e6e" stroke-width="0.8" stroke-opacity="0.55"/>
<polygon points="1712.4,104 1739.1,282.5 1732.8,200" fill="url(#g533)" stroke="url(#g533)" stroke-width="0.7"/>
<path d="M1735.6 259.6L1737 255.9M1729.9 221.3L1733.7 211.3M1724.2 182.9L1727.4 174.5M1718.5 144.6L1720.1 140.2M1712.7 106.3L1712.8 106" fill="none" stroke="#444" stroke-width="1.1" stroke-opacity="0.5"/>
<polygon points="1739.1,282.5 1759.7,304 1732.8,200" fill="url(#g534)" stroke="url(#g534)" stroke-width="0.7"/>
<path d="M1748.6 292.5L1755.1 286.1M1745.2 247.9L1737 255.9M1735.3 209.7L1733.7 211.3" fill="none" stroke="#444" stroke-width="1.1" stroke-opacity="0.5"/>
<polygon points="1712.4,104 1739.1,282.5 1759.7,304 1732.8,200" fill="none" stroke="#6e6e6e" stroke-width="0.8" stroke-opacity="0.55"/>
<polygon points="1460,138.3 1484.2,207.2 1485,188.1" fill="url(#g535)" stroke="url(#g535)" stroke-width="0.7"/>
<path d="M1483.9 206.2L1484.3 204.5M1471.3 170.4L1472.9 164" fill="none" stroke="#444" stroke-width="1.1" stroke-opacity="0.5"/>
<polygon points="1484.2,207.2 1507.4,195 1485,188.1" fill="url(#g536)" stroke="url(#g536)" stroke-width="0.7"/>
<path d="M1488.1 205.1L1484.3 204.5" fill="none" stroke="#444" stroke-width="1.1" stroke-opacity="0.5"/>
<polygon points="1460,138.3 1484.2,207.2 1507.4,195 1485,188.1" fill="none" stroke="#6e6e6e" stroke-width="0.8" stroke-opacity="0.55"/>
<polygon points="1484.2,207.2 1507.2,213.5 1507.4,195" fill="url(#g537)" stroke="url(#g537)" stroke-width="0.7"/>
<path d="M1507.2 210.4L1488.1 205.1" fill="none" stroke="#444" stroke-width="1.1" stroke-opacity="0.5"/>
<polygon points="1507.2,213.5 1530.3,201 1507.4,195" fill="url(#g538)" stroke="url(#g538)" stroke-width="0.7"/>
<path d="M1511.1 211.4L1507.2 210.4" fill="none" stroke="#444" stroke-width="1.1" stroke-opacity="0.5"/>
<polygon points="1484.2,207.2 1507.2,213.5 1530.3,201 1507.4,195" fill="none" stroke="#6e6e6e" stroke-width="0.8" stroke-opacity="0.55"/>
<polygon points="1507.2,213.5 1530.9,220 1553.9,207.3" fill="url(#g539)" stroke="url(#g539)" stroke-width="0.7"/>
<path d="M1534.7 217.8L1515 212.4" fill="none" stroke="#444" stroke-width="1.1" stroke-opacity="0.5"/>
<polygon points="1507.2,213.5 1553.9,207.3 1530.3,201" fill="url(#g540)" stroke="url(#g540)" stroke-width="0.7"/>
<path d="M1515 212.4L1511.1 211.4" fill="none" stroke="#444" stroke-width="1.1" stroke-opacity="0.5"/>
<polygon points="1507.2,213.5 1530.9,220 1553.9,207.3 1530.3,201" fill="none" stroke="#6e6e6e" stroke-width="0.8" stroke-opacity="0.55"/>
<polygon points="1530.9,220 1555.2,226.6 1553.9,207.3" fill="url(#g541)" stroke="url(#g541)" stroke-width="0.7"/>
<path d="M1555 223.4L1534.7 217.8" fill="none" stroke="#444" stroke-width="1.1" stroke-opacity="0.5"/>
<polygon points="1555.2,226.6 1578.2,213.6 1553.9,207.3" fill="url(#g542)" stroke="url(#g542)" stroke-width="0.7"/>
<path d="M1559 224.5L1555 223.4" fill="none" stroke="#444" stroke-width="1.1" stroke-opacity="0.5"/>
<polygon points="1530.9,220 1555.2,226.6 1578.2,213.6 1553.9,207.3" fill="none" stroke="#6e6e6e" stroke-width="0.8" stroke-opacity="0.55"/>
<polygon points="1555.2,226.6 1580.2,233.5 1603.1,220.2" fill="url(#g543)" stroke="url(#g543)" stroke-width="0.7"/>
<path d="M1584 231.3L1563.2 225.6" fill="none" stroke="#444" stroke-width="1.1" stroke-opacity="0.5"/>
<polygon points="1555.2,226.6 1603.1,220.2 1578.2,213.6" fill="url(#g544)" stroke="url(#g544)" stroke-width="0.7"/>
<path d="M1563.2 225.6L1559 224.5" fill="none" stroke="#444" stroke-width="1.1" stroke-opacity="0.5"/>
<polygon points="1555.2,226.6 1580.2,233.5 1603.1,220.2 1578.2,213.6" fill="none" stroke="#6e6e6e" stroke-width="0.8" stroke-opacity="0.55"/>
<polygon points="1580.2,233.5 1606,240.6 1603.1,220.2" fill="url(#g545)" stroke="url(#g545)" stroke-width="0.7"/>
<path d="M1605.5 237.2L1584 231.3" fill="none" stroke="#444" stroke-width="1.1" stroke-opacity="0.5"/>
<polygon points="1606,240.6 1628.8,227 1603.1,220.2" fill="url(#g546)" stroke="url(#g546)" stroke-width="0.7"/>
<path d="M1609.8 238.3L1605.5 237.2" fill="none" stroke="#444" stroke-width="1.1" stroke-opacity="0.5"/>
<polygon points="1580.2,233.5 1606,240.6 1628.8,227 1603.1,220.2" fill="none" stroke="#6e6e6e" stroke-width="0.8" stroke-opacity="0.55"/>
<polygon points="1606,240.6 1632.5,221.8 1628.8,227" fill="url(#g547)" stroke="url(#g547)" stroke-width="0.7"/>
<path d="M1606.9 239.9L1609.8 238.3" fill="none" stroke="#444" stroke-width="1.1" stroke-opacity="0.5"/>
<polygon points="1632.5,221.8 1655.4,200.8 1628.8,227" fill="url(#g548)" stroke="url(#g548)" stroke-width="0.7"/>
<path d="M1650.8 205L1653.3 202.9" fill="none" stroke="#444" stroke-width="1.1" stroke-opacity="0.5"/>
<polygon points="1606,240.6 1632.5,221.8 1655.4,200.8 1628.8,227" fill="none" stroke="#6e6e6e" stroke-width="0.8" stroke-opacity="0.55"/>
<polygon points="1660.2,196.5 1683,179.3 1655.4,200.8" fill="url(#g549)" stroke="url(#g549)" stroke-width="0.7"/>
<polygon points="1632.5,221.8 1660.2,196.5 1683,179.3 1655.4,200.8" fill="none" stroke="#6e6e6e" stroke-width="0.8" stroke-opacity="0.55"/>
<polygon points="1660.2,196.5 1689.7,85.7 1712.4,104" fill="url(#g550)" stroke="url(#g550)" stroke-width="0.7"/>
<path d="M1664 182.1L1668.7 181.3M1673.5 146.4L1689.9 143.8M1683.1 110.7L1711.2 106.2" fill="none" stroke="#444" stroke-width="1.1" stroke-opacity="0.5"/>
<polygon points="1660.2,196.5 1712.4,104 1683,179.3" fill="url(#g551)" stroke="url(#g551)" stroke-width="0.7"/>
<path d="M1668.7 181.3L1684.9 174.4M1689.9 143.8L1698.3 140.2M1711.2 106.2L1711.6 106" fill="none" stroke="#444" stroke-width="1.1" stroke-opacity="0.5"/>
<polygon points="1660.2,196.5 1689.7,85.7 1712.4,104 1683,179.3" fill="none" stroke="#6e6e6e" stroke-width="0.8" stroke-opacity="0.55"/>
<polygon points="1689.7,85.7 1717.7,239.6 1712.4,104" fill="url(#g552)" stroke="url(#g552)" stroke-width="0.7"/>
<path d="M1716.4 232.5L1717.4 232.1M1709.2 192.8L1715.8 190.2M1702 153.1L1714.1 148.4M1694.7 113.4L1712.5 106.5" fill="none" stroke="#444" stroke-width="1.1" stroke-opacity="0.5"/>
<polygon points="1717.7,239.6 1739.1,282.5 1712.4,104" fill="url(#g553)" stroke="url(#g553)" stroke-width="0.7"/>
<path d="M1730.1 264.5L1735.6 259.6M1729.9 221.3L1717.4 232.1M1724.2 182.9L1715.8 190.2M1718.5 144.6L1714.1 148.4M1712.7 106.3L1712.5 106.5" fill="none" stroke="#444" stroke-width="1.1" stroke-opacity="0.5"/>
<polygon points="1689.7,85.7 1717.7,239.6 1739.1,282.5 1712.4,104" fill="none" stroke="#6e6e6e" stroke-width="0.8" stroke-opacity="0.55"/>
<polygon points="1435.8,149 1459.8,202.3 1460,138.3" fill="url(#g554)" stroke="url(#g554)" stroke-width="0.7"/>
<path d="M1448.6 177.5L1459.9 175.1" fill="none" stroke="#444" stroke-width="1.1" stroke-opacity="0.5"/>
<polygon points="1459.8,202.3 1484.2,207.2 1460,138.3" fill="url(#g555)" stroke="url(#g555)" stroke-width="0.7"/>
<path d="M1482.5 206.8L1483.9 206.2M1471.3 170.4L1459.9 175.1" fill="none" stroke="#444" stroke-width="1.1" stroke-opacity="0.5"/>
<polygon points="1435.8,149 1459.8,202.3 1484.2,207.2 1460,138.3" fill="none" stroke="#6e6e6e" stroke-width="0.8" stroke-opacity="0.55"/>
<polygon points="1459.8,202.3 1482.9,208.6 1507.2,213.5" fill="url(#g556)" stroke="url(#g556)" stroke-width="0.7"/>
<path d="M1505.5 213.1L1503.8 212.7" fill="none" stroke="#444" stroke-width="1.1" stroke-opacity="0.5"/>
<polygon points="1459.8,202.3 1507.2,213.5 1484.2,207.2" fill="url(#g557)" stroke="url(#g557)" stroke-width="0.7"/>
<path d="M1503.8 212.7L1482.5 206.8" fill="none" stroke="#444" stroke-width="1.1" stroke-opacity="0.5"/>
<polygon points="1459.8,202.3 1482.9,208.6 1507.2,213.5 1484.2,207.2" fill="none" stroke="#6e6e6e" stroke-width="0.8" stroke-opacity="0.55"/>
<polygon points="1482.9,208.6 1506.6,215.2 1507.2,213.5" fill="url(#g558)" stroke="url(#g558)" stroke-width="0.7"/>
<path d="M1507.2 213.6L1505.5 213.1" fill="none" stroke="#444" stroke-width="1.1" stroke-opacity="0.5"/>
<polygon points="1506.6,215.2 1530.9,220 1507.2,213.5" fill="url(#g559)" stroke="url(#g559)" stroke-width="0.7"/>
<path d="M1529.1 219.6L1507.2 213.6" fill="none" stroke="#444" stroke-width="1.1" stroke-opacity="0.5"/>
<polygon points="1482.9,208.6 1506.6,215.2 1530.9,220 1507.2,213.5" fill="none" stroke="#6e6e6e" stroke-width="0.8" stroke-opacity="0.55"/>
<polygon points="1506.6,215.2 1531.1,221.9 1555.2,226.6" fill="url(#g560)" stroke="url(#g560)" stroke-width="0.7"/>
<path d="M1553.5 226.3L1551.7 225.8" fill="none" stroke="#444" stroke-width="1.1" stroke-opacity="0.5"/>
<polygon points="1506.6,215.2 1555.2,226.6 1530.9,220" fill="url(#g561)" stroke="url(#g561)" stroke-width="0.7"/>
<path d="M1551.7 225.8L1529.1 219.6" fill="none" stroke="#444" stroke-width="1.1" stroke-opacity="0.5"/>
<polygon points="1506.6,215.2 1531.1,221.9 1555.2,226.6 1530.9,220" fill="none" stroke="#6e6e6e" stroke-width="0.8" stroke-opacity="0.55"/>
<polygon points="1531.1,221.9 1556.3,228.9 1555.2,226.6" fill="url(#g562)" stroke="url(#g562)" stroke-width="0.7"/>
<path d="M1555.3 226.8L1553.5 226.3" fill="none" stroke="#444" stroke-width="1.1" stroke-opacity="0.5"/>
<polygon points="1556.3,228.9 1580.2,233.5 1555.2,226.6" fill="url(#g563)" stroke="url(#g563)" stroke-width="0.7"/>
<path d="M1578.5 233.2L1555.3 226.8" fill="none" stroke="#444" stroke-width="1.1" stroke-opacity="0.5"/>
<polygon points="1531.1,221.9 1556.3,228.9 1580.2,233.5 1555.2,226.6" fill="none" stroke="#6e6e6e" stroke-width="0.8" stroke-opacity="0.55"/>
<polygon points="1556.3,228.9 1582.1,227 1606,240.6" fill="url(#g564)" stroke="url(#g564)" stroke-width="0.7"/>
<path d="M1605 240L1602.4 239.7" fill="none" stroke="#444" stroke-width="1.1" stroke-opacity="0.5"/>
<polygon points="1556.3,228.9 1606,240.6 1580.2,233.5" fill="url(#g565)" stroke="url(#g565)" stroke-width="0.7"/>
<path d="M1602.4 239.7L1578.5 233.2" fill="none" stroke="#444" stroke-width="1.1" stroke-opacity="0.5"/>
<polygon points="1556.3,228.9 1582.1,227 1606,240.6 1580.2,233.5" fill="none" stroke="#6e6e6e" stroke-width="0.8" stroke-opacity="0.55"/>
<polygon points="1582.1,227 1608.8,210 1632.5,221.8" fill="url(#g566)" stroke="url(#g566)" stroke-width="0.7"/>
<path d="M1598.5 216.6L1619.9 215.5" fill="none" stroke="#444" stroke-width="1.1" stroke-opacity="0.5"/>
<polygon points="1582.1,227 1632.5,221.8 1606,240.6" fill="url(#g567)" stroke="url(#g567)" stroke-width="0.7"/>
<path d="M1606.9 239.9L1605 240" fill="none" stroke="#444" stroke-width="1.1" stroke-opacity="0.5"/>
<polygon points="1582.1,227 1608.8,210 1632.5,221.8 1606,240.6" fill="none" stroke="#6e6e6e" stroke-width="0.8" stroke-opacity="0.55"/>
<polygon points="1608.8,210 1636.5,192 1660.2,196.5" fill="url(#g568)" stroke="url(#g568)" stroke-width="0.7"/>
<polygon points="1608.8,210 1660.2,196.5 1632.5,221.8" fill="url(#g569)" stroke="url(#g569)" stroke-width="0.7"/>
<path d="M1641.6 213.4L1619.9 215.5" fill="none" stroke="#444" stroke-width="1.1" stroke-opacity="0.5"/>
<polygon points="1608.8,210 1636.5,192 1660.2,196.5 1632.5,221.8" fill="none" stroke="#6e6e6e" stroke-width="0.8" stroke-opacity="0.55"/>
<polygon points="1636.5,192 1665.4,172 1660.2,196.5" fill="url(#g570)" stroke="url(#g570)" stroke-width="0.7"/>
<path d="M1639.4 190L1662.2 187" fill="none" stroke="#444" stroke-width="1.1" stroke-opacity="0.5"/>
<polygon points="1665.4,172 1689.7,85.7 1660.2,196.5" fill="url(#g571)" stroke="url(#g571)" stroke-width="0.7"/>
<path d="M1664 182.1L1662.2 187M1669.7 156.8L1673.5 146.4M1681.5 114.9L1683.1 110.7" fill="none" stroke="#444" stroke-width="1.1" stroke-opacity="0.5"/>
<polygon points="1636.5,192 1665.4,172 1689.7,85.7 1660.2,196.5" fill="none" stroke="#6e6e6e" stroke-width="0.8" stroke-opacity="0.55"/>
<polygon points="1665.4,172 1694.9,211 1717.7,239.6" fill="url(#g572)" stroke="url(#g572)" stroke-width="0.7"/>
<path d="M1713.5 234.4L1712.5 232.9M1688 201.9L1683.7 195.7" fill="none" stroke="#444" stroke-width="1.1" stroke-opacity="0.5"/>
<polygon points="1665.4,172 1717.7,239.6 1689.7,85.7" fill="url(#g573)" stroke="url(#g573)" stroke-width="0.7"/>
<path d="M1712.5 232.9L1716.4 232.5M1683.7 195.7L1709.2 192.8M1702 153.1L1669.7 156.8M1694.7 113.4L1681.5 114.9" fill="none" stroke="#444" stroke-width="1.1" stroke-opacity="0.5"/>
<polygon points="1665.4,172 1694.9,211 1717.7,239.6 1689.7,85.7" fill="none" stroke="#6e6e6e" stroke-width="0.8" stroke-opacity="0.55"/>
<polygon points="1411.6,182.5 1434.9,211 1459.8,202.3" fill="url(#g574)" stroke="url(#g574)" stroke-width="0.7"/>
<polygon points="1411.6,182.5 1459.8,202.3 1435.8,149" fill="url(#g575)" stroke="url(#g575)" stroke-width="0.7"/>
<path d="M1448.6 177.5L1412.9 180.8" fill="none" stroke="#444" stroke-width="1.1" stroke-opacity="0.5"/>
<polygon points="1411.6,182.5 1434.9,211 1459.8,202.3 1435.8,149" fill="none" stroke="#6e6e6e" stroke-width="0.8" stroke-opacity="0.55"/>
<polygon points="1434.9,211 1457.8,210 1482.9,208.6" fill="url(#g576)" stroke="url(#g576)" stroke-width="0.7"/>
<polygon points="1434.9,211 1482.9,208.6 1459.8,202.3" fill="#ffd300" stroke="#ffd300" stroke-width="0.7"/>
<polygon points="1434.9,211 1457.8,210 1482.9,208.6 1459.8,202.3" fill="none" stroke="#6e6e6e" stroke-width="0.8" stroke-opacity="0.55"/>
<polygon points="1457.8,210 1483.2,277.5 1506.6,215.2" fill="url(#g577)" stroke="url(#g577)" stroke-width="0.7"/>
<path d="M1479.8 268.4L1486.7 268.1M1465.3 230L1501.6 228.6" fill="none" stroke="#444" stroke-width="1.1" stroke-opacity="0.5"/>
<polygon points="1457.8,210 1506.6,215.2 1482.9,208.6" fill="url(#g578)" stroke="url(#g578)" stroke-width="0.7"/>
<polygon points="1457.8,210 1483.2,277.5 1506.6,215.2 1482.9,208.6" fill="none" stroke="#6e6e6e" stroke-width="0.8" stroke-opacity="0.55"/>
<polygon points="1483.2,277.5 1507.2,270.7 1506.6,215.2" fill="url(#g579)" stroke="url(#g579)" stroke-width="0.7"/>
<path d="M1496.8 273.6L1486.7 268.1M1506.8 231.5L1501.6 228.6" fill="none" stroke="#444" stroke-width="1.1" stroke-opacity="0.5"/>
<polygon points="1507.2,270.7 1531.1,221.9 1506.6,215.2" fill="url(#g580)" stroke="url(#g580)" stroke-width="0.7"/>
<path d="M1524.1 236.2L1506.8 231.5" fill="none" stroke="#444" stroke-width="1.1" stroke-opacity="0.5"/>
<polygon points="1483.2,277.5 1507.2,270.7 1531.1,221.9 1506.6,215.2" fill="none" stroke="#6e6e6e" stroke-width="0.8" stroke-opacity="0.55"/>
<polygon points="1507.2,270.7 1532.6,294 1556.3,228.9" fill="url(#g581)" stroke="url(#g581)" stroke-width="0.7"/>
<path d="M1517.6 280.2L1536.4 283.4M1551.2 242.7L1541.9 241.1" fill="none" stroke="#444" stroke-width="1.1" stroke-opacity="0.5"/>
<polygon points="1507.2,270.7 1556.3,228.9 1531.1,221.9" fill="url(#g582)" stroke="url(#g582)" stroke-width="0.7"/>
<path d="M1541.9 241.1L1524.1 236.2" fill="none" stroke="#444" stroke-width="1.1" stroke-opacity="0.5"/>
<polygon points="1507.2,270.7 1532.6,294 1556.3,228.9 1531.1,221.9" fill="none" stroke="#6e6e6e" stroke-width="0.8" stroke-opacity="0.55"/>
<polygon points="1532.6,294 1559.2,363.5 1582.1,227" fill="url(#g583)" stroke="url(#g583)" stroke-width="0.7"/>
<path d="M1543.9 323.5L1565.6 325.5M1572 287.5L1539.5 284.6M1578.3 249.5L1566.3 248.4" fill="none" stroke="#444" stroke-width="1.1" stroke-opacity="0.5"/>
<polygon points="1532.6,294 1582.1,227 1556.3,228.9" fill="url(#g584)" stroke="url(#g584)" stroke-width="0.7"/>
<path d="M1539.5 284.6L1536.4 283.4M1566.3 248.4L1551.2 242.7" fill="none" stroke="#444" stroke-width="1.1" stroke-opacity="0.5"/>
<polygon points="1532.6,294 1559.2,363.5 1582.1,227 1556.3,228.9" fill="none" stroke="#6e6e6e" stroke-width="0.8" stroke-opacity="0.55"/>
<polygon points="1559.2,363.5 1584.8,287 1582.1,227" fill="url(#g585)" stroke="url(#g585)" stroke-width="0.7"/>
<path d="M1569.9 331.5L1565.6 325.5M1580.6 299.5L1572 287.5M1583.4 256.6L1578.3 249.5" fill="none" stroke="#444" stroke-width="1.1" stroke-opacity="0.5"/>
<polygon points="1584.8,287 1608.8,210 1582.1,227" fill="url(#g586)" stroke="url(#g586)" stroke-width="0.7"/>
<path d="M1592.6 261.9L1583.4 256.6M1605.5 220.6L1598.5 216.6" fill="none" stroke="#444" stroke-width="1.1" stroke-opacity="0.5"/>
<polygon points="1559.2,363.5 1584.8,287 1608.8,210 1582.1,227" fill="none" stroke="#6e6e6e" stroke-width="0.8" stroke-opacity="0.55"/>
<polygon points="1584.8,287 1612.3,297 1608.8,210" fill="url(#g587)" stroke="url(#g587)" stroke-width="0.7"/>
<path d="M1611.1 267.3L1592.6 261.9M1609.3 221.7L1605.5 220.6" fill="none" stroke="#444" stroke-width="1.1" stroke-opacity="0.5"/>
<polygon points="1612.3,297 1636.5,192 1608.8,210" fill="url(#g588)" stroke="url(#g588)" stroke-width="0.7"/>
<path d="M1618.4 270.5L1611.1 267.3M1627.8 229.8L1609.3 221.7" fill="none" stroke="#444" stroke-width="1.1" stroke-opacity="0.5"/>
<polygon points="1584.8,287 1612.3,297 1636.5,192 1608.8,210" fill="none" stroke="#6e6e6e" stroke-width="0.8" stroke-opacity="0.55"/>
<polygon points="1612.3,297 1640.8,277 1636.5,192" fill="url(#g589)" stroke="url(#g589)" stroke-width="0.7"/>
<path d="M1636.7 279.9L1618.4 270.5M1638.7 235.4L1627.8 229.8" fill="none" stroke="#444" stroke-width="1.1" stroke-opacity="0.5"/>
<polygon points="1640.8,277 1665.4,172 1636.5,192" fill="url(#g590)" stroke="url(#g590)" stroke-width="0.7"/>
<path d="M1649.5 240L1638.7 235.4M1659.2 198.5L1639.4 190" fill="none" stroke="#444" stroke-width="1.1" stroke-opacity="0.5"/>
<polygon points="1612.3,297 1640.8,277 1665.4,172 1636.5,192" fill="none" stroke="#6e6e6e" stroke-width="0.8" stroke-opacity="0.55"/>
<polygon points="1640.8,277 1670.5,248 1665.4,172" fill="url(#g591)" stroke="url(#g591)" stroke-width="0.7"/>
<path d="M1668 250.4L1649.5 240M1667.5 203.1L1659.2 198.5" fill="none" stroke="#444" stroke-width="1.1" stroke-opacity="0.5"/>
<polygon points="1670.5,248 1694.9,211 1665.4,172" fill="url(#g592)" stroke="url(#g592)" stroke-width="0.7"/>
<path d="M1688 201.9L1667.5 203.1" fill="none" stroke="#444" stroke-width="1.1" stroke-opacity="0.5"/>
<polygon points="1640.8,277 1670.5,248 1694.9,211 1665.4,172" fill="none" stroke="#6e6e6e" stroke-width="0.8" stroke-opacity="0.55"/>
</g>
<line x1="1419.4" y1="391.7" x2="1406.4" y2="43.1" stroke="#111" stroke-width="1.8"/>
<line x1="1419.4" y1="391.7" x2="1669.1" y2="492.3" stroke="#111" stroke-width="1.8"/>
<line x1="1669.1" y1="492.3" x2="1867.4" y2="377.2" stroke="#111" stroke-width="1.8"/>
<line x1="1407.1" y1="61.5" x2="1402.1" y2="62.5" stroke="#111" stroke-width="1.6"/>
<text transform="translate(1398.1 71.1) rotate(-17) scale(0.58 1)" font-family="'Liberation Serif', serif" font-size="27" font-weight="bold" font-style="italic" text-anchor="end" fill="#000">−20</text>
<line x1="1408.5" y1="98.1" x2="1403.5" y2="99.1" stroke="#111" stroke-width="1.6"/>
<text transform="translate(1399.5 107.6) rotate(-17) scale(0.58 1)" font-family="'Liberation Serif', serif" font-size="27" font-weight="bold" font-style="italic" text-anchor="end" fill="#000">−40</text>
<line x1="1409.8" y1="134.1" x2="1404.8" y2="135.1" stroke="#111" stroke-width="1.6"/>
<text transform="translate(1400.8 143.7) rotate(-17) scale(0.58 1)" font-family="'Liberation Serif', serif" font-size="27" font-weight="bold" font-style="italic" text-anchor="end" fill="#000">−60</text>
<line x1="1411.2" y1="169.8" x2="1406.2" y2="170.8" stroke="#111" stroke-width="1.6"/>
<text transform="translate(1402.2 179.3) rotate(-17) scale(0.58 1)" font-family="'Liberation Serif', serif" font-size="27" font-weight="bold" font-style="italic" text-anchor="end" fill="#000">−80</text>
<line x1="1412.5" y1="205" x2="1407.5" y2="206" stroke="#111" stroke-width="1.6"/>
<text transform="translate(1403.5 214.6) rotate(-17) scale(0.58 1)" font-family="'Liberation Serif', serif" font-size="27" font-weight="bold" font-style="italic" text-anchor="end" fill="#000">−100</text>
<line x1="1413.8" y1="239.9" x2="1408.8" y2="240.9" stroke="#111" stroke-width="1.6"/>
<text transform="translate(1404.8 249.4) rotate(-17) scale(0.58 1)" font-family="'Liberation Serif', serif" font-size="27" font-weight="bold" font-style="italic" text-anchor="end" fill="#000">−120</text>
<line x1="1415" y1="274.3" x2="1410" y2="275.3" stroke="#111" stroke-width="1.6"/>
<text transform="translate(1406 283.8) rotate(-17) scale(0.58 1)" font-family="'Liberation Serif', serif" font-size="27" font-weight="bold" font-style="italic" text-anchor="end" fill="#000">−140</text>
<line x1="1416.3" y1="308.3" x2="1411.3" y2="309.3" stroke="#111" stroke-width="1.6"/>
<text transform="translate(1407.3 317.9) rotate(-17) scale(0.58 1)" font-family="'Liberation Serif', serif" font-size="27" font-weight="bold" font-style="italic" text-anchor="end" fill="#000">−160</text>
<line x1="1417.6" y1="342" x2="1412.6" y2="343" stroke="#111" stroke-width="1.6"/>
<text transform="translate(1408.6 351.5) rotate(-17) scale(0.58 1)" font-family="'Liberation Serif', serif" font-size="27" font-weight="bold" font-style="italic" text-anchor="end" fill="#000">−180</text>
<line x1="1418.8" y1="375.2" x2="1413.8" y2="376.2" stroke="#111" stroke-width="1.6"/>
<text transform="translate(1409.8 384.8) rotate(-17) scale(0.58 1)" font-family="'Liberation Serif', serif" font-size="27" font-weight="bold" font-style="italic" text-anchor="end" fill="#000">−200</text>
<line x1="1463.7" y1="409.6" x2="1468.3" y2="407.6" stroke="#111" stroke-width="1.6"/>
<line x1="1714.5" y1="465.9" x2="1709.9" y2="464.1" stroke="#111" stroke-width="1.6"/>
<line x1="1510.6" y1="428.5" x2="1515.1" y2="426.3" stroke="#111" stroke-width="1.6"/>
<line x1="1756.8" y1="441.4" x2="1752.1" y2="439.7" stroke="#111" stroke-width="1.6"/>
<line x1="1560.3" y1="448.5" x2="1564.8" y2="446.2" stroke="#111" stroke-width="1.6"/>
<line x1="1796.2" y1="418.5" x2="1791.5" y2="416.9" stroke="#111" stroke-width="1.6"/>
<line x1="1613" y1="469.7" x2="1617.4" y2="467.3" stroke="#111" stroke-width="1.6"/>
<line x1="1833" y1="397.2" x2="1828.2" y2="395.7" stroke="#111" stroke-width="1.6"/>
<line x1="1669.1" y1="492.3" x2="1674.1" y2="493.3" stroke="#111" stroke-width="1.6"/>
<text transform="translate(1425 85.5) scale(0.94 1)" font-family="'Liberation Serif', serif" font-size="68" font-weight="bold" font-style="normal" text-anchor="start" fill="#000">c</text>
<text transform="translate(1346 240) rotate(90)" font-family="'Liberation Serif', serif" font-size="21" font-weight="bold" font-style="normal" text-anchor="middle" fill="#000" letter-spacing="0.9">Voltage (mV)</text>
<text transform="translate(1505.8 459.6) rotate(21.9) skewX(-20)" font-family="'Liberation Serif', serif" font-size="18" font-weight="bold" font-style="italic" text-anchor="middle" fill="#000">Distance (mm)</text>
<text transform="translate(1497.6 436.5) rotate(66.9)" font-family="'Liberation Serif', serif" font-size="17" font-weight="bold" font-style="italic" text-anchor="middle" fill="#000">2</text>
<text transform="translate(1600 477.7) rotate(66.9)" font-family="'Liberation Serif', serif" font-size="17" font-weight="bold" font-style="italic" text-anchor="middle" fill="#000">4</text>
<text transform="translate(1809.9 446.8) rotate(-30.1) skewX(15)" font-family="'Liberation Serif', serif" font-size="15.5" font-weight="bold" font-style="normal" text-anchor="middle" fill="#000">Distance (mm)</text>
<text transform="translate(1765.8 447) rotate(69.9)" font-family="'Liberation Serif', serif" font-size="13" font-weight="bold" font-style="normal" text-anchor="middle" fill="#000">2</text>
<text transform="translate(1842 402.9) rotate(69.9)" font-family="'Liberation Serif', serif" font-size="13" font-weight="bold" font-style="normal" text-anchor="middle" fill="#000">4</text>
<text transform="translate(1684.1 503.3) rotate(-28) skewX(-10)" font-family="'Liberation Serif', serif" font-size="17" font-weight="bold" font-style="italic" text-anchor="middle" fill="#000">0</text>
<text transform="translate(1405.4 399.7) rotate(40)" font-family="'Liberation Serif', serif" font-size="13" font-weight="bold" font-style="italic" text-anchor="middle" fill="#000">0</text>
<rect x="1882.5" y="23.2" width="28.2" height="4" fill="#fff" stroke="#666" stroke-width="1"/>
<rect x="1882.5" y="351" width="28.2" height="3.6" fill="#000"/>
<rect x="1882.5" y="27.2" width="28.2" height="323.8" fill="url(#cbc)" stroke="#333" stroke-width="1"/>
<line x1="1910.7" y1="27.2" x2="1916.7" y2="27.2" stroke="#222" stroke-width="1.4"/>
<text transform="translate(1926.7 36.7) scale(0.94 1)" font-family="'Liberation Serif', serif" font-size="27" font-weight="bold" font-style="normal" text-anchor="start" fill="#000">−10.00</text>
<line x1="1910.7" y1="59.6" x2="1916.7" y2="59.6" stroke="#222" stroke-width="1.4"/>
<text transform="translate(1926.7 69.1) scale(0.94 1)" font-family="'Liberation Serif', serif" font-size="27" font-weight="bold" font-style="normal" text-anchor="start" fill="#000">−29.10</text>
<line x1="1910.7" y1="92" x2="1916.7" y2="92" stroke="#222" stroke-width="1.4"/>
<text transform="translate(1926.7 101.5) scale(0.94 1)" font-family="'Liberation Serif', serif" font-size="27" font-weight="bold" font-style="normal" text-anchor="start" fill="#000">−48.20</text>
<line x1="1910.7" y1="124.3" x2="1916.7" y2="124.3" stroke="#222" stroke-width="1.4"/>
<text transform="translate(1926.7 133.8) scale(0.94 1)" font-family="'Liberation Serif', serif" font-size="27" font-weight="bold" font-style="normal" text-anchor="start" fill="#000">−67.30</text>
<line x1="1910.7" y1="156.7" x2="1916.7" y2="156.7" stroke="#222" stroke-width="1.4"/>
<text transform="translate(1926.7 166.2) scale(0.94 1)" font-family="'Liberation Serif', serif" font-size="27" font-weight="bold" font-style="normal" text-anchor="start" fill="#000">−86.40</text>
<line x1="1910.7" y1="189.1" x2="1916.7" y2="189.1" stroke="#222" stroke-width="1.4"/>
<text transform="translate(1926.7 198.6) scale(0.94 1)" font-family="'Liberation Serif', serif" font-size="27" font-weight="bold" font-style="normal" text-anchor="start" fill="#000">−105.5</text>
<line x1="1910.7" y1="221.5" x2="1916.7" y2="221.5" stroke="#222" stroke-width="1.4"/>
<text transform="translate(1926.7 231) scale(0.94 1)" font-family="'Liberation Serif', serif" font-size="27" font-weight="bold" font-style="normal" text-anchor="start" fill="#000">−124.6</text>
<line x1="1910.7" y1="253.9" x2="1916.7" y2="253.9" stroke="#222" stroke-width="1.4"/>
<text transform="translate(1926.7 263.4) scale(0.94 1)" font-family="'Liberation Serif', serif" font-size="27" font-weight="bold" font-style="normal" text-anchor="start" fill="#000">−143.7</text>
<line x1="1910.7" y1="286.2" x2="1916.7" y2="286.2" stroke="#222" stroke-width="1.4"/>
<text transform="translate(1926.7 295.7) scale(0.94 1)" font-family="'Liberation Serif', serif" font-size="27" font-weight="bold" font-style="normal" text-anchor="start" fill="#000">−162.8</text>
<line x1="1910.7" y1="318.6" x2="1916.7" y2="318.6" stroke="#222" stroke-width="1.4"/>
<text transform="translate(1926.7 328.1) scale(0.94 1)" font-family="'Liberation Serif', serif" font-size="27" font-weight="bold" font-style="normal" text-anchor="start" fill="#000">−181.9</text>
<line x1="1910.7" y1="351" x2="1916.7" y2="351" stroke="#222" stroke-width="1.4"/>
<text transform="translate(1926.7 360.5) scale(0.94 1)" font-family="'Liberation Serif', serif" font-size="27" font-weight="bold" font-style="normal" text-anchor="start" fill="#000">−201.0</text>
</g>
<g id="panel-d">
<line x1="365.9" y1="616.7" x2="563.6" y2="596.5" stroke="#dcdcdc" stroke-width="1"/>
<line x1="563.6" y1="596.5" x2="876.5" y2="604.5" stroke="#dcdcdc" stroke-width="1"/>
<line x1="366.8" y1="658.3" x2="563.9" y2="630.9" stroke="#dcdcdc" stroke-width="1"/>
<line x1="563.9" y1="630.9" x2="875.9" y2="642.4" stroke="#dcdcdc" stroke-width="1"/>
<line x1="367.7" y1="699.6" x2="564.1" y2="665.2" stroke="#dcdcdc" stroke-width="1"/>
<line x1="564.1" y1="665.2" x2="875.2" y2="680.1" stroke="#dcdcdc" stroke-width="1"/>
<line x1="368.7" y1="740.6" x2="564.4" y2="699.2" stroke="#dcdcdc" stroke-width="1"/>
<line x1="564.4" y1="699.2" x2="874.6" y2="717.6" stroke="#dcdcdc" stroke-width="1"/>
<line x1="369.6" y1="781.4" x2="564.6" y2="733.1" stroke="#dcdcdc" stroke-width="1"/>
<line x1="564.6" y1="733.1" x2="874" y2="754.9" stroke="#dcdcdc" stroke-width="1"/>
<line x1="370.5" y1="821.9" x2="564.9" y2="766.8" stroke="#dcdcdc" stroke-width="1"/>
<line x1="564.9" y1="766.8" x2="873.4" y2="792" stroke="#dcdcdc" stroke-width="1"/>
<line x1="371.4" y1="862.2" x2="565.1" y2="800.4" stroke="#dcdcdc" stroke-width="1"/>
<line x1="565.1" y1="800.4" x2="872.8" y2="828.8" stroke="#dcdcdc" stroke-width="1"/>
<line x1="372.3" y1="902.2" x2="565.4" y2="833.7" stroke="#dcdcdc" stroke-width="1"/>
<line x1="565.4" y1="833.7" x2="872.2" y2="865.5" stroke="#dcdcdc" stroke-width="1"/>
<line x1="373.2" y1="942" x2="565.6" y2="866.9" stroke="#dcdcdc" stroke-width="1"/>
<line x1="565.6" y1="866.9" x2="871.7" y2="902" stroke="#dcdcdc" stroke-width="1"/>
<line x1="374.1" y1="981.5" x2="565.9" y2="900" stroke="#dcdcdc" stroke-width="1"/>
<line x1="565.9" y1="900" x2="871.1" y2="938.2" stroke="#dcdcdc" stroke-width="1"/>
<line x1="459.8" y1="966.2" x2="453.7" y2="576.9" stroke="#dcdcdc" stroke-width="1"/>
<line x1="681" y1="934" x2="681.5" y2="570.8" stroke="#dcdcdc" stroke-width="1"/>
<line x1="505.2" y1="1026.4" x2="681" y2="934" stroke="#dcdcdc" stroke-width="1"/>
<line x1="459.8" y1="966.2" x2="790.8" y2="1016.6" stroke="#dcdcdc" stroke-width="1"/>
<line x1="533.1" y1="933.5" x2="529.4" y2="571.3" stroke="#dcdcdc" stroke-width="1"/>
<line x1="805" y1="950.3" x2="809.2" y2="572.8" stroke="#dcdcdc" stroke-width="1"/>
<line x1="648.4" y1="1050.8" x2="805" y2="950.3" stroke="#dcdcdc" stroke-width="1"/>
<line x1="533.1" y1="933.5" x2="846.1" y2="976.7" stroke="#dcdcdc" stroke-width="1"/>
<line x1="365.1" y1="583.3" x2="563.4" y2="568.8" stroke="#8a8a8a" stroke-width="1.1" stroke-dasharray="5 1.2"/>
<line x1="563.4" y1="568.8" x2="877" y2="573.9" stroke="#8a8a8a" stroke-width="1.1" stroke-dasharray="5 1.2"/>
<line x1="566" y1="918.9" x2="563.4" y2="568.8" stroke="#8a8a8a" stroke-width="1.2"/>
<line x1="870.7" y1="959" x2="877" y2="573.9" stroke="#a8a8a8" stroke-width="1" stroke-dasharray="6 1.5"/>
<line x1="374.6" y1="1004.1" x2="566" y2="918.9" stroke="#8a8a8a" stroke-width="1.2"/>
<line x1="566" y1="918.9" x2="870.7" y2="959" stroke="#8a8a8a" stroke-width="1.2"/>
<g stroke-linejoin="round">
<polygon points="547.8,696 576.4,663.8 592.5,649" fill="url(#g593)" stroke="url(#g593)" stroke-width="0.7"/>
<path d="M565.7 675.8L568.4 674.3" fill="none" stroke="#444" stroke-width="1.1" stroke-opacity="0.5"/>
<polygon points="547.8,696 592.5,649 563.6,592.5" fill="url(#g594)" stroke="url(#g594)" stroke-width="0.7"/>
<path d="M568.4 674.3L551.1 674.5M587.3 638.7L556.5 639.1M569.3 603.6L561.9 603.7" fill="none" stroke="#444" stroke-width="1.1" stroke-opacity="0.5"/>
<polygon points="547.8,696 576.4,663.8 592.5,649 563.6,592.5" fill="none" stroke="#6e6e6e" stroke-width="0.8" stroke-opacity="0.55"/>
<polygon points="576.4,663.8 605.7,644.1 592.5,649" fill="url(#g595)" stroke="url(#g595)" stroke-width="0.7"/>
<polygon points="605.7,644.1 621.5,627 592.5,649" fill="url(#g596)" stroke="url(#g596)" stroke-width="0.7"/>
<path d="M607.4 642.3L605.2 639.3" fill="none" stroke="#444" stroke-width="1.1" stroke-opacity="0.5"/>
<polygon points="576.4,663.8 605.7,644.1 621.5,627 592.5,649" fill="none" stroke="#6e6e6e" stroke-width="0.8" stroke-opacity="0.55"/>
<polygon points="605.7,644.1 635.7,629.1 621.5,627" fill="url(#g597)" stroke="url(#g597)" stroke-width="0.7"/>
<path d="M608.7 642.7L607.4 642.3" fill="none" stroke="#444" stroke-width="1.1" stroke-opacity="0.5"/>
<polygon points="635.7,629.1 651.1,603 621.5,627" fill="url(#g598)" stroke="url(#g598)" stroke-width="0.7"/>
<path d="M649.3 606.1L647.8 605.7" fill="none" stroke="#444" stroke-width="1.1" stroke-opacity="0.5"/>
<polygon points="605.7,644.1 635.7,629.1 651.1,603 621.5,627" fill="none" stroke="#6e6e6e" stroke-width="0.8" stroke-opacity="0.55"/>
<polygon points="635.7,629.1 666.3,619 651.1,603" fill="url(#g599)" stroke="url(#g599)" stroke-width="0.7"/>
<path d="M654.5 606.5L649.3 606.1" fill="none" stroke="#444" stroke-width="1.1" stroke-opacity="0.5"/>
<polygon points="666.3,619 681.5,571 651.1,603" fill="url(#g600)" stroke="url(#g600)" stroke-width="0.7"/>
<path d="M669.7 608.3L654.5 606.5" fill="none" stroke="#444" stroke-width="1.1" stroke-opacity="0.5"/>
<polygon points="635.7,629.1 666.3,619 681.5,571 651.1,603" fill="none" stroke="#6e6e6e" stroke-width="0.8" stroke-opacity="0.55"/>
<polygon points="666.3,619 697.6,626.8 712.4,589.5" fill="url(#g601)" stroke="url(#g601)" stroke-width="0.7"/>
<path d="M704.8 608.7L683.1 608.3" fill="none" stroke="#444" stroke-width="1.1" stroke-opacity="0.5"/>
<polygon points="666.3,619 712.4,589.5 681.5,571" fill="url(#g602)" stroke="url(#g602)" stroke-width="0.7"/>
<path d="M683.1 608.3L669.7 608.3" fill="none" stroke="#444" stroke-width="1.1" stroke-opacity="0.5"/>
<polygon points="666.3,619 697.6,626.8 712.4,589.5 681.5,571" fill="none" stroke="#6e6e6e" stroke-width="0.8" stroke-opacity="0.55"/>
<polygon points="697.6,626.8 729.4,642.3 743.8,617" fill="url(#g603)" stroke="url(#g603)" stroke-width="0.7"/>
<polygon points="697.6,626.8 743.8,617 712.4,589.5" fill="url(#g604)" stroke="url(#g604)" stroke-width="0.7"/>
<path d="M733.7 608.2L704.8 608.7" fill="none" stroke="#444" stroke-width="1.1" stroke-opacity="0.5"/>
<polygon points="697.6,626.8 729.4,642.3 743.8,617 712.4,589.5" fill="none" stroke="#6e6e6e" stroke-width="0.8" stroke-opacity="0.55"/>
<polygon points="729.4,642.3 761.8,654.2 743.8,617" fill="url(#g605)" stroke="url(#g605)" stroke-width="0.7"/>
<path d="M745.4 648.2L759 648.3" fill="none" stroke="#444" stroke-width="1.1" stroke-opacity="0.5"/>
<polygon points="761.8,654.2 776.2,582 743.8,617" fill="url(#g606)" stroke="url(#g606)" stroke-width="0.7"/>
<path d="M762.9 648.7L759 648.3M770.6 610.3L751.6 608.5" fill="none" stroke="#444" stroke-width="1.1" stroke-opacity="0.5"/>
<polygon points="729.4,642.3 761.8,654.2 776.2,582 743.8,617" fill="none" stroke="#6e6e6e" stroke-width="0.8" stroke-opacity="0.55"/>
<polygon points="761.8,654.2 794.5,700.7 808.7,614.5" fill="url(#g607)" stroke="url(#g607)" stroke-width="0.7"/>
<path d="M785.1 687.3L796.7 687.3M803.1 648.7L768.4 648.6" fill="none" stroke="#444" stroke-width="1.1" stroke-opacity="0.5"/>
<polygon points="761.8,654.2 808.7,614.5 776.2,582" fill="url(#g608)" stroke="url(#g608)" stroke-width="0.7"/>
<path d="M768.4 648.6L762.9 648.7M804.3 610.1L770.6 610.3" fill="none" stroke="#444" stroke-width="1.1" stroke-opacity="0.5"/>
<polygon points="761.8,654.2 794.5,700.7 808.7,614.5 776.2,582" fill="none" stroke="#6e6e6e" stroke-width="0.8" stroke-opacity="0.55"/>
<polygon points="794.5,700.7 826.9,807.3 808.7,614.5" fill="url(#g609)" stroke="url(#g609)" stroke-width="0.7"/>
<path d="M825.3 802.1L826.4 802M813.7 763.9L822.8 763.6M802.1 725.7L819.2 725.2M815.5 686.8L796.7 687.3M811.9 648.4L803.1 648.7" fill="none" stroke="#444" stroke-width="1.1" stroke-opacity="0.5"/>
<polygon points="826.9,807.3 838.2,902 808.7,614.5" fill="url(#g610)" stroke="url(#g610)" stroke-width="0.7"/>
<path d="M834.5 871L834.8 868.5M830.5 836.8L831 831.6M827.2 794.7L826.4 802M823.4 757.8L822.8 763.6M819.6 720.9L819.2 725.2M815.8 684L815.5 686.8M812.1 647.1L811.9 648.4" fill="none" stroke="#444" stroke-width="1.1" stroke-opacity="0.5"/>
<polygon points="794.5,700.7 826.9,807.3 838.2,902 808.7,614.5" fill="none" stroke="#6e6e6e" stroke-width="0.8" stroke-opacity="0.55"/>
<polygon points="826.9,807.3 860.4,855 838.2,902" fill="url(#g611)" stroke="url(#g611)" stroke-width="0.7"/>
<path d="M851 874.9L834.5 871M851.1 841.8L830.5 836.8" fill="none" stroke="#444" stroke-width="1.1" stroke-opacity="0.5"/>
<polygon points="860.4,855 870.9,946 838.2,902" fill="url(#g612)" stroke="url(#g612)" stroke-width="0.7"/>
<path d="M866.9 911.6L841 905.7M863 877.7L851 874.9" fill="none" stroke="#444" stroke-width="1.1" stroke-opacity="0.5"/>
<polygon points="826.9,807.3 860.4,855 870.9,946 838.2,902" fill="none" stroke="#6e6e6e" stroke-width="0.8" stroke-opacity="0.55"/>
<polygon points="530.5,674.6 559.6,666.1 576.4,663.8" fill="url(#g613)" stroke="url(#g613)" stroke-width="0.7"/>
<polygon points="530.5,674.6 576.4,663.8 547.8,696" fill="url(#g614)" stroke="url(#g614)" stroke-width="0.7"/>
<path d="M565.7 675.8L532.9 677.6" fill="none" stroke="#444" stroke-width="1.1" stroke-opacity="0.5"/>
<polygon points="530.5,674.6 559.6,666.1 576.4,663.8 547.8,696" fill="none" stroke="#6e6e6e" stroke-width="0.8" stroke-opacity="0.55"/>
<polygon points="559.6,666.1 589.3,656.7 576.4,663.8" fill="url(#g615)" stroke="url(#g615)" stroke-width="0.7"/>
<polygon points="589.3,656.7 605.7,644.1 576.4,663.8" fill="url(#g616)" stroke="url(#g616)" stroke-width="0.7"/>
<polygon points="559.6,666.1 589.3,656.7 605.7,644.1 576.4,663.8" fill="none" stroke="#6e6e6e" stroke-width="0.8" stroke-opacity="0.55"/>
<polygon points="589.3,656.7 619.7,650.2 605.7,644.1" fill="url(#g617)" stroke="url(#g617)" stroke-width="0.7"/>
<polygon points="619.7,650.2 635.7,629.1 605.7,644.1" fill="url(#g618)" stroke="url(#g618)" stroke-width="0.7"/>
<path d="M622.9 645.9L608.7 642.7" fill="none" stroke="#444" stroke-width="1.1" stroke-opacity="0.5"/>
<polygon points="589.3,656.7 619.7,650.2 635.7,629.1 605.7,644.1" fill="none" stroke="#6e6e6e" stroke-width="0.8" stroke-opacity="0.55"/>
<polygon points="619.7,650.2 650.7,648.9 635.7,629.1" fill="url(#g619)" stroke="url(#g619)" stroke-width="0.7"/>
<path d="M649.5 647.4L622.9 645.9" fill="none" stroke="#444" stroke-width="1.1" stroke-opacity="0.5"/>
<polygon points="650.7,648.9 666.3,619 635.7,629.1" fill="url(#g620)" stroke="url(#g620)" stroke-width="0.7"/>
<path d="M651.4 647.6L649.5 647.4" fill="none" stroke="#444" stroke-width="1.1" stroke-opacity="0.5"/>
<polygon points="619.7,650.2 650.7,648.9 666.3,619 635.7,629.1" fill="none" stroke="#6e6e6e" stroke-width="0.8" stroke-opacity="0.55"/>
<polygon points="650.7,648.9 682.3,656.6 697.6,626.8" fill="url(#g621)" stroke="url(#g621)" stroke-width="0.7"/>
<path d="M686.6 648.3L653.5 647.6" fill="none" stroke="#444" stroke-width="1.1" stroke-opacity="0.5"/>
<polygon points="650.7,648.9 697.6,626.8 666.3,619" fill="url(#g622)" stroke="url(#g622)" stroke-width="0.7"/>
<path d="M653.5 647.6L651.4 647.6" fill="none" stroke="#444" stroke-width="1.1" stroke-opacity="0.5"/>
<polygon points="650.7,648.9 682.3,656.6 697.6,626.8 666.3,619" fill="none" stroke="#6e6e6e" stroke-width="0.8" stroke-opacity="0.55"/>
<polygon points="682.3,656.6 714.5,671.2 729.4,642.3" fill="url(#g623)" stroke="url(#g623)" stroke-width="0.7"/>
<path d="M726.4 648.1L710.2 648.1" fill="none" stroke="#444" stroke-width="1.1" stroke-opacity="0.5"/>
<polygon points="682.3,656.6 729.4,642.3 697.6,626.8" fill="url(#g624)" stroke="url(#g624)" stroke-width="0.7"/>
<path d="M710.2 648.1L686.6 648.3" fill="none" stroke="#444" stroke-width="1.1" stroke-opacity="0.5"/>
<polygon points="682.3,656.6 714.5,671.2 729.4,642.3 697.6,626.8" fill="none" stroke="#6e6e6e" stroke-width="0.8" stroke-opacity="0.55"/>
<polygon points="714.5,671.2 747.3,691.7 761.8,654.2" fill="url(#g625)" stroke="url(#g625)" stroke-width="0.7"/>
<path d="M743.6 689.4L748.2 689.4" fill="none" stroke="#444" stroke-width="1.1" stroke-opacity="0.5"/>
<polygon points="714.5,671.2 761.8,654.2 729.4,642.3" fill="url(#g626)" stroke="url(#g626)" stroke-width="0.7"/>
<path d="M745.4 648.2L726.4 648.1" fill="none" stroke="#444" stroke-width="1.1" stroke-opacity="0.5"/>
<polygon points="714.5,671.2 747.3,691.7 761.8,654.2 729.4,642.3" fill="none" stroke="#6e6e6e" stroke-width="0.8" stroke-opacity="0.55"/>
<polygon points="747.3,691.7 780.6,726.7 794.5,700.7" fill="url(#g627)" stroke="url(#g627)" stroke-width="0.7"/>
<polygon points="747.3,691.7 794.5,700.7 761.8,654.2" fill="url(#g628)" stroke="url(#g628)" stroke-width="0.7"/>
<path d="M785.1 687.3L748.2 689.4" fill="none" stroke="#444" stroke-width="1.1" stroke-opacity="0.5"/>
<polygon points="747.3,691.7 780.6,726.7 794.5,700.7 761.8,654.2" fill="none" stroke="#6e6e6e" stroke-width="0.8" stroke-opacity="0.55"/>
<polygon points="780.6,726.7 814.3,771.5 794.5,700.7" fill="url(#g629)" stroke="url(#g629)" stroke-width="0.7"/>
<path d="M813.1 769.9L813.8 769.8M782.8 729.6L802.2 728" fill="none" stroke="#444" stroke-width="1.1" stroke-opacity="0.5"/>
<polygon points="814.3,771.5 826.9,807.3 794.5,700.7" fill="url(#g630)" stroke="url(#g630)" stroke-width="0.7"/>
<path d="M825.4 802.8L825.3 802.1M813.7 763.9L813.8 769.8M802.1 725.7L802.2 728" fill="none" stroke="#444" stroke-width="1.1" stroke-opacity="0.5"/>
<polygon points="780.6,726.7 814.3,771.5 826.9,807.3 794.5,700.7" fill="none" stroke="#6e6e6e" stroke-width="0.8" stroke-opacity="0.55"/>
<polygon points="814.3,771.5 849,776 826.9,807.3" fill="url(#g631)" stroke="url(#g631)" stroke-width="0.7"/>
<path d="M829.8 803.2L825.4 802.8" fill="none" stroke="#444" stroke-width="1.1" stroke-opacity="0.5"/>
<polygon points="849,776 860.4,855 826.9,807.3" fill="url(#g632)" stroke="url(#g632)" stroke-width="0.7"/>
<path d="M858.7 843.3L851.1 841.8M853.6 808.1L829.8 803.2" fill="none" stroke="#444" stroke-width="1.1" stroke-opacity="0.5"/>
<polygon points="814.3,771.5 849,776 860.4,855 826.9,807.3" fill="none" stroke="#6e6e6e" stroke-width="0.8" stroke-opacity="0.55"/>
<polygon points="512.7,677 542.2,669.5 559.6,666.1" fill="url(#g633)" stroke="url(#g633)" stroke-width="0.7"/>
<polygon points="512.7,677 559.6,666.1 530.5,674.6" fill="url(#g634)" stroke="url(#g634)" stroke-width="0.7"/>
<polygon points="512.7,677 542.2,669.5 559.6,666.1 530.5,674.6" fill="none" stroke="#6e6e6e" stroke-width="0.8" stroke-opacity="0.55"/>
<polygon points="542.2,669.5 572.3,666.2 559.6,666.1" fill="url(#g635)" stroke="url(#g635)" stroke-width="0.7"/>
<polygon points="572.3,666.2 589.3,656.7 559.6,666.1" fill="url(#g636)" stroke="url(#g636)" stroke-width="0.7"/>
<polygon points="542.2,669.5 572.3,666.2 589.3,656.7 559.6,666.1" fill="none" stroke="#6e6e6e" stroke-width="0.8" stroke-opacity="0.55"/>
<polygon points="572.3,666.2 603.1,666.1 589.3,656.7" fill="url(#g637)" stroke="url(#g637)" stroke-width="0.7"/>
<polygon points="603.1,666.1 619.7,650.2 589.3,656.7" fill="url(#g638)" stroke="url(#g638)" stroke-width="0.7"/>
<polygon points="572.3,666.2 603.1,666.1 619.7,650.2 589.3,656.7" fill="none" stroke="#6e6e6e" stroke-width="0.8" stroke-opacity="0.55"/>
<polygon points="603.1,666.1 634.5,670 619.7,650.2" fill="url(#g639)" stroke="url(#g639)" stroke-width="0.7"/>
<polygon points="634.5,670 650.7,648.9 619.7,650.2" fill="url(#g640)" stroke="url(#g640)" stroke-width="0.7"/>
<polygon points="603.1,666.1 634.5,670 650.7,648.9 619.7,650.2" fill="none" stroke="#6e6e6e" stroke-width="0.8" stroke-opacity="0.55"/>
<polygon points="634.5,670 666.5,679.3 682.3,656.6" fill="url(#g641)" stroke="url(#g641)" stroke-width="0.7"/>
<polygon points="634.5,670 682.3,656.6 650.7,648.9" fill="url(#g642)" stroke="url(#g642)" stroke-width="0.7"/>
<polygon points="634.5,670 666.5,679.3 682.3,656.6 650.7,648.9" fill="none" stroke="#6e6e6e" stroke-width="0.8" stroke-opacity="0.55"/>
<polygon points="666.5,679.3 699.2,694.1 714.5,671.2" fill="url(#g643)" stroke="url(#g643)" stroke-width="0.7"/>
<path d="M692.6 691.1L701.2 691" fill="none" stroke="#444" stroke-width="1.1" stroke-opacity="0.5"/>
<polygon points="666.5,679.3 714.5,671.2 682.3,656.6" fill="url(#g644)" stroke="url(#g644)" stroke-width="0.7"/>
<polygon points="666.5,679.3 699.2,694.1 714.5,671.2 682.3,656.6" fill="none" stroke="#6e6e6e" stroke-width="0.8" stroke-opacity="0.55"/>
<polygon points="699.2,694.1 732.4,714.8 747.3,691.7" fill="url(#g645)" stroke="url(#g645)" stroke-width="0.7"/>
<polygon points="699.2,694.1 747.3,691.7 714.5,671.2" fill="url(#g646)" stroke="url(#g646)" stroke-width="0.7"/>
<path d="M743.6 689.4L701.2 691" fill="none" stroke="#444" stroke-width="1.1" stroke-opacity="0.5"/>
<polygon points="699.2,694.1 732.4,714.8 747.3,691.7 714.5,671.2" fill="none" stroke="#6e6e6e" stroke-width="0.8" stroke-opacity="0.55"/>
<polygon points="732.4,714.8 766.2,743 780.6,726.7" fill="url(#g647)" stroke="url(#g647)" stroke-width="0.7"/>
<path d="M754.6 733.3L777.2 730.6" fill="none" stroke="#444" stroke-width="1.1" stroke-opacity="0.5"/>
<polygon points="732.4,714.8 780.6,726.7 747.3,691.7" fill="url(#g648)" stroke="url(#g648)" stroke-width="0.7"/>
<polygon points="732.4,714.8 766.2,743 780.6,726.7 747.3,691.7" fill="none" stroke="#6e6e6e" stroke-width="0.8" stroke-opacity="0.55"/>
<polygon points="766.2,743 800.6,776 814.3,771.5" fill="url(#g649)" stroke="url(#g649)" stroke-width="0.7"/>
<path d="M799.8 775.3L811.9 770.1" fill="none" stroke="#444" stroke-width="1.1" stroke-opacity="0.5"/>
<polygon points="766.2,743 814.3,771.5 780.6,726.7" fill="url(#g650)" stroke="url(#g650)" stroke-width="0.7"/>
<path d="M811.9 770.1L813.1 769.9M782.8 729.6L777.2 730.6" fill="none" stroke="#444" stroke-width="1.1" stroke-opacity="0.5"/>
<polygon points="766.2,743 800.6,776 814.3,771.5 780.6,726.7" fill="none" stroke="#6e6e6e" stroke-width="0.8" stroke-opacity="0.55"/>
<polygon points="800.6,776 835.6,800 849,776" fill="url(#g651)" stroke="url(#g651)" stroke-width="0.7"/>
<polygon points="800.6,776 849,776 814.3,771.5" fill="url(#g652)" stroke="url(#g652)" stroke-width="0.7"/>
<polygon points="800.6,776 835.6,800 849,776 814.3,771.5" fill="none" stroke="#6e6e6e" stroke-width="0.8" stroke-opacity="0.55"/>
<polygon points="494,655 524.1,668.5 512.7,677" fill="url(#g653)" stroke="url(#g653)" stroke-width="0.7"/>
<polygon points="524.1,668.5 542.2,669.5 512.7,677" fill="url(#g654)" stroke="url(#g654)" stroke-width="0.7"/>
<polygon points="494,655 524.1,668.5 542.2,669.5 512.7,677" fill="none" stroke="#6e6e6e" stroke-width="0.8" stroke-opacity="0.55"/>
<polygon points="524.1,668.5 554.7,672.7 572.3,666.2" fill="url(#g655)" stroke="url(#g655)" stroke-width="0.7"/>
<polygon points="524.1,668.5 572.3,666.2 542.2,669.5" fill="url(#g656)" stroke="url(#g656)" stroke-width="0.7"/>
<polygon points="524.1,668.5 554.7,672.7 572.3,666.2 542.2,669.5" fill="none" stroke="#6e6e6e" stroke-width="0.8" stroke-opacity="0.55"/>
<polygon points="554.7,672.7 585.8,678 603.1,666.1" fill="url(#g657)" stroke="url(#g657)" stroke-width="0.7"/>
<polygon points="554.7,672.7 603.1,666.1 572.3,666.2" fill="url(#g658)" stroke="url(#g658)" stroke-width="0.7"/>
<polygon points="554.7,672.7 585.8,678 603.1,666.1 572.3,666.2" fill="none" stroke="#6e6e6e" stroke-width="0.8" stroke-opacity="0.55"/>
<polygon points="585.8,678 617.7,685.7 634.5,670" fill="url(#g659)" stroke="url(#g659)" stroke-width="0.7"/>
<polygon points="585.8,678 634.5,670 603.1,666.1" fill="url(#g660)" stroke="url(#g660)" stroke-width="0.7"/>
<polygon points="585.8,678 617.7,685.7 634.5,670 603.1,666.1" fill="none" stroke="#6e6e6e" stroke-width="0.8" stroke-opacity="0.55"/>
<polygon points="617.7,685.7 650.1,696.5 666.5,679.3" fill="url(#g661)" stroke="url(#g661)" stroke-width="0.7"/>
<path d="M638.9 692.8L653.9 692.6" fill="none" stroke="#444" stroke-width="1.1" stroke-opacity="0.5"/>
<polygon points="617.7,685.7 666.5,679.3 634.5,670" fill="url(#g662)" stroke="url(#g662)" stroke-width="0.7"/>
<polygon points="617.7,685.7 650.1,696.5 666.5,679.3 634.5,670" fill="none" stroke="#6e6e6e" stroke-width="0.8" stroke-opacity="0.55"/>
<polygon points="650.1,696.5 683.2,711.2 699.2,694.1" fill="url(#g663)" stroke="url(#g663)" stroke-width="0.7"/>
<polygon points="650.1,696.5 699.2,694.1 666.5,679.3" fill="url(#g664)" stroke="url(#g664)" stroke-width="0.7"/>
<path d="M692.6 691.1L653.9 692.6" fill="none" stroke="#444" stroke-width="1.1" stroke-opacity="0.5"/>
<polygon points="650.1,696.5 683.2,711.2 699.2,694.1 666.5,679.3" fill="none" stroke="#6e6e6e" stroke-width="0.8" stroke-opacity="0.55"/>
<polygon points="683.2,711.2 717,730.5 732.4,714.8" fill="url(#g665)" stroke="url(#g665)" stroke-width="0.7"/>
<polygon points="683.2,711.2 732.4,714.8 699.2,694.1" fill="url(#g666)" stroke="url(#g666)" stroke-width="0.7"/>
<polygon points="683.2,711.2 717,730.5 732.4,714.8 699.2,694.1" fill="none" stroke="#6e6e6e" stroke-width="0.8" stroke-opacity="0.55"/>
<polygon points="717,730.5 751.3,754.4 766.2,743" fill="url(#g667)" stroke="url(#g667)" stroke-width="0.7"/>
<path d="M726.4 737L736.3 735.4" fill="none" stroke="#444" stroke-width="1.1" stroke-opacity="0.5"/>
<polygon points="717,730.5 766.2,743 732.4,714.8" fill="url(#g668)" stroke="url(#g668)" stroke-width="0.7"/>
<path d="M736.3 735.4L754.6 733.3" fill="none" stroke="#444" stroke-width="1.1" stroke-opacity="0.5"/>
<polygon points="717,730.5 751.3,754.4 766.2,743 732.4,714.8" fill="none" stroke="#6e6e6e" stroke-width="0.8" stroke-opacity="0.55"/>
<polygon points="751.3,754.4 786.3,779 800.6,776" fill="url(#g669)" stroke="url(#g669)" stroke-width="0.7"/>
<path d="M796.7 776.8L799.2 775.4" fill="none" stroke="#444" stroke-width="1.1" stroke-opacity="0.5"/>
<polygon points="751.3,754.4 800.6,776 766.2,743" fill="url(#g670)" stroke="url(#g670)" stroke-width="0.7"/>
<path d="M799.2 775.4L799.8 775.3" fill="none" stroke="#444" stroke-width="1.1" stroke-opacity="0.5"/>
<polygon points="751.3,754.4 786.3,779 800.6,776 766.2,743" fill="none" stroke="#6e6e6e" stroke-width="0.8" stroke-opacity="0.55"/>
<polygon points="786.3,779 822.3,770 800.6,776" fill="url(#g671)" stroke="url(#g671)" stroke-width="0.7"/>
<path d="M801.6 775.7L796.7 776.8" fill="none" stroke="#444" stroke-width="1.1" stroke-opacity="0.5"/>
<polygon points="822.3,770 835.6,800 800.6,776" fill="url(#g672)" stroke="url(#g672)" stroke-width="0.7"/>
<path d="M827.4 781.4L801.6 775.7" fill="none" stroke="#444" stroke-width="1.1" stroke-opacity="0.5"/>
<polygon points="786.3,779 822.3,770 835.6,800 800.6,776" fill="none" stroke="#6e6e6e" stroke-width="0.8" stroke-opacity="0.55"/>
<polygon points="474.9,660 505.4,677 524.1,668.5" fill="url(#g673)" stroke="url(#g673)" stroke-width="0.7"/>
<polygon points="474.9,660 524.1,668.5 494,655" fill="url(#g674)" stroke="url(#g674)" stroke-width="0.7"/>
<polygon points="474.9,660 505.4,677 524.1,668.5 494,655" fill="none" stroke="#6e6e6e" stroke-width="0.8" stroke-opacity="0.55"/>
<polygon points="505.4,677 536.3,677.8 554.7,672.7" fill="url(#g675)" stroke="url(#g675)" stroke-width="0.7"/>
<polygon points="505.4,677 554.7,672.7 524.1,668.5" fill="url(#g676)" stroke="url(#g676)" stroke-width="0.7"/>
<polygon points="505.4,677 536.3,677.8 554.7,672.7 524.1,668.5" fill="none" stroke="#6e6e6e" stroke-width="0.8" stroke-opacity="0.55"/>
<polygon points="536.3,677.8 568,687.5 585.8,678" fill="url(#g677)" stroke="url(#g677)" stroke-width="0.7"/>
<polygon points="536.3,677.8 585.8,678 554.7,672.7" fill="url(#g678)" stroke="url(#g678)" stroke-width="0.7"/>
<polygon points="536.3,677.8 568,687.5 585.8,678 554.7,672.7" fill="none" stroke="#6e6e6e" stroke-width="0.8" stroke-opacity="0.55"/>
<polygon points="568,687.5 600.2,698.3 617.7,685.7" fill="url(#g679)" stroke="url(#g679)" stroke-width="0.7"/>
<path d="M589.6 694.8L606 694.2" fill="none" stroke="#444" stroke-width="1.1" stroke-opacity="0.5"/>
<polygon points="568,687.5 617.7,685.7 585.8,678" fill="url(#g680)" stroke="url(#g680)" stroke-width="0.7"/>
<polygon points="568,687.5 600.2,698.3 617.7,685.7 585.8,678" fill="none" stroke="#6e6e6e" stroke-width="0.8" stroke-opacity="0.55"/>
<polygon points="600.2,698.3 633.1,709.9 650.1,696.5" fill="url(#g681)" stroke="url(#g681)" stroke-width="0.7"/>
<polygon points="600.2,698.3 650.1,696.5 617.7,685.7" fill="url(#g682)" stroke="url(#g682)" stroke-width="0.7"/>
<path d="M638.9 692.8L606 694.2" fill="none" stroke="#444" stroke-width="1.1" stroke-opacity="0.5"/>
<polygon points="600.2,698.3 633.1,709.9 650.1,696.5 617.7,685.7" fill="none" stroke="#6e6e6e" stroke-width="0.8" stroke-opacity="0.55"/>
<polygon points="633.1,709.9 666.7,723.8 683.2,711.2" fill="url(#g683)" stroke="url(#g683)" stroke-width="0.7"/>
<polygon points="633.1,709.9 683.2,711.2 650.1,696.5" fill="url(#g684)" stroke="url(#g684)" stroke-width="0.7"/>
<polygon points="633.1,709.9 666.7,723.8 683.2,711.2 650.1,696.5" fill="none" stroke="#6e6e6e" stroke-width="0.8" stroke-opacity="0.55"/>
<polygon points="666.7,723.8 701,741.5 717,730.5" fill="url(#g685)" stroke="url(#g685)" stroke-width="0.7"/>
<path d="M700.2 741.1L701.9 740.9" fill="none" stroke="#444" stroke-width="1.1" stroke-opacity="0.5"/>
<polygon points="666.7,723.8 717,730.5 683.2,711.2" fill="url(#g686)" stroke="url(#g686)" stroke-width="0.7"/>
<polygon points="666.7,723.8 701,741.5 717,730.5 683.2,711.2" fill="none" stroke="#6e6e6e" stroke-width="0.8" stroke-opacity="0.55"/>
<polygon points="701,741.5 735.9,765 751.3,754.4" fill="url(#g687)" stroke="url(#g687)" stroke-width="0.7"/>
<polygon points="701,741.5 751.3,754.4 717,730.5" fill="url(#g688)" stroke="url(#g688)" stroke-width="0.7"/>
<path d="M726.4 737L701.9 740.9" fill="none" stroke="#444" stroke-width="1.1" stroke-opacity="0.5"/>
<polygon points="701,741.5 735.9,765 751.3,754.4 717,730.5" fill="none" stroke="#6e6e6e" stroke-width="0.8" stroke-opacity="0.55"/>
<polygon points="735.9,765 771.3,806 786.3,779" fill="url(#g689)" stroke="url(#g689)" stroke-width="0.7"/>
<path d="M753.4 785.3L784.9 781.4" fill="none" stroke="#444" stroke-width="1.1" stroke-opacity="0.5"/>
<polygon points="735.9,765 786.3,779 751.3,754.4" fill="url(#g690)" stroke="url(#g690)" stroke-width="0.7"/>
<polygon points="735.9,765 771.3,806 786.3,779 751.3,754.4" fill="none" stroke="#6e6e6e" stroke-width="0.8" stroke-opacity="0.55"/>
<polygon points="771.3,806 808.4,745 822.3,770" fill="url(#g691)" stroke="url(#g691)" stroke-width="0.7"/>
<path d="M782.6 787.4L801 785M806.3 748.4L810 748" fill="none" stroke="#444" stroke-width="1.1" stroke-opacity="0.5"/>
<polygon points="771.3,806 822.3,770 786.3,779" fill="url(#g692)" stroke="url(#g692)" stroke-width="0.7"/>
<path d="M801 785L784.9 781.4" fill="none" stroke="#444" stroke-width="1.1" stroke-opacity="0.5"/>
<polygon points="771.3,806 808.4,745 822.3,770 786.3,779" fill="none" stroke="#6e6e6e" stroke-width="0.8" stroke-opacity="0.55"/>
<polygon points="455.1,668 485.3,631 505.4,677" fill="url(#g693)" stroke="url(#g693)" stroke-width="0.7"/>
<path d="M466.4 654.1L495.1 653.4" fill="none" stroke="#444" stroke-width="1.1" stroke-opacity="0.5"/>
<polygon points="455.1,668 505.4,677 474.9,660" fill="url(#g694)" stroke="url(#g694)" stroke-width="0.7"/>
<polygon points="455.1,668 485.3,631 505.4,677 474.9,660" fill="none" stroke="#6e6e6e" stroke-width="0.8" stroke-opacity="0.55"/>
<polygon points="485.3,631 517.2,674.2 505.4,677" fill="url(#g695)" stroke="url(#g695)" stroke-width="0.7"/>
<path d="M503.8 656L495.1 653.4" fill="none" stroke="#444" stroke-width="1.1" stroke-opacity="0.5"/>
<polygon points="517.2,674.2 536.3,677.8 505.4,677" fill="url(#g696)" stroke="url(#g696)" stroke-width="0.7"/>
<polygon points="485.3,631 517.2,674.2 536.3,677.8 505.4,677" fill="none" stroke="#6e6e6e" stroke-width="0.8" stroke-opacity="0.55"/>
<polygon points="517.2,674.2 549.4,696 536.3,677.8" fill="url(#g697)" stroke="url(#g697)" stroke-width="0.7"/>
<polygon points="549.4,696 568,687.5 536.3,677.8" fill="url(#g698)" stroke="url(#g698)" stroke-width="0.7"/>
<polygon points="517.2,674.2 549.4,696 568,687.5 536.3,677.8" fill="none" stroke="#6e6e6e" stroke-width="0.8" stroke-opacity="0.55"/>
<polygon points="549.4,696 582.1,710.1 600.2,698.3" fill="url(#g699)" stroke="url(#g699)" stroke-width="0.7"/>
<path d="M553 697.6L565.1 696.7" fill="none" stroke="#444" stroke-width="1.1" stroke-opacity="0.5"/>
<polygon points="549.4,696 600.2,698.3 568,687.5" fill="url(#g700)" stroke="url(#g700)" stroke-width="0.7"/>
<path d="M565.1 696.7L589.6 694.8" fill="none" stroke="#444" stroke-width="1.1" stroke-opacity="0.5"/>
<polygon points="549.4,696 582.1,710.1 600.2,698.3 568,687.5" fill="none" stroke="#6e6e6e" stroke-width="0.8" stroke-opacity="0.55"/>
<polygon points="582.1,710.1 615.5,720.9 633.1,709.9" fill="url(#g701)" stroke="url(#g701)" stroke-width="0.7"/>
<polygon points="582.1,710.1 633.1,709.9 600.2,698.3" fill="url(#g702)" stroke="url(#g702)" stroke-width="0.7"/>
<polygon points="582.1,710.1 615.5,720.9 633.1,709.9 600.2,698.3" fill="none" stroke="#6e6e6e" stroke-width="0.8" stroke-opacity="0.55"/>
<polygon points="615.5,720.9 649.5,732.5 666.7,723.8" fill="url(#g703)" stroke="url(#g703)" stroke-width="0.7"/>
<polygon points="615.5,720.9 666.7,723.8 633.1,709.9" fill="url(#g704)" stroke="url(#g704)" stroke-width="0.7"/>
<polygon points="615.5,720.9 649.5,732.5 666.7,723.8 633.1,709.9" fill="none" stroke="#6e6e6e" stroke-width="0.8" stroke-opacity="0.55"/>
<polygon points="649.5,732.5 684.3,746.7 701,741.5" fill="url(#g705)" stroke="url(#g705)" stroke-width="0.7"/>
<path d="M682.6 746L699.4 741.2" fill="none" stroke="#444" stroke-width="1.1" stroke-opacity="0.5"/>
<polygon points="649.5,732.5 701,741.5 666.7,723.8" fill="url(#g706)" stroke="url(#g706)" stroke-width="0.7"/>
<path d="M699.4 741.2L700.2 741.1" fill="none" stroke="#444" stroke-width="1.1" stroke-opacity="0.5"/>
<polygon points="649.5,732.5 684.3,746.7 701,741.5 666.7,723.8" fill="none" stroke="#6e6e6e" stroke-width="0.8" stroke-opacity="0.55"/>
<polygon points="684.3,746.7 719.8,758.1 701,741.5" fill="url(#g707)" stroke="url(#g707)" stroke-width="0.7"/>
<polygon points="719.8,758.1 735.9,765 701,741.5" fill="url(#g708)" stroke="url(#g708)" stroke-width="0.7"/>
<polygon points="684.3,746.7 719.8,758.1 735.9,765 701,741.5" fill="none" stroke="#6e6e6e" stroke-width="0.8" stroke-opacity="0.55"/>
<polygon points="719.8,758.1 756.2,758 735.9,765" fill="url(#g709)" stroke="url(#g709)" stroke-width="0.7"/>
<polygon points="756.2,758 771.3,806 735.9,765" fill="url(#g710)" stroke="url(#g710)" stroke-width="0.7"/>
<path d="M765.8 788.6L753.4 785.3" fill="none" stroke="#444" stroke-width="1.1" stroke-opacity="0.5"/>
<polygon points="719.8,758.1 756.2,758 771.3,806 735.9,765" fill="none" stroke="#6e6e6e" stroke-width="0.8" stroke-opacity="0.55"/>
<polygon points="756.2,758 794,700 808.4,745" fill="url(#g711)" stroke="url(#g711)" stroke-width="0.7"/>
<path d="M760.4 751.5L790 749.6M786.7 711.2L797.3 710.5" fill="none" stroke="#444" stroke-width="1.1" stroke-opacity="0.5"/>
<polygon points="756.2,758 808.4,745 771.3,806" fill="url(#g712)" stroke="url(#g712)" stroke-width="0.7"/>
<path d="M782.6 787.4L765.8 788.6M790 749.6L806.3 748.4" fill="none" stroke="#444" stroke-width="1.1" stroke-opacity="0.5"/>
<polygon points="756.2,758 794,700 808.4,745 771.3,806" fill="none" stroke="#6e6e6e" stroke-width="0.8" stroke-opacity="0.55"/>
<polygon points="434.4,669 465.4,665 455.1,668" fill="url(#g713)" stroke="url(#g713)" stroke-width="0.7"/>
<polygon points="465.4,665 485.3,631 455.1,668" fill="url(#g714)" stroke="url(#g714)" stroke-width="0.7"/>
<path d="M469.7 657.6L466.4 654.1" fill="none" stroke="#444" stroke-width="1.1" stroke-opacity="0.5"/>
<polygon points="434.4,669 465.4,665 485.3,631 455.1,668" fill="none" stroke="#6e6e6e" stroke-width="0.8" stroke-opacity="0.55"/>
<polygon points="465.4,665 497.5,691.9 517.2,674.2" fill="url(#g715)" stroke="url(#g715)" stroke-width="0.7"/>
<polygon points="465.4,665 517.2,674.2 485.3,631" fill="url(#g716)" stroke="url(#g716)" stroke-width="0.7"/>
<path d="M503.8 656L469.7 657.6" fill="none" stroke="#444" stroke-width="1.1" stroke-opacity="0.5"/>
<polygon points="465.4,665 497.5,691.9 517.2,674.2 485.3,631" fill="none" stroke="#6e6e6e" stroke-width="0.8" stroke-opacity="0.55"/>
<polygon points="497.5,691.9 530.1,712.3 549.4,696" fill="url(#g717)" stroke="url(#g717)" stroke-width="0.7"/>
<path d="M510.9 700.2L547.2 697.8" fill="none" stroke="#444" stroke-width="1.1" stroke-opacity="0.5"/>
<polygon points="497.5,691.9 549.4,696 517.2,674.2" fill="url(#g718)" stroke="url(#g718)" stroke-width="0.7"/>
<polygon points="497.5,691.9 530.1,712.3 549.4,696 517.2,674.2" fill="none" stroke="#6e6e6e" stroke-width="0.8" stroke-opacity="0.55"/>
<polygon points="530.1,712.3 563.3,725.1 582.1,710.1" fill="url(#g719)" stroke="url(#g719)" stroke-width="0.7"/>
<polygon points="530.1,712.3 582.1,710.1 549.4,696" fill="url(#g720)" stroke="url(#g720)" stroke-width="0.7"/>
<path d="M553 697.6L547.2 697.8" fill="none" stroke="#444" stroke-width="1.1" stroke-opacity="0.5"/>
<polygon points="530.1,712.3 563.3,725.1 582.1,710.1 549.4,696" fill="none" stroke="#6e6e6e" stroke-width="0.8" stroke-opacity="0.55"/>
<polygon points="563.3,725.1 597.1,731.2 615.5,720.9" fill="url(#g721)" stroke="url(#g721)" stroke-width="0.7"/>
<polygon points="563.3,725.1 615.5,720.9 582.1,710.1" fill="url(#g722)" stroke="url(#g722)" stroke-width="0.7"/>
<polygon points="563.3,725.1 597.1,731.2 615.5,720.9 582.1,710.1" fill="none" stroke="#6e6e6e" stroke-width="0.8" stroke-opacity="0.55"/>
<polygon points="597.1,731.2 631.7,738.8 649.5,732.5" fill="url(#g723)" stroke="url(#g723)" stroke-width="0.7"/>
<polygon points="597.1,731.2 649.5,732.5 615.5,720.9" fill="url(#g724)" stroke="url(#g724)" stroke-width="0.7"/>
<polygon points="597.1,731.2 631.7,738.8 649.5,732.5 615.5,720.9" fill="none" stroke="#6e6e6e" stroke-width="0.8" stroke-opacity="0.55"/>
<polygon points="631.7,738.8 667,754.6 684.3,746.7" fill="url(#g725)" stroke="url(#g725)" stroke-width="0.7"/>
<path d="M658.2 750.7L681.4 746.2" fill="none" stroke="#444" stroke-width="1.1" stroke-opacity="0.5"/>
<polygon points="631.7,738.8 684.3,746.7 649.5,732.5" fill="url(#g726)" stroke="url(#g726)" stroke-width="0.7"/>
<path d="M681.4 746.2L682.6 746" fill="none" stroke="#444" stroke-width="1.1" stroke-opacity="0.5"/>
<polygon points="631.7,738.8 667,754.6 684.3,746.7 649.5,732.5" fill="none" stroke="#6e6e6e" stroke-width="0.8" stroke-opacity="0.55"/>
<polygon points="667,754.6 703.1,762.7 719.8,758.1" fill="url(#g727)" stroke="url(#g727)" stroke-width="0.7"/>
<polygon points="667,754.6 719.8,758.1 684.3,746.7" fill="url(#g728)" stroke="url(#g728)" stroke-width="0.7"/>
<polygon points="667,754.6 703.1,762.7 719.8,758.1 684.3,746.7" fill="none" stroke="#6e6e6e" stroke-width="0.8" stroke-opacity="0.55"/>
<polygon points="703.1,762.7 739.9,770 756.2,758" fill="url(#g729)" stroke="url(#g729)" stroke-width="0.7"/>
<polygon points="703.1,762.7 756.2,758 719.8,758.1" fill="url(#g730)" stroke="url(#g730)" stroke-width="0.7"/>
<polygon points="703.1,762.7 739.9,770 756.2,758 719.8,758.1" fill="none" stroke="#6e6e6e" stroke-width="0.8" stroke-opacity="0.55"/>
<polygon points="739.9,770 778.8,652 794,700" fill="url(#g731)" stroke="url(#g731)" stroke-width="0.7"/>
<path d="M744.3 756.8L750.6 756.2M758.2 714.6L784.5 712.2M772.1 672.4L784.9 671.2" fill="none" stroke="#444" stroke-width="1.1" stroke-opacity="0.5"/>
<polygon points="739.9,770 794,700 756.2,758" fill="url(#g732)" stroke="url(#g732)" stroke-width="0.7"/>
<path d="M750.6 756.2L760.4 751.5M784.5 712.2L786.7 711.2" fill="none" stroke="#444" stroke-width="1.1" stroke-opacity="0.5"/>
<polygon points="739.9,770 778.8,652 794,700 756.2,758" fill="none" stroke="#6e6e6e" stroke-width="0.8" stroke-opacity="0.55"/>
<polygon points="412.9,672 444.8,694.4 465.4,665" fill="url(#g733)" stroke="url(#g733)" stroke-width="0.7"/>
<polygon points="412.9,672 465.4,665 434.4,669" fill="url(#g734)" stroke="url(#g734)" stroke-width="0.7"/>
<polygon points="412.9,672 444.8,694.4 465.4,665 434.4,669" fill="none" stroke="#6e6e6e" stroke-width="0.8" stroke-opacity="0.55"/>
<polygon points="444.8,694.4 477.2,716 497.5,691.9" fill="url(#g735)" stroke="url(#g735)" stroke-width="0.7"/>
<path d="M456.5 702.2L489.8 701" fill="none" stroke="#444" stroke-width="1.1" stroke-opacity="0.5"/>
<polygon points="444.8,694.4 497.5,691.9 465.4,665" fill="url(#g736)" stroke="url(#g736)" stroke-width="0.7"/>
<polygon points="444.8,694.4 477.2,716 497.5,691.9 465.4,665" fill="none" stroke="#6e6e6e" stroke-width="0.8" stroke-opacity="0.55"/>
<polygon points="477.2,716 510.2,736.2 530.1,712.3" fill="url(#g737)" stroke="url(#g737)" stroke-width="0.7"/>
<polygon points="477.2,716 530.1,712.3 497.5,691.9" fill="url(#g738)" stroke="url(#g738)" stroke-width="0.7"/>
<path d="M510.9 700.2L489.8 701" fill="none" stroke="#444" stroke-width="1.1" stroke-opacity="0.5"/>
<polygon points="477.2,716 510.2,736.2 530.1,712.3 497.5,691.9" fill="none" stroke="#6e6e6e" stroke-width="0.8" stroke-opacity="0.55"/>
<polygon points="510.2,736.2 543.8,746.7 563.3,725.1" fill="url(#g739)" stroke="url(#g739)" stroke-width="0.7"/>
<polygon points="510.2,736.2 563.3,725.1 530.1,712.3" fill="url(#g740)" stroke="url(#g740)" stroke-width="0.7"/>
<polygon points="510.2,736.2 543.8,746.7 563.3,725.1 530.1,712.3" fill="none" stroke="#6e6e6e" stroke-width="0.8" stroke-opacity="0.55"/>
<polygon points="543.8,746.7 577.9,739.9 563.3,725.1" fill="url(#g741)" stroke="url(#g741)" stroke-width="0.7"/>
<polygon points="577.9,739.9 597.1,731.2 563.3,725.1" fill="url(#g742)" stroke="url(#g742)" stroke-width="0.7"/>
<polygon points="543.8,746.7 577.9,739.9 597.1,731.2 563.3,725.1" fill="none" stroke="#6e6e6e" stroke-width="0.8" stroke-opacity="0.55"/>
<polygon points="577.9,739.9 613,736.8 631.7,738.8" fill="url(#g743)" stroke="url(#g743)" stroke-width="0.7"/>
<polygon points="577.9,739.9 631.7,738.8 597.1,731.2" fill="url(#g744)" stroke="url(#g744)" stroke-width="0.7"/>
<polygon points="577.9,739.9 613,736.8 631.7,738.8 597.1,731.2" fill="none" stroke="#6e6e6e" stroke-width="0.8" stroke-opacity="0.55"/>
<polygon points="613,736.8 648.9,770.3 667,754.6" fill="url(#g745)" stroke="url(#g745)" stroke-width="0.7"/>
<path d="M633.1 755.6L658.2 751.7" fill="none" stroke="#444" stroke-width="1.1" stroke-opacity="0.5"/>
<polygon points="613,736.8 667,754.6 631.7,738.8" fill="url(#g746)" stroke="url(#g746)" stroke-width="0.7"/>
<path d="M658.2 751.7L658.2 750.7" fill="none" stroke="#444" stroke-width="1.1" stroke-opacity="0.5"/>
<polygon points="613,736.8 648.9,770.3 667,754.6 631.7,738.8" fill="none" stroke="#6e6e6e" stroke-width="0.8" stroke-opacity="0.55"/>
<polygon points="648.9,770.3 685.5,768 703.1,762.7" fill="url(#g747)" stroke="url(#g747)" stroke-width="0.7"/>
<polygon points="648.9,770.3 703.1,762.7 667,754.6" fill="url(#g748)" stroke="url(#g748)" stroke-width="0.7"/>
<polygon points="648.9,770.3 685.5,768 703.1,762.7 667,754.6" fill="none" stroke="#6e6e6e" stroke-width="0.8" stroke-opacity="0.55"/>
<polygon points="685.5,768 723,780 739.9,770" fill="url(#g749)" stroke="url(#g749)" stroke-width="0.7"/>
<polygon points="685.5,768 739.9,770 703.1,762.7" fill="url(#g750)" stroke="url(#g750)" stroke-width="0.7"/>
<polygon points="685.5,768 723,780 739.9,770 703.1,762.7" fill="none" stroke="#6e6e6e" stroke-width="0.8" stroke-opacity="0.55"/>
<polygon points="723,780 762.4,662 739.9,770" fill="url(#g751)" stroke="url(#g751)" stroke-width="0.7"/>
<path d="M728.9 762.5L742.6 757.2M743.2 719.4L751.1 716.4M757.5 676.4L759.5 675.7" fill="none" stroke="#444" stroke-width="1.1" stroke-opacity="0.5"/>
<polygon points="762.4,662 778.8,652 739.9,770" fill="url(#g752)" stroke="url(#g752)" stroke-width="0.7"/>
<path d="M744.3 756.8L742.6 757.2M758.2 714.6L751.1 716.4M772.1 672.4L759.5 675.7" fill="none" stroke="#444" stroke-width="1.1" stroke-opacity="0.5"/>
<polygon points="723,780 762.4,662 778.8,652 739.9,770" fill="none" stroke="#6e6e6e" stroke-width="0.8" stroke-opacity="0.55"/>
<polygon points="391.4,714 423.3,724.5 444.8,694.4" fill="url(#g753)" stroke="url(#g753)" stroke-width="0.7"/>
<path d="M438.8 702.7L423.1 702.3" fill="none" stroke="#444" stroke-width="1.1" stroke-opacity="0.5"/>
<polygon points="391.4,714 444.8,694.4 412.9,672" fill="url(#g754)" stroke="url(#g754)" stroke-width="0.7"/>
<path d="M423.1 702.3L397.2 702.6" fill="none" stroke="#444" stroke-width="1.1" stroke-opacity="0.5"/>
<polygon points="391.4,714 423.3,724.5 444.8,694.4 412.9,672" fill="none" stroke="#6e6e6e" stroke-width="0.8" stroke-opacity="0.55"/>
<polygon points="423.3,724.5 456.1,741.7 477.2,716" fill="url(#g755)" stroke="url(#g755)" stroke-width="0.7"/>
<polygon points="423.3,724.5 477.2,716 444.8,694.4" fill="url(#g756)" stroke="url(#g756)" stroke-width="0.7"/>
<path d="M456.5 702.2L438.8 702.7" fill="none" stroke="#444" stroke-width="1.1" stroke-opacity="0.5"/>
<polygon points="423.3,724.5 456.1,741.7 477.2,716 444.8,694.4" fill="none" stroke="#6e6e6e" stroke-width="0.8" stroke-opacity="0.55"/>
<polygon points="456.1,741.7 489.6,769.9 510.2,736.2" fill="url(#g757)" stroke="url(#g757)" stroke-width="0.7"/>
<path d="M465.4 749.5L502.9 748.1" fill="none" stroke="#444" stroke-width="1.1" stroke-opacity="0.5"/>
<polygon points="456.1,741.7 510.2,736.2 477.2,716" fill="url(#g758)" stroke="url(#g758)" stroke-width="0.7"/>
<polygon points="456.1,741.7 489.6,769.9 510.2,736.2 477.2,716" fill="none" stroke="#6e6e6e" stroke-width="0.8" stroke-opacity="0.55"/>
<polygon points="489.6,769.9 523.6,785.6 543.8,746.7" fill="url(#g759)" stroke="url(#g759)" stroke-width="0.7"/>
<path d="M542.5 749.1L538.4 749" fill="none" stroke="#444" stroke-width="1.1" stroke-opacity="0.5"/>
<polygon points="489.6,769.9 543.8,746.7 510.2,736.2" fill="url(#g760)" stroke="url(#g760)" stroke-width="0.7"/>
<path d="M538.4 749L502.9 748.1" fill="none" stroke="#444" stroke-width="1.1" stroke-opacity="0.5"/>
<polygon points="489.6,769.9 523.6,785.6 543.8,746.7 510.2,736.2" fill="none" stroke="#6e6e6e" stroke-width="0.8" stroke-opacity="0.55"/>
<polygon points="523.6,785.6 557.9,745 543.8,746.7" fill="url(#g761)" stroke="url(#g761)" stroke-width="0.7"/>
<path d="M548.7 755.9L542.5 749.1" fill="none" stroke="#444" stroke-width="1.1" stroke-opacity="0.5"/>
<polygon points="557.9,745 577.9,739.9 543.8,746.7" fill="url(#g762)" stroke="url(#g762)" stroke-width="0.7"/>
<polygon points="523.6,785.6 557.9,745 577.9,739.9 543.8,746.7" fill="none" stroke="#6e6e6e" stroke-width="0.8" stroke-opacity="0.55"/>
<polygon points="557.9,745 593.3,698 613,736.8" fill="url(#g763)" stroke="url(#g763)" stroke-width="0.7"/>
<path d="M580.1 715.5L601.6 714.4" fill="none" stroke="#444" stroke-width="1.1" stroke-opacity="0.5"/>
<polygon points="557.9,745 613,736.8 577.9,739.9" fill="url(#g764)" stroke="url(#g764)" stroke-width="0.7"/>
<polygon points="557.9,745 593.3,698 613,736.8 577.9,739.9" fill="none" stroke="#6e6e6e" stroke-width="0.8" stroke-opacity="0.55"/>
<polygon points="593.3,698 630.1,822 648.9,770.3" fill="url(#g765)" stroke="url(#g765)" stroke-width="0.7"/>
<path d="M625.1 805.1L636.9 803.3M612 761L638.7 757.1M598.9 717L606.9 715.8" fill="none" stroke="#444" stroke-width="1.1" stroke-opacity="0.5"/>
<polygon points="593.3,698 648.9,770.3 613,736.8" fill="url(#g766)" stroke="url(#g766)" stroke-width="0.7"/>
<path d="M638.7 757.1L633.1 755.6M606.9 715.8L601.6 714.4" fill="none" stroke="#444" stroke-width="1.1" stroke-opacity="0.5"/>
<polygon points="593.3,698 630.1,822 648.9,770.3 613,736.8" fill="none" stroke="#6e6e6e" stroke-width="0.8" stroke-opacity="0.55"/>
<polygon points="630.1,822 667.3,759 648.9,770.3" fill="url(#g767)" stroke="url(#g767)" stroke-width="0.7"/>
<path d="M639.5 806.2L636.9 803.3M663.8 764.9L661.6 762.5" fill="none" stroke="#444" stroke-width="1.1" stroke-opacity="0.5"/>
<polygon points="667.3,759 685.5,768 648.9,770.3" fill="url(#g768)" stroke="url(#g768)" stroke-width="0.7"/>
<path d="M674.9 762.8L661.6 762.5" fill="none" stroke="#444" stroke-width="1.1" stroke-opacity="0.5"/>
<polygon points="630.1,822 667.3,759 685.5,768 648.9,770.3" fill="none" stroke="#6e6e6e" stroke-width="0.8" stroke-opacity="0.55"/>
<polygon points="667.3,759 705.9,628 723,780" fill="url(#g769)" stroke="url(#g769)" stroke-width="0.7"/>
<path d="M721.1 762.5L681.8 764.5M678.3 721.4L716.2 719.5M691.3 677.6L711.4 676.6M704.2 633.7L706.5 633.6" fill="none" stroke="#444" stroke-width="1.1" stroke-opacity="0.5"/>
<polygon points="667.3,759 723,780 685.5,768" fill="url(#g770)" stroke="url(#g770)" stroke-width="0.7"/>
<path d="M681.8 764.5L674.9 762.8" fill="none" stroke="#444" stroke-width="1.1" stroke-opacity="0.5"/>
<polygon points="667.3,759 705.9,628 723,780 685.5,768" fill="none" stroke="#6e6e6e" stroke-width="0.8" stroke-opacity="0.55"/>
<polygon points="705.9,628 745.5,616 762.4,662" fill="url(#g771)" stroke="url(#g771)" stroke-width="0.7"/>
<path d="M752.1 633.8L715.2 633.6" fill="none" stroke="#444" stroke-width="1.1" stroke-opacity="0.5"/>
<polygon points="705.9,628 762.4,662 723,780" fill="url(#g772)" stroke="url(#g772)" stroke-width="0.7"/>
<path d="M728.9 762.5L721.1 762.5M743.2 719.4L716.2 719.5M757.5 676.4L711.4 676.6M715.2 633.6L706.5 633.6" fill="none" stroke="#444" stroke-width="1.1" stroke-opacity="0.5"/>
<polygon points="705.9,628 745.5,616 762.4,662 723,780" fill="none" stroke="#6e6e6e" stroke-width="0.8" stroke-opacity="0.55"/>
<polygon points="368.4,731 400.9,748 423.3,724.5" fill="url(#g773)" stroke="url(#g773)" stroke-width="0.7"/>
<polygon points="368.4,731 423.3,724.5 391.4,714" fill="url(#g774)" stroke="url(#g774)" stroke-width="0.7"/>
<polygon points="368.4,731 400.9,748 423.3,724.5 391.4,714" fill="none" stroke="#6e6e6e" stroke-width="0.8" stroke-opacity="0.55"/>
<polygon points="400.9,748 433.9,756.3 456.1,741.7" fill="url(#g775)" stroke="url(#g775)" stroke-width="0.7"/>
<path d="M420.7 753L439.2 752.8" fill="none" stroke="#444" stroke-width="1.1" stroke-opacity="0.5"/>
<polygon points="400.9,748 456.1,741.7 423.3,724.5" fill="url(#g776)" stroke="url(#g776)" stroke-width="0.7"/>
<polygon points="400.9,748 433.9,756.3 456.1,741.7 423.3,724.5" fill="none" stroke="#6e6e6e" stroke-width="0.8" stroke-opacity="0.55"/>
<polygon points="433.9,756.3 468.4,816 489.6,769.9" fill="url(#g777)" stroke="url(#g777)" stroke-width="0.7"/>
<path d="M458 798L477.4 796.4" fill="none" stroke="#444" stroke-width="1.1" stroke-opacity="0.5"/>
<polygon points="433.9,756.3 489.6,769.9 456.1,741.7" fill="url(#g778)" stroke="url(#g778)" stroke-width="0.7"/>
<path d="M465.4 749.5L439.2 752.8" fill="none" stroke="#444" stroke-width="1.1" stroke-opacity="0.5"/>
<polygon points="433.9,756.3 468.4,816 489.6,769.9 456.1,741.7" fill="none" stroke="#6e6e6e" stroke-width="0.8" stroke-opacity="0.55"/>
<polygon points="468.4,816 503.4,880.7 523.6,785.6" fill="url(#g779)" stroke="url(#g779)" stroke-width="0.7"/>
<path d="M482.6 842.3L511.7 841.7M521.3 796.6L503 796.9" fill="none" stroke="#444" stroke-width="1.1" stroke-opacity="0.5"/>
<polygon points="468.4,816 523.6,785.6 489.6,769.9" fill="url(#g780)" stroke="url(#g780)" stroke-width="0.7"/>
<path d="M503 796.9L477.4 796.4" fill="none" stroke="#444" stroke-width="1.1" stroke-opacity="0.5"/>
<polygon points="468.4,816 503.4,880.7 523.6,785.6 489.6,769.9" fill="none" stroke="#6e6e6e" stroke-width="0.8" stroke-opacity="0.55"/>
<polygon points="503.4,880.7 537.5,793 523.6,785.6" fill="url(#g781)" stroke="url(#g781)" stroke-width="0.7"/>
<path d="M517.1 845.6L511.7 841.7M532.9 804.8L521.3 796.6" fill="none" stroke="#444" stroke-width="1.1" stroke-opacity="0.5"/>
<polygon points="537.5,793 557.9,745 523.6,785.6" fill="url(#g782)" stroke="url(#g782)" stroke-width="0.7"/>
<path d="M552.2 758.5L548.7 755.9" fill="none" stroke="#444" stroke-width="1.1" stroke-opacity="0.5"/>
<polygon points="503.4,880.7 537.5,793 557.9,745 523.6,785.6" fill="none" stroke="#6e6e6e" stroke-width="0.8" stroke-opacity="0.55"/>
<polygon points="537.5,793 573.3,770 557.9,745" fill="url(#g783)" stroke="url(#g783)" stroke-width="0.7"/>
<path d="M569 763L552.2 758.5" fill="none" stroke="#444" stroke-width="1.1" stroke-opacity="0.5"/>
<polygon points="573.3,770 593.3,698 557.9,745" fill="url(#g784)" stroke="url(#g784)" stroke-width="0.7"/>
<path d="M574.7 765L569 763M587.7 718.2L580.1 715.5" fill="none" stroke="#444" stroke-width="1.1" stroke-opacity="0.5"/>
<polygon points="537.5,793 573.3,770 593.3,698 557.9,745" fill="none" stroke="#6e6e6e" stroke-width="0.8" stroke-opacity="0.55"/>
<polygon points="573.3,770 610.4,800 630.1,822" fill="url(#g785)" stroke="url(#g785)" stroke-width="0.7"/>
<path d="M618.7 809.3L613 806.4" fill="none" stroke="#444" stroke-width="1.1" stroke-opacity="0.5"/>
<polygon points="573.3,770 630.1,822 593.3,698" fill="url(#g786)" stroke="url(#g786)" stroke-width="0.7"/>
<path d="M613 806.4L625.1 805.1M612 761L574.7 765M598.9 717L587.7 718.2" fill="none" stroke="#444" stroke-width="1.1" stroke-opacity="0.5"/>
<polygon points="573.3,770 610.4,800 630.1,822 593.3,698" fill="none" stroke="#6e6e6e" stroke-width="0.8" stroke-opacity="0.55"/>
<polygon points="610.4,800 648.2,812 630.1,822" fill="url(#g787)" stroke="url(#g787)" stroke-width="0.7"/>
<path d="M644.8 813.9L618.7 809.3" fill="none" stroke="#444" stroke-width="1.1" stroke-opacity="0.5"/>
<polygon points="648.2,812 667.3,759 630.1,822" fill="url(#g788)" stroke="url(#g788)" stroke-width="0.7"/>
<path d="M639.5 806.2L644.8 813.9M664.7 766.2L663.8 764.9" fill="none" stroke="#444" stroke-width="1.1" stroke-opacity="0.5"/>
<polygon points="610.4,800 648.2,812 667.3,759 630.1,822" fill="none" stroke="#6e6e6e" stroke-width="0.8" stroke-opacity="0.55"/>
<polygon points="648.2,812 686.9,797 667.3,759" fill="url(#g789)" stroke="url(#g789)" stroke-width="0.7"/>
<path d="M671.6 767.5L664.7 766.2" fill="none" stroke="#444" stroke-width="1.1" stroke-opacity="0.5"/>
<polygon points="686.9,797 705.9,628 667.3,759" fill="url(#g790)" stroke="url(#g790)" stroke-width="0.7"/>
<path d="M689.5 773.8L671.6 767.5M694.7 727.2L678.3 721.4M700 680.7L691.3 677.6M705.2 634.1L704.2 633.7" fill="none" stroke="#444" stroke-width="1.1" stroke-opacity="0.5"/>
<polygon points="648.2,812 686.9,797 705.9,628 667.3,759" fill="none" stroke="#6e6e6e" stroke-width="0.8" stroke-opacity="0.55"/>
<polygon points="686.9,797 726.8,772 705.9,628" fill="url(#g791)" stroke="url(#g791)" stroke-width="0.7"/>
<path d="M718.8 777L689.5 773.8M720.7 730L694.7 727.2M713.7 682.1L700 680.7M706.8 634.3L705.2 634.1" fill="none" stroke="#444" stroke-width="1.1" stroke-opacity="0.5"/>
<polygon points="726.8,772 745.5,616 705.9,628" fill="url(#g792)" stroke="url(#g792)" stroke-width="0.7"/>
<path d="M731.7 730.6L720.7 730M737.4 683.2L713.7 682.1M743.1 635.9L706.8 634.3" fill="none" stroke="#444" stroke-width="1.1" stroke-opacity="0.5"/>
<polygon points="686.9,797 726.8,772 745.5,616 705.9,628" fill="none" stroke="#6e6e6e" stroke-width="0.8" stroke-opacity="0.55"/>
</g>
<line x1="374.6" y1="1004.1" x2="365.1" y2="583.3" stroke="#111" stroke-width="1.8"/>
<line x1="374.6" y1="1004.1" x2="725.3" y2="1063.9" stroke="#111" stroke-width="1.8"/>
<line x1="725.3" y1="1063.9" x2="870.7" y2="959" stroke="#111" stroke-width="1.8"/>
<line x1="365.9" y1="616.7" x2="360.9" y2="617.7" stroke="#111" stroke-width="1.6"/>
<text transform="translate(356.9 627.2) rotate(-16) scale(0.58 1)" font-family="'Liberation Serif', serif" font-size="30" font-weight="bold" font-style="italic" text-anchor="end" fill="#000">−40</text>
<line x1="366.8" y1="658.3" x2="361.8" y2="659.3" stroke="#111" stroke-width="1.6"/>
<text transform="translate(357.8 668.8) rotate(-16) scale(0.58 1)" font-family="'Liberation Serif', serif" font-size="30" font-weight="bold" font-style="italic" text-anchor="end" fill="#000">−60</text>
<line x1="367.7" y1="699.6" x2="362.7" y2="700.6" stroke="#111" stroke-width="1.6"/>
<text transform="translate(358.7 710.1) rotate(-16) scale(0.58 1)" font-family="'Liberation Serif', serif" font-size="30" font-weight="bold" font-style="italic" text-anchor="end" fill="#000">−80</text>
<line x1="368.7" y1="740.6" x2="363.7" y2="741.6" stroke="#111" stroke-width="1.6"/>
<text transform="translate(359.7 751.1) rotate(-16) scale(0.58 1)" font-family="'Liberation Serif', serif" font-size="30" font-weight="bold" font-style="italic" text-anchor="end" fill="#000">−100</text>
<line x1="369.6" y1="781.4" x2="364.6" y2="782.4" stroke="#111" stroke-width="1.6"/>
<text transform="translate(360.6 791.9) rotate(-16) scale(0.58 1)" font-family="'Liberation Serif', serif" font-size="30" font-weight="bold" font-style="italic" text-anchor="end" fill="#000">−120</text>
<line x1="370.5" y1="821.9" x2="365.5" y2="822.9" stroke="#111" stroke-width="1.6"/>
<text transform="translate(361.5 832.4) rotate(-16) scale(0.58 1)" font-family="'Liberation Serif', serif" font-size="30" font-weight="bold" font-style="italic" text-anchor="end" fill="#000">−140</text>
<line x1="371.4" y1="862.2" x2="366.4" y2="863.2" stroke="#111" stroke-width="1.6"/>
<text transform="translate(362.4 872.6) rotate(-16) scale(0.58 1)" font-family="'Liberation Serif', serif" font-size="30" font-weight="bold" font-style="italic" text-anchor="end" fill="#000">−160</text>
<line x1="372.3" y1="902.2" x2="367.3" y2="903.2" stroke="#111" stroke-width="1.6"/>
<text transform="translate(363.3 912.7) rotate(-16) scale(0.58 1)" font-family="'Liberation Serif', serif" font-size="30" font-weight="bold" font-style="italic" text-anchor="end" fill="#000">−180</text>
<line x1="373.2" y1="942" x2="368.2" y2="943" stroke="#111" stroke-width="1.6"/>
<text transform="translate(364.2 952.4) rotate(-16) scale(0.58 1)" font-family="'Liberation Serif', serif" font-size="30" font-weight="bold" font-style="italic" text-anchor="end" fill="#000">−200</text>
<line x1="374.1" y1="981.5" x2="369.1" y2="982.5" stroke="#111" stroke-width="1.6"/>
<text transform="translate(365.1 992) rotate(-16) scale(0.58 1)" font-family="'Liberation Serif', serif" font-size="30" font-weight="bold" font-style="italic" text-anchor="end" fill="#000">−220</text>
<line x1="438.4" y1="1015" x2="442.9" y2="1012.8" stroke="#111" stroke-width="1.6"/>
<line x1="759.5" y1="1039.2" x2="754.6" y2="1038.4" stroke="#111" stroke-width="1.6"/>
<line x1="505.2" y1="1026.4" x2="509.6" y2="1024" stroke="#111" stroke-width="1.6"/>
<line x1="790.8" y1="1016.6" x2="785.9" y2="1015.9" stroke="#111" stroke-width="1.6"/>
<line x1="575.1" y1="1038.3" x2="579.5" y2="1035.8" stroke="#111" stroke-width="1.6"/>
<line x1="819.6" y1="995.9" x2="814.6" y2="995.1" stroke="#111" stroke-width="1.6"/>
<line x1="648.4" y1="1050.8" x2="652.6" y2="1048.1" stroke="#111" stroke-width="1.6"/>
<line x1="846.1" y1="976.7" x2="841.2" y2="976" stroke="#111" stroke-width="1.6"/>
<line x1="725.3" y1="1063.9" x2="730.3" y2="1064.9" stroke="#111" stroke-width="1.6"/>
<text transform="translate(376 629.5) scale(0.86 1)" font-family="'Liberation Serif', serif" font-size="53.4" font-weight="bold" font-style="normal" text-anchor="start" fill="#000">d</text>
<text transform="translate(308 812) rotate(90) scale(1.2 1)" font-family="'Liberation Serif', serif" font-size="20" font-weight="bold" font-style="normal" text-anchor="middle" fill="#000" letter-spacing="2.2">Voltage (mV)</text>
<text transform="translate(511 1049.6) rotate(9.7) skewX(-20) scale(1.27 1)" font-family="'Liberation Serif', serif" font-size="18" font-weight="bold" font-style="italic" text-anchor="middle" fill="#000">Distance (mm)</text>
<text transform="translate(492.2 1034.4) rotate(54.7)" font-family="'Liberation Serif', serif" font-size="17" font-weight="bold" font-style="italic" text-anchor="middle" fill="#000">2</text>
<text transform="translate(635.4 1058.8) rotate(54.7)" font-family="'Liberation Serif', serif" font-size="17" font-weight="bold" font-style="italic" text-anchor="middle" fill="#000">4</text>
<text transform="translate(846.6 1014.8) rotate(-35.8) skewX(15) scale(0.8 1)" font-family="'Liberation Serif', serif" font-size="15.5" font-weight="bold" font-style="normal" text-anchor="middle" fill="#000">Distance (mm)</text>
<text transform="translate(800.6 1021.7) rotate(64.2)" font-family="'Liberation Serif', serif" font-size="13" font-weight="bold" font-style="normal" text-anchor="middle" fill="#000">2</text>
<text transform="translate(856 981.8) rotate(64.2)" font-family="'Liberation Serif', serif" font-size="13" font-weight="bold" font-style="normal" text-anchor="middle" fill="#000">4</text>
<text transform="translate(740.3 1074.9) rotate(-28) skewX(-10)" font-family="'Liberation Serif', serif" font-size="17" font-weight="bold" font-style="italic" text-anchor="middle" fill="#000">0</text>
<text transform="translate(362.6 1010.1) rotate(40)" font-family="'Liberation Serif', serif" font-size="13" font-weight="bold" font-style="italic" text-anchor="middle" fill="#000">0</text>
<rect x="896" y="564.2" width="32" height="4" fill="#fff" stroke="#666" stroke-width="1"/>
<rect x="896" y="936.8" width="32" height="3.6" fill="#000"/>
<rect x="896" y="568.2" width="32" height="368.6" fill="url(#cbd)" stroke="#333" stroke-width="1"/>
<line x1="928" y1="568.2" x2="934" y2="568.2" stroke="#222" stroke-width="1.4"/>
<text transform="translate(946.7 579.2) scale(0.92 1)" font-family="'Liberation Serif', serif" font-size="31" font-weight="bold" font-style="normal" text-anchor="start" fill="#000">−24.00</text>
<line x1="928" y1="605.1" x2="934" y2="605.1" stroke="#222" stroke-width="1.4"/>
<text transform="translate(946.7 616.1) scale(0.92 1)" font-family="'Liberation Serif', serif" font-size="31" font-weight="bold" font-style="normal" text-anchor="start" fill="#000">−44.00</text>
<line x1="928" y1="641.9" x2="934" y2="641.9" stroke="#222" stroke-width="1.4"/>
<text transform="translate(946.7 652.9) scale(0.92 1)" font-family="'Liberation Serif', serif" font-size="31" font-weight="bold" font-style="normal" text-anchor="start" fill="#000">−64.00</text>
<line x1="928" y1="678.8" x2="934" y2="678.8" stroke="#222" stroke-width="1.4"/>
<text transform="translate(946.7 689.8) scale(0.92 1)" font-family="'Liberation Serif', serif" font-size="31" font-weight="bold" font-style="normal" text-anchor="start" fill="#000">−84.00</text>
<line x1="928" y1="715.6" x2="934" y2="715.6" stroke="#222" stroke-width="1.4"/>
<text transform="translate(946.7 726.6) scale(0.92 1)" font-family="'Liberation Serif', serif" font-size="31" font-weight="bold" font-style="normal" text-anchor="start" fill="#000">−104.0</text>
<line x1="928" y1="752.5" x2="934" y2="752.5" stroke="#222" stroke-width="1.4"/>
<text transform="translate(946.7 763.5) scale(0.92 1)" font-family="'Liberation Serif', serif" font-size="31" font-weight="bold" font-style="normal" text-anchor="start" fill="#000">−124.0</text>
<line x1="928" y1="789.4" x2="934" y2="789.4" stroke="#222" stroke-width="1.4"/>
<text transform="translate(946.7 800.4) scale(0.92 1)" font-family="'Liberation Serif', serif" font-size="31" font-weight="bold" font-style="normal" text-anchor="start" fill="#000">−144.0</text>
<line x1="928" y1="826.2" x2="934" y2="826.2" stroke="#222" stroke-width="1.4"/>
<text transform="translate(946.7 837.2) scale(0.92 1)" font-family="'Liberation Serif', serif" font-size="31" font-weight="bold" font-style="normal" text-anchor="start" fill="#000">−164.0</text>
<line x1="928" y1="863.1" x2="934" y2="863.1" stroke="#222" stroke-width="1.4"/>
<text transform="translate(946.7 874.1) scale(0.92 1)" font-family="'Liberation Serif', serif" font-size="31" font-weight="bold" font-style="normal" text-anchor="start" fill="#000">−184.0</text>
<line x1="928" y1="899.9" x2="934" y2="899.9" stroke="#222" stroke-width="1.4"/>
<text transform="translate(946.7 910.9) scale(0.92 1)" font-family="'Liberation Serif', serif" font-size="31" font-weight="bold" font-style="normal" text-anchor="start" fill="#000">−204.0</text>
<line x1="928" y1="936.8" x2="934" y2="936.8" stroke="#222" stroke-width="1.4"/>
<text transform="translate(946.7 947.8) scale(0.92 1)" font-family="'Liberation Serif', serif" font-size="31" font-weight="bold" font-style="normal" text-anchor="start" fill="#000">−224.0</text>
</g>
<g id="panel-e">
<line x1="1110.1" y1="625.8" x2="1355.5" y2="585" stroke="#dcdcdc" stroke-width="1"/>
<line x1="1355.5" y1="585" x2="1630.5" y2="611.4" stroke="#dcdcdc" stroke-width="1"/>
<line x1="1113.9" y1="701.9" x2="1356.7" y2="650.3" stroke="#dcdcdc" stroke-width="1"/>
<line x1="1356.7" y1="650.3" x2="1629.1" y2="685.9" stroke="#dcdcdc" stroke-width="1"/>
<line x1="1117.8" y1="776.3" x2="1357.8" y2="714.4" stroke="#dcdcdc" stroke-width="1"/>
<line x1="1357.8" y1="714.4" x2="1627.8" y2="758.9" stroke="#dcdcdc" stroke-width="1"/>
<line x1="1121.5" y1="849.4" x2="1359" y2="777.5" stroke="#dcdcdc" stroke-width="1"/>
<line x1="1359" y1="777.5" x2="1626.5" y2="830.6" stroke="#dcdcdc" stroke-width="1"/>
<line x1="1125.2" y1="920.9" x2="1360.1" y2="839.5" stroke="#dcdcdc" stroke-width="1"/>
<line x1="1360.1" y1="839.5" x2="1625.2" y2="900.8" stroke="#dcdcdc" stroke-width="1"/>
<line x1="1229.3" y1="923.8" x2="1216.6" y2="577.5" stroke="#dcdcdc" stroke-width="1"/>
<line x1="1458" y1="899.3" x2="1456.4" y2="565.5" stroke="#dcdcdc" stroke-width="1"/>
<line x1="1227.3" y1="995.7" x2="1458" y2="899.3" stroke="#dcdcdc" stroke-width="1"/>
<line x1="1229.3" y1="923.8" x2="1500.8" y2="1004.5" stroke="#dcdcdc" stroke-width="1"/>
<line x1="1319.5" y1="890.3" x2="1311.6" y2="563.6" stroke="#dcdcdc" stroke-width="1"/>
<line x1="1565.9" y1="926.3" x2="1569.5" y2="574.6" stroke="#dcdcdc" stroke-width="1"/>
<line x1="1340.4" y1="1034" x2="1565.9" y2="926.3" stroke="#dcdcdc" stroke-width="1"/>
<line x1="1319.5" y1="890.3" x2="1586" y2="960.7" stroke="#dcdcdc" stroke-width="1"/>
<line x1="1108.4" y1="593.4" x2="1355" y2="557.2" stroke="#8a8a8a" stroke-width="1.1" stroke-dasharray="5 1.2"/>
<line x1="1355" y1="557.2" x2="1631.1" y2="579.6" stroke="#8a8a8a" stroke-width="1.1" stroke-dasharray="5 1.2"/>
<line x1="1360.8" y1="875" x2="1355" y2="557.2" stroke="#8a8a8a" stroke-width="1.2"/>
<line x1="1624.4" y1="940.9" x2="1631.1" y2="579.6" stroke="#a8a8a8" stroke-width="1" stroke-dasharray="6 1.5"/>
<line x1="1127.2" y1="961.8" x2="1360.8" y2="875" stroke="#8a8a8a" stroke-width="1.2"/>
<line x1="1360.8" y1="875" x2="1624.4" y2="940.9" stroke="#8a8a8a" stroke-width="1.2"/>
<g stroke-linejoin="round">
<polygon points="1334.4,597 1358.7,595.9 1379.8,594" fill="url(#g793)" stroke="url(#g793)" stroke-width="0.7"/>
<polygon points="1334.4,597 1379.8,594 1355.4,583.3" fill="url(#g794)" stroke="url(#g794)" stroke-width="0.7"/>
<polygon points="1334.4,597 1358.7,595.9 1379.8,594 1355.4,583.3" fill="none" stroke="#6e6e6e" stroke-width="0.8" stroke-opacity="0.55"/>
<polygon points="1358.7,595.9 1383.6,590.7 1379.8,594" fill="url(#g795)" stroke="url(#g795)" stroke-width="0.7"/>
<polygon points="1383.6,590.7 1404.6,584 1379.8,594" fill="url(#g796)" stroke="url(#g796)" stroke-width="0.7"/>
<polygon points="1358.7,595.9 1383.6,590.7 1404.6,584 1379.8,594" fill="none" stroke="#6e6e6e" stroke-width="0.8" stroke-opacity="0.55"/>
<polygon points="1383.6,590.7 1409.3,595.9 1404.6,584" fill="url(#g797)" stroke="url(#g797)" stroke-width="0.7"/>
<polygon points="1409.3,595.9 1430.1,572.7 1404.6,584" fill="url(#g798)" stroke="url(#g798)" stroke-width="0.7"/>
<polygon points="1383.6,590.7 1409.3,595.9 1430.1,572.7 1404.6,584" fill="none" stroke="#6e6e6e" stroke-width="0.8" stroke-opacity="0.55"/>
<polygon points="1409.3,595.9 1435.8,601.4 1456.5,594" fill="url(#g799)" stroke="url(#g799)" stroke-width="0.7"/>
<polygon points="1409.3,595.9 1456.5,594 1430.1,572.7" fill="url(#g800)" stroke="url(#g800)" stroke-width="0.7"/>
<polygon points="1409.3,595.9 1435.8,601.4 1456.5,594 1430.1,572.7" fill="none" stroke="#6e6e6e" stroke-width="0.8" stroke-opacity="0.55"/>
<polygon points="1435.8,601.4 1462.9,606.9 1456.5,594" fill="url(#g801)" stroke="url(#g801)" stroke-width="0.7"/>
<polygon points="1462.9,606.9 1483.6,617 1456.5,594" fill="url(#g802)" stroke="url(#g802)" stroke-width="0.7"/>
<path d="M1475.8 613.2L1476.6 611" fill="none" stroke="#444" stroke-width="1.1" stroke-opacity="0.5"/>
<polygon points="1435.8,601.4 1462.9,606.9 1483.6,617 1456.5,594" fill="none" stroke="#6e6e6e" stroke-width="0.8" stroke-opacity="0.55"/>
<polygon points="1462.9,606.9 1490.8,612.7 1511.3,600.4" fill="url(#g803)" stroke="url(#g803)" stroke-width="0.7"/>
<polygon points="1462.9,606.9 1511.3,600.4 1483.6,617" fill="url(#g804)" stroke="url(#g804)" stroke-width="0.7"/>
<path d="M1491.2 612.4L1475.8 613.2" fill="none" stroke="#444" stroke-width="1.1" stroke-opacity="0.5"/>
<polygon points="1462.9,606.9 1490.8,612.7 1511.3,600.4 1483.6,617" fill="none" stroke="#6e6e6e" stroke-width="0.8" stroke-opacity="0.55"/>
<polygon points="1490.8,612.7 1519.5,618.6 1539.8,617.5" fill="url(#g805)" stroke="url(#g805)" stroke-width="0.7"/>
<polygon points="1490.8,612.7 1539.8,617.5 1511.3,600.4" fill="url(#g806)" stroke="url(#g806)" stroke-width="0.7"/>
<polygon points="1490.8,612.7 1519.5,618.6 1539.8,617.5 1511.3,600.4" fill="none" stroke="#6e6e6e" stroke-width="0.8" stroke-opacity="0.55"/>
<polygon points="1519.5,618.6 1548.9,627.6 1539.8,617.5" fill="url(#g807)" stroke="url(#g807)" stroke-width="0.7"/>
<path d="M1536.4 623.7L1539.8 617.5" fill="none" stroke="#444" stroke-width="1.1" stroke-opacity="0.5"/>
<polygon points="1548.9,627.6 1569.1,610.4 1539.8,617.5" fill="url(#g808)" stroke="url(#g808)" stroke-width="0.7"/>
<path d="M1552.9 624.2L1539.8 617.5" fill="none" stroke="#444" stroke-width="1.1" stroke-opacity="0.5"/>
<polygon points="1519.5,618.6 1548.9,627.6 1569.1,610.4 1539.8,617.5" fill="none" stroke="#6e6e6e" stroke-width="0.8" stroke-opacity="0.55"/>
<polygon points="1548.9,627.6 1578.8,671.1 1599.4,605.9" fill="url(#g809)" stroke="url(#g809)" stroke-width="0.7"/>
<path d="M1572.8 662.4L1581.5 662.5M1593.4 625.1L1555.2 624.9" fill="none" stroke="#444" stroke-width="1.1" stroke-opacity="0.5"/>
<polygon points="1548.9,627.6 1599.4,605.9 1569.1,610.4" fill="url(#g810)" stroke="url(#g810)" stroke-width="0.7"/>
<path d="M1555.2 624.9L1552.9 624.2" fill="none" stroke="#444" stroke-width="1.1" stroke-opacity="0.5"/>
<polygon points="1548.9,627.6 1578.8,671.1 1599.4,605.9 1569.1,610.4" fill="none" stroke="#6e6e6e" stroke-width="0.8" stroke-opacity="0.55"/>
<polygon points="1578.8,671.1 1608.9,738.8 1628,746.3" fill="url(#g811)" stroke="url(#g811)" stroke-width="0.7"/>
<path d="M1607.8 736.5L1617.6 730.4M1591.4 699.5L1595.7 696.9" fill="none" stroke="#444" stroke-width="1.1" stroke-opacity="0.5"/>
<polygon points="1578.8,671.1 1628,746.3 1599.4,605.9" fill="url(#g812)" stroke="url(#g812)" stroke-width="0.7"/>
<path d="M1617.6 730.4L1624.6 729.6M1595.7 696.9L1617.4 694.4M1610.3 659.2L1581.5 662.5M1603.1 624L1593.4 625.1" fill="none" stroke="#444" stroke-width="1.1" stroke-opacity="0.5"/>
<polygon points="1578.8,671.1 1608.9,738.8 1628,746.3 1599.4,605.9" fill="none" stroke="#6e6e6e" stroke-width="0.8" stroke-opacity="0.55"/>
<polygon points="1312.8,612.9 1336.9,601.8 1334.4,597" fill="url(#g813)" stroke="url(#g813)" stroke-width="0.7"/>
<path d="M1324.8 607.4L1324.9 604" fill="none" stroke="#444" stroke-width="1.1" stroke-opacity="0.5"/>
<polygon points="1336.9,601.8 1358.7,595.9 1334.4,597" fill="url(#g814)" stroke="url(#g814)" stroke-width="0.7"/>
<polygon points="1312.8,612.9 1336.9,601.8 1358.7,595.9 1334.4,597" fill="none" stroke="#6e6e6e" stroke-width="0.8" stroke-opacity="0.55"/>
<polygon points="1336.9,601.8 1361.9,597.2 1358.7,595.9" fill="url(#g815)" stroke="url(#g815)" stroke-width="0.7"/>
<polygon points="1361.9,597.2 1383.6,590.7 1358.7,595.9" fill="url(#g816)" stroke="url(#g816)" stroke-width="0.7"/>
<polygon points="1336.9,601.8 1361.9,597.2 1383.6,590.7 1358.7,595.9" fill="none" stroke="#6e6e6e" stroke-width="0.8" stroke-opacity="0.55"/>
<polygon points="1361.9,597.2 1387.8,602.7 1409.3,595.9" fill="url(#g817)" stroke="url(#g817)" stroke-width="0.7"/>
<polygon points="1361.9,597.2 1409.3,595.9 1383.6,590.7" fill="url(#g818)" stroke="url(#g818)" stroke-width="0.7"/>
<polygon points="1361.9,597.2 1387.8,602.7 1409.3,595.9 1383.6,590.7" fill="none" stroke="#6e6e6e" stroke-width="0.8" stroke-opacity="0.55"/>
<polygon points="1387.8,602.7 1414.3,608.3 1435.8,601.4" fill="url(#g819)" stroke="url(#g819)" stroke-width="0.7"/>
<polygon points="1387.8,602.7 1435.8,601.4 1409.3,595.9" fill="url(#g820)" stroke="url(#g820)" stroke-width="0.7"/>
<polygon points="1387.8,602.7 1414.3,608.3 1435.8,601.4 1409.3,595.9" fill="none" stroke="#6e6e6e" stroke-width="0.8" stroke-opacity="0.55"/>
<polygon points="1414.3,608.3 1441.6,614 1462.9,606.9" fill="url(#g821)" stroke="url(#g821)" stroke-width="0.7"/>
<polygon points="1414.3,608.3 1462.9,606.9 1435.8,601.4" fill="url(#g822)" stroke="url(#g822)" stroke-width="0.7"/>
<polygon points="1414.3,608.3 1441.6,614 1462.9,606.9 1435.8,601.4" fill="none" stroke="#6e6e6e" stroke-width="0.8" stroke-opacity="0.55"/>
<polygon points="1441.6,614 1469.6,620 1490.8,612.7" fill="url(#g823)" stroke="url(#g823)" stroke-width="0.7"/>
<polygon points="1441.6,614 1490.8,612.7 1462.9,606.9" fill="url(#g824)" stroke="url(#g824)" stroke-width="0.7"/>
<polygon points="1441.6,614 1469.6,620 1490.8,612.7 1462.9,606.9" fill="none" stroke="#6e6e6e" stroke-width="0.8" stroke-opacity="0.55"/>
<polygon points="1469.6,620 1498.5,626 1519.5,618.6" fill="url(#g825)" stroke="url(#g825)" stroke-width="0.7"/>
<polygon points="1469.6,620 1519.5,618.6 1490.8,612.7" fill="url(#g826)" stroke="url(#g826)" stroke-width="0.7"/>
<polygon points="1469.6,620 1498.5,626 1519.5,618.6 1490.8,612.7" fill="none" stroke="#6e6e6e" stroke-width="0.8" stroke-opacity="0.55"/>
<polygon points="1498.5,626 1528,653.3 1548.9,627.6" fill="url(#g827)" stroke="url(#g827)" stroke-width="0.7"/>
<path d="M1499 626.5L1506 626.3" fill="none" stroke="#444" stroke-width="1.1" stroke-opacity="0.5"/>
<polygon points="1498.5,626 1548.9,627.6 1519.5,618.6" fill="url(#g828)" stroke="url(#g828)" stroke-width="0.7"/>
<path d="M1506 626.3L1536.4 623.7" fill="none" stroke="#444" stroke-width="1.1" stroke-opacity="0.5"/>
<polygon points="1498.5,626 1528,653.3 1548.9,627.6 1519.5,618.6" fill="none" stroke="#6e6e6e" stroke-width="0.8" stroke-opacity="0.55"/>
<polygon points="1528,653.3 1558,712.1 1578.8,671.1" fill="url(#g829)" stroke="url(#g829)" stroke-width="0.7"/>
<path d="M1553.3 702.9L1563.1 702.2M1534.3 665.5L1557.8 663.7" fill="none" stroke="#444" stroke-width="1.1" stroke-opacity="0.5"/>
<polygon points="1528,653.3 1578.8,671.1 1548.9,627.6" fill="url(#g830)" stroke="url(#g830)" stroke-width="0.7"/>
<path d="M1557.8 663.7L1572.8 662.4" fill="none" stroke="#444" stroke-width="1.1" stroke-opacity="0.5"/>
<polygon points="1528,653.3 1558,712.1 1578.8,671.1 1548.9,627.6" fill="none" stroke="#6e6e6e" stroke-width="0.8" stroke-opacity="0.55"/>
<polygon points="1558,712.1 1588.3,786 1608.9,738.8" fill="url(#g831)" stroke="url(#g831)" stroke-width="0.7"/>
<path d="M1584.8 777.6L1592.2 776.9M1569.5 740.3L1604.9 736.7" fill="none" stroke="#444" stroke-width="1.1" stroke-opacity="0.5"/>
<polygon points="1558,712.1 1608.9,738.8 1578.8,671.1" fill="url(#g832)" stroke="url(#g832)" stroke-width="0.7"/>
<path d="M1604.9 736.7L1607.8 736.5M1591.4 699.5L1563.1 702.2" fill="none" stroke="#444" stroke-width="1.1" stroke-opacity="0.5"/>
<polygon points="1558,712.1 1588.3,786 1608.9,738.8 1578.8,671.1" fill="none" stroke="#6e6e6e" stroke-width="0.8" stroke-opacity="0.55"/>
<polygon points="1289.4,582.8 1314.4,601.3 1312.8,612.9" fill="url(#g833)" stroke="url(#g833)" stroke-width="0.7"/>
<path d="M1313.4 608.5L1308.1 606.8" fill="none" stroke="#444" stroke-width="1.1" stroke-opacity="0.5"/>
<polygon points="1314.4,601.3 1336.9,601.8 1312.8,612.9" fill="url(#g834)" stroke="url(#g834)" stroke-width="0.7"/>
<path d="M1324.8 607.4L1313.4 608.5" fill="none" stroke="#444" stroke-width="1.1" stroke-opacity="0.5"/>
<polygon points="1289.4,582.8 1314.4,601.3 1336.9,601.8 1312.8,612.9" fill="none" stroke="#6e6e6e" stroke-width="0.8" stroke-opacity="0.55"/>
<polygon points="1314.4,601.3 1339.6,604 1361.9,597.2" fill="url(#g835)" stroke="url(#g835)" stroke-width="0.7"/>
<polygon points="1314.4,601.3 1361.9,597.2 1336.9,601.8" fill="url(#g836)" stroke="url(#g836)" stroke-width="0.7"/>
<polygon points="1314.4,601.3 1339.6,604 1361.9,597.2 1336.9,601.8" fill="none" stroke="#6e6e6e" stroke-width="0.8" stroke-opacity="0.55"/>
<polygon points="1339.6,604 1365.5,609.6 1387.8,602.7" fill="url(#g837)" stroke="url(#g837)" stroke-width="0.7"/>
<polygon points="1339.6,604 1387.8,602.7 1361.9,597.2" fill="url(#g838)" stroke="url(#g838)" stroke-width="0.7"/>
<polygon points="1339.6,604 1365.5,609.6 1387.8,602.7 1361.9,597.2" fill="none" stroke="#6e6e6e" stroke-width="0.8" stroke-opacity="0.55"/>
<polygon points="1365.5,609.6 1392.2,615.4 1414.3,608.3" fill="url(#g839)" stroke="url(#g839)" stroke-width="0.7"/>
<polygon points="1365.5,609.6 1414.3,608.3 1387.8,602.7" fill="url(#g840)" stroke="url(#g840)" stroke-width="0.7"/>
<polygon points="1365.5,609.6 1392.2,615.4 1414.3,608.3 1387.8,602.7" fill="none" stroke="#6e6e6e" stroke-width="0.8" stroke-opacity="0.55"/>
<polygon points="1392.2,615.4 1419.6,621.4 1441.6,614" fill="url(#g841)" stroke="url(#g841)" stroke-width="0.7"/>
<polygon points="1392.2,615.4 1441.6,614 1414.3,608.3" fill="url(#g842)" stroke="url(#g842)" stroke-width="0.7"/>
<polygon points="1392.2,615.4 1419.6,621.4 1441.6,614 1414.3,608.3" fill="none" stroke="#6e6e6e" stroke-width="0.8" stroke-opacity="0.55"/>
<polygon points="1419.6,621.4 1447.8,627.5 1469.6,620" fill="url(#g843)" stroke="url(#g843)" stroke-width="0.7"/>
<polygon points="1419.6,621.4 1469.6,620 1441.6,614" fill="url(#g844)" stroke="url(#g844)" stroke-width="0.7"/>
<polygon points="1419.6,621.4 1447.8,627.5 1469.6,620 1441.6,614" fill="none" stroke="#6e6e6e" stroke-width="0.8" stroke-opacity="0.55"/>
<polygon points="1447.8,627.5 1476.8,633.8 1498.5,626" fill="url(#g845)" stroke="url(#g845)" stroke-width="0.7"/>
<path d="M1452.2 628.4L1495.2 627.2" fill="none" stroke="#444" stroke-width="1.1" stroke-opacity="0.5"/>
<polygon points="1447.8,627.5 1498.5,626 1469.6,620" fill="url(#g846)" stroke="url(#g846)" stroke-width="0.7"/>
<polygon points="1447.8,627.5 1476.8,633.8 1498.5,626 1469.6,620" fill="none" stroke="#6e6e6e" stroke-width="0.8" stroke-opacity="0.55"/>
<polygon points="1476.8,633.8 1506.6,682.8 1528,653.3" fill="url(#g847)" stroke="url(#g847)" stroke-width="0.7"/>
<path d="M1498.2 669L1517.8 667.3" fill="none" stroke="#444" stroke-width="1.1" stroke-opacity="0.5"/>
<polygon points="1476.8,633.8 1528,653.3 1498.5,626" fill="url(#g848)" stroke="url(#g848)" stroke-width="0.7"/>
<path d="M1499 626.5L1495.2 627.2" fill="none" stroke="#444" stroke-width="1.1" stroke-opacity="0.5"/>
<polygon points="1476.8,633.8 1506.6,682.8 1528,653.3 1498.5,626" fill="none" stroke="#6e6e6e" stroke-width="0.8" stroke-opacity="0.55"/>
<polygon points="1506.6,682.8 1536.8,738.2 1558,712.1" fill="url(#g849)" stroke="url(#g849)" stroke-width="0.7"/>
<path d="M1520 707.3L1543.7 704" fill="none" stroke="#444" stroke-width="1.1" stroke-opacity="0.5"/>
<polygon points="1506.6,682.8 1558,712.1 1528,653.3" fill="url(#g850)" stroke="url(#g850)" stroke-width="0.7"/>
<path d="M1543.7 704L1553.3 702.9M1534.3 665.5L1517.8 667.3" fill="none" stroke="#444" stroke-width="1.1" stroke-opacity="0.5"/>
<polygon points="1506.6,682.8 1536.8,738.2 1558,712.1 1528,653.3" fill="none" stroke="#6e6e6e" stroke-width="0.8" stroke-opacity="0.55"/>
<polygon points="1536.8,738.2 1567.7,786 1588.3,786" fill="url(#g851)" stroke="url(#g851)" stroke-width="0.7"/>
<path d="M1567.5 785.6L1580.1 778.4M1541.8 745.9L1543.9 744.7" fill="none" stroke="#444" stroke-width="1.1" stroke-opacity="0.5"/>
<polygon points="1536.8,738.2 1588.3,786 1558,712.1" fill="url(#g852)" stroke="url(#g852)" stroke-width="0.7"/>
<path d="M1580.1 778.4L1584.8 777.6M1543.9 744.7L1569.5 740.3" fill="none" stroke="#444" stroke-width="1.1" stroke-opacity="0.5"/>
<polygon points="1536.8,738.2 1567.7,786 1588.3,786 1558,712.1" fill="none" stroke="#6e6e6e" stroke-width="0.8" stroke-opacity="0.55"/>
<polygon points="1267.2,621.7 1291.5,616.6 1314.4,601.3" fill="url(#g853)" stroke="url(#g853)" stroke-width="0.7"/>
<path d="M1290.3 616.9L1285.9 613.6" fill="none" stroke="#444" stroke-width="1.1" stroke-opacity="0.5"/>
<polygon points="1267.2,621.7 1314.4,601.3 1289.4,582.8" fill="url(#g854)" stroke="url(#g854)" stroke-width="0.7"/>
<path d="M1285.9 613.6L1272 613.3" fill="none" stroke="#444" stroke-width="1.1" stroke-opacity="0.5"/>
<polygon points="1267.2,621.7 1291.5,616.6 1314.4,601.3 1289.4,582.8" fill="none" stroke="#6e6e6e" stroke-width="0.8" stroke-opacity="0.55"/>
<polygon points="1291.5,616.6 1316.7,619.5 1314.4,601.3" fill="url(#g855)" stroke="url(#g855)" stroke-width="0.7"/>
<polygon points="1316.7,619.5 1339.6,604 1314.4,601.3" fill="url(#g856)" stroke="url(#g856)" stroke-width="0.7"/>
<polygon points="1291.5,616.6 1316.7,619.5 1339.6,604 1314.4,601.3" fill="none" stroke="#6e6e6e" stroke-width="0.8" stroke-opacity="0.55"/>
<polygon points="1316.7,619.5 1342.8,625.5 1365.5,609.6" fill="url(#g857)" stroke="url(#g857)" stroke-width="0.7"/>
<path d="M1320.6 620.4L1347.6 622.1" fill="none" stroke="#444" stroke-width="1.1" stroke-opacity="0.5"/>
<polygon points="1316.7,619.5 1365.5,609.6 1339.6,604" fill="url(#g858)" stroke="url(#g858)" stroke-width="0.7"/>
<polygon points="1316.7,619.5 1342.8,625.5 1365.5,609.6 1339.6,604" fill="none" stroke="#6e6e6e" stroke-width="0.8" stroke-opacity="0.55"/>
<polygon points="1342.8,625.5 1369.5,631.6 1392.2,615.4" fill="url(#g859)" stroke="url(#g859)" stroke-width="0.7"/>
<path d="M1380 624.1L1356.8 622.6" fill="none" stroke="#444" stroke-width="1.1" stroke-opacity="0.5"/>
<polygon points="1342.8,625.5 1392.2,615.4 1365.5,609.6" fill="url(#g860)" stroke="url(#g860)" stroke-width="0.7"/>
<path d="M1356.8 622.6L1347.6 622.1" fill="none" stroke="#444" stroke-width="1.1" stroke-opacity="0.5"/>
<polygon points="1342.8,625.5 1369.5,631.6 1392.2,615.4 1365.5,609.6" fill="none" stroke="#6e6e6e" stroke-width="0.8" stroke-opacity="0.55"/>
<polygon points="1369.5,631.6 1397,637.8 1419.6,621.4" fill="url(#g861)" stroke="url(#g861)" stroke-width="0.7"/>
<path d="M1413.1 626.1L1400.4 625.3" fill="none" stroke="#444" stroke-width="1.1" stroke-opacity="0.5"/>
<polygon points="1369.5,631.6 1419.6,621.4 1392.2,615.4" fill="url(#g862)" stroke="url(#g862)" stroke-width="0.7"/>
<path d="M1400.4 625.3L1380 624.1" fill="none" stroke="#444" stroke-width="1.1" stroke-opacity="0.5"/>
<polygon points="1369.5,631.6 1397,637.8 1419.6,621.4 1392.2,615.4" fill="none" stroke="#6e6e6e" stroke-width="0.8" stroke-opacity="0.55"/>
<polygon points="1397,637.8 1425.3,644.3 1447.8,627.5" fill="url(#g863)" stroke="url(#g863)" stroke-width="0.7"/>
<path d="M1447 628.1L1445.3 628" fill="none" stroke="#444" stroke-width="1.1" stroke-opacity="0.5"/>
<polygon points="1397,637.8 1447.8,627.5 1419.6,621.4" fill="url(#g864)" stroke="url(#g864)" stroke-width="0.7"/>
<path d="M1445.3 628L1413.1 626.1" fill="none" stroke="#444" stroke-width="1.1" stroke-opacity="0.5"/>
<polygon points="1397,637.8 1425.3,644.3 1447.8,627.5 1419.6,621.4" fill="none" stroke="#6e6e6e" stroke-width="0.8" stroke-opacity="0.55"/>
<polygon points="1425.3,644.3 1454.6,678.8 1476.8,633.8" fill="url(#g865)" stroke="url(#g865)" stroke-width="0.7"/>
<path d="M1447.8 670.8L1458.6 670.7" fill="none" stroke="#444" stroke-width="1.1" stroke-opacity="0.5"/>
<polygon points="1425.3,644.3 1476.8,633.8 1447.8,627.5" fill="url(#g866)" stroke="url(#g866)" stroke-width="0.7"/>
<path d="M1452.2 628.4L1447 628.1" fill="none" stroke="#444" stroke-width="1.1" stroke-opacity="0.5"/>
<polygon points="1425.3,644.3 1454.6,678.8 1476.8,633.8 1447.8,627.5" fill="none" stroke="#6e6e6e" stroke-width="0.8" stroke-opacity="0.55"/>
<polygon points="1454.6,678.8 1484.5,722.4 1506.6,682.8" fill="url(#g867)" stroke="url(#g867)" stroke-width="0.7"/>
<path d="M1476.1 710.2L1491.7 709.5" fill="none" stroke="#444" stroke-width="1.1" stroke-opacity="0.5"/>
<polygon points="1454.6,678.8 1506.6,682.8 1476.8,633.8" fill="url(#g868)" stroke="url(#g868)" stroke-width="0.7"/>
<path d="M1498.2 669L1458.6 670.7" fill="none" stroke="#444" stroke-width="1.1" stroke-opacity="0.5"/>
<polygon points="1454.6,678.8 1484.5,722.4 1506.6,682.8 1476.8,633.8" fill="none" stroke="#6e6e6e" stroke-width="0.8" stroke-opacity="0.55"/>
<polygon points="1484.5,722.4 1515,771.9 1536.8,738.2" fill="url(#g869)" stroke="url(#g869)" stroke-width="0.7"/>
<path d="M1501.4 749.8L1531.2 746.9" fill="none" stroke="#444" stroke-width="1.1" stroke-opacity="0.5"/>
<polygon points="1484.5,722.4 1536.8,738.2 1506.6,682.8" fill="url(#g870)" stroke="url(#g870)" stroke-width="0.7"/>
<path d="M1520 707.3L1491.7 709.5" fill="none" stroke="#444" stroke-width="1.1" stroke-opacity="0.5"/>
<polygon points="1484.5,722.4 1515,771.9 1536.8,738.2 1506.6,682.8" fill="none" stroke="#6e6e6e" stroke-width="0.8" stroke-opacity="0.55"/>
<polygon points="1515,771.9 1546,826 1567.7,786" fill="url(#g871)" stroke="url(#g871)" stroke-width="0.7"/>
<path d="M1525.1 789.6L1566.6 785.7" fill="none" stroke="#444" stroke-width="1.1" stroke-opacity="0.5"/>
<polygon points="1515,771.9 1567.7,786 1536.8,738.2" fill="url(#g872)" stroke="url(#g872)" stroke-width="0.7"/>
<path d="M1566.6 785.7L1567.5 785.6M1541.8 745.9L1531.2 746.9" fill="none" stroke="#444" stroke-width="1.1" stroke-opacity="0.5"/>
<polygon points="1515,771.9 1546,826 1567.7,786 1536.8,738.2" fill="none" stroke="#6e6e6e" stroke-width="0.8" stroke-opacity="0.55"/>
<polygon points="1242.6,607.9 1267.7,623.9 1267.2,621.7" fill="url(#g873)" stroke="url(#g873)" stroke-width="0.7"/>
<path d="M1262.7 620.8L1256.8 615.9" fill="none" stroke="#444" stroke-width="1.1" stroke-opacity="0.5"/>
<polygon points="1267.7,623.9 1291.5,616.6 1267.2,621.7" fill="url(#g874)" stroke="url(#g874)" stroke-width="0.7"/>
<path d="M1288.3 617.6L1290.3 616.9" fill="none" stroke="#444" stroke-width="1.1" stroke-opacity="0.5"/>
<polygon points="1242.6,607.9 1267.7,623.9 1291.5,616.6 1267.2,621.7" fill="none" stroke="#6e6e6e" stroke-width="0.8" stroke-opacity="0.55"/>
<polygon points="1267.7,623.9 1293.2,632.7 1316.7,619.5" fill="url(#g875)" stroke="url(#g875)" stroke-width="0.7"/>
<path d="M1315.6 620.2L1309.8 620.2" fill="none" stroke="#444" stroke-width="1.1" stroke-opacity="0.5"/>
<polygon points="1267.7,623.9 1316.7,619.5 1291.5,616.6" fill="url(#g876)" stroke="url(#g876)" stroke-width="0.7"/>
<path d="M1309.8 620.2L1288.3 617.6" fill="none" stroke="#444" stroke-width="1.1" stroke-opacity="0.5"/>
<polygon points="1267.7,623.9 1293.2,632.7 1316.7,619.5 1291.5,616.6" fill="none" stroke="#6e6e6e" stroke-width="0.8" stroke-opacity="0.55"/>
<polygon points="1293.2,632.7 1319.3,640.3 1342.8,625.5" fill="url(#g877)" stroke="url(#g877)" stroke-width="0.7"/>
<polygon points="1293.2,632.7 1342.8,625.5 1316.7,619.5" fill="url(#g878)" stroke="url(#g878)" stroke-width="0.7"/>
<path d="M1320.6 620.4L1315.6 620.2" fill="none" stroke="#444" stroke-width="1.1" stroke-opacity="0.5"/>
<polygon points="1293.2,632.7 1319.3,640.3 1342.8,625.5 1316.7,619.5" fill="none" stroke="#6e6e6e" stroke-width="0.8" stroke-opacity="0.55"/>
<polygon points="1319.3,640.3 1346.1,648.2 1369.5,631.6" fill="url(#g879)" stroke="url(#g879)" stroke-width="0.7"/>
<polygon points="1319.3,640.3 1369.5,631.6 1342.8,625.5" fill="url(#g880)" stroke="url(#g880)" stroke-width="0.7"/>
<polygon points="1319.3,640.3 1346.1,648.2 1369.5,631.6 1342.8,625.5" fill="none" stroke="#6e6e6e" stroke-width="0.8" stroke-opacity="0.55"/>
<polygon points="1346.1,648.2 1373.8,656.3 1397,637.8" fill="url(#g881)" stroke="url(#g881)" stroke-width="0.7"/>
<polygon points="1346.1,648.2 1397,637.8 1369.5,631.6" fill="url(#g882)" stroke="url(#g882)" stroke-width="0.7"/>
<polygon points="1346.1,648.2 1373.8,656.3 1397,637.8 1369.5,631.6" fill="none" stroke="#6e6e6e" stroke-width="0.8" stroke-opacity="0.55"/>
<polygon points="1373.8,656.3 1402.4,680.4 1425.3,644.3" fill="url(#g883)" stroke="url(#g883)" stroke-width="0.7"/>
<path d="M1392.3 671.9L1407.7 672" fill="none" stroke="#444" stroke-width="1.1" stroke-opacity="0.5"/>
<polygon points="1373.8,656.3 1425.3,644.3 1397,637.8" fill="url(#g884)" stroke="url(#g884)" stroke-width="0.7"/>
<polygon points="1373.8,656.3 1402.4,680.4 1425.3,644.3 1397,637.8" fill="none" stroke="#6e6e6e" stroke-width="0.8" stroke-opacity="0.55"/>
<polygon points="1402.4,680.4 1431.8,714.9 1454.6,678.8" fill="url(#g885)" stroke="url(#g885)" stroke-width="0.7"/>
<path d="M1430 712.8L1433.1 712.7" fill="none" stroke="#444" stroke-width="1.1" stroke-opacity="0.5"/>
<polygon points="1402.4,680.4 1454.6,678.8 1425.3,644.3" fill="url(#g886)" stroke="url(#g886)" stroke-width="0.7"/>
<path d="M1447.8 670.8L1407.7 672" fill="none" stroke="#444" stroke-width="1.1" stroke-opacity="0.5"/>
<polygon points="1402.4,680.4 1431.8,714.9 1454.6,678.8 1425.3,644.3" fill="none" stroke="#6e6e6e" stroke-width="0.8" stroke-opacity="0.55"/>
<polygon points="1431.8,714.9 1461.8,756.1 1484.5,722.4" fill="url(#g887)" stroke="url(#g887)" stroke-width="0.7"/>
<path d="M1459.9 753.5L1463.7 753.2" fill="none" stroke="#444" stroke-width="1.1" stroke-opacity="0.5"/>
<polygon points="1431.8,714.9 1484.5,722.4 1454.6,678.8" fill="url(#g888)" stroke="url(#g888)" stroke-width="0.7"/>
<path d="M1476.1 710.2L1433.1 712.7" fill="none" stroke="#444" stroke-width="1.1" stroke-opacity="0.5"/>
<polygon points="1431.8,714.9 1461.8,756.1 1484.5,722.4 1454.6,678.8" fill="none" stroke="#6e6e6e" stroke-width="0.8" stroke-opacity="0.55"/>
<polygon points="1461.8,756.1 1492.5,800.9 1515,771.9" fill="url(#g889)" stroke="url(#g889)" stroke-width="0.7"/>
<path d="M1488.2 794.6L1498.3 793.4" fill="none" stroke="#444" stroke-width="1.1" stroke-opacity="0.5"/>
<polygon points="1461.8,756.1 1515,771.9 1484.5,722.4" fill="url(#g890)" stroke="url(#g890)" stroke-width="0.7"/>
<path d="M1501.4 749.8L1463.7 753.2" fill="none" stroke="#444" stroke-width="1.1" stroke-opacity="0.5"/>
<polygon points="1461.8,756.1 1492.5,800.9 1515,771.9 1484.5,722.4" fill="none" stroke="#6e6e6e" stroke-width="0.8" stroke-opacity="0.55"/>
<polygon points="1492.5,800.9 1523.9,846 1546,826" fill="url(#g891)" stroke="url(#g891)" stroke-width="0.7"/>
<path d="M1517.2 836.4L1539.8 831.6" fill="none" stroke="#444" stroke-width="1.1" stroke-opacity="0.5"/>
<polygon points="1492.5,800.9 1546,826 1515,771.9" fill="url(#g892)" stroke="url(#g892)" stroke-width="0.7"/>
<path d="M1525.1 789.6L1498.3 793.4" fill="none" stroke="#444" stroke-width="1.1" stroke-opacity="0.5"/>
<polygon points="1492.5,800.9 1523.9,846 1546,826 1515,771.9" fill="none" stroke="#6e6e6e" stroke-width="0.8" stroke-opacity="0.55"/>
<polygon points="1219,643 1243.4,638.6 1267.7,623.9" fill="url(#g893)" stroke="url(#g893)" stroke-width="0.7"/>
<polygon points="1219,643 1267.7,623.9 1242.6,607.9" fill="url(#g894)" stroke="url(#g894)" stroke-width="0.7"/>
<path d="M1262.7 620.8L1234.5 619.9" fill="none" stroke="#444" stroke-width="1.1" stroke-opacity="0.5"/>
<polygon points="1219,643 1243.4,638.6 1267.7,623.9 1242.6,607.9" fill="none" stroke="#6e6e6e" stroke-width="0.8" stroke-opacity="0.55"/>
<polygon points="1243.4,638.6 1268.6,639.6 1293.2,632.7" fill="url(#g895)" stroke="url(#g895)" stroke-width="0.7"/>
<polygon points="1243.4,638.6 1293.2,632.7 1267.7,623.9" fill="url(#g896)" stroke="url(#g896)" stroke-width="0.7"/>
<polygon points="1243.4,638.6 1268.6,639.6 1293.2,632.7 1267.7,623.9" fill="none" stroke="#6e6e6e" stroke-width="0.8" stroke-opacity="0.55"/>
<polygon points="1268.6,639.6 1294.7,641.4 1293.2,632.7" fill="url(#g897)" stroke="url(#g897)" stroke-width="0.7"/>
<polygon points="1294.7,641.4 1319.3,640.3 1293.2,632.7" fill="url(#g898)" stroke="url(#g898)" stroke-width="0.7"/>
<polygon points="1268.6,639.6 1294.7,641.4 1319.3,640.3 1293.2,632.7" fill="none" stroke="#6e6e6e" stroke-width="0.8" stroke-opacity="0.55"/>
<polygon points="1294.7,641.4 1321.6,644.3 1319.3,640.3" fill="url(#g899)" stroke="url(#g899)" stroke-width="0.7"/>
<polygon points="1321.6,644.3 1346.1,648.2 1319.3,640.3" fill="url(#g900)" stroke="url(#g900)" stroke-width="0.7"/>
<polygon points="1294.7,641.4 1321.6,644.3 1346.1,648.2 1319.3,640.3" fill="none" stroke="#6e6e6e" stroke-width="0.8" stroke-opacity="0.55"/>
<polygon points="1321.6,644.3 1349.7,671.9 1373.8,656.3" fill="url(#g901)" stroke="url(#g901)" stroke-width="0.7"/>
<polygon points="1321.6,644.3 1373.8,656.3 1346.1,648.2" fill="url(#g902)" stroke="url(#g902)" stroke-width="0.7"/>
<polygon points="1321.6,644.3 1349.7,671.9 1373.8,656.3 1346.1,648.2" fill="none" stroke="#6e6e6e" stroke-width="0.8" stroke-opacity="0.55"/>
<polygon points="1349.7,671.9 1378.6,705.9 1402.4,680.4" fill="url(#g903)" stroke="url(#g903)" stroke-width="0.7"/>
<path d="M1352.5 675.2L1364.9 674.3" fill="none" stroke="#444" stroke-width="1.1" stroke-opacity="0.5"/>
<polygon points="1349.7,671.9 1402.4,680.4 1373.8,656.3" fill="url(#g904)" stroke="url(#g904)" stroke-width="0.7"/>
<path d="M1364.9 674.3L1392.3 671.9" fill="none" stroke="#444" stroke-width="1.1" stroke-opacity="0.5"/>
<polygon points="1349.7,671.9 1378.6,705.9 1402.4,680.4 1373.8,656.3" fill="none" stroke="#6e6e6e" stroke-width="0.8" stroke-opacity="0.55"/>
<polygon points="1378.6,705.9 1408.2,744.3 1431.8,714.9" fill="url(#g905)" stroke="url(#g905)" stroke-width="0.7"/>
<path d="M1386.5 716.1L1422.7 713.4" fill="none" stroke="#444" stroke-width="1.1" stroke-opacity="0.5"/>
<polygon points="1378.6,705.9 1431.8,714.9 1402.4,680.4" fill="url(#g906)" stroke="url(#g906)" stroke-width="0.7"/>
<path d="M1422.7 713.4L1430 712.8" fill="none" stroke="#444" stroke-width="1.1" stroke-opacity="0.5"/>
<polygon points="1378.6,705.9 1408.2,744.3 1431.8,714.9 1402.4,680.4" fill="none" stroke="#6e6e6e" stroke-width="0.8" stroke-opacity="0.55"/>
<polygon points="1408.2,744.3 1438.5,786.1 1461.8,756.1" fill="url(#g907)" stroke="url(#g907)" stroke-width="0.7"/>
<path d="M1417.7 757.4L1452.8 754.1" fill="none" stroke="#444" stroke-width="1.1" stroke-opacity="0.5"/>
<polygon points="1408.2,744.3 1461.8,756.1 1431.8,714.9" fill="url(#g908)" stroke="url(#g908)" stroke-width="0.7"/>
<path d="M1452.8 754.1L1459.9 753.5" fill="none" stroke="#444" stroke-width="1.1" stroke-opacity="0.5"/>
<polygon points="1408.2,744.3 1438.5,786.1 1461.8,756.1 1431.8,714.9" fill="none" stroke="#6e6e6e" stroke-width="0.8" stroke-opacity="0.55"/>
<polygon points="1438.5,786.1 1469.4,829.5 1492.5,800.9" fill="url(#g909)" stroke="url(#g909)" stroke-width="0.7"/>
<path d="M1447.8 799.2L1474.6 796" fill="none" stroke="#444" stroke-width="1.1" stroke-opacity="0.5"/>
<polygon points="1438.5,786.1 1492.5,800.9 1461.8,756.1" fill="url(#g910)" stroke="url(#g910)" stroke-width="0.7"/>
<path d="M1474.6 796L1488.2 794.6" fill="none" stroke="#444" stroke-width="1.1" stroke-opacity="0.5"/>
<polygon points="1438.5,786.1 1469.4,829.5 1492.5,800.9 1461.8,756.1" fill="none" stroke="#6e6e6e" stroke-width="0.8" stroke-opacity="0.55"/>
<polygon points="1469.4,829.5 1501,870.6 1523.9,846" fill="url(#g911)" stroke="url(#g911)" stroke-width="0.7"/>
<path d="M1479 842L1499.7 838.7" fill="none" stroke="#444" stroke-width="1.1" stroke-opacity="0.5"/>
<polygon points="1469.4,829.5 1523.9,846 1492.5,800.9" fill="url(#g912)" stroke="url(#g912)" stroke-width="0.7"/>
<path d="M1499.7 838.7L1517.2 836.4" fill="none" stroke="#444" stroke-width="1.1" stroke-opacity="0.5"/>
<polygon points="1469.4,829.5 1501,870.6 1523.9,846 1492.5,800.9" fill="none" stroke="#6e6e6e" stroke-width="0.8" stroke-opacity="0.55"/>
<polygon points="1193.7,652 1218.1,647.8 1219,643" fill="url(#g913)" stroke="url(#g913)" stroke-width="0.7"/>
<polygon points="1218.1,647.8 1243.4,638.6 1219,643" fill="url(#g914)" stroke="url(#g914)" stroke-width="0.7"/>
<polygon points="1193.7,652 1218.1,647.8 1243.4,638.6 1219,643" fill="none" stroke="#6e6e6e" stroke-width="0.8" stroke-opacity="0.55"/>
<polygon points="1218.1,647.8 1243.3,645.8 1243.4,638.6" fill="url(#g915)" stroke="url(#g915)" stroke-width="0.7"/>
<polygon points="1243.3,645.8 1268.6,639.6 1243.4,638.6" fill="url(#g916)" stroke="url(#g916)" stroke-width="0.7"/>
<polygon points="1218.1,647.8 1243.3,645.8 1268.6,639.6 1243.4,638.6" fill="none" stroke="#6e6e6e" stroke-width="0.8" stroke-opacity="0.55"/>
<polygon points="1243.3,645.8 1269.2,641.5 1294.7,641.4" fill="url(#g917)" stroke="url(#g917)" stroke-width="0.7"/>
<polygon points="1243.3,645.8 1294.7,641.4 1268.6,639.6" fill="url(#g918)" stroke="url(#g918)" stroke-width="0.7"/>
<polygon points="1243.3,645.8 1269.2,641.5 1294.7,641.4 1268.6,639.6" fill="none" stroke="#6e6e6e" stroke-width="0.8" stroke-opacity="0.55"/>
<polygon points="1269.2,641.5 1295.4,615.5 1321.6,644.3" fill="url(#g919)" stroke="url(#g919)" stroke-width="0.7"/>
<path d="M1273.2 637.6L1314.8 636.8" fill="none" stroke="#444" stroke-width="1.1" stroke-opacity="0.5"/>
<polygon points="1269.2,641.5 1321.6,644.3 1294.7,641.4" fill="url(#g920)" stroke="url(#g920)" stroke-width="0.7"/>
<polygon points="1269.2,641.5 1295.4,615.5 1321.6,644.3 1294.7,641.4" fill="none" stroke="#6e6e6e" stroke-width="0.8" stroke-opacity="0.55"/>
<polygon points="1295.4,615.5 1324.7,681 1321.6,644.3" fill="url(#g921)" stroke="url(#g921)" stroke-width="0.7"/>
<path d="M1324.5 680.5L1324.7 680.4M1307.3 642.2L1314.8 636.8" fill="none" stroke="#444" stroke-width="1.1" stroke-opacity="0.5"/>
<polygon points="1324.7,681 1349.7,671.9 1321.6,644.3" fill="url(#g922)" stroke="url(#g922)" stroke-width="0.7"/>
<path d="M1328.3 679.7L1324.7 680.4" fill="none" stroke="#444" stroke-width="1.1" stroke-opacity="0.5"/>
<polygon points="1295.4,615.5 1324.7,681 1349.7,671.9 1321.6,644.3" fill="none" stroke="#6e6e6e" stroke-width="0.8" stroke-opacity="0.55"/>
<polygon points="1324.7,681 1354.1,727 1378.6,705.9" fill="url(#g923)" stroke="url(#g923)" stroke-width="0.7"/>
<path d="M1350 720.6L1363.6 718.8" fill="none" stroke="#444" stroke-width="1.1" stroke-opacity="0.5"/>
<polygon points="1324.7,681 1378.6,705.9 1349.7,671.9" fill="url(#g924)" stroke="url(#g924)" stroke-width="0.7"/>
<path d="M1352.5 675.2L1328.3 679.7" fill="none" stroke="#444" stroke-width="1.1" stroke-opacity="0.5"/>
<polygon points="1324.7,681 1354.1,727 1378.6,705.9 1349.7,671.9" fill="none" stroke="#6e6e6e" stroke-width="0.8" stroke-opacity="0.55"/>
<polygon points="1354.1,727 1383.9,770.4 1408.2,744.3" fill="url(#g925)" stroke="url(#g925)" stroke-width="0.7"/>
<path d="M1378.1 761.9L1393.5 760.1" fill="none" stroke="#444" stroke-width="1.1" stroke-opacity="0.5"/>
<polygon points="1354.1,727 1408.2,744.3 1378.6,705.9" fill="url(#g926)" stroke="url(#g926)" stroke-width="0.7"/>
<path d="M1386.5 716.1L1363.6 718.8" fill="none" stroke="#444" stroke-width="1.1" stroke-opacity="0.5"/>
<polygon points="1354.1,727 1383.9,770.4 1408.2,744.3 1378.6,705.9" fill="none" stroke="#6e6e6e" stroke-width="0.8" stroke-opacity="0.55"/>
<polygon points="1383.9,770.4 1414.4,814.6 1438.5,786.1" fill="url(#g927)" stroke="url(#g927)" stroke-width="0.7"/>
<path d="M1407.1 804L1425.2 801.8" fill="none" stroke="#444" stroke-width="1.1" stroke-opacity="0.5"/>
<polygon points="1383.9,770.4 1438.5,786.1 1408.2,744.3" fill="url(#g928)" stroke="url(#g928)" stroke-width="0.7"/>
<path d="M1417.7 757.4L1393.5 760.1" fill="none" stroke="#444" stroke-width="1.1" stroke-opacity="0.5"/>
<polygon points="1383.9,770.4 1414.4,814.6 1438.5,786.1 1408.2,744.3" fill="none" stroke="#6e6e6e" stroke-width="0.8" stroke-opacity="0.55"/>
<polygon points="1414.4,814.6 1445.6,860.4 1469.4,829.5" fill="url(#g929)" stroke="url(#g929)" stroke-width="0.7"/>
<path d="M1436.4 846.9L1458.1 844.2" fill="none" stroke="#444" stroke-width="1.1" stroke-opacity="0.5"/>
<polygon points="1414.4,814.6 1469.4,829.5 1438.5,786.1" fill="url(#g930)" stroke="url(#g930)" stroke-width="0.7"/>
<path d="M1447.8 799.2L1425.2 801.8" fill="none" stroke="#444" stroke-width="1.1" stroke-opacity="0.5"/>
<polygon points="1414.4,814.6 1445.6,860.4 1469.4,829.5 1438.5,786.1" fill="none" stroke="#6e6e6e" stroke-width="0.8" stroke-opacity="0.55"/>
<polygon points="1445.6,860.4 1477.4,908 1501,870.6" fill="url(#g931)" stroke="url(#g931)" stroke-width="0.7"/>
<path d="M1465.7 890.5L1490 888" fill="none" stroke="#444" stroke-width="1.1" stroke-opacity="0.5"/>
<polygon points="1445.6,860.4 1501,870.6 1469.4,829.5" fill="url(#g932)" stroke="url(#g932)" stroke-width="0.7"/>
<path d="M1479 842L1458.1 844.2" fill="none" stroke="#444" stroke-width="1.1" stroke-opacity="0.5"/>
<polygon points="1445.6,860.4 1477.4,908 1501,870.6 1469.4,829.5" fill="none" stroke="#6e6e6e" stroke-width="0.8" stroke-opacity="0.55"/>
<polygon points="1167.1,648.6 1191.9,654.8 1218.1,647.8" fill="url(#g933)" stroke="url(#g933)" stroke-width="0.7"/>
<polygon points="1167.1,648.6 1218.1,647.8 1193.7,652" fill="url(#g934)" stroke="url(#g934)" stroke-width="0.7"/>
<polygon points="1167.1,648.6 1191.9,654.8 1218.1,647.8 1193.7,652" fill="none" stroke="#6e6e6e" stroke-width="0.8" stroke-opacity="0.55"/>
<polygon points="1191.9,654.8 1217.2,654.4 1218.1,647.8" fill="url(#g935)" stroke="url(#g935)" stroke-width="0.7"/>
<polygon points="1217.2,654.4 1243.3,645.8 1218.1,647.8" fill="url(#g936)" stroke="url(#g936)" stroke-width="0.7"/>
<polygon points="1191.9,654.8 1217.2,654.4 1243.3,645.8 1218.1,647.8" fill="none" stroke="#6e6e6e" stroke-width="0.8" stroke-opacity="0.55"/>
<polygon points="1217.2,654.4 1243.5,663.4 1243.3,645.8" fill="url(#g937)" stroke="url(#g937)" stroke-width="0.7"/>
<polygon points="1243.5,663.4 1269.2,641.5 1243.3,645.8" fill="url(#g938)" stroke="url(#g938)" stroke-width="0.7"/>
<polygon points="1217.2,654.4 1243.5,663.4 1269.2,641.5 1243.3,645.8" fill="none" stroke="#6e6e6e" stroke-width="0.8" stroke-opacity="0.55"/>
<polygon points="1243.5,663.4 1270.7,673.3 1269.2,641.5" fill="url(#g939)" stroke="url(#g939)" stroke-width="0.7"/>
<polygon points="1270.7,673.3 1295.4,615.5 1269.2,641.5" fill="url(#g940)" stroke="url(#g940)" stroke-width="0.7"/>
<path d="M1283.6 643.2L1273.2 637.6" fill="none" stroke="#444" stroke-width="1.1" stroke-opacity="0.5"/>
<polygon points="1243.5,663.4 1270.7,673.3 1295.4,615.5 1269.2,641.5" fill="none" stroke="#6e6e6e" stroke-width="0.8" stroke-opacity="0.55"/>
<polygon points="1270.7,673.3 1299.4,709.7 1324.7,681" fill="url(#g941)" stroke="url(#g941)" stroke-width="0.7"/>
<path d="M1278.7 683.4L1321.8 680.6" fill="none" stroke="#444" stroke-width="1.1" stroke-opacity="0.5"/>
<polygon points="1270.7,673.3 1324.7,681 1295.4,615.5" fill="url(#g942)" stroke="url(#g942)" stroke-width="0.7"/>
<path d="M1321.8 680.6L1324.5 680.5M1307.3 642.2L1283.6 643.2" fill="none" stroke="#444" stroke-width="1.1" stroke-opacity="0.5"/>
<polygon points="1270.7,673.3 1299.4,709.7 1324.7,681 1295.4,615.5" fill="none" stroke="#6e6e6e" stroke-width="0.8" stroke-opacity="0.55"/>
<polygon points="1299.4,709.7 1328.8,750.9 1354.1,727" fill="url(#g943)" stroke="url(#g943)" stroke-width="0.7"/>
<path d="M1310.3 725L1337.5 721.8" fill="none" stroke="#444" stroke-width="1.1" stroke-opacity="0.5"/>
<polygon points="1299.4,709.7 1354.1,727 1324.7,681" fill="url(#g944)" stroke="url(#g944)" stroke-width="0.7"/>
<path d="M1337.5 721.8L1350 720.6" fill="none" stroke="#444" stroke-width="1.1" stroke-opacity="0.5"/>
<polygon points="1299.4,709.7 1328.8,750.9 1354.1,727 1324.7,681" fill="none" stroke="#6e6e6e" stroke-width="0.8" stroke-opacity="0.55"/>
<polygon points="1328.8,750.9 1358.8,795.5 1383.9,770.4" fill="url(#g945)" stroke="url(#g945)" stroke-width="0.7"/>
<path d="M1339.6 766.9L1364.6 763.5" fill="none" stroke="#444" stroke-width="1.1" stroke-opacity="0.5"/>
<polygon points="1328.8,750.9 1383.9,770.4 1354.1,727" fill="url(#g946)" stroke="url(#g946)" stroke-width="0.7"/>
<path d="M1364.6 763.5L1378.1 761.9" fill="none" stroke="#444" stroke-width="1.1" stroke-opacity="0.5"/>
<polygon points="1328.8,750.9 1358.8,795.5 1383.9,770.4 1354.1,727" fill="none" stroke="#6e6e6e" stroke-width="0.8" stroke-opacity="0.55"/>
<polygon points="1358.8,795.5 1389.6,841.6 1414.4,814.6" fill="url(#g947)" stroke="url(#g947)" stroke-width="0.7"/>
<path d="M1368.1 809.4L1390.1 806.2" fill="none" stroke="#444" stroke-width="1.1" stroke-opacity="0.5"/>
<polygon points="1358.8,795.5 1414.4,814.6 1383.9,770.4" fill="url(#g948)" stroke="url(#g948)" stroke-width="0.7"/>
<path d="M1390.1 806.2L1407.1 804" fill="none" stroke="#444" stroke-width="1.1" stroke-opacity="0.5"/>
<polygon points="1358.8,795.5 1389.6,841.6 1414.4,814.6 1383.9,770.4" fill="none" stroke="#6e6e6e" stroke-width="0.8" stroke-opacity="0.55"/>
<polygon points="1389.6,841.6 1421,889.4 1445.6,860.4" fill="url(#g949)" stroke="url(#g949)" stroke-width="0.7"/>
<path d="M1396.8 852.7L1414.5 850" fill="none" stroke="#444" stroke-width="1.1" stroke-opacity="0.5"/>
<polygon points="1389.6,841.6 1445.6,860.4 1414.4,814.6" fill="url(#g950)" stroke="url(#g950)" stroke-width="0.7"/>
<path d="M1414.5 850L1436.4 846.9" fill="none" stroke="#444" stroke-width="1.1" stroke-opacity="0.5"/>
<polygon points="1389.6,841.6 1421,889.4 1445.6,860.4 1414.4,814.6" fill="none" stroke="#6e6e6e" stroke-width="0.8" stroke-opacity="0.55"/>
<polygon points="1421,889.4 1453,937.6 1477.4,908" fill="url(#g951)" stroke="url(#g951)" stroke-width="0.7"/>
<path d="M1425.8 896.7L1437.3 894.8" fill="none" stroke="#444" stroke-width="1.1" stroke-opacity="0.5"/>
<polygon points="1421,889.4 1477.4,908 1445.6,860.4" fill="url(#g952)" stroke="url(#g952)" stroke-width="0.7"/>
<path d="M1437.3 894.8L1465.7 890.5" fill="none" stroke="#444" stroke-width="1.1" stroke-opacity="0.5"/>
<polygon points="1421,889.4 1453,937.6 1477.4,908 1445.6,860.4" fill="none" stroke="#6e6e6e" stroke-width="0.8" stroke-opacity="0.55"/>
<polygon points="1140.1,657.7 1165.1,668.2 1191.9,654.8" fill="url(#g953)" stroke="url(#g953)" stroke-width="0.7"/>
<polygon points="1140.1,657.7 1191.9,654.8 1167.1,648.6" fill="url(#g954)" stroke="url(#g954)" stroke-width="0.7"/>
<polygon points="1140.1,657.7 1165.1,668.2 1191.9,654.8 1167.1,648.6" fill="none" stroke="#6e6e6e" stroke-width="0.8" stroke-opacity="0.55"/>
<polygon points="1165.1,668.2 1190.8,679.6 1217.2,654.4" fill="url(#g955)" stroke="url(#g955)" stroke-width="0.7"/>
<path d="M1190.8 679.6L1190.8 679.6" fill="none" stroke="#444" stroke-width="1.1" stroke-opacity="0.5"/>
<polygon points="1165.1,668.2 1217.2,654.4 1191.9,654.8" fill="url(#g956)" stroke="url(#g956)" stroke-width="0.7"/>
<polygon points="1165.1,668.2 1190.8,679.6 1217.2,654.4 1191.9,654.8" fill="none" stroke="#6e6e6e" stroke-width="0.8" stroke-opacity="0.55"/>
<polygon points="1190.8,679.6 1217,684.3 1243.5,663.4" fill="url(#g957)" stroke="url(#g957)" stroke-width="0.7"/>
<path d="M1217.9 683.6L1190.9 679.6" fill="none" stroke="#444" stroke-width="1.1" stroke-opacity="0.5"/>
<polygon points="1190.8,679.6 1243.5,663.4 1217.2,654.4" fill="url(#g958)" stroke="url(#g958)" stroke-width="0.7"/>
<path d="M1190.9 679.6L1190.8 679.6" fill="none" stroke="#444" stroke-width="1.1" stroke-opacity="0.5"/>
<polygon points="1190.8,679.6 1217,684.3 1243.5,663.4 1217.2,654.4" fill="none" stroke="#6e6e6e" stroke-width="0.8" stroke-opacity="0.55"/>
<polygon points="1217,684.3 1244.6,704.6 1270.7,673.3" fill="url(#g959)" stroke="url(#g959)" stroke-width="0.7"/>
<path d="M1261.5 684.3L1220 683.7" fill="none" stroke="#444" stroke-width="1.1" stroke-opacity="0.5"/>
<polygon points="1217,684.3 1270.7,673.3 1243.5,663.4" fill="url(#g960)" stroke="url(#g960)" stroke-width="0.7"/>
<path d="M1220 683.7L1217.9 683.6" fill="none" stroke="#444" stroke-width="1.1" stroke-opacity="0.5"/>
<polygon points="1217,684.3 1244.6,704.6 1270.7,673.3 1243.5,663.4" fill="none" stroke="#6e6e6e" stroke-width="0.8" stroke-opacity="0.55"/>
<polygon points="1244.6,704.6 1273.1,733.6 1299.4,709.7" fill="url(#g961)" stroke="url(#g961)" stroke-width="0.7"/>
<path d="M1268.6 729L1278.8 728.4" fill="none" stroke="#444" stroke-width="1.1" stroke-opacity="0.5"/>
<polygon points="1244.6,704.6 1299.4,709.7 1270.7,673.3" fill="url(#g962)" stroke="url(#g962)" stroke-width="0.7"/>
<path d="M1278.7 683.4L1261.5 684.3" fill="none" stroke="#444" stroke-width="1.1" stroke-opacity="0.5"/>
<polygon points="1244.6,704.6 1273.1,733.6 1299.4,709.7 1270.7,673.3" fill="none" stroke="#6e6e6e" stroke-width="0.8" stroke-opacity="0.55"/>
<polygon points="1273.1,733.6 1302.6,771.2 1328.8,750.9" fill="url(#g963)" stroke="url(#g963)" stroke-width="0.7"/>
<polygon points="1273.1,733.6 1328.8,750.9 1299.4,709.7" fill="url(#g964)" stroke="url(#g964)" stroke-width="0.7"/>
<path d="M1310.3 725L1278.8 728.4" fill="none" stroke="#444" stroke-width="1.1" stroke-opacity="0.5"/>
<polygon points="1273.1,733.6 1302.6,771.2 1328.8,750.9 1299.4,709.7" fill="none" stroke="#6e6e6e" stroke-width="0.8" stroke-opacity="0.55"/>
<polygon points="1302.6,771.2 1332.9,819.1 1358.8,795.5" fill="url(#g965)" stroke="url(#g965)" stroke-width="0.7"/>
<path d="M1330.6 815.4L1338.3 814.1M1303.4 772.5L1305 772.3" fill="none" stroke="#444" stroke-width="1.1" stroke-opacity="0.5"/>
<polygon points="1302.6,771.2 1358.8,795.5 1328.8,750.9" fill="url(#g966)" stroke="url(#g966)" stroke-width="0.7"/>
<path d="M1305 772.3L1339.6 766.9" fill="none" stroke="#444" stroke-width="1.1" stroke-opacity="0.5"/>
<polygon points="1302.6,771.2 1332.9,819.1 1358.8,795.5 1328.8,750.9" fill="none" stroke="#6e6e6e" stroke-width="0.8" stroke-opacity="0.55"/>
<polygon points="1332.9,819.1 1363.9,866.9 1389.6,841.6" fill="url(#g967)" stroke="url(#g967)" stroke-width="0.7"/>
<path d="M1358.9 859.2L1374.4 856.5" fill="none" stroke="#444" stroke-width="1.1" stroke-opacity="0.5"/>
<polygon points="1332.9,819.1 1389.6,841.6 1358.8,795.5" fill="url(#g968)" stroke="url(#g968)" stroke-width="0.7"/>
<path d="M1368.1 809.4L1338.3 814.1" fill="none" stroke="#444" stroke-width="1.1" stroke-opacity="0.5"/>
<polygon points="1332.9,819.1 1363.9,866.9 1389.6,841.6 1358.8,795.5" fill="none" stroke="#6e6e6e" stroke-width="0.8" stroke-opacity="0.55"/>
<polygon points="1363.9,866.9 1395.5,918.1 1421,889.4" fill="url(#g969)" stroke="url(#g969)" stroke-width="0.7"/>
<path d="M1386.6 903.6L1412.5 899" fill="none" stroke="#444" stroke-width="1.1" stroke-opacity="0.5"/>
<polygon points="1363.9,866.9 1421,889.4 1389.6,841.6" fill="url(#g970)" stroke="url(#g970)" stroke-width="0.7"/>
<path d="M1396.8 852.7L1374.4 856.5" fill="none" stroke="#444" stroke-width="1.1" stroke-opacity="0.5"/>
<polygon points="1363.9,866.9 1395.5,918.1 1421,889.4 1389.6,841.6" fill="none" stroke="#6e6e6e" stroke-width="0.8" stroke-opacity="0.55"/>
<polygon points="1395.5,918.1 1427.8,965 1453,937.6" fill="url(#g971)" stroke="url(#g971)" stroke-width="0.7"/>
<path d="M1417.1 949.4L1447.7 943.4" fill="none" stroke="#444" stroke-width="1.1" stroke-opacity="0.5"/>
<polygon points="1395.5,918.1 1453,937.6 1421,889.4" fill="url(#g972)" stroke="url(#g972)" stroke-width="0.7"/>
<path d="M1425.8 896.7L1412.5 899" fill="none" stroke="#444" stroke-width="1.1" stroke-opacity="0.5"/>
<polygon points="1395.5,918.1 1427.8,965 1453,937.6 1421,889.4" fill="none" stroke="#6e6e6e" stroke-width="0.8" stroke-opacity="0.55"/>
<polygon points="1110.6,635.6 1137.3,680.8 1140.1,657.7" fill="url(#g973)" stroke="url(#g973)" stroke-width="0.7"/>
<path d="M1114.5 642.2L1117 640.4" fill="none" stroke="#444" stroke-width="1.1" stroke-opacity="0.5"/>
<polygon points="1137.3,680.8 1165.1,668.2 1140.1,657.7" fill="url(#g974)" stroke="url(#g974)" stroke-width="0.7"/>
<polygon points="1110.6,635.6 1137.3,680.8 1165.1,668.2 1140.1,657.7" fill="none" stroke="#6e6e6e" stroke-width="0.8" stroke-opacity="0.55"/>
<polygon points="1137.3,680.8 1163.9,711.5 1190.8,679.6" fill="url(#g975)" stroke="url(#g975)" stroke-width="0.7"/>
<path d="M1137.7 681.3L1188.8 679.7" fill="none" stroke="#444" stroke-width="1.1" stroke-opacity="0.5"/>
<polygon points="1137.3,680.8 1190.8,679.6 1165.1,668.2" fill="url(#g976)" stroke="url(#g976)" stroke-width="0.7"/>
<path d="M1188.8 679.7L1190.8 679.6" fill="none" stroke="#444" stroke-width="1.1" stroke-opacity="0.5"/>
<polygon points="1137.3,680.8 1163.9,711.5 1190.8,679.6 1165.1,668.2" fill="none" stroke="#6e6e6e" stroke-width="0.8" stroke-opacity="0.55"/>
<polygon points="1163.9,711.5 1189,689.6 1190.8,679.6" fill="url(#g977)" stroke="url(#g977)" stroke-width="0.7"/>
<path d="M1188.8 689.8L1190.7 680.3" fill="none" stroke="#444" stroke-width="1.1" stroke-opacity="0.5"/>
<polygon points="1189,689.6 1217,684.3 1190.8,679.6" fill="#ff0000" stroke="#ff0000" stroke-width="0.7"/>
<polygon points="1163.9,711.5 1189,689.6 1217,684.3 1190.8,679.6" fill="none" stroke="#6e6e6e" stroke-width="0.8" stroke-opacity="0.55"/>
<polygon points="1189,689.6 1217.3,727.4 1244.6,704.6" fill="url(#g978)" stroke="url(#g978)" stroke-width="0.7"/>
<path d="M1189.2 689.9L1189.7 689.8" fill="none" stroke="#444" stroke-width="1.1" stroke-opacity="0.5"/>
<polygon points="1189,689.6 1244.6,704.6 1217,684.3" fill="url(#g979)" stroke="url(#g979)" stroke-width="0.7"/>
<path d="M1189.7 689.8L1197.2 688" fill="none" stroke="#444" stroke-width="1.1" stroke-opacity="0.5"/>
<polygon points="1189,689.6 1217.3,727.4 1244.6,704.6 1217,684.3" fill="none" stroke="#6e6e6e" stroke-width="0.8" stroke-opacity="0.55"/>
<polygon points="1217.3,727.4 1245.7,748.7 1273.1,733.6" fill="url(#g980)" stroke="url(#g980)" stroke-width="0.7"/>
<path d="M1224.8 733L1246.7 730.6" fill="none" stroke="#444" stroke-width="1.1" stroke-opacity="0.5"/>
<polygon points="1217.3,727.4 1273.1,733.6 1244.6,704.6" fill="url(#g981)" stroke="url(#g981)" stroke-width="0.7"/>
<path d="M1246.7 730.6L1268.6 729" fill="none" stroke="#444" stroke-width="1.1" stroke-opacity="0.5"/>
<polygon points="1217.3,727.4 1245.7,748.7 1273.1,733.6 1244.6,704.6" fill="none" stroke="#6e6e6e" stroke-width="0.8" stroke-opacity="0.55"/>
<polygon points="1245.7,748.7 1275.1,781.4 1302.6,771.2" fill="url(#g982)" stroke="url(#g982)" stroke-width="0.7"/>
<path d="M1273.9 780L1288.6 776.4" fill="none" stroke="#444" stroke-width="1.1" stroke-opacity="0.5"/>
<polygon points="1245.7,748.7 1302.6,771.2 1273.1,733.6" fill="url(#g983)" stroke="url(#g983)" stroke-width="0.7"/>
<polygon points="1245.7,748.7 1275.1,781.4 1302.6,771.2 1273.1,733.6" fill="none" stroke="#6e6e6e" stroke-width="0.8" stroke-opacity="0.55"/>
<polygon points="1275.1,781.4 1306.1,842.6 1332.9,819.1" fill="url(#g984)" stroke="url(#g984)" stroke-width="0.7"/>
<path d="M1295.9 822.6L1328.2 816" fill="none" stroke="#444" stroke-width="1.1" stroke-opacity="0.5"/>
<polygon points="1275.1,781.4 1332.9,819.1 1302.6,771.2" fill="url(#g985)" stroke="url(#g985)" stroke-width="0.7"/>
<path d="M1328.2 816L1330.6 815.4M1303.4 772.5L1288.6 776.4" fill="none" stroke="#444" stroke-width="1.1" stroke-opacity="0.5"/>
<polygon points="1275.1,781.4 1306.1,842.6 1332.9,819.1 1302.6,771.2" fill="none" stroke="#6e6e6e" stroke-width="0.8" stroke-opacity="0.55"/>
<polygon points="1306.1,842.6 1337.2,889 1363.9,866.9" fill="url(#g986)" stroke="url(#g986)" stroke-width="0.7"/>
<path d="M1322.1 866.5L1349.4 860.9" fill="none" stroke="#444" stroke-width="1.1" stroke-opacity="0.5"/>
<polygon points="1306.1,842.6 1363.9,866.9 1332.9,819.1" fill="url(#g987)" stroke="url(#g987)" stroke-width="0.7"/>
<path d="M1349.4 860.9L1358.9 859.2" fill="none" stroke="#444" stroke-width="1.1" stroke-opacity="0.5"/>
<polygon points="1306.1,842.6 1337.2,889 1363.9,866.9 1332.9,819.1" fill="none" stroke="#6e6e6e" stroke-width="0.8" stroke-opacity="0.55"/>
<polygon points="1337.2,889 1369.3,951 1395.5,918.1" fill="url(#g988)" stroke="url(#g988)" stroke-width="0.7"/>
<path d="M1348.8 911.2L1372.7 906.7" fill="none" stroke="#444" stroke-width="1.1" stroke-opacity="0.5"/>
<polygon points="1337.2,889 1395.5,918.1 1363.9,866.9" fill="url(#g989)" stroke="url(#g989)" stroke-width="0.7"/>
<path d="M1372.7 906.7L1386.6 903.6" fill="none" stroke="#444" stroke-width="1.1" stroke-opacity="0.5"/>
<polygon points="1337.2,889 1369.3,951 1395.5,918.1 1363.9,866.9" fill="none" stroke="#6e6e6e" stroke-width="0.8" stroke-opacity="0.55"/>
<polygon points="1369.3,951 1402.4,1037.9 1427.8,965" fill="url(#g990)" stroke="url(#g990)" stroke-width="0.7"/>
<path d="M1387.2 998L1417.2 995.3M1371 955.2L1382.7 954.2" fill="none" stroke="#444" stroke-width="1.1" stroke-opacity="0.5"/>
<polygon points="1369.3,951 1427.8,965 1395.5,918.1" fill="url(#g991)" stroke="url(#g991)" stroke-width="0.7"/>
<path d="M1382.7 954.2L1417.1 949.4" fill="none" stroke="#444" stroke-width="1.1" stroke-opacity="0.5"/>
<polygon points="1369.3,951 1402.4,1037.9 1427.8,965 1395.5,918.1" fill="none" stroke="#6e6e6e" stroke-width="0.8" stroke-opacity="0.55"/>
</g>
<line x1="1127.2" y1="961.8" x2="1108.4" y2="593.4" stroke="#111" stroke-width="1.8"/>
<line x1="1127.2" y1="961.8" x2="1402.6" y2="1055" stroke="#111" stroke-width="1.8"/>
<line x1="1402.6" y1="1055" x2="1624.4" y2="940.9" stroke="#111" stroke-width="1.8"/>
<line x1="1110.1" y1="625.8" x2="1105.1" y2="626.8" stroke="#111" stroke-width="1.6"/>
<text transform="translate(1101.1 636) rotate(-15) scale(0.59 1)" font-family="'Liberation Serif', serif" font-size="29" font-weight="bold" font-style="italic" text-anchor="end" fill="#000">−50</text>
<line x1="1113.9" y1="701.9" x2="1108.9" y2="702.9" stroke="#111" stroke-width="1.6"/>
<text transform="translate(1104.9 712) rotate(-15) scale(0.59 1)" font-family="'Liberation Serif', serif" font-size="29" font-weight="bold" font-style="italic" text-anchor="end" fill="#000">−100</text>
<line x1="1117.8" y1="776.3" x2="1112.8" y2="777.3" stroke="#111" stroke-width="1.6"/>
<text transform="translate(1108.8 786.5) rotate(-15) scale(0.59 1)" font-family="'Liberation Serif', serif" font-size="29" font-weight="bold" font-style="italic" text-anchor="end" fill="#000">−150</text>
<line x1="1121.5" y1="849.4" x2="1116.5" y2="850.4" stroke="#111" stroke-width="1.6"/>
<text transform="translate(1112.5 859.5) rotate(-15) scale(0.59 1)" font-family="'Liberation Serif', serif" font-size="29" font-weight="bold" font-style="italic" text-anchor="end" fill="#000">−200</text>
<line x1="1125.2" y1="920.9" x2="1120.2" y2="921.9" stroke="#111" stroke-width="1.6"/>
<text transform="translate(1116.2 931.1) rotate(-15) scale(0.59 1)" font-family="'Liberation Serif', serif" font-size="29" font-weight="bold" font-style="italic" text-anchor="end" fill="#000">−250</text>
<line x1="1175.8" y1="978.2" x2="1180.5" y2="976.4" stroke="#111" stroke-width="1.6"/>
<line x1="1453.5" y1="1028.8" x2="1448.8" y2="1027.3" stroke="#111" stroke-width="1.6"/>
<line x1="1227.3" y1="995.7" x2="1231.9" y2="993.8" stroke="#111" stroke-width="1.6"/>
<line x1="1500.8" y1="1004.5" x2="1496.1" y2="1003.1" stroke="#111" stroke-width="1.6"/>
<line x1="1282.1" y1="1014.2" x2="1286.6" y2="1012.2" stroke="#111" stroke-width="1.6"/>
<line x1="1544.9" y1="981.8" x2="1540.1" y2="980.5" stroke="#111" stroke-width="1.6"/>
<line x1="1340.4" y1="1034" x2="1344.9" y2="1031.8" stroke="#111" stroke-width="1.6"/>
<line x1="1586" y1="960.7" x2="1581.2" y2="959.4" stroke="#111" stroke-width="1.6"/>
<line x1="1402.6" y1="1055" x2="1407.6" y2="1056" stroke="#111" stroke-width="1.6"/>
<text transform="translate(1126.5 631.4) scale(0.84 1)" font-family="'Liberation Serif', serif" font-size="52.8" font-weight="bold" font-style="normal" text-anchor="start" fill="#000">e</text>
<text transform="translate(1045 801) rotate(90) scale(1.12 1)" font-family="'Liberation Serif', serif" font-size="20" font-weight="bold" font-style="normal" text-anchor="middle" fill="#000" letter-spacing="1.2">Voltage (mV)</text>
<text transform="translate(1224.9 1027.3) rotate(18.7) skewX(-20) scale(1.09 1)" font-family="'Liberation Serif', serif" font-size="18" font-weight="bold" font-style="italic" text-anchor="middle" fill="#000">Distance (mm)</text>
<text transform="translate(1214.3 1003.7) rotate(63.7)" font-family="'Liberation Serif', serif" font-size="17" font-weight="bold" font-style="italic" text-anchor="middle" fill="#000">2</text>
<text transform="translate(1327.4 1042) rotate(63.7)" font-family="'Liberation Serif', serif" font-size="17" font-weight="bold" font-style="italic" text-anchor="middle" fill="#000">4</text>
<text transform="translate(1557.1 1010.8) rotate(-27.2) skewX(15) scale(1.12 1)" font-family="'Liberation Serif', serif" font-size="15.5" font-weight="bold" font-style="normal" text-anchor="middle" fill="#000">Distance (mm)</text>
<text transform="translate(1509.4 1010.4) rotate(72.8)" font-family="'Liberation Serif', serif" font-size="13" font-weight="bold" font-style="normal" text-anchor="middle" fill="#000">2</text>
<text transform="translate(1594.6 966.6) rotate(72.8)" font-family="'Liberation Serif', serif" font-size="13" font-weight="bold" font-style="normal" text-anchor="middle" fill="#000">4</text>
<text transform="translate(1417.6 1066) rotate(-28) skewX(-10)" font-family="'Liberation Serif', serif" font-size="17" font-weight="bold" font-style="italic" text-anchor="middle" fill="#000">0</text>
<text transform="translate(1113.2 967.8) rotate(40)" font-family="'Liberation Serif', serif" font-size="13" font-weight="bold" font-style="italic" text-anchor="middle" fill="#000">0</text>
<rect x="1634" y="570.5" width="32.3" height="4" fill="#fff" stroke="#666" stroke-width="1"/>
<rect x="1634" y="914.7" width="32.3" height="3.6" fill="#000"/>
<rect x="1634" y="574.5" width="32.3" height="340.2" fill="url(#cbe)" stroke="#333" stroke-width="1"/>
<line x1="1666.3" y1="574.5" x2="1672.3" y2="574.5" stroke="#222" stroke-width="1.4"/>
<text transform="translate(1683.7 584.3)" font-family="'Liberation Serif', serif" font-size="28" font-weight="bold" font-style="normal" text-anchor="start" fill="#000">−37.00</text>
<line x1="1666.3" y1="608.5" x2="1672.3" y2="608.5" stroke="#222" stroke-width="1.4"/>
<text transform="translate(1683.7 618.3)" font-family="'Liberation Serif', serif" font-size="28" font-weight="bold" font-style="normal" text-anchor="start" fill="#000">−60.30</text>
<line x1="1666.3" y1="642.5" x2="1672.3" y2="642.5" stroke="#222" stroke-width="1.4"/>
<text transform="translate(1683.7 652.3)" font-family="'Liberation Serif', serif" font-size="28" font-weight="bold" font-style="normal" text-anchor="start" fill="#000">−83.60</text>
<line x1="1666.3" y1="676.6" x2="1672.3" y2="676.6" stroke="#222" stroke-width="1.4"/>
<text transform="translate(1683.7 686.4)" font-family="'Liberation Serif', serif" font-size="28" font-weight="bold" font-style="normal" text-anchor="start" fill="#000">−106.9</text>
<line x1="1666.3" y1="710.6" x2="1672.3" y2="710.6" stroke="#222" stroke-width="1.4"/>
<text transform="translate(1683.7 720.4)" font-family="'Liberation Serif', serif" font-size="28" font-weight="bold" font-style="normal" text-anchor="start" fill="#000">−130.2</text>
<line x1="1666.3" y1="744.6" x2="1672.3" y2="744.6" stroke="#222" stroke-width="1.4"/>
<text transform="translate(1683.7 754.4)" font-family="'Liberation Serif', serif" font-size="28" font-weight="bold" font-style="normal" text-anchor="start" fill="#000">−153.5</text>
<line x1="1666.3" y1="778.6" x2="1672.3" y2="778.6" stroke="#222" stroke-width="1.4"/>
<text transform="translate(1683.7 788.4)" font-family="'Liberation Serif', serif" font-size="28" font-weight="bold" font-style="normal" text-anchor="start" fill="#000">−176.8</text>
<line x1="1666.3" y1="812.6" x2="1672.3" y2="812.6" stroke="#222" stroke-width="1.4"/>
<text transform="translate(1683.7 822.4)" font-family="'Liberation Serif', serif" font-size="28" font-weight="bold" font-style="normal" text-anchor="start" fill="#000">−200.1</text>
<line x1="1666.3" y1="846.7" x2="1672.3" y2="846.7" stroke="#222" stroke-width="1.4"/>
<text transform="translate(1683.7 856.5)" font-family="'Liberation Serif', serif" font-size="28" font-weight="bold" font-style="normal" text-anchor="start" fill="#000">−223.4</text>
<line x1="1666.3" y1="880.7" x2="1672.3" y2="880.7" stroke="#222" stroke-width="1.4"/>
<text transform="translate(1683.7 890.5)" font-family="'Liberation Serif', serif" font-size="28" font-weight="bold" font-style="normal" text-anchor="start" fill="#000">−246.7</text>
<line x1="1666.3" y1="914.7" x2="1672.3" y2="914.7" stroke="#222" stroke-width="1.4"/>
<text transform="translate(1683.7 924.5)" font-family="'Liberation Serif', serif" font-size="28" font-weight="bold" font-style="normal" text-anchor="start" fill="#000">−270.0</text>
</g>
</svg></body></html>
